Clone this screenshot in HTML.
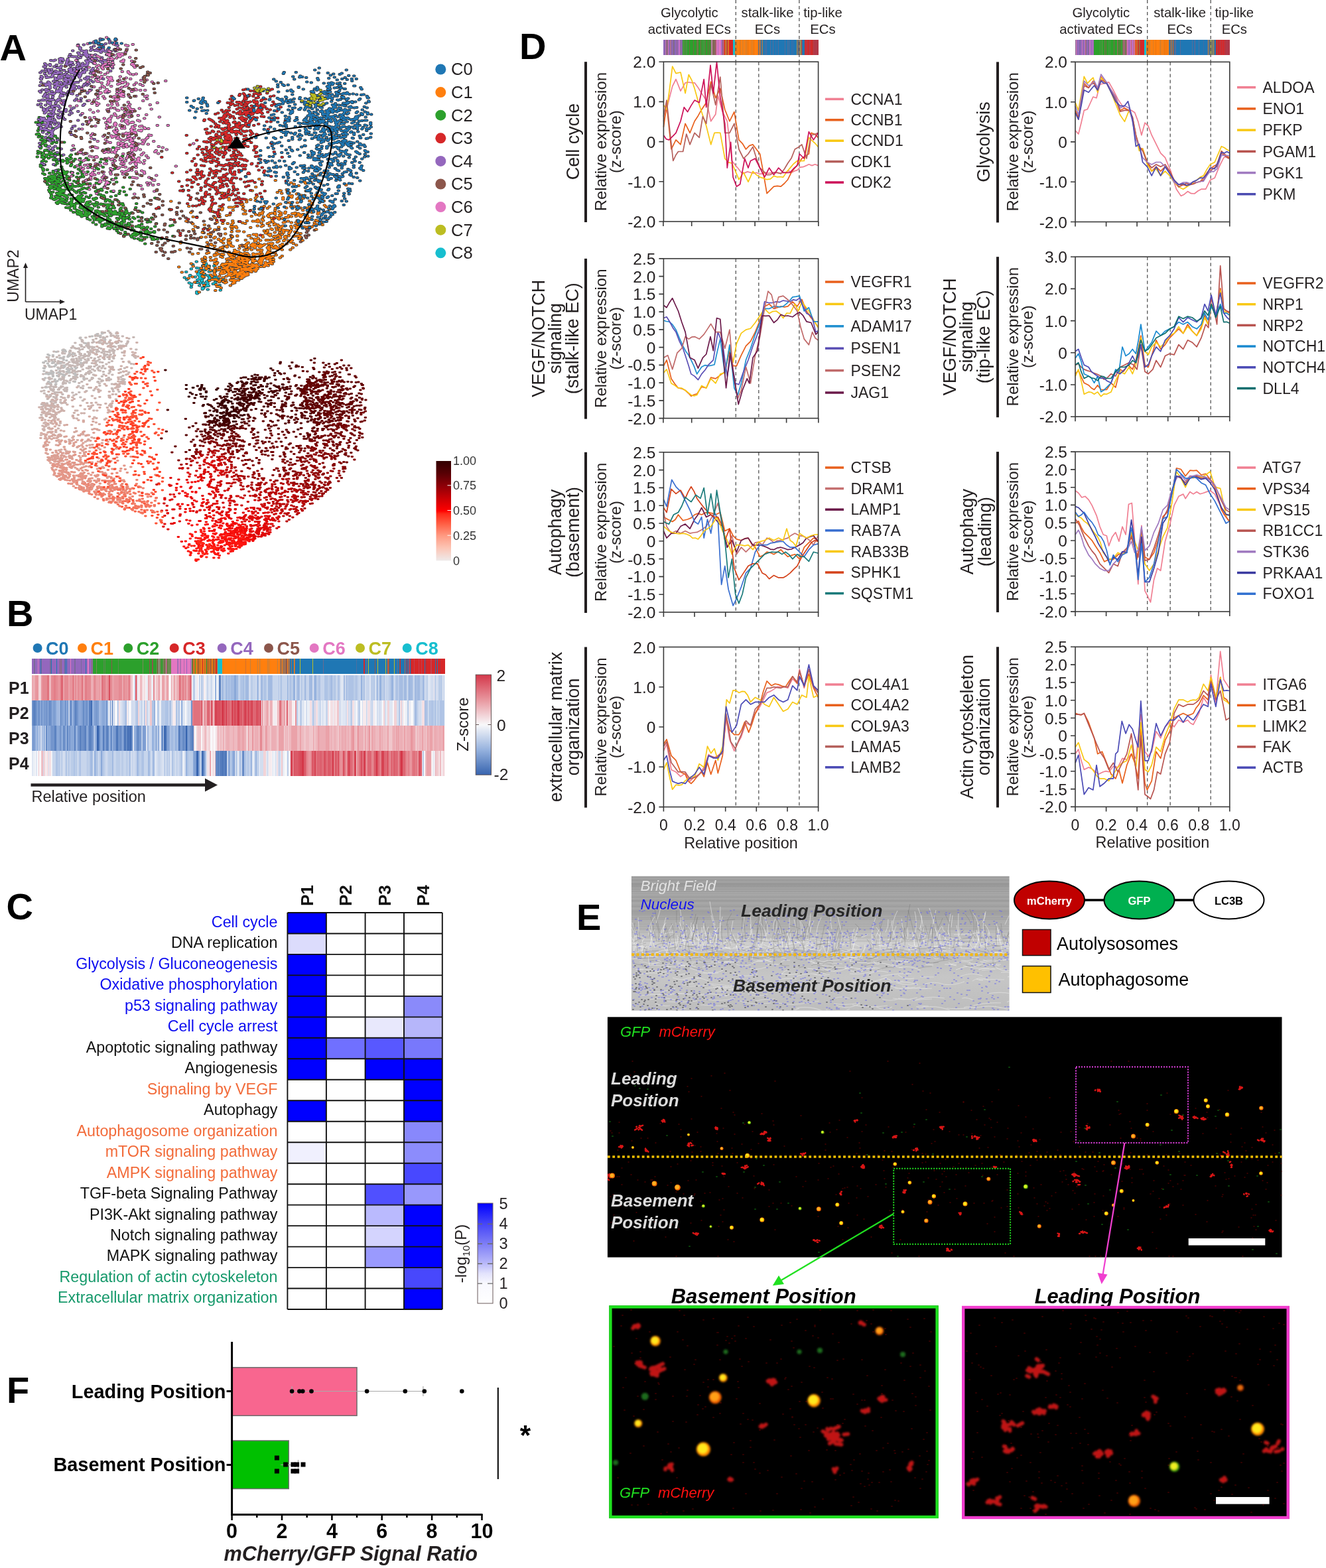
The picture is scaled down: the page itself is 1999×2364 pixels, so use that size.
<!DOCTYPE html>
<html><head><meta charset="utf-8"><title>Figure</title>
<style>html,body{margin:0;padding:0;background:#fff;}svg{display:block;}</style></head>
<body><svg width="1999" height="2364" viewBox="0 0 1999 2364" font-family="'Liberation Sans', Arial, Helvetica, sans-serif" fill="#231f20">
<text x="-0.5" y="90.7" font-size="56" font-weight="bold" fill="#000">A</text>
<defs><path id="q2" d="M342 499h3M224 622h3M512 681h3M368 471h3M188 600h3M353 674h3M188 574h3M466 597h3M280 657h3M379 588h3M262 659h3M244 641h3M157 545h3M174 585h3M244 649h3M240 648h3M178 562h3M222 598h3M245 648h3M485 720h3M260 613h3M183 532h3M138 467h3M277 629h3M404 659h3M351 658h3M151 568h3M267 633h3M201 518h3M397 687h3M261 652h3M243 489h3M159 600h3M152 562h3M303 646h3M243 561h3M179 563h3M389 677h3M115 413h3M313 564h3M321 677h3M322 640h3M438 704h3M130 391h3M345 642h3M201 492h3M201 595h3M317 607h3M207 573h3M111 473h3M348 641h3M279 671h3M351 603h3M241 582h3M125 370h3M288 677h3M181 550h3M381 656h3M374 650h3M180 604h3M358 584h3M171 417h3M192 573h3M452 669h3M216 556h3M259 555h3M169 430h3M146 399h3M284 647h3M287 654h3M157 552h3M358 681h3M431 685h3M184 536h3M340 578h3M162 542h3M212 617h3M188 599h3M380 636h3M156 546h3M426 725h3M220 640h3M138 550h3M289 552h3M322 617h3M177 581h3M455 715h3M142 556h3M259 631h3M323 660h3M351 696h3M396 715h3M385 680h3M209 569h3M408 626h3M233 646h3M267 617h3M171 549h3M300 670h3M221 616h3M404 719h3M212 588h3M389 645h3M249 556h3M201 532h3M463 722h3M201 531h3M220 562h3M185 586h3M174 550h3M417 680h3M338 609h3M201 559h3M179 610h3M185 610h3M261 569h3M242 619h3M224 617h3M229 581h3M156 544h3M178 584h3M174 608h3M308 591h3M367 645h3M159 453h3M127 508h3M165 467h3M325 555h3M291 655h3M259 593h3M386 673h3M270 555h3M373 578h3M333 593h3M196 562h3M238 556h3M200 536h3M150 560h3M155 433h3M364 690h3M470 674h3M387 653h3M389 661h3M181 577h3M200 485h3M228 464h3M329 550h3M287 642h3M140 452h3M164 542h3M260 543h3M236 591h3M192 545h3M263 616h3M270 663h3M197 591h3M264 620h3M362 653h3M241 602h3M328 617h3M315 680h3M192 590h3M133 423h3M441 688h3M250 600h3M135 428h3M169 487h3M213 467h3M249 608h3M201 616h3M162 560h3M155 419h3M446 662h3M203 489h3M235 575h3M212 634h3M263 620h3M420 637h3M357 676h3M254 650h3M320 580h3M198 626h3M257 618h3M433 716h3M381 641h3M144 423h3M141 512h3M190 576h3M437 701h3M113 463h3M166 592h3M330 607h3M116 387h3M396 641h3M214 496h3M318 605h3M168 461h3M335 675h3M166 600h3M188 558h3M323 602h3M271 627h3M343 689h3M263 518h3M234 594h3M332 630h3M122 435h3M144 455h3M304 570h3M235 510h3M203 564h3M348 590h3M273 629h3M133 526h3M234 561h3M201 551h3M306 678h3M165 410h3M396 669h3M373 669h3M256 647h3M236 598h3M189 545h3M160 533h3M395 694h3M151 367h3M240 597h3M370 663h3M214 614h3M237 636h3M232 612h3M306 574h3M332 519h3M328 676h3M327 646h3M148 578h3M159 516h3M122 422h3M443 670h3M233 523h3M365 686h3M244 648h3M150 543h3M270 554h3M418 666h3M423 699h3M269 640h3M184 503h3M176 573h3M259 627h3M320 450h3M299 660h3M297 554h3M391 570h3M339 674h3M197 557h3M249 601h3M126 420h3M207 587h3M184 604h3M200 601h3M405 700h3M180 596h3M350 646h3M350 676h3M317 643h3M216 588h3M246 522h3M295 585h3M255 644h3M194 554h3M245 653h3M213 478h3M240 573h3M355 662h3M163 602h3M158 579h3M295 510h3M117 386h3M173 520h3M159 521h3M240 645h3M117 406h3M122 445h3M250 533h3M441 715h3M324 669h3M244 620h3M164 539h3M400 656h3M139 441h3M239 640h3M151 532h3M301 546h3M251 551h3M187 588h3M202 616h3M121 447h3M323 667h3M246 570h3M215 604h3M439 700h3M169 599h3M160 482h3M125 466h3M164 561h3M117 377h3M174 538h3M198 564h3M170 513h3M377 644h3M365 673h3M139 543h3M215 555h3M212 500h3M426 689h3M165 498h3M345 645h3M264 609h3M204 561h3M348 675h3M154 589h3M223 624h3M109 405h3M312 649h3M188 487h3M360 576h3M334 513h3M342 639h3M135 453h3M415 683h3M217 520h3M386 684h3M301 489h3M146 466h3M424 701h3M251 580h3M439 700h3M233 552h3M277 653h3M448 703h3M314 599h3M250 603h3M289 610h3M302 587h3M460 718h3M206 626h3M305 661h3M242 622h3M181 561h3M140 546h3M190 516h3M153 364h3M240 626h3M464 698h3M125 420h3M376 700h3M177 569h3M229 602h3M409 683h3M148 547h3M355 673h3M340 621h3M179 570h3M272 504h3M196 589h3M213 519h3M287 599h3M151 381h3M172 614h3M393 711h3M324 624h3M380 707h3M185 469h3M169 593h3M224 577h3M289 598h3M207 569h3M287 577h3M129 462h3M436 735h3M162 530h3M285 566h3M244 646h3M288 597h3M272 589h3M388 644h3M178 589h3M178 596h3M269 643h3M243 461h3M235 636h3M155 537h3M169 611h3M346 637h3M270 608h3M263 660h3M142 422h3M230 640h3M241 515h3M165 411h3M189 485h3M125 487h3M156 538h3M306 683h3M358 647h3M438 662h3M114 403h3M341 646h3M137 487h3M230 640h3M285 616h3M343 627h3M426 656h3M250 603h3M302 638h3M117 354h3M300 646h3M349 682h3M362 657h3M182 571h3M226 562h3M243 592h3M192 429h3M191 522h3M339 676h3M382 689h3M302 643h3M244 559h3M366 693h3M230 534h3M308 645h3M362 641h3M231 634h3M118 359h3M156 464h3M121 497h3M122 443h3M252 632h3M454 715h3M128 429h3M299 638h3M146 533h3M268 635h3M128 523h3M220 486h3M163 570h3M236 645h3M239 496h3M442 696h3M473 721h3M253 555h3M190 603h3M154 592h3M131 477h3M340 445h3M311 590h3M390 535h3M377 678h3M400 709h3M421 724h3M171 582h3M352 646h3M171 493h3M264 567h3M198 607h3M165 542h3M240 478h3M296 639h3M178 541h3M271 629h3M304 480h3M248 601h3M145 477h3M149 461h3M322 619h3M326 632h3M175 531h3M336 670h3M115 368h3M198 594h3M173 567h3M256 582h3M213 599h3M187 613h3M409 709h3M255 637h3M423 701h3M368 614h3M130 429h3M172 594h3M121 443h3M173 466h3M287 636h3M250 650h3M340 644h3M291 617h3M129 514h3M133 497h3M199 521h3M152 597h3M313 542h3M293 573h3M125 474h3M333 651h3M274 633h3M166 525h3M136 538h3M217 616h3M466 683h3M415 654h3M229 550h3M202 540h3M298 642h3M334 641h3M329 604h3M223 628h3M295 660h3M170 583h3M366 615h3M361 634h3M321 627h3M162 569h3M340 626h3M140 547h3M308 591h3M181 523h3M189 536h3M408 710h3M443 685h3M172 572h3M127 364h3M328 641h3M367 642h3M193 614h3M241 534h3M208 626h3M407 701h3M519 679h3M162 568h3M410 614h3M246 589h3M169 544h3M320 485h3M154 530h3M174 464h3M458 722h3M464 701h3M200 478h3M336 541h3M292 611h3M238 612h3M244 639h3M113 394h3M172 610h3M309 504h3M234 545h3M324 654h3M424 724h3M182 561h3M209 611h3M199 519h3M292 663h3M315 651h3M148 522h3M260 648h3M168 555h3M165 534h3M371 656h3M304 644h3M424 723h3M367 648h3M334 577h3M299 664h3M283 663h3M172 585h3M361 631h3M373 665h3M196 607h3M344 484h3M343 690h3M113 456h3M432 686h3M290 507h3M164 534h3M400 706h3M224 629h3M428 641h3M372 711h3M213 565h3M160 428h3M172 582h3M215 559h3M205 627h3M330 619h3M344 509h3M204 571h3M284 621h3M138 472h3M129 461h3M207 481h3M240 611h3M267 646h3M259 477h3M329 690h3M224 504h3M235 603h3M358 641h3M261 618h3M190 525h3M291 652h3M175 512h3M221 616h3M155 561h3M245 604h3M135 439h3M415 720h3M187 604h3M183 533h3M163 472h3M160 473h3M259 639h3M241 515h3M316 675h3M377 638h3M185 579h3M187 483h3M348 537h3M375 684h3M202 570h3M280 599h3M456 657h3M272 636h3M370 565h3M257 642h3M230 597h3M233 613h3M222 546h3M351 680h3M218 529h3M247 528h3M155 552h3M176 558h3M309 598h3M361 614h3M453 701h3M107 369h3M291 541h3M356 689h3M252 567h3M245 628h3M292 635h3M304 665h3M329 676h3M313 594h3M267 596h3M216 618h3M155 567h3M378 630h3M346 689h3M229 612h3M238 605h3M208 543h3M278 615h3M194 523h3M520 712h3M252 600h3M333 636h3M424 705h3M143 351h3M139 467h3M184 503h3M191 578h3M180 597h3M240 609h3M175 545h3M148 565h3M144 539h3M206 535h3M305 659h3M194 519h3M182 604h3M414 706h3M261 610h3M134 538h3M214 609h3M159 423h3M305 593h3M146 415h3M137 437h3M327 635h3M232 644h3M365 670h3M303 615h3M165 550h3M121 502h3M171 597h3M315 617h3M323 689h3M176 531h3M127 396h3M302 616h3M127 498h3M226 502h3M416 636h3M127 433h3M379 658h3M261 642h3M173 447h3M378 685h3M370 619h3M364 627h3M295 586h3M282 602h3M402 694h3M152 460h3M243 621h3M225 480h3M426 687h3M300 572h3M125 412h3M350 549h3M361 657h3M222 449h3M406 703h3M265 482h3M399 709h3M145 367h3M304 595h3M170 582h3M310 616h3M173 485h3M167 480h3M152 583h3M254 629h3M218 572h3M214 621h3M374 708h3M190 586h3M310 663h3M129 510h3M333 686h3M243 603h3M137 544h3M166 462h3M402 706h3M167 564h3M128 472h3M158 531h3M356 702h3M134 454h3M325 686h3M129 484h3M414 703h3M295 657h3M185 600h3M180 582h3M330 649h3M247 624h3M366 676h3M151 535h3M302 664h3M371 659h3M420 684h3M210 471h3M295 625h3M268 628h3M158 387h3M146 573h3M463 698h3M178 524h3M336 682h3M368 684h3M239 594h3M196 525h3M186 510h3M120 459h3M329 662h3M444 698h3M337 679h3M436 697h3M424 713h3M454 690h3M426 676h3M330 664h3M283 658h3M152 473h3"/><path id="q4" d="M172 204h3M121 389h3M147 324h3M333 155h3M234 159h3M156 320h3M272 152h3M192 310h3M239 143h3M173 352h3M259 159h3M138 383h3M270 166h3M329 123h3M279 247h3M291 182h3M238 165h3M232 206h3M166 214h3M239 205h3M310 238h3M221 221h3M208 346h3M139 292h3M118 275h3M147 441h3M209 208h3M236 261h3M171 384h3M245 167h3M165 367h3M160 496h3M188 289h3M268 184h3M285 129h3M120 365h3M166 368h3M203 279h3M136 271h3M210 229h3M307 199h3M137 215h3M306 181h3M248 191h3M213 267h3M172 249h3M245 274h3M229 171h3M158 423h3M309 193h3M208 240h3M136 258h3M160 183h3M166 311h3M255 157h3M159 301h3M169 304h3M244 221h3M152 182h3M340 195h3M201 287h3M205 241h3M153 371h3M130 253h3M234 248h3M190 467h3M215 267h3M353 137h3M181 338h3M210 164h3M214 406h3M187 260h3M323 153h3M199 247h3M169 196h3M126 271h3M174 319h3M162 201h3M216 170h3M192 212h3M362 164h3M140 404h3M230 225h3M203 178h3M116 304h3M172 221h3M172 239h3M186 233h3M224 249h3M323 279h3M224 380h3M236 265h3M142 233h3M134 192h3M167 310h3M141 328h3M128 361h3M294 274h3M262 304h3M192 316h3M172 422h3M113 316h3M120 219h3M174 219h3M122 384h3M241 226h3M162 367h3M136 209h3M254 237h3M210 215h3M153 402h3M170 251h3M219 381h3M211 187h3M165 470h3M174 277h3M164 320h3M184 234h3M195 223h3M273 143h3M277 222h3M306 174h3M155 413h3M226 171h3M327 160h3M260 197h3M272 242h3M143 299h3M287 180h3M261 171h3M182 210h3M201 195h3M181 180h3M151 395h3M199 263h3M150 383h3M124 362h3M150 356h3M214 257h3M247 217h3M147 364h3M245 196h3M140 377h3M184 263h3M225 269h3M317 132h3M151 335h3M154 209h3M262 281h3M144 442h3M243 265h3M164 375h3M241 145h3M270 271h3M220 171h3M301 117h3M165 441h3M199 193h3M150 411h3M317 182h3M171 204h3M242 305h3M310 148h3M131 201h3M166 240h3M160 335h3M130 328h3M158 291h3M181 247h3M183 251h3M190 226h3M198 198h3M178 178h3M238 221h3M123 230h3M139 276h3M234 136h3M194 360h3M142 290h3M165 235h3M145 209h3M197 243h3M128 301h3M184 280h3M176 258h3M157 405h3M150 309h3M130 291h3M277 211h3M139 390h3M142 233h3M207 239h3M182 286h3M183 268h3M248 199h3M177 377h3M169 319h3M140 392h3M259 250h3M183 219h3M213 217h3M293 153h3M150 218h3M160 245h3M181 236h3M212 191h3M142 308h3M280 129h3M126 361h3M148 250h3M175 371h3M226 214h3M234 191h3M151 220h3M289 237h3M235 211h3M155 364h3M234 135h3M213 207h3M171 222h3M143 374h3M135 202h3M176 356h3M129 376h3M152 302h3M179 189h3M231 288h3M219 269h3M210 246h3M150 378h3M163 220h3M186 178h3M155 402h3M162 343h3M133 341h3M225 227h3M307 188h3M188 344h3M220 238h3M143 253h3M148 257h3M184 261h3M302 144h3M211 397h3M175 299h3M236 190h3M192 250h3M146 362h3M183 382h3M207 210h3M225 259h3M176 481h3M167 261h3M282 139h3M196 236h3M266 232h3M125 302h3M185 349h3M155 276h3M176 205h3M332 166h3M183 199h3M219 195h3M124 358h3M158 446h3M178 378h3M183 449h3M273 213h3M138 365h3M270 167h3M253 219h3M184 262h3M240 148h3M224 303h3M128 399h3M248 375h3M156 348h3M251 135h3M332 214h3M259 239h3M228 248h3M308 150h3M231 200h3M174 273h3M191 257h3M158 347h3M243 297h3M215 453h3M149 194h3M214 220h3M235 220h3M279 206h3M150 383h3M255 163h3M271 181h3M348 136h3M279 262h3M286 165h3M158 225h3M145 360h3M147 221h3M217 283h3M252 162h3M224 214h3M146 214h3M151 300h3M254 196h3M142 256h3M236 196h3M187 314h3M138 253h3M182 275h3M197 243h3M175 381h3M217 233h3M175 321h3M180 247h3M253 314h3M171 460h3M208 252h3M231 184h3M167 386h3M236 228h3M236 159h3M121 237h3M179 300h3M211 199h3M138 196h3M310 182h3M132 387h3M155 396h3M147 451h3M212 213h3M132 331h3M187 177h3M206 275h3M219 237h3M208 208h3M157 300h3M136 414h3M180 354h3M150 198h3M122 355h3M210 336h3M189 182h3M250 259h3M213 212h3M305 203h3M165 181h3M123 322h3M211 212h3M320 165h3M176 217h3M141 381h3M163 281h3M135 392h3M242 242h3M241 174h3M197 196h3M179 267h3M150 311h3M174 301h3M167 514h3M115 360h3M216 245h3M241 228h3M143 363h3M123 239h3M144 370h3M207 241h3M125 492h3M176 230h3M172 217h3M200 218h3M245 153h3M156 325h3M131 496h3M157 339h3M133 222h3M133 287h3M324 149h3M217 257h3M237 389h3M201 183h3M224 211h3M258 154h3M309 153h3M185 353h3M214 329h3M166 265h3M181 270h3M281 191h3M215 341h3M197 333h3M122 248h3M179 259h3M150 315h3M219 251h3M218 153h3M258 206h3M187 305h3M217 231h3M212 272h3M163 263h3M197 330h3M282 214h3M225 221h3M254 214h3M170 257h3M261 187h3M189 304h3M141 255h3M138 377h3M260 211h3M242 347h3M159 391h3M267 252h3M118 442h3M153 409h3M334 199h3M301 185h3M162 319h3M275 186h3M261 257h3M143 293h3M138 301h3M300 154h3M155 215h3M246 273h3M217 217h3M138 269h3M175 334h3M127 390h3M208 192h3M141 333h3M149 262h3M306 152h3M216 188h3M264 236h3M337 182h3M170 273h3M144 311h3M253 254h3M174 204h3M113 376h3M150 312h3M185 338h3M234 336h3M180 291h3M190 280h3M234 363h3M159 392h3M273 271h3M237 164h3M238 233h3M179 326h3M223 236h3M157 283h3M329 129h3M130 333h3M310 136h3M159 284h3M122 389h3M146 356h3M131 361h3M276 149h3M126 233h3M163 361h3M263 191h3M203 182h3M229 298h3M207 170h3M142 329h3M287 176h3M165 222h3M272 242h3M261 194h3M223 213h3M180 220h3M137 228h3M118 375h3M199 230h3M149 359h3M126 214h3M165 368h3M119 258h3M169 276h3M213 282h3M224 269h3M199 196h3M166 387h3M281 175h3M145 233h3M153 232h3M215 388h3M132 375h3M130 302h3M325 195h3M162 254h3M249 318h3M157 229h3M140 366h3M338 205h3M182 176h3M205 232h3M192 241h3M156 399h3M178 228h3M210 217h3M265 177h3M157 293h3M200 240h3M173 304h3M232 191h3M205 230h3M139 234h3M185 189h3M166 252h3M135 283h3M271 172h3M258 198h3M285 152h3M200 188h3M296 134h3M316 155h3M120 219h3M136 317h3M175 234h3M197 336h3M223 236h3M179 185h3M271 221h3M187 288h3M148 344h3M173 345h3M266 184h3M171 247h3M134 365h3M219 262h3M149 283h3M305 138h3M149 266h3M152 396h3M193 282h3M145 394h3M222 235h3M196 253h3M201 254h3M131 356h3M157 451h3M171 256h3M136 256h3M181 274h3M184 229h3M137 336h3M135 362h3M306 119h3M181 204h3M152 382h3M211 248h3M151 310h3M261 164h3M189 355h3M283 420h3M146 344h3M259 153h3M233 176h3M158 354h3M149 425h3M134 340h3M150 253h3M262 167h3M242 203h3M221 325h3M154 282h3M291 149h3M144 420h3M121 278h3M147 283h3M221 263h3M261 232h3M343 150h3M142 307h3M303 158h3M248 209h3M262 190h3M346 154h3M145 273h3M222 206h3M202 227h3M118 432h3M122 313h3M131 329h3M151 348h3M263 279h3M257 167h3M142 288h3M250 154h3M163 328h3M180 236h3M192 303h3M118 378h3M161 331h3M144 247h3M281 190h3M258 183h3"/><path id="q6" d="M272 444h3M352 301h3M451 552h3M231 500h3M392 238h3M361 377h3M301 279h3M377 504h3M347 410h3M334 325h3M216 521h3M460 543h3M402 478h3M335 309h3M358 419h3M417 476h3M335 383h3M326 477h3M396 450h3M294 297h3M338 188h3M356 448h3M350 302h3M454 408h3M409 250h3M349 388h3M268 365h3M351 152h3M298 550h3M288 240h3M319 201h3M269 274h3M442 551h3M440 346h3M328 276h3M462 426h3M236 304h3M464 543h3M336 165h3M429 258h3M289 283h3M411 537h3M346 292h3M345 485h3M325 200h3M315 194h3M399 401h3M394 468h3M396 513h3M319 494h3M283 301h3M388 290h3M370 464h3M385 473h3M278 403h3M367 488h3M257 544h3M359 252h3M346 371h3M346 400h3M351 283h3M366 162h3M210 320h3M334 482h3M381 443h3M304 232h3M404 536h3M381 370h3M385 216h3M317 557h3M396 393h3M426 380h3M329 241h3M293 232h3M349 454h3M300 282h3M360 267h3M351 446h3M414 363h3M294 335h3M382 420h3M329 358h3M436 388h3M380 477h3M395 469h3M329 163h3M323 255h3M342 166h3M311 519h3M361 168h3M582 433h3M264 506h3M305 250h3M501 451h3M469 454h3M358 162h3M259 526h3M396 276h3M384 470h3M245 268h3M365 290h3M386 403h3M334 236h3M321 270h3M358 505h3M325 185h3M376 247h3M242 456h3M322 331h3M406 398h3M250 485h3M464 577h3M287 494h3M409 223h3M312 530h3M354 254h3M399 134h3M305 230h3M360 284h3M398 423h3M351 311h3M466 458h3M398 382h3M366 274h3M389 509h3M331 430h3M379 401h3M312 530h3M473 378h3M256 482h3M290 201h3M373 519h3M397 488h3M407 493h3M326 250h3M418 488h3M389 409h3M409 497h3M476 556h3M296 129h3M473 310h3M385 308h3M242 503h3M272 535h3M432 493h3M356 333h3M310 452h3M340 498h3M295 146h3M327 154h3M340 195h3M394 370h3M339 492h3M384 412h3M377 367h3M359 241h3M404 585h3M333 233h3M347 300h3M331 519h3M337 243h3M346 461h3M394 330h3M298 172h3M431 234h3M289 472h3M296 313h3M263 497h3M327 236h3M307 259h3M284 443h3M267 203h3M415 484h3M280 221h3M302 549h3M358 168h3M389 460h3M317 421h3M366 284h3M436 422h3M422 272h3M427 433h3M399 398h3M322 163h3M334 260h3M371 291h3M336 201h3M426 466h3M230 215h3M413 487h3M376 260h3M477 442h3M350 175h3M397 453h3M307 203h3M398 535h3M333 525h3M397 403h3M393 417h3M431 461h3M299 146h3M310 521h3M282 219h3M448 535h3M346 374h3M310 291h3M434 385h3M277 473h3M375 349h3M441 417h3M389 324h3M366 387h3M405 452h3M415 348h3M361 231h3M416 480h3M354 145h3M342 395h3M362 275h3M378 438h3M430 434h3M380 435h3M221 451h3M306 202h3M424 395h3M351 417h3M337 414h3M251 465h3M283 354h3M384 138h3M292 169h3M301 499h3M326 337h3M284 228h3M394 468h3M326 459h3M394 390h3M434 484h3M254 498h3M364 494h3M380 363h3M377 485h3M314 565h3M455 329h3M389 418h3M353 317h3M322 428h3M379 235h3M328 359h3M371 284h3M361 482h3M421 489h3M410 487h3M446 388h3M357 289h3M370 432h3M277 521h3M247 342h3M314 297h3M287 496h3M277 506h3M348 374h3M367 326h3M425 392h3M334 482h3M430 304h3M364 422h3M263 247h3M367 248h3M403 415h3M397 430h3M403 256h3M341 133h3M381 258h3M399 463h3M404 388h3M408 496h3M406 378h3M246 511h3M391 223h3M355 413h3M316 275h3M317 192h3M325 552h3M405 268h3M379 516h3M441 241h3M489 445h3M394 270h3M366 365h3M460 558h3M330 368h3M270 538h3M445 476h3M250 508h3M408 446h3M361 379h3M442 298h3M340 542h3M408 453h3M276 177h3M396 442h3M309 208h3M371 163h3M440 470h3M334 237h3M396 395h3M334 482h3M339 293h3M323 381h3M426 515h3M313 263h3M356 299h3M433 428h3M384 253h3M288 445h3M285 192h3M385 320h3M328 192h3M336 243h3M293 209h3M344 375h3M260 463h3M291 245h3M391 492h3M304 179h3M421 254h3M350 402h3M409 518h3M384 374h3M210 556h3M363 431h3M346 128h3M269 355h3M321 378h3M269 471h3M331 451h3M320 535h3M339 178h3M396 455h3M282 126h3M282 262h3M296 522h3M325 330h3M288 472h3M316 478h3M280 339h3M305 203h3M316 278h3M386 219h3M479 353h3M366 517h3M445 558h3M434 523h3M382 442h3M400 474h3M354 163h3M396 404h3M374 387h3M424 242h3M324 363h3M366 437h3M401 198h3M344 326h3M396 194h3M318 370h3M342 411h3M284 527h3M323 219h3M390 353h3M390 328h3M417 393h3M320 552h3M278 522h3M404 430h3M398 336h3M434 357h3M287 475h3M352 332h3M291 318h3M371 444h3M411 445h3M363 440h3M383 345h3M236 459h3M283 189h3M295 246h3M323 233h3M313 543h3M386 514h3M320 113h3M272 526h3M451 316h3M436 272h3M352 394h3M310 411h3M529 501h3M334 409h3M333 180h3M347 348h3M375 423h3M230 319h3M420 381h3M301 237h3M301 545h3M360 171h3M367 216h3M457 247h3M355 431h3M348 451h3M303 280h3M386 337h3M425 467h3M346 398h3M401 273h3M293 289h3M283 514h3M296 197h3M405 203h3M291 474h3M330 364h3M343 291h3M398 432h3M373 381h3M273 408h3M476 463h3M394 441h3M388 343h3M377 157h3M355 436h3M318 457h3M383 364h3M408 403h3M320 387h3M442 289h3M334 235h3M272 541h3M336 459h3M324 450h3M381 148h3M332 356h3M375 338h3M414 479h3M286 380h3M276 167h3M309 197h3M263 132h3M421 528h3M183 310h3M416 434h3M325 246h3M366 263h3M276 312h3M238 482h3M315 224h3M292 446h3M355 169h3M445 435h3M372 494h3M352 469h3M421 451h3M246 389h3M410 271h3M314 493h3M409 438h3M302 219h3M428 423h3M395 351h3M369 348h3M352 275h3M505 378h3M400 225h3M419 365h3M395 400h3M363 286h3M427 570h3M344 343h3M337 512h3M354 508h3M408 493h3M301 266h3M362 475h3M398 386h3M233 138h3M321 548h3M388 353h3M370 186h3M395 438h3M390 315h3M444 414h3M253 464h3M214 531h3M277 232h3M409 450h3M368 250h3M307 535h3M313 357h3M436 291h3M401 330h3M228 182h3M396 184h3M419 327h3M289 309h3M328 168h3M346 148h3M268 571h3M392 441h3M367 479h3M270 331h3M399 441h3M332 238h3M327 359h3M378 136h3M334 174h3M371 181h3M423 560h3M498 244h3M390 173h3M369 360h3M368 166h3M448 407h3M464 544h3M341 576h3M219 439h3M369 404h3M391 426h3M369 525h3M377 404h3M361 351h3M369 502h3M274 417h3M470 529h3M380 527h3M292 495h3M331 156h3M397 398h3M313 460h3M290 311h3M408 290h3M269 560h3M409 505h3M349 298h3M242 460h3M325 334h3M364 379h3M404 197h3M398 368h3M400 369h3M293 426h3M276 528h3M394 342h3M364 185h3M349 120h3M344 457h3M367 281h3M283 559h3M335 350h3M401 487h3M262 542h3M368 329h3M332 508h3M433 518h3M390 401h3M266 370h3M290 584h3M336 315h3M251 519h3M324 317h3M354 355h3M284 227h3M267 303h3M346 379h3M320 274h3M338 479h3M399 192h3M325 178h3M395 422h3"/><path id="q5" d="M469 760h3M287 214h3M317 536h3M560 711h3M467 653h3M285 226h3M429 284h3M482 749h3M285 183h3M444 217h3M578 637h3M245 276h3M397 681h3M376 327h3M641 699h3M385 706h3M480 586h3M282 483h3M586 705h3M488 648h3M243 453h3M603 641h3M405 595h3M425 658h3M923 701h3M266 541h3M403 467h3M277 442h3M505 725h3M477 693h3M228 412h3M524 713h3M357 618h3M568 698h3M399 643h3M214 489h3M652 693h3M417 417h3M356 618h3M285 501h3M409 151h3M434 248h3M453 616h3M432 587h3M664 706h3M292 273h3M658 692h3M496 675h3M357 405h3M325 449h3M432 693h3M443 613h3M435 230h3M451 220h3M291 654h3M478 628h3M591 599h3M905 729h3M475 730h3M376 163h3M574 718h3M347 150h3M296 576h3M628 681h3M332 291h3M244 418h3M526 670h3M285 538h3M613 702h3M346 602h3M643 652h3M648 674h3M595 686h3M454 604h3M342 555h3M396 557h3M234 552h3M128 257h3M280 307h3M695 710h3M324 335h3M595 719h3M392 294h3M501 716h3M521 742h3M551 651h3M337 164h3M395 508h3M307 518h3M351 469h3M275 381h3M415 597h3M459 661h3M648 732h3M929 709h3M355 292h3M385 686h3M382 525h3M633 714h3M235 539h3M465 280h3M604 716h3M907 717h3M273 362h3M565 669h3M491 770h3M633 660h3M342 497h3M452 506h3M563 748h3M433 235h3M372 346h3M415 558h3M431 622h3M369 354h3M472 572h3M506 780h3M510 631h3M323 568h3M361 149h3M574 750h3M576 671h3M574 710h3M370 195h3M434 721h3M455 538h3M367 379h3M381 526h3M433 239h3M433 593h3M489 619h3M396 481h3M493 693h3M485 749h3M246 451h3M947 694h3M284 406h3M348 502h3M559 657h3M637 662h3M227 395h3M489 739h3M412 198h3M731 743h3M489 607h3M342 305h3M456 734h3M610 699h3M475 250h3M406 632h3M602 751h3M487 757h3M452 604h3M429 201h3M520 760h3M295 217h3M411 437h3M134 547h3M405 335h3M442 661h3M371 276h3M422 204h3M400 548h3M400 597h3M370 352h3M426 667h3M390 473h3M379 331h3M544 729h3M503 700h3M373 685h3M374 535h3M308 455h3M728 739h3M259 366h3M616 688h3M262 375h3M292 497h3M445 227h3M324 208h3M414 636h3M505 726h3M469 675h3M584 718h3M281 565h3M932 688h3M294 370h3M362 704h3M583 697h3M256 462h3M431 622h3M350 669h3M305 596h3M923 691h3M347 527h3M486 456h3M698 715h3M460 661h3M337 615h3M626 691h3M386 285h3M270 428h3M262 401h3M319 636h3M385 462h3M207 538h3M380 152h3M532 647h3M408 432h3M211 366h3M472 740h3M314 407h3M624 755h3M353 527h3M372 238h3M255 354h3M559 722h3M909 725h3M411 524h3M323 414h3M274 260h3M570 760h3M315 432h3M471 575h3M326 402h3M613 667h3M296 362h3M533 626h3M399 270h3M443 224h3M926 693h3M634 702h3M531 640h3M289 360h3M658 705h3M546 637h3M473 598h3M404 290h3M288 284h3M496 761h3M463 268h3M516 760h3M594 583h3M391 338h3M308 638h3M314 481h3M271 496h3M594 723h3M719 668h3M927 695h3M363 207h3M541 659h3M592 654h3M922 715h3M332 305h3M409 408h3M373 317h3M526 758h3M673 743h3M348 474h3M551 573h3M496 733h3M387 266h3M462 646h3M634 725h3M223 408h3M262 554h3M536 697h3M370 411h3M922 717h3M255 292h3M352 269h3M408 176h3M484 754h3M220 275h3M210 400h3M372 713h3M919 711h3M396 403h3M369 408h3M185 429h3M537 695h3M436 243h3M232 464h3M663 711h3M311 621h3M396 350h3M366 636h3M539 612h3M254 274h3M376 627h3M415 638h3M276 455h3M354 244h3M250 548h3M328 384h3M471 599h3M239 283h3M399 504h3M404 186h3M311 599h3M243 414h3M478 601h3M513 662h3M495 679h3M550 695h3M606 751h3M462 252h3M627 737h3M356 608h3M426 530h3M195 200h3"/><path id="q8" d="M572 830h3M607 847h3M624 859h3M656 847h3M555 837h3M599 830h3M651 838h3M617 814h3M587 835h3M612 853h3M613 837h3M630 842h3M603 853h3M595 826h3M560 820h3M632 838h3M609 839h3M644 802h3M630 837h3M575 866h3M606 825h3M592 884h3M622 849h3M669 842h3M600 841h3M605 810h3M648 818h3M660 850h3M614 829h3M616 827h3M609 868h3M597 828h3M636 817h3M629 819h3M628 808h3M659 842h3M625 873h3M600 861h3M592 880h3M648 847h3M576 859h3M647 853h3M610 801h3M593 885h3M601 837h3M580 798h3M632 835h3M601 841h3M643 837h3M628 844h3M612 869h3M612 854h3M562 843h3M599 809h3M596 828h3M614 858h3M619 863h3M594 852h3M671 823h3M611 815h3M625 854h3M599 818h3M609 872h3M599 824h3M661 860h3M627 862h3M599 821h3M648 832h3M672 850h3M625 831h3M673 822h3M569 853h3M601 820h3M571 831h3M594 844h3M601 835h3M662 806h3M615 861h3M592 808h3M606 847h3M601 830h3M575 811h3M663 875h3M629 802h3M591 789h3M620 799h3M607 847h3M641 856h3M608 845h3M576 856h3M590 852h3M607 838h3M620 795h3M656 843h3"/><path id="q1" d="M843 777h3M700 785h3M805 774h3M765 641h3M835 730h3M811 623h3M951 664h3M656 755h3M721 826h3M664 726h3M877 671h3M895 584h3M658 685h3M786 643h3M875 730h3M743 777h3M635 625h3M579 766h3M581 803h3M902 672h3M846 685h3M714 810h3M794 804h3M960 591h3M637 739h3M738 815h3M816 690h3M722 741h3M760 738h3M886 643h3M695 625h3M939 615h3M856 681h3M747 815h3M541 753h3M860 656h3M689 625h3M881 747h3M698 815h3M894 600h3M975 606h3M781 744h3M586 851h3M774 766h3M937 637h3M900 711h3M669 582h3M619 715h3M901 647h3M616 775h3M691 796h3M809 743h3M828 634h3M807 735h3M850 736h3M877 653h3M827 641h3M799 791h3M645 819h3M840 638h3M728 797h3M703 762h3M672 837h3M813 785h3M754 602h3M788 556h3M772 804h3M760 788h3M761 798h3M560 667h3M681 851h3M728 812h3M678 807h3M740 746h3M714 836h3M821 774h3M695 794h3M701 743h3M764 803h3M814 783h3M901 719h3M745 787h3M908 669h3M905 653h3M736 826h3M861 694h3M726 797h3M685 817h3M771 722h3M779 667h3M739 724h3M734 771h3M698 691h3M622 743h3M921 576h3M716 829h3M816 724h3M822 670h3M575 795h3M791 639h3M883 713h3M713 802h3M683 742h3M786 760h3M674 664h3M840 616h3M863 735h3M543 733h3M728 834h3M939 684h3M770 707h3M653 670h3M878 687h3M931 617h3M772 711h3M854 701h3M809 654h3M723 838h3M738 829h3M732 623h3M790 710h3M735 754h3M874 753h3M699 811h3M751 807h3M645 771h3M823 789h3M727 822h3M851 681h3M863 572h3M875 592h3M810 768h3M757 806h3M611 835h3M635 736h3M730 766h3M818 643h3M680 808h3M795 622h3M824 656h3M720 828h3M661 622h3M718 826h3M789 783h3M887 645h3M741 812h3M815 794h3M709 810h3M927 641h3M771 814h3M587 683h3M786 796h3M762 743h3M780 649h3M672 733h3M800 703h3M710 820h3M811 752h3M901 668h3M992 631h3M891 652h3M831 687h3M646 693h3M829 628h3M719 773h3M706 769h3M786 744h3M839 727h3M919 656h3M780 630h3M732 792h3M614 860h3M581 654h3M701 672h3M700 845h3M742 812h3M725 829h3M937 627h3M671 849h3M917 589h3M777 719h3M906 681h3M879 725h3M870 704h3M866 695h3M726 839h3M694 798h3M704 848h3M852 601h3M786 783h3M782 643h3M814 793h3M723 807h3M857 670h3M749 776h3M709 785h3M819 692h3M785 787h3M735 799h3M892 688h3M644 750h3M662 813h3M701 634h3M780 540h3M710 846h3M704 836h3M773 592h3M905 704h3M900 720h3M790 631h3M820 665h3M809 748h3M742 794h3M940 612h3M897 622h3M906 605h3M704 791h3M695 831h3M718 759h3M614 794h3M654 752h3M767 727h3M674 719h3M653 845h3M645 825h3M659 864h3M633 776h3M769 667h3M659 850h3M849 707h3M820 789h3M730 788h3M776 803h3M670 674h3M787 625h3M730 615h3M638 843h3M814 782h3M670 796h3M609 833h3M650 769h3M896 684h3M853 671h3M688 735h3M794 775h3M640 638h3M666 821h3M667 767h3M739 645h3M876 623h3M605 822h3M734 810h3M846 745h3M849 753h3M871 591h3M622 764h3M767 743h3M757 652h3M876 682h3M960 640h3M819 665h3M792 680h3M689 779h3M767 800h3M831 769h3M932 606h3M733 812h3M803 799h3M902 649h3M703 852h3M770 726h3M861 718h3M766 721h3M853 694h3M707 788h3M849 772h3M808 648h3M820 734h3M689 760h3M725 773h3M782 754h3M692 830h3M628 762h3M681 742h3M755 813h3M706 822h3M832 712h3M879 590h3M660 806h3M825 678h3M763 738h3M711 784h3M647 715h3M829 742h3M512 633h3M876 551h3M878 595h3M775 681h3M839 656h3M835 580h3M791 780h3M952 692h3M746 799h3M697 768h3M708 800h3M714 711h3M734 699h3M689 826h3M668 633h3M692 799h3M628 806h3M677 690h3M647 843h3M514 607h3M724 820h3M612 802h3M822 773h3M666 728h3M725 814h3M753 817h3M760 781h3M957 645h3M950 532h3M803 781h3M744 764h3M917 684h3M794 777h3M719 697h3M606 715h3M958 639h3M712 785h3M844 718h3M721 804h3M828 646h3M814 706h3M924 627h3M728 777h3M844 615h3M741 802h3M714 825h3M679 810h3M784 778h3M703 799h3M693 844h3M849 707h3M903 647h3M940 533h3M681 794h3M817 738h3M733 645h3M618 778h3M824 714h3M696 846h3M682 781h3M805 780h3M680 797h3M823 782h3M698 837h3M664 842h3M677 822h3M744 823h3M751 800h3M687 819h3M728 823h3M627 706h3M783 745h3M895 665h3M789 661h3M667 756h3M799 702h3M805 674h3M633 815h3M714 712h3M574 641h3M747 798h3M693 721h3M742 785h3M695 684h3M806 651h3M840 682h3M681 833h3M740 808h3M913 646h3M750 800h3M615 678h3M965 553h3M803 767h3M683 810h3M705 821h3M634 785h3M811 771h3M763 789h3M818 744h3M648 876h3M711 761h3M756 739h3M605 809h3M704 776h3M744 753h3M567 839h3M868 726h3M683 806h3M714 833h3M765 778h3M690 799h3M808 794h3M888 680h3M951 588h3M842 695h3M907 649h3M736 785h3M634 829h3M863 611h3M920 671h3M780 765h3M765 800h3M805 628h3M728 810h3M751 710h3M694 784h3M788 754h3M699 844h3M749 783h3M788 787h3M852 596h3M676 759h3M647 657h3M706 825h3M704 852h3M842 702h3M932 623h3M693 861h3M704 827h3M618 786h3M917 548h3M729 829h3M644 718h3M982 624h3M762 765h3M721 821h3M731 818h3M985 661h3M944 598h3M712 758h3M888 699h3M696 742h3M860 712h3M778 741h3M718 806h3M862 627h3M811 671h3M669 629h3M709 622h3M687 730h3M741 742h3M717 790h3M851 693h3M801 774h3M747 732h3M867 655h3M949 677h3M646 794h3M872 611h3M920 553h3M689 814h3M733 835h3M608 781h3M842 574h3M815 776h3M808 751h3M697 699h3M698 815h3M725 764h3M591 819h3M679 844h3M669 817h3M710 683h3M732 833h3M778 789h3M655 814h3M750 747h3M769 767h3M782 744h3M735 778h3M682 813h3M725 838h3M740 831h3M710 797h3M738 674h3M782 794h3M701 788h3M869 711h3M706 845h3M714 697h3M703 787h3M663 747h3M761 814h3M1042 558h3M828 762h3M854 726h3M738 771h3M895 712h3M723 804h3M720 749h3M700 666h3M824 762h3M792 665h3M767 736h3M846 648h3M649 785h3M742 828h3M712 687h3M645 814h3M581 692h3M759 780h3M833 746h3M706 853h3M783 787h3M696 776h3M936 549h3M926 664h3M810 761h3M843 650h3M935 685h3M708 759h3M686 803h3M609 818h3M769 605h3M805 766h3M651 762h3M825 712h3M850 738h3M898 649h3M845 575h3M757 753h3M653 864h3M661 654h3M705 818h3M685 674h3M704 801h3M775 810h3M838 751h3M835 620h3M767 748h3M730 832h3M940 617h3M830 655h3M842 690h3M714 778h3M924 655h3M690 794h3M737 763h3M885 555h3M724 765h3M759 806h3M761 735h3M801 724h3M665 868h3M741 777h3M708 802h3M892 739h3M609 788h3M744 734h3M967 671h3M838 750h3M756 718h3M805 699h3M689 723h3M682 650h3M663 825h3M697 774h3M771 809h3M789 645h3M703 625h3M669 627h3M784 738h3M957 666h3M947 671h3M685 806h3M650 781h3M808 707h3M675 817h3M737 792h3M699 795h3M934 661h3M891 671h3M700 809h3M731 831h3M1018 564h3M829 746h3M625 743h3M757 740h3M761 785h3M833 693h3M976 520h3M953 677h3M767 786h3M730 672h3M696 824h3M703 766h3M672 768h3M952 567h3M732 791h3M626 802h3M672 804h3M711 791h3M648 807h3M745 826h3M716 831h3M895 702h3M671 837h3M678 705h3M827 701h3M580 675h3M732 771h3M823 748h3M828 722h3M922 657h3M904 714h3M689 764h3M856 724h3M796 803h3M729 780h3M911 725h3M693 800h3M769 818h3M754 634h3M729 785h3M838 709h3M791 715h3M707 793h3M786 789h3M705 791h3M895 611h3M776 754h3M894 683h3M753 810h3M746 829h3M794 804h3M887 623h3M843 713h3M727 837h3M673 810h3M812 734h3M813 711h3M699 801h3M707 825h3M735 785h3M635 707h3M805 763h3M742 603h3M777 733h3M773 803h3M706 821h3M691 648h3M714 725h3M805 747h3M731 631h3M673 798h3M682 805h3M805 694h3M657 722h3M810 777h3M796 737h3M832 749h3M796 799h3M853 699h3M719 778h3M538 805h3M931 683h3M673 824h3M743 792h3M651 797h3M836 678h3M775 804h3M695 809h3M880 644h3M925 650h3M599 881h3M736 775h3M842 648h3M690 767h3M761 667h3M722 825h3M684 788h3M924 685h3M758 802h3M746 823h3M719 783h3M829 544h3M668 766h3M645 843h3M693 731h3M758 796h3M670 752h3M990 540h3M784 725h3M692 770h3M795 696h3M700 855h3M669 776h3M660 646h3M579 835h3M766 813h3M689 598h3M964 590h3M706 754h3M815 762h3M749 769h3M708 817h3M696 767h3M613 835h3M971 678h3M738 636h3M931 658h3M859 639h3M939 641h3M953 516h3M668 825h3M745 829h3M697 677h3M959 527h3M547 821h3M894 632h3M669 745h3M837 658h3M757 820h3M848 583h3M688 795h3M902 597h3M677 853h3M654 792h3M678 796h3M596 764h3M787 792h3M743 666h3M905 627h3M946 678h3M865 579h3M725 786h3M772 798h3M893 585h3M770 647h3M771 741h3M744 827h3M728 778h3M718 845h3M645 768h3M698 830h3M876 726h3M691 826h3M689 603h3M745 815h3M788 776h3M913 598h3M899 596h3M658 721h3M858 643h3M688 821h3M813 787h3M772 801h3M650 858h3M686 813h3M661 756h3M908 589h3M667 800h3M643 785h3M726 617h3M744 815h3M649 842h3M657 766h3M976 639h3M606 809h3M768 786h3M889 642h3M867 667h3M688 830h3M850 659h3M721 797h3M664 774h3M700 844h3M898 644h3M710 803h3M789 766h3M669 628h3M869 650h3M812 754h3M769 597h3M785 804h3M876 695h3M647 829h3M759 743h3M776 663h3M660 833h3M791 740h3M657 814h3M638 834h3M784 771h3M763 798h3M736 740h3M742 736h3M770 564h3M620 808h3M747 810h3M807 801h3M742 609h3M713 761h3M759 575h3M787 673h3M899 560h3M793 654h3M702 684h3M883 734h3M787 683h3M740 772h3M794 804h3M704 828h3M661 847h3M897 676h3M781 784h3M765 768h3M843 740h3M721 791h3M846 642h3M732 812h3M739 811h3M699 713h3M813 644h3M818 723h3M621 811h3M714 832h3M734 804h3M886 712h3M630 846h3M715 828h3M707 847h3M814 782h3M692 800h3M631 689h3M613 825h3M811 681h3M706 821h3M873 700h3M743 780h3M694 738h3M977 619h3M762 769h3M807 724h3M836 719h3M735 823h3M857 715h3M646 742h3M754 686h3M568 622h3M609 701h3M902 683h3M785 743h3M763 707h3M700 778h3M808 747h3M672 722h3M747 711h3M776 669h3M687 763h3M687 723h3M819 796h3M623 731h3M807 759h3M727 840h3M828 675h3M772 707h3M818 658h3M800 795h3M912 634h3M840 661h3M871 582h3M683 745h3"/><path id="q3" d="M693 505h3M845 323h3M642 397h3M618 583h3M751 369h3M626 557h3M783 336h3M678 386h3M599 618h3M694 521h3M737 510h3M687 389h3M746 341h3M720 308h3M732 305h3M577 564h3M718 490h3M750 289h3M664 541h3M648 613h3M622 389h3M700 313h3M778 492h3M681 428h3M585 536h3M765 308h3M643 437h3M641 564h3M617 593h3M620 487h3M730 435h3M643 421h3M768 446h3M571 437h3M703 567h3M715 317h3M731 395h3M712 492h3M781 332h3M728 480h3M674 401h3M645 474h3M767 550h3M714 622h3M704 500h3M648 550h3M760 338h3M711 406h3M672 474h3M599 442h3M724 540h3M667 535h3M746 547h3M592 656h3M562 462h3M772 587h3M637 515h3M648 415h3M674 362h3M637 605h3M732 271h3M664 430h3M772 316h3M721 310h3M632 467h3M714 468h3M706 518h3M684 364h3M760 345h3M783 325h3M692 354h3M674 545h3M718 426h3M665 434h3M742 317h3M677 414h3M769 472h3M744 424h3M750 287h3M719 513h3M620 450h3M727 357h3M695 588h3M705 357h3M791 628h3M651 523h3M756 333h3M675 347h3M660 467h3M605 481h3M678 511h3M734 584h3M701 536h3M618 550h3M703 369h3M679 461h3M702 575h3M633 560h3M612 485h3M676 583h3M686 427h3M594 511h3M671 443h3M605 522h3M708 473h3M705 523h3M590 541h3M812 272h3M708 483h3M701 480h3M648 373h3M731 364h3M678 407h3M781 277h3M710 431h3M632 428h3M827 355h3M678 398h3M824 289h3M786 339h3M819 269h3M685 310h3M813 331h3M636 562h3M765 283h3M630 461h3M778 286h3M721 356h3M764 354h3M689 324h3M740 563h3M650 432h3M592 423h3M699 444h3M574 595h3M742 395h3M591 520h3M654 378h3M708 491h3M653 419h3M645 550h3M700 584h3M523 663h3M745 324h3M735 357h3M757 416h3M758 330h3M818 318h3M751 335h3M698 494h3M609 460h3M744 342h3M723 340h3M624 456h3M631 571h3M610 533h3M714 435h3M606 499h3M654 579h3M697 395h3M590 621h3M741 372h3M589 495h3M738 501h3M578 551h3M655 449h3M700 536h3M619 553h3M651 408h3M767 338h3M749 372h3M667 332h3M789 505h3M605 566h3M693 642h3M666 664h3M578 486h3M729 359h3M723 600h3M728 326h3M646 640h3M687 380h3M689 388h3M631 455h3M655 647h3M637 619h3M712 572h3M737 336h3M720 371h3M584 478h3M788 301h3M733 340h3M629 528h3M749 308h3M794 352h3M736 299h3M682 448h3M722 515h3M660 306h3M695 551h3M713 308h3M542 703h3M697 290h3M699 399h3M668 388h3M660 547h3M648 383h3M787 351h3M771 318h3M607 451h3M754 274h3M564 542h3M701 351h3M771 461h3M638 594h3M737 601h3M707 318h3M671 667h3M678 535h3M614 500h3M806 338h3M657 397h3M753 347h3M737 313h3M753 546h3M724 389h3M637 490h3M780 324h3M731 600h3M703 458h3M746 291h3M718 385h3M706 527h3M638 444h3M717 458h3M618 586h3M635 381h3M651 405h3M658 411h3M688 383h3M861 546h3M667 498h3M710 452h3M762 290h3M737 481h3M580 621h3M660 356h3M797 576h3M684 396h3M613 530h3M752 365h3M687 498h3M702 553h3M762 326h3M622 427h3M728 380h3M726 384h3M722 345h3M739 376h3M684 539h3M788 557h3M597 520h3M660 581h3M617 562h3M672 338h3M716 497h3M736 432h3M654 453h3M727 609h3M698 507h3M658 496h3M567 589h3M673 528h3M695 436h3M643 484h3M658 397h3M690 388h3M764 453h3M730 344h3M634 631h3M640 613h3M693 348h3M687 580h3M688 410h3M665 546h3M776 333h3M626 539h3M622 399h3M610 450h3M710 612h3M764 378h3M654 488h3M638 563h3M680 368h3M795 299h3M636 594h3M629 418h3M690 492h3M550 576h3M743 381h3M681 372h3M547 562h3M662 367h3M816 532h3M759 545h3M775 407h3M789 547h3M667 590h3M710 441h3M654 515h3M705 465h3M747 523h3M849 474h3M666 562h3M671 594h3M710 397h3M779 319h3M652 453h3M620 545h3M779 335h3M754 407h3M672 597h3M673 352h3M581 533h3M773 306h3M608 531h3M618 479h3M650 408h3M679 527h3M738 440h3M736 397h3M787 315h3M726 312h3M728 353h3M788 330h3M718 398h3M711 476h3M689 572h3M697 505h3M735 410h3M719 370h3M675 425h3M772 282h3M681 431h3M684 561h3M803 367h3M688 482h3M739 532h3M621 587h3M687 578h3M604 574h3M638 617h3M708 432h3M784 481h3M743 485h3M677 458h3M645 446h3M720 376h3M642 473h3M752 636h3M673 587h3M696 422h3M688 380h3M750 286h3M633 452h3M755 364h3M753 328h3M696 496h3M656 341h3M680 415h3M740 269h3M477 625h3M687 429h3M620 465h3M689 390h3M754 574h3M784 261h3M748 560h3M602 538h3M690 346h3M710 377h3M722 284h3M699 304h3M723 335h3M713 342h3M745 336h3M594 449h3M819 357h3M487 717h3M622 476h3M662 516h3M807 390h3M689 419h3M650 565h3M693 310h3M588 499h3M742 418h3M859 365h3M741 307h3M640 536h3M777 294h3M634 414h3M694 316h3M694 395h3M615 361h3M777 339h3M659 536h3M628 558h3M622 389h3M681 405h3M698 393h3M679 425h3M567 574h3M566 661h3M702 562h3M740 329h3M650 431h3M637 467h3M518 521h3M698 387h3M610 607h3M753 394h3M735 321h3M708 417h3M767 309h3M681 555h3M692 412h3M676 465h3M704 440h3M797 321h3M595 467h3M711 395h3M679 345h3M632 476h3M696 469h3M720 288h3M711 537h3M739 498h3M563 543h3M572 602h3M637 436h3M783 330h3M796 515h3M728 440h3M734 420h3M783 583h3M703 384h3M743 329h3M648 569h3M573 513h3M641 483h3M605 526h3M655 427h3M646 516h3M697 471h3M486 474h3M753 307h3M683 524h3M695 546h3M702 466h3M772 308h3M594 513h3M648 344h3M706 396h3M708 370h3M662 599h3M746 524h3M789 321h3M704 449h3M612 691h3M644 418h3M735 340h3M709 589h3M822 307h3M631 629h3M667 361h3M697 540h3M722 668h3M619 428h3M662 566h3M815 367h3M736 549h3M708 439h3M719 439h3M764 303h3M641 416h3M731 380h3M542 575h3M692 546h3M715 381h3M721 400h3M651 514h3M626 694h3M542 710h3M666 457h3M772 442h3M833 335h3M679 335h3M693 426h3M671 563h3M612 615h3M648 569h3M774 310h3M714 571h3M680 444h3M561 408h3M803 328h3M631 401h3M655 479h3M669 461h3M780 323h3M684 363h3M682 443h3M654 573h3M667 356h3M750 424h3M764 274h3M704 467h3M741 298h3M719 612h3M681 397h3M764 305h3M614 427h3M639 395h3M633 361h3M711 600h3M635 490h3M709 400h3M660 458h3M660 497h3M658 384h3M690 453h3M620 579h3M718 595h3M672 472h3M703 338h3M704 448h3M629 359h3M470 629h3M651 585h3M682 419h3M750 524h3M649 446h3M642 554h3M720 325h3M758 493h3M756 430h3M748 521h3M836 315h3M721 467h3M706 500h3M740 373h3M772 459h3M746 442h3M701 433h3M589 539h3M668 406h3M745 311h3M743 290h3M727 360h3M669 509h3M694 413h3M648 459h3M641 555h3M786 304h3M814 291h3M673 431h3M789 342h3M730 497h3M687 420h3M684 412h3M652 664h3M733 330h3M741 342h3M648 531h3M623 403h3M689 333h3M582 549h3M681 333h3M640 601h3M825 458h3M724 310h3M638 471h3M773 501h3M648 531h3M690 377h3M573 543h3M758 360h3M666 622h3M663 414h3M644 523h3M757 495h3M655 417h3M741 359h3M630 586h3M805 276h3M696 398h3M773 355h3M754 343h3M643 518h3M717 500h3M606 601h3M607 595h3M742 348h3M688 372h3M657 489h3M691 492h3M666 549h3M726 404h3M720 519h3M616 607h3M722 479h3M672 389h3M762 341h3M651 501h3M608 613h3M635 422h3M674 356h3M756 398h3M650 572h3M804 281h3M777 471h3M742 340h3M671 617h3M739 409h3M727 469h3M727 500h3M631 521h3M783 284h3M684 341h3M711 383h3M784 709h3M685 414h3M656 639h3M692 431h3M654 643h3M661 429h3M693 299h3M659 632h3M757 319h3M760 337h3M684 407h3M772 276h3M652 463h3M683 542h3M670 556h3M816 432h3M777 330h3M632 487h3M714 376h3M690 407h3M679 595h3M706 367h3M791 317h3M749 352h3M629 632h3M599 604h3M672 371h3M607 517h3M729 501h3M735 483h3M649 486h3M772 405h3M795 323h3M700 526h3M680 351h3M704 603h3M773 337h3M594 527h3M680 419h3M515 632h3M778 269h3M735 319h3M684 482h3M686 588h3M673 534h3M658 379h3M718 396h3M711 475h3M740 358h3M693 517h3M697 480h3M731 440h3M723 463h3M722 602h3M675 364h3M758 357h3M826 314h3M680 496h3M642 367h3M730 378h3M564 614h3M618 390h3M692 512h3M637 453h3M737 293h3M825 659h3M713 329h3M633 637h3M617 476h3M626 472h3M671 391h3M614 467h3M676 388h3M728 353h3M692 440h3M621 444h3M717 582h3M733 282h3M684 366h3M652 378h3M614 364h3M715 417h3M682 590h3M794 520h3M639 562h3M779 513h3M738 366h3M609 602h3M707 397h3M771 296h3M787 594h3M736 286h3M836 356h3M774 340h3M657 653h3M685 344h3M632 509h3M538 547h3M663 560h3M675 429h3M637 363h3M623 429h3M562 519h3M673 500h3M737 365h3M760 403h3M778 374h3M585 533h3M678 450h3M799 299h3M636 475h3M679 401h3M767 441h3M733 510h3M677 498h3M748 382h3M727 316h3M596 556h3M563 559h3M668 401h3M740 346h3M739 297h3M695 418h3M717 340h3"/><path id="q0" d="M958 241h3M1057 429h3M973 473h3M965 496h3M1060 244h3M1010 383h3M570 333h3M975 641h3M1074 285h3M997 538h3M991 286h3M1031 524h3M984 442h3M965 663h3M1020 283h3M853 222h3M1025 258h3M831 320h3M326 118h3M974 427h3M1028 265h3M1107 417h3M1052 332h3M917 331h3M1049 432h3M1038 599h3M1010 459h3M1104 363h3M1001 316h3M962 421h3M929 334h3M976 314h3M916 460h3M749 349h3M800 613h3M1002 327h3M975 251h3M1020 426h3M947 544h3M603 310h3M1026 430h3M956 543h3M990 570h3M766 622h3M934 386h3M1030 284h3M993 276h3M876 508h3M797 528h3M947 268h3M962 408h3M1091 344h3M1051 585h3M1002 465h3M784 490h3M1105 290h3M819 485h3M1058 397h3M1076 386h3M903 469h3M1001 647h3M1030 383h3M948 211h3M943 601h3M943 555h3M927 311h3M905 326h3M765 630h3M994 277h3M992 523h3M845 248h3M1043 607h3M1036 395h3M969 364h3M853 308h3M1050 358h3M787 628h3M931 576h3M981 522h3M958 417h3M844 301h3M917 360h3M749 377h3M347 117h3M1058 307h3M911 500h3M871 303h3M919 326h3M831 531h3M945 338h3M989 542h3M861 452h3M957 308h3M1061 310h3M916 594h3M962 656h3M880 285h3M1009 601h3M1002 339h3M950 629h3M993 289h3M1010 315h3M936 320h3M1107 295h3M656 310h3M1019 562h3M1001 394h3M1015 430h3M975 583h3M1043 384h3M1030 317h3M926 374h3M915 363h3M972 407h3M862 302h3M1004 485h3M1099 377h3M969 317h3M948 358h3M944 279h3M903 592h3M944 639h3M880 337h3M817 347h3M962 302h3M958 421h3M1040 312h3M1068 259h3M948 414h3M921 391h3M931 324h3M1088 342h3M888 315h3M814 515h3M819 440h3M1011 584h3M1040 412h3M986 466h3M1034 296h3M984 311h3M1091 331h3M933 370h3M987 262h3M906 609h3M1017 467h3M962 418h3M921 361h3M970 645h3M996 352h3M857 371h3M1029 606h3M922 309h3M1012 278h3M1057 444h3M1034 311h3M906 680h3M1045 367h3M1015 388h3M1050 436h3M900 330h3M1009 415h3M1099 337h3M1010 461h3M855 218h3M1049 308h3M1056 321h3M988 659h3M968 448h3M1002 432h3M955 625h3M952 503h3M562 295h3M844 503h3M1007 233h3M945 348h3M945 374h3M898 669h3M1006 619h3M836 262h3M1039 311h3M768 359h3M859 350h3M1003 487h3M1065 499h3M1028 347h3M1108 471h3M990 364h3M974 532h3M1104 388h3M915 538h3M920 672h3M973 633h3M859 368h3M991 339h3M1096 437h3M908 443h3M996 361h3M972 346h3M939 407h3M986 351h3M867 310h3M1039 268h3M1116 375h3M1084 545h3M997 367h3M936 303h3M1099 363h3M962 611h3M973 391h3M990 629h3M1046 393h3M1021 326h3M1058 324h3M926 597h3M1077 371h3M979 295h3M562 308h3M974 421h3M882 231h3M997 493h3M1058 436h3M1029 292h3M971 341h3M917 439h3M992 433h3M937 249h3M918 373h3M1026 415h3M365 131h3M940 328h3M1084 433h3M960 482h3M623 315h3M835 296h3M829 418h3M938 500h3M1037 363h3M1040 401h3M986 347h3M309 119h3M966 498h3M1008 430h3M1082 365h3M826 334h3M811 472h3M1016 301h3M902 298h3M1038 426h3M963 574h3M1075 377h3M827 464h3M1090 389h3M296 130h3M946 349h3M1017 427h3M1007 477h3M1083 436h3M993 497h3M1023 250h3M1083 490h3M959 548h3M797 608h3M1065 431h3M890 362h3M827 519h3M1028 394h3M1054 576h3M1019 575h3M586 355h3M1040 411h3M350 130h3M1003 526h3M337 129h3M624 320h3M1050 440h3M1088 286h3M1006 321h3M962 545h3M1012 368h3M942 461h3M899 585h3M991 259h3M1025 266h3M920 311h3M924 366h3M907 538h3M964 421h3M952 362h3M607 312h3M621 342h3M1045 333h3M1028 443h3M998 648h3M1019 445h3M959 412h3M1021 275h3M983 668h3M828 491h3M908 409h3M977 283h3M960 572h3M1022 532h3M913 372h3M1018 302h3M969 592h3M1035 591h3M1015 264h3M983 376h3M986 297h3M976 352h3M883 307h3M1072 457h3M987 441h3M955 331h3M1065 534h3M971 597h3M1076 536h3M1022 364h3M967 430h3M1040 458h3M978 472h3M609 304h3M968 419h3M856 662h3M932 637h3M1074 324h3M774 607h3M930 507h3M975 396h3M1061 360h3M843 378h3M1083 410h3M1008 364h3M1035 333h3M835 431h3M970 426h3M753 356h3M581 324h3M865 528h3M952 318h3M907 606h3M924 562h3M950 401h3M903 597h3M1028 332h3M930 398h3M958 438h3M1088 437h3M944 638h3M793 295h3M983 354h3M968 293h3M949 483h3M853 534h3M999 389h3M1051 553h3M888 364h3M941 506h3M992 352h3M1033 351h3M948 360h3M904 418h3M1046 308h3M997 437h3M817 361h3M975 366h3M624 333h3M1066 387h3M999 498h3M956 596h3M902 405h3M868 536h3M921 319h3M1039 330h3M801 416h3M912 507h3M942 275h3M979 584h3M1009 416h3M989 331h3M1102 311h3M1020 334h3M937 347h3M784 454h3M1016 484h3M1046 466h3M978 472h3M862 383h3M890 563h3M942 372h3M1104 394h3M606 324h3M940 632h3M1116 370h3M975 407h3M1046 355h3M987 595h3M1034 292h3M949 350h3M1032 425h3M1051 388h3M965 364h3M945 464h3M1030 435h3M969 441h3M978 421h3M1009 508h3M870 365h3M925 634h3M940 367h3M970 466h3M989 539h3M880 420h3M1021 560h3M1038 495h3M1006 322h3M1060 447h3M1000 383h3M971 392h3M1037 268h3M1006 431h3M961 461h3M900 627h3M849 339h3M939 418h3M1040 320h3M589 337h3M916 543h3M934 350h3M1036 372h3M982 334h3M1069 486h3M1025 455h3M593 328h3M867 572h3M969 334h3M962 381h3M976 588h3M896 629h3M1053 467h3M963 371h3M963 545h3M908 307h3M893 505h3M1023 224h3M1008 622h3M1035 414h3M1072 352h3M905 548h3M1019 449h3M937 351h3M990 390h3M1004 413h3M951 478h3M1066 360h3M935 533h3M848 440h3M1045 313h3M1037 319h3M889 382h3M1103 418h3M950 536h3M928 320h3M1010 361h3M286 124h3M1050 228h3M1066 368h3M972 596h3M855 258h3M887 405h3M1097 322h3M1074 351h3M880 455h3M1002 444h3M1033 412h3M960 566h3M1013 415h3M945 477h3M1078 397h3M971 605h3M789 600h3M1006 356h3M1036 583h3M871 358h3M960 508h3M865 274h3M1000 590h3M994 525h3M917 515h3M795 390h3M990 491h3M801 490h3M866 365h3M988 278h3M1006 386h3M935 319h3M812 299h3M1032 351h3M1073 340h3M988 343h3M867 256h3M1009 348h3M860 499h3M952 288h3M1032 283h3M584 303h3M869 424h3M1030 501h3M929 299h3M771 362h3M989 251h3M872 444h3M903 294h3M1111 388h3M974 278h3M1031 404h3M891 218h3M945 376h3M810 507h3M877 335h3M941 535h3M1091 346h3M764 335h3M886 574h3M837 328h3M965 336h3M301 121h3M892 562h3M853 400h3M938 456h3M871 320h3M849 299h3M1084 507h3M950 323h3M887 325h3M1000 299h3M921 404h3M1052 284h3M1036 381h3M1034 437h3M701 294h3M974 658h3M1057 523h3M932 308h3M1053 513h3M824 239h3M861 377h3M962 676h3M965 297h3M994 390h3M871 472h3M984 534h3M948 508h3M1021 564h3M1067 325h3M957 344h3M938 592h3M784 469h3M1015 513h3M792 274h3M746 269h3M987 480h3M957 655h3M783 631h3M932 686h3M1020 515h3M1037 554h3M981 470h3M605 306h3M1000 609h3M877 618h3M1118 345h3M1087 510h3M1076 355h3M848 460h3M850 305h3M868 596h3M1002 607h3M962 364h3M1070 307h3M610 300h3M1015 252h3M1109 295h3M991 291h3M1038 334h3M1038 252h3M928 475h3M740 533h3M618 309h3M288 129h3M899 262h3M305 134h3M784 609h3M1010 312h3M877 452h3M966 367h3M929 672h3M954 629h3M998 306h3M919 297h3M952 361h3M959 635h3M1044 395h3M986 556h3M823 448h3M1015 282h3M831 245h3M1015 241h3M764 639h3M953 448h3M996 331h3M1090 479h3M958 470h3M952 288h3M974 394h3M1043 301h3M942 281h3M867 583h3M836 368h3M865 545h3M1002 351h3M1021 259h3M918 507h3M921 364h3M1063 417h3M937 276h3M851 255h3M992 261h3M955 516h3M1019 379h3M1061 416h3M955 318h3M932 575h3M949 373h3M904 381h3M1027 373h3M1086 416h3M1028 354h3M928 574h3M842 314h3M956 450h3M1085 416h3M597 298h3M994 643h3M1002 610h3M866 398h3M1008 640h3M914 590h3M1051 323h3M897 411h3M955 581h3M951 339h3M1013 537h3M992 356h3M987 260h3M917 626h3M1010 324h3M963 450h3M860 610h3M1063 283h3M997 642h3M955 630h3M986 638h3M987 270h3M994 268h3M805 272h3M1066 229h3M985 296h3M1049 341h3M935 373h3M1000 402h3M1102 457h3M904 229h3M990 236h3M840 299h3M861 403h3M826 355h3M936 350h3M1010 348h3M1107 458h3M994 654h3M1081 301h3M1041 463h3M992 406h3M893 624h3M966 522h3M940 653h3M1035 295h3M1015 290h3M1098 473h3M930 617h3M993 254h3M880 610h3M964 664h3M954 272h3M1046 298h3M887 518h3M831 597h3M1012 443h3M1008 532h3M990 264h3M1069 378h3M918 648h3M990 493h3M836 255h3M902 233h3M833 505h3M875 308h3M1067 359h3M983 659h3M823 615h3M1003 353h3M973 387h3M832 501h3M929 335h3M955 569h3M988 492h3M886 404h3M1005 420h3M880 628h3M1043 518h3M1046 436h3M968 649h3M1031 372h3M868 331h3M918 423h3M982 533h3M810 355h3M1030 284h3M1060 371h3M966 470h3M886 239h3M1051 475h3M960 382h3M996 363h3M1035 457h3M1116 414h3M837 627h3M939 662h3M916 307h3M838 277h3M856 486h3M926 576h3M876 401h3M814 383h3M1054 527h3M1011 405h3M1021 539h3M910 232h3M1077 442h3M988 573h3M951 410h3M970 581h3M583 304h3M949 564h3M948 515h3M995 227h3M1094 514h3M945 482h3M1043 453h3M941 345h3M885 298h3M978 380h3M805 395h3M1025 326h3M1076 337h3M1048 510h3M1025 386h3M1004 625h3M972 411h3M1020 317h3M922 355h3M1074 359h3M939 371h3M930 552h3M851 313h3M961 205h3M746 289h3M1034 431h3M864 522h3M1056 515h3M1015 416h3M928 467h3M807 445h3M1010 396h3M1028 493h3M905 500h3M974 346h3M1029 373h3M933 338h3M862 552h3M940 502h3M964 323h3M1011 476h3M1084 447h3M1011 381h3M993 294h3M310 142h3M1076 382h3M969 487h3M1014 337h3M1057 529h3M1037 422h3M807 529h3M911 688h3M963 630h3M957 506h3M1027 357h3M871 510h3M1035 618h3M1001 394h3M1049 577h3M941 504h3M952 384h3M992 463h3M932 542h3M1043 211h3M1107 344h3M971 336h3M923 322h3M988 593h3M861 305h3M961 472h3M993 621h3M1117 383h3M896 526h3M907 549h3M611 295h3M881 276h3M968 279h3M826 433h3M1110 305h3M924 538h3M940 503h3M726 515h3M919 566h3M1059 238h3M1087 505h3M866 601h3M963 457h3M889 401h3M972 369h3M1075 459h3M1073 522h3M958 288h3M1006 323h3M842 393h3M1046 282h3M996 480h3M934 297h3M947 400h3M1070 356h3M977 343h3M1081 349h3M1045 240h3M934 362h3M869 557h3M893 624h3M913 269h3M947 530h3M1032 532h3M922 234h3M944 463h3M1001 255h3M927 397h3M877 275h3M964 283h3M982 284h3M1010 462h3M1105 325h3M1006 357h3M839 330h3M958 374h3M979 391h3M1034 360h3M1059 361h3M988 388h3M867 527h3M1014 526h3M876 271h3M1000 481h3M885 490h3M1029 221h3M981 277h3M1001 526h3M824 345h3M860 408h3M974 390h3M945 460h3M1073 238h3M977 314h3M841 485h3M1027 534h3M881 326h3M959 358h3M1095 285h3M1084 298h3M961 474h3M928 552h3M1037 355h3M996 525h3M824 505h3M975 559h3M919 388h3M803 608h3M938 354h3M1036 342h3M947 390h3M808 402h3M1034 495h3M270 130h3M919 440h3M982 358h3M1004 223h3M818 429h3M922 536h3M923 575h3M1040 486h3M1094 406h3M1018 331h3M974 669h3M963 509h3M298 143h3M985 340h3M865 521h3M862 294h3M824 415h3M1025 300h3M980 651h3M998 330h3M1000 433h3M1042 405h3M923 396h3M1039 363h3M1089 500h3M955 387h3M1029 507h3M296 131h3M1056 322h3M860 292h3M1009 290h3M939 630h3M1027 365h3M327 144h3M943 279h3M928 516h3M847 414h3M953 482h3M1006 356h3M1060 554h3M1000 285h3M1039 234h3M935 358h3M867 580h3M977 276h3M1007 334h3M1021 471h3M1007 265h3M977 404h3M1026 464h3M899 264h3M1018 495h3M860 359h3M951 681h3M1003 251h3M838 316h3M998 249h3M1060 306h3M985 261h3M939 360h3M1004 319h3M1104 379h3M958 437h3M928 323h3M1045 405h3M1018 565h3M879 340h3M860 397h3M986 515h3M1038 337h3M898 665h3M991 505h3M901 421h3M956 621h3M831 520h3M969 325h3M866 462h3M987 638h3M886 544h3M899 371h3M963 528h3M927 349h3M979 373h3M784 325h3M346 120h3M992 381h3M902 394h3M1099 454h3M977 515h3M902 330h3M881 494h3M994 606h3M973 363h3M871 504h3M991 381h3M1077 461h3M954 368h3M960 482h3M1004 411h3M1033 382h3M949 315h3M935 364h3M987 220h3M1089 269h3M937 583h3M962 672h3M883 577h3M880 334h3M1000 335h3M1049 389h3M967 572h3M954 387h3M931 406h3M957 268h3M870 353h3M608 334h3M954 372h3M956 236h3M996 417h3M902 678h3M973 317h3M962 599h3M929 317h3M1021 408h3M963 492h3M1056 399h3M1052 428h3M935 570h3M1051 382h3M966 355h3M865 360h3M933 341h3M1045 279h3M934 630h3M1099 465h3M1015 584h3M1060 383h3M1066 480h3M880 414h3M984 370h3M959 220h3M1060 490h3M1107 340h3M1030 456h3M1086 264h3M989 421h3M967 429h3M876 339h3M1111 307h3M1093 384h3M983 346h3M1042 357h3M1101 353h3M940 463h3M995 396h3M764 330h3M957 389h3M1003 420h3M966 397h3M1005 355h3M797 484h3M983 414h3M807 517h3M934 475h3M1099 442h3M1011 371h3M811 301h3M961 511h3M903 372h3M896 451h3M1040 393h3M1020 408h3M859 681h3M1024 543h3M1007 418h3M1049 310h3M920 398h3M1009 391h3M1065 505h3M931 385h3M1030 238h3M1001 630h3M1034 471h3M893 354h3M1041 424h3M856 624h3M809 507h3M822 472h3M993 288h3M1083 378h3M1016 370h3M955 353h3M1014 284h3M952 314h3M826 389h3M964 547h3M766 320h3M924 247h3M1017 391h3M841 429h3M1043 431h3M1014 399h3M990 396h3M976 532h3M617 306h3M1017 367h3M1037 519h3M984 639h3M1020 498h3M1012 544h3M987 424h3M1017 487h3M1000 333h3M954 440h3M1018 448h3M1066 406h3M1024 466h3M1048 569h3M990 340h3M984 447h3M1066 401h3M1000 338h3M940 469h3M807 486h3M1000 335h3M940 418h3M988 529h3M1012 534h3M1002 624h3M916 499h3M1034 344h3M992 327h3M949 381h3M1045 344h3M852 380h3M1042 283h3M894 361h3M847 396h3M1013 376h3M983 293h3M934 550h3M913 520h3M1066 259h3M1014 414h3M875 301h3M1039 488h3M796 379h3M1049 388h3M1057 361h3M1033 438h3M1071 473h3M575 320h3M705 298h3M977 402h3M1076 427h3M964 604h3M1000 295h3M1117 403h3M770 415h3M982 466h3M955 263h3M952 513h3M1053 570h3M939 536h3M969 357h3M1076 389h3M979 405h3M985 596h3M917 314h3M1090 364h3M798 310h3M834 317h3M1068 361h3M1024 346h3M614 333h3M972 608h3M940 524h3M1083 464h3M1048 297h3M1033 403h3M942 277h3M1009 321h3M1022 273h3M986 335h3M288 123h3M874 343h3M1017 352h3M881 563h3M1036 281h3M780 480h3M825 362h3M932 346h3"/><path id="q7" d="M973 313h3M644 445h3M909 304h3M963 304h3M805 276h3M766 265h3M775 276h3M933 319h3M945 285h3M928 307h3M946 299h3M938 299h3M924 316h3M779 269h3M948 288h3M948 301h3M962 285h3M808 267h3M945 292h3M664 447h3M979 298h3M965 272h3M956 296h3M788 269h3M945 309h3M938 284h3M966 282h3M928 306h3M935 312h3M941 289h3M775 273h3M972 296h3M948 289h3M785 275h3M964 303h3M949 293h3M971 302h3M946 297h3M973 299h3M667 427h3M936 309h3M973 312h3M775 260h3M666 422h3M959 316h3M945 310h3M937 295h3M959 294h3M788 272h3M970 292h3M775 274h3M967 317h3M795 269h3M653 422h3M770 271h3"/></defs>
<g transform="scale(0.5)" stroke-linecap="round" fill="none">
<use href="#q2" stroke="#262626" stroke-width="8"/><use href="#q2" stroke="#2ca02c" stroke-width="5.4"/>
<use href="#q4" stroke="#262626" stroke-width="8"/><use href="#q4" stroke="#9467bd" stroke-width="5.4"/>
<use href="#q6" stroke="#262626" stroke-width="8"/><use href="#q6" stroke="#e377c2" stroke-width="5.4"/>
<use href="#q5" stroke="#262626" stroke-width="8"/><use href="#q5" stroke="#8c564b" stroke-width="5.4"/>
<use href="#q8" stroke="#262626" stroke-width="8"/><use href="#q8" stroke="#17becf" stroke-width="5.4"/>
<use href="#q1" stroke="#262626" stroke-width="8"/><use href="#q1" stroke="#ff7f0e" stroke-width="5.4"/>
<use href="#q3" stroke="#262626" stroke-width="8"/><use href="#q3" stroke="#d62728" stroke-width="5.4"/>
<use href="#q0" stroke="#262626" stroke-width="8"/><use href="#q0" stroke="#1f77b4" stroke-width="5.4"/>
<use href="#q7" stroke="#262626" stroke-width="8"/><use href="#q7" stroke="#bcbd22" stroke-width="5.4"/>
</g>
<path d="M120 105 C117.7 109.5 110.4 119.8 106 132 C101.6 144.2 96.2 162.7 93.6 178 C91 193.3 90.5 210.3 90.5 224 C90.5 237.7 91 248.8 93.6 260 C96.2 271.2 99.6 281.8 106 291 C112.4 300.2 120 307.3 132 315.5 C144 323.7 160.2 332.9 178 340 C195.8 347.1 218.7 352.9 239 358 C259.3 363.1 282.2 366.8 300 370.6 C317.8 374.4 333.2 378.2 346 381 C358.8 383.8 366.8 387.1 377 387.4 C387.2 387.7 397.8 386.3 407 383 C416.2 379.7 424.3 374.7 432 367.5 C439.7 360.3 445.8 351.2 453 340 C460.2 328.8 468.8 313.3 475 300 C481.2 286.7 486 272.7 490 260 C494 247.3 497.5 234.2 499 224 C500.5 213.8 500.5 204.7 499 199 C497.5 193.3 495.1 191.5 490 190 C484.9 188.5 479.8 189 468.6 190 C457.4 191 436.4 193.5 422.6 196 C408.8 198.5 395.7 201.9 386 205 C376.3 208.1 368.1 212.9 364.5 214.5" fill="none" stroke="#000" stroke-width="2.2"/>
<path d="M343 223.7 L357 205 L370 223.7 Z" fill="#000"/>
<circle cx="664.3" cy="104.5" r="8" fill="#1f77b4"/>
<text x="680" y="113.3" font-size="25.5">C0</text>
<circle cx="664.3" cy="139.1" r="8" fill="#ff7f0e"/>
<text x="680" y="147.9" font-size="25.5">C1</text>
<circle cx="664.3" cy="173.7" r="8" fill="#2ca02c"/>
<text x="680" y="182.5" font-size="25.5">C2</text>
<circle cx="664.3" cy="208.3" r="8" fill="#d62728"/>
<text x="680" y="217.1" font-size="25.5">C3</text>
<circle cx="664.3" cy="242.9" r="8" fill="#9467bd"/>
<text x="680" y="251.7" font-size="25.5">C4</text>
<circle cx="664.3" cy="277.5" r="8" fill="#8c564b"/>
<text x="680" y="286.3" font-size="25.5">C5</text>
<circle cx="664.3" cy="312.1" r="8" fill="#e377c2"/>
<text x="680" y="320.9" font-size="25.5">C6</text>
<circle cx="664.3" cy="346.7" r="8" fill="#bcbd22"/>
<text x="680" y="355.5" font-size="25.5">C7</text>
<circle cx="664.3" cy="381.3" r="8" fill="#17becf"/>
<text x="680" y="390.1" font-size="25.5">C8</text>
<path d="M38.5 455 V401 M38.5 455 H93" stroke="#231f20" stroke-width="1.6" fill="none"/>
<path d="M35 404 L38.5 396 L42 404 Z M90 451.5 L98 455 L90 458.5 Z" fill="#231f20"/>
<text transform="translate(28,416) rotate(-90)" font-size="23" text-anchor="middle">UMAP2</text>
<text x="37" y="482" font-size="23">UMAP1</text>
<g transform="scale(0.5)" stroke-linecap="round" fill="none" stroke-width="5.6">
<path d="M833 1593h3.4M825 1551h3.4M622 1397h3.4M643 1446h3.4M637 1403h3.4M613 1429h3.4M683 1457h3.4M644 1390h3.4M839 1557h3.4M662 1377h3.4M629 1399h3.4M692 1517h3.4M671 1420h3.4M806 1546h3.4M762 1531h3.4M504 1547h3.4M764 1535h3.4M659 1530h3.4M632 1401h3.4M656 1455h3.4M640 1390h3.4M792 1528h3.4M830 1549h3.4M627 1409h3.4M695 1499h3.4M650 1416h3.4M769 1542h3.4M615 1393h3.4M601 1404h3.4M688 1473h3.4M661 1492h3.4M810 1517h3.4M632 1452h3.4M689 1534h3.4M655 1387h3.4M665 1501h3.4M666 1495h3.4M836 1565h3.4M822 1586h3.4M755 1558h3.4M767 1508h3.4M727 1524h3.4M662 1465h3.4M655 1418h3.4M671 1516h3.4M613 1401h3.4M813 1590h3.4M660 1387h3.4M622 1380h3.4M805 1530h3.4M634 1402h3.4M632 1429h3.4M548 1413h3.4M662 1426h3.4M661 1401h3.4M815 1538h3.4M666 1430h3.4M616 1386h3.4M667 1432h3.4M790 1526h3.4M796 1501h3.4M708 1536h3.4M493 1518h3.4M684 1409h3.4M617 1424h3.4M601 1412h3.4M634 1451h3.4M668 1423h3.4M744 1533h3.4M477 1458h3.4M664 1461h3.4M486 1540h3.4M645 1403h3.4M691 1524h3.4M636 1378h3.4M703 1510h3.4M624 1397h3.4M731 1502h3.4M858 1534h3.4M708 1522h3.4M844 1548h3.4M694 1495h3.4M705 1513h3.4M824 1566h3.4M644 1407h3.4M816 1535h3.4M840 1559h3.4M656 1483h3.4M679 1502h3.4M828 1570h3.4M716 1496h3.4M657 1404h3.4M828 1570h3.4M796 1524h3.4M676 1480h3.4M697 1458h3.4M664 1460h3.4M799 1531h3.4M666 1402h3.4M724 1500h3.4M649 1411h3.4M818 1525h3.4M814 1568h3.4M818 1545h3.4M616 1416h3.4M846 1546h3.4M782 1538h3.4M471 1461h3.4M646 1422h3.4M804 1534h3.4M591 1420h3.4M685 1478h3.4M796 1519h3.4M822 1569h3.4M635 1436h3.4M712 1496h3.4M753 1495h3.4M661 1454h3.4M787 1521h3.4M626 1423h3.4M655 1476h3.4M661 1389h3.4M549 1411h3.4M691 1504h3.4M665 1451h3.4M775 1533h3.4M651 1470h3.4M654 1464h3.4M683 1438h3.4M664 1396h3.4M673 1431h3.4M658 1535h3.4M664 1460h3.4M680 1425h3.4M696 1510h3.4M778 1509h3.4M677 1426h3.4M658 1399h3.4M826 1541h3.4M847 1538h3.4M746 1513h3.4M768 1497h3.4" stroke="#cd0808"/>
<path d="M945 1113h3.4M843 1096h3.4M905 1194h3.4M640 1296h3.4M922 1243h3.4M934 1137h3.4M936 1086h3.4M893 1190h3.4M955 1223h3.4M560 1312h3.4M843 1173h3.4M905 1220h3.4M898 1170h3.4M712 1279h3.4M907 1189h3.4M932 1200h3.4M869 1152h3.4M616 1300h3.4M923 1184h3.4M914 1232h3.4M904 1222h3.4M958 1262h3.4M935 1218h3.4M869 1199h3.4M945 1274h3.4M936 1268h3.4M909 1248h3.4M877 1180h3.4M666 1294h3.4M920 1229h3.4M949 1272h3.4M909 1221h3.4M847 1230h3.4M910 1174h3.4M817 1215h3.4M932 1209h3.4M933 1232h3.4M849 1210h3.4M645 1284h3.4M589 1276h3.4M693 1295h3.4M580 1285h3.4M848 1227h3.4M897 1295h3.4M926 1262h3.4M749 1270h3.4M906 1291h3.4M707 1287h3.4M906 1231h3.4M650 1300h3.4M820 1272h3.4M890 1164h3.4M934 1210h3.4M878 1222h3.4M912 1180h3.4M908 1176h3.4M912 1225h3.4M940 1221h3.4M946 1266h3.4M677 1299h3.4M896 1264h3.4M901 1231h3.4M872 1172h3.4M942 1193h3.4M833 1236h3.4M917 1254h3.4M945 1290h3.4M659 1298h3.4M877 1224h3.4M893 1272h3.4M807 1220h3.4M633 1295h3.4M891 1260h3.4M930 1144h3.4M925 1208h3.4M851 1241h3.4M618 1280h3.4M951 1224h3.4M860 1225h3.4M928 1226h3.4M869 1274h3.4M926 1272h3.4M921 1211h3.4M956 1197h3.4M949 1239h3.4M606 1301h3.4M896 1172h3.4M943 1163h3.4M767 1262h3.4M878 1239h3.4M916 1183h3.4M876 1260h3.4M746 1262h3.4M860 1218h3.4M854 1143h3.4M787 1247h3.4M855 1224h3.4M923 1183h3.4M856 1126h3.4M859 1277h3.4M917 1165h3.4M892 1161h3.4M923 1176h3.4M879 1093h3.4M866 1197h3.4M952 1199h3.4M843 1256h3.4M937 1187h3.4M876 1188h3.4M909 1259h3.4M850 1235h3.4M702 1284h3.4M640 1297h3.4M629 1302h3.4M840 1170h3.4M949 1223h3.4M888 1132h3.4M939 1221h3.4M798 1246h3.4M735 1272h3.4M849 1224h3.4M826 1227h3.4M909 1223h3.4M893 1238h3.4M886 1266h3.4M938 1201h3.4M923 1232h3.4M892 1102h3.4M850 1258h3.4M924 1211h3.4M697 1292h3.4M941 1141h3.4M632 1288h3.4M891 1106h3.4M924 1174h3.4M959 1244h3.4M917 1198h3.4M875 1259h3.4M858 1194h3.4M906 1276h3.4M875 1111h3.4M947 1240h3.4M904 1173h3.4M866 1256h3.4M805 1240h3.4M938 1264h3.4M874 1165h3.4M964 1238h3.4M615 1280h3.4M796 1251h3.4M958 1265h3.4M910 1215h3.4M713 1291h3.4M947 1081h3.4M921 1200h3.4M558 1263h3.4M939 1241h3.4M911 1186h3.4M870 1144h3.4M611 1280h3.4M878 1257h3.4M934 1255h3.4M901 1138h3.4M910 1107h3.4M914 1253h3.4M866 1143h3.4M830 1192h3.4M865 1140h3.4M644 1297h3.4M960 1247h3.4M695 1285h3.4M870 1189h3.4M946 1218h3.4M907 1245h3.4M925 1214h3.4M935 1247h3.4M799 1257h3.4M990 1097h3.4M852 1160h3.4M910 1252h3.4M942 1244h3.4M837 1268h3.4M963 1145h3.4M887 1134h3.4M850 1219h3.4M945 1289h3.4M868 1202h3.4M850 1253h3.4M889 1275h3.4M888 1229h3.4M915 1210h3.4M890 1250h3.4M890 1193h3.4M977 1239h3.4M869 1197h3.4M941 1244h3.4M918 1261h3.4M859 1214h3.4M917 1181h3.4M953 1215h3.4M855 1220h3.4M869 1268h3.4M970 1229h3.4M764 1260h3.4M865 1201h3.4M944 1245h3.4M892 1231h3.4M908 1254h3.4M918 1242h3.4M882 1214h3.4M939 1179h3.4M816 1246h3.4M831 1282h3.4M927 1271h3.4M842 1237h3.4M686 1291h3.4M883 1221h3.4M837 1252h3.4M864 1167h3.4M826 1216h3.4M942 1133h3.4M619 1281h3.4M905 1178h3.4M752 1258h3.4M930 1145h3.4M863 1205h3.4M815 1221h3.4" stroke="#570101"/>
<path d="M1041 1282h3.4M960 1321h3.4M952 1342h3.4M1016 1367h3.4M1090 1271h3.4M1034 1284h3.4M996 1308h3.4M1087 1222h3.4M730 1355h3.4M711 1337h3.4M1005 1279h3.4M770 1338h3.4M1011 1283h3.4M616 1334h3.4M865 1353h3.4M789 1370h3.4M988 1314h3.4M760 1297h3.4M775 1336h3.4M1042 1253h3.4M706 1338h3.4M721 1327h3.4M1015 1241h3.4M759 1390h3.4M667 1322h3.4M779 1395h3.4M627 1316h3.4M707 1316h3.4M899 1345h3.4M821 1373h3.4M761 1321h3.4M713 1357h3.4M1001 1283h3.4M602 1328h3.4M990 1332h3.4M1082 1235h3.4M805 1359h3.4M591 1355h3.4M972 1315h3.4M702 1321h3.4M1002 1315h3.4M702 1330h3.4M1041 1295h3.4M695 1328h3.4M1034 1288h3.4M994 1269h3.4M996 1310h3.4M955 1299h3.4M939 1348h3.4M834 1348h3.4M1050 1344h3.4M1091 1319h3.4M1087 1245h3.4M1079 1289h3.4M702 1337h3.4M1098 1233h3.4M692 1340h3.4M1042 1288h3.4M606 1310h3.4M602 1344h3.4M1068 1285h3.4M586 1341h3.4M947 1329h3.4M731 1346h3.4M925 1345h3.4M1024 1256h3.4M780 1350h3.4M1023 1279h3.4M818 1313h3.4M1003 1280h3.4M992 1325h3.4M1067 1288h3.4M979 1343h3.4M1067 1337h3.4M1049 1284h3.4M817 1363h3.4M1025 1265h3.4M1035 1292h3.4M772 1381h3.4M1013 1294h3.4M819 1337h3.4M1056 1306h3.4M974 1293h3.4M1049 1376h3.4M1025 1308h3.4M964 1320h3.4M918 1352h3.4M1067 1265h3.4M763 1311h3.4M855 1371h3.4M746 1387h3.4M1071 1289h3.4M936 1330h3.4M843 1376h3.4M1035 1393h3.4M928 1350h3.4M697 1307h3.4M985 1344h3.4M710 1308h3.4M858 1377h3.4M900 1351h3.4M851 1386h3.4M994 1270h3.4M730 1328h3.4M1001 1331h3.4M1031 1315h3.4M964 1320h3.4M1087 1250h3.4M681 1343h3.4M865 1391h3.4M1017 1278h3.4M1015 1287h3.4M994 1352h3.4M957 1315h3.4M1023 1341h3.4M692 1352h3.4M1044 1298h3.4M756 1303h3.4M1021 1230h3.4M1053 1333h3.4M1010 1305h3.4M1037 1316h3.4M882 1350h3.4M1020 1268h3.4M807 1374h3.4M751 1386h3.4M894 1389h3.4M1005 1299h3.4M780 1387h3.4M938 1325h3.4M1050 1219h3.4M699 1314h3.4M1086 1272h3.4M739 1366h3.4M839 1322h3.4M988 1295h3.4M998 1269h3.4M947 1352h3.4M980 1368h3.4M905 1358h3.4M976 1338h3.4M792 1337h3.4M614 1326h3.4M849 1345h3.4M731 1291h3.4M1015 1346h3.4M1094 1244h3.4M1016 1259h3.4M801 1352h3.4M705 1324h3.4M1067 1352h3.4M682 1329h3.4M732 1374h3.4M1021 1238h3.4M1019 1289h3.4M1041 1366h3.4M1038 1357h3.4M776 1328h3.4M735 1332h3.4M776 1317h3.4M1001 1357h3.4M638 1321h3.4M974 1328h3.4M1005 1359h3.4M967 1319h3.4M1071 1355h3.4M690 1342h3.4M733 1375h3.4M618 1324h3.4M1074 1327h3.4M585 1345h3.4M945 1319h3.4M907 1352h3.4M1048 1271h3.4M1045 1270h3.4M1069 1270h3.4M949 1301h3.4M517 1364h3.4M1085 1307h3.4M1090 1308h3.4M671 1314h3.4M1026 1312h3.4M627 1324h3.4M690 1318h3.4M1081 1321h3.4M732 1344h3.4M788 1359h3.4M876 1362h3.4M997 1294h3.4M1053 1236h3.4M976 1339h3.4M824 1350h3.4M691 1320h3.4M822 1346h3.4M974 1338h3.4M696 1315h3.4M1028 1361h3.4M1030 1288h3.4M591 1357h3.4M1035 1323h3.4M1020 1307h3.4M1098 1268h3.4M1038 1370h3.4M996 1260h3.4M1061 1294h3.4M1077 1358h3.4M933 1329h3.4M1028 1303h3.4M1032 1354h3.4M854 1365h3.4M1040 1358h3.4M995 1252h3.4M1013 1339h3.4M893 1345h3.4M928 1347h3.4M997 1324h3.4M1068 1298h3.4M955 1334h3.4M1041 1372h3.4M1022 1276h3.4M798 1371h3.4M860 1354h3.4M650 1326h3.4M928 1349h3.4M978 1313h3.4M1090 1205h3.4M948 1320h3.4M1100 1240h3.4M885 1369h3.4M719 1359h3.4M1070 1350h3.4M950 1307h3.4M1059 1308h3.4M1057 1365h3.4M982 1328h3.4M667 1321h3.4M1017 1374h3.4M932 1312h3.4M995 1311h3.4M857 1369h3.4M999 1368h3.4M986 1329h3.4M874 1337h3.4M751 1339h3.4M741 1364h3.4M714 1316h3.4M831 1332h3.4M948 1322h3.4M814 1350h3.4M1019 1341h3.4M723 1343h3.4M1025 1333h3.4M1077 1261h3.4M854 1364h3.4M815 1307h3.4M634 1319h3.4M986 1285h3.4M765 1346h3.4M1072 1346h3.4M819 1385h3.4M1014 1352h3.4M750 1341h3.4M916 1360h3.4M940 1330h3.4M1044 1394h3.4M710 1346h3.4M1006 1319h3.4M1011 1313h3.4M1003 1341h3.4M714 1363h3.4M715 1326h3.4M940 1359h3.4M1030 1260h3.4M977 1350h3.4M821 1363h3.4M855 1311h3.4M768 1319h3.4M875 1385h3.4M720 1317h3.4M720 1346h3.4M1082 1304h3.4M870 1340h3.4M861 1349h3.4M1061 1310h3.4M947 1329h3.4M1006 1263h3.4M950 1339h3.4M1040 1254h3.4M1036 1281h3.4M1082 1314h3.4M1050 1327h3.4M722 1346h3.4M1045 1336h3.4M1015 1306h3.4M728 1330h3.4M1094 1172h3.4M798 1361h3.4M1083 1293h3.4M996 1230h3.4M1025 1249h3.4M1049 1350h3.4M1019 1319h3.4M1026 1277h3.4M800 1351h3.4M812 1321h3.4M678 1329h3.4M691 1327h3.4M1028 1283h3.4M716 1312h3.4M1022 1363h3.4M1005 1344h3.4M973 1277h3.4M1003 1334h3.4M1003 1299h3.4M1009 1315h3.4M1050 1256h3.4M622 1320h3.4M798 1333h3.4M904 1344h3.4M901 1364h3.4M786 1363h3.4M771 1357h3.4M1023 1335h3.4M1033 1245h3.4M1018 1290h3.4M1055 1321h3.4M1060 1280h3.4M1100 1259h3.4M968 1315h3.4M1060 1246h3.4M631 1322h3.4M726 1354h3.4M1067 1313h3.4M772 1328h3.4" stroke="#740303"/>
<path d="M693 1601h3.4M651 1574h3.4M558 1535h3.4M735 1594h3.4M577 1584h3.4M708 1623h3.4M596 1451h3.4M633 1559h3.4M731 1628h3.4M715 1561h3.4M575 1468h3.4M740 1628h3.4M692 1628h3.4M589 1485h3.4M721 1612h3.4M697 1581h3.4M667 1648h3.4M558 1495h3.4M721 1625h3.4M672 1620h3.4M708 1647h3.4M689 1609h3.4M756 1617h3.4M738 1603h3.4M600 1472h3.4M719 1612h3.4M679 1629h3.4M727 1589h3.4M618 1563h3.4M709 1641h3.4M707 1617h3.4M677 1563h3.4M565 1523h3.4M743 1621h3.4M640 1588h3.4M720 1635h3.4M750 1620h3.4M723 1584h3.4M712 1638h3.4M763 1627h3.4M584 1509h3.4M713 1591h3.4M700 1586h3.4M725 1607h3.4M578 1483h3.4M694 1655h3.4M587 1453h3.4M572 1541h3.4M720 1649h3.4M688 1613h3.4M698 1658h3.4M742 1593h3.4M702 1601h3.4M639 1570h3.4M591 1512h3.4M657 1626h3.4M664 1652h3.4M735 1609h3.4M698 1606h3.4M689 1643h3.4M711 1578h3.4M541 1527h3.4M629 1593h3.4M723 1604h3.4M768 1617h3.4M665 1611h3.4M549 1481h3.4M683 1556h3.4M661 1634h3.4M662 1585h3.4M727 1624h3.4M643 1554h3.4M683 1595h3.4M759 1614h3.4M697 1661h3.4M655 1659h3.4M577 1454h3.4M683 1579h3.4M719 1590h3.4M624 1581h3.4M675 1562h3.4M747 1626h3.4M700 1634h3.4M563 1497h3.4M705 1600h3.4M561 1568h3.4M739 1614h3.4M692 1586h3.4M686 1614h3.4M717 1633h3.4M752 1597h3.4M737 1582h3.4M706 1601h3.4M571 1570h3.4M721 1594h3.4M574 1499h3.4M734 1616h3.4M674 1623h3.4M571 1534h3.4M687 1654h3.4M676 1609h3.4M675 1612h3.4M659 1652h3.4M736 1635h3.4M744 1614h3.4M681 1632h3.4M572 1472h3.4M739 1612h3.4M735 1601h3.4M733 1622h3.4M743 1614h3.4M611 1505h3.4M678 1623h3.4M699 1633h3.4M630 1601h3.4M557 1486h3.4M705 1580h3.4M698 1593h3.4M678 1620h3.4M708 1644h3.4M684 1614h3.4M729 1601h3.4M757 1614h3.4M688 1600h3.4M693 1654h3.4M741 1599h3.4M671 1578h3.4M700 1637h3.4M698 1638h3.4M599 1571h3.4M724 1631h3.4M706 1577h3.4M712 1620h3.4M734 1562h3.4M710 1605h3.4M726 1646h3.4M692 1628h3.4M718 1582h3.4M650 1627h3.4M728 1595h3.4M677 1626h3.4M718 1649h3.4M564 1490h3.4M695 1604h3.4M612 1514h3.4M658 1567h3.4M753 1627h3.4M731 1589h3.4M716 1618h3.4M714 1569h3.4M644 1601h3.4M735 1639h3.4M752 1596h3.4M700 1662h3.4M690 1593h3.4M702 1578h3.4M646 1580h3.4M699 1630h3.4M698 1616h3.4M723 1643h3.4M608 1517h3.4M708 1595h3.4M684 1609h3.4M730 1581h3.4M718 1583h3.4M751 1620h3.4M530 1478h3.4M734 1594h3.4M701 1616h3.4M691 1591h3.4M620 1574h3.4M763 1623h3.4M557 1544h3.4M645 1597h3.4M567 1579h3.4M693 1610h3.4M694 1623h3.4M621 1563h3.4M753 1601h3.4M759 1602h3.4M690 1636h3.4M697 1584h3.4M667 1586h3.4M704 1606h3.4M738 1638h3.4M665 1647h3.4M725 1589h3.4M683 1582h3.4M532 1459h3.4M723 1596h3.4M687 1614h3.4M761 1631h3.4M722 1601h3.4M700 1608h3.4M699 1606h3.4M667 1659h3.4M530 1471h3.4M745 1623h3.4M544 1468h3.4M721 1647h3.4M668 1623h3.4M693 1615h3.4M700 1637h3.4M729 1601h3.4M765 1617h3.4M668 1612h3.4M677 1619h3.4M713 1595h3.4M536 1619h3.4M736 1607h3.4M684 1585h3.4M716 1637h3.4M678 1604h3.4M589 1483h3.4M751 1616h3.4M712 1599h3.4M663 1584h3.4M688 1553h3.4M751 1611h3.4M665 1571h3.4M694 1663h3.4M524 1577h3.4M758 1626h3.4M700 1573h3.4M702 1630h3.4M690 1585h3.4M667 1563h3.4M546 1633h3.4M750 1632h3.4M736 1639h3.4M685 1638h3.4M653 1544h3.4M681 1626h3.4M656 1575h3.4M662 1614h3.4M638 1601h3.4M737 1628h3.4M536 1520h3.4M652 1584h3.4M761 1602h3.4M682 1641h3.4M714 1611h3.4M704 1617h3.4M653 1627h3.4M776 1588h3.4M755 1612h3.4M740 1624h3.4M707 1580h3.4M732 1589h3.4M656 1656h3.4M714 1606h3.4M708 1643h3.4M708 1640h3.4M701 1656h3.4M736 1596h3.4M688 1559h3.4M755 1586h3.4M728 1635h3.4M565 1455h3.4M694 1594h3.4M548 1520h3.4M682 1581h3.4M678 1565h3.4" stroke="#f20b09"/>
<path d="M277 1295h3.4M147 1316h3.4M156 1292h3.4M168 1342h3.4M125 1267h3.4M121 1321h3.4M180 1271h3.4M167 1276h3.4M283 1293h3.4M235 1267h3.4M137 1353h3.4M173 1315h3.4M164 1286h3.4M173 1318h3.4M248 1306h3.4M208 1332h3.4M235 1313h3.4M149 1302h3.4M163 1268h3.4M256 1332h3.4M142 1277h3.4M177 1333h3.4M220 1316h3.4M250 1272h3.4M164 1272h3.4M262 1329h3.4M153 1294h3.4M176 1311h3.4M153 1305h3.4M142 1369h3.4M192 1348h3.4M324 1300h3.4M131 1296h3.4M148 1293h3.4M135 1315h3.4M179 1357h3.4M228 1301h3.4M257 1314h3.4M145 1303h3.4M155 1315h3.4M252 1301h3.4M289 1261h3.4M167 1297h3.4M191 1300h3.4M332 1219h3.4M198 1360h3.4M135 1274h3.4M223 1303h3.4M193 1317h3.4M138 1311h3.4M249 1310h3.4M173 1266h3.4M146 1334h3.4M179 1310h3.4M334 1227h3.4M156 1302h3.4M145 1268h3.4M200 1281h3.4M164 1313h3.4M131 1343h3.4M327 1238h3.4M268 1233h3.4M293 1296h3.4M299 1229h3.4M266 1312h3.4M140 1325h3.4M344 1296h3.4M154 1324h3.4M158 1311h3.4M325 1236h3.4M275 1319h3.4M176 1358h3.4M275 1281h3.4M140 1281h3.4M268 1256h3.4M130 1294h3.4M181 1315h3.4M140 1341h3.4M134 1322h3.4M322 1229h3.4M318 1262h3.4M243 1309h3.4M182 1313h3.4M207 1326h3.4M314 1265h3.4M123 1306h3.4M169 1280h3.4M147 1321h3.4M138 1310h3.4M214 1329h3.4M279 1263h3.4M231 1349h3.4M324 1244h3.4M183 1356h3.4M336 1216h3.4M171 1320h3.4M169 1321h3.4M297 1297h3.4M148 1316h3.4M218 1256h3.4M201 1362h3.4M193 1282h3.4M143 1379h3.4M168 1276h3.4M154 1269h3.4M331 1219h3.4M137 1344h3.4M182 1298h3.4M160 1310h3.4M232 1327h3.4M229 1300h3.4M166 1302h3.4M226 1291h3.4M279 1271h3.4M175 1327h3.4M288 1274h3.4M332 1241h3.4M158 1278h3.4M248 1310h3.4M153 1274h3.4M175 1312h3.4M137 1320h3.4M298 1279h3.4M143 1304h3.4M250 1268h3.4M217 1320h3.4M130 1309h3.4M161 1321h3.4" stroke="#d5aaa1"/>
<path d="M797 1591h3.4M511 1508h3.4M659 1548h3.4M653 1511h3.4M615 1420h3.4M631 1457h3.4M785 1618h3.4M752 1559h3.4M540 1572h3.4M773 1564h3.4M766 1584h3.4M664 1419h3.4M615 1538h3.4M637 1524h3.4M800 1563h3.4M798 1556h3.4M790 1606h3.4M633 1439h3.4M804 1601h3.4M764 1618h3.4M753 1604h3.4M753 1613h3.4M733 1566h3.4M583 1529h3.4M812 1591h3.4M695 1564h3.4M805 1599h3.4M763 1545h3.4M614 1390h3.4M732 1546h3.4M778 1578h3.4M668 1493h3.4M541 1555h3.4M648 1497h3.4M523 1536h3.4M782 1534h3.4M728 1574h3.4M813 1605h3.4M647 1519h3.4M801 1586h3.4M630 1557h3.4M653 1518h3.4M495 1502h3.4M780 1599h3.4M806 1609h3.4M571 1430h3.4M778 1611h3.4M755 1563h3.4M667 1554h3.4M522 1491h3.4M802 1571h3.4M642 1519h3.4M778 1564h3.4M588 1434h3.4M777 1600h3.4M805 1609h3.4M624 1508h3.4M642 1471h3.4M525 1498h3.4M609 1526h3.4M639 1482h3.4M777 1602h3.4M643 1502h3.4M650 1477h3.4M801 1567h3.4M592 1542h3.4M649 1571h3.4M760 1549h3.4M669 1542h3.4M811 1605h3.4M501 1539h3.4M805 1599h3.4M520 1562h3.4M785 1592h3.4M636 1469h3.4M634 1430h3.4M839 1572h3.4M759 1563h3.4M794 1614h3.4M614 1423h3.4M629 1537h3.4M762 1548h3.4M601 1539h3.4M758 1543h3.4M839 1589h3.4M811 1556h3.4M774 1573h3.4M491 1588h3.4M643 1539h3.4M629 1489h3.4M820 1562h3.4M511 1465h3.4M782 1597h3.4M708 1535h3.4M513 1441h3.4M661 1550h3.4M565 1425h3.4M794 1598h3.4M505 1596h3.4M509 1462h3.4M629 1463h3.4M785 1594h3.4M636 1446h3.4M713 1522h3.4M602 1538h3.4M775 1595h3.4M808 1559h3.4M796 1596h3.4M813 1598h3.4M623 1530h3.4M775 1565h3.4M662 1575h3.4M687 1544h3.4M689 1510h3.4M794 1585h3.4M802 1588h3.4M756 1604h3.4M808 1565h3.4M749 1560h3.4M737 1572h3.4M633 1491h3.4M757 1594h3.4M799 1609h3.4M724 1563h3.4M772 1583h3.4M780 1573h3.4M779 1603h3.4M643 1486h3.4M606 1524h3.4M640 1541h3.4M754 1583h3.4M690 1562h3.4M519 1579h3.4M770 1562h3.4M681 1551h3.4M792 1591h3.4M739 1553h3.4M806 1593h3.4M800 1570h3.4M770 1605h3.4M542 1551h3.4M502 1525h3.4M742 1567h3.4M762 1585h3.4M773 1565h3.4M721 1560h3.4M774 1609h3.4M819 1580h3.4M606 1441h3.4M504 1548h3.4M815 1580h3.4M581 1541h3.4M759 1557h3.4M580 1522h3.4M569 1437h3.4M578 1517h3.4M775 1603h3.4M801 1579h3.4M796 1584h3.4M750 1572h3.4M692 1539h3.4M767 1624h3.4M759 1568h3.4M657 1434h3.4M622 1517h3.4M753 1556h3.4M793 1547h3.4M627 1461h3.4M737 1556h3.4M748 1541h3.4M683 1545h3.4M776 1559h3.4M621 1520h3.4M541 1534h3.4M608 1449h3.4M643 1407h3.4M819 1566h3.4M750 1561h3.4M609 1495h3.4M517 1506h3.4M673 1530h3.4M577 1503h3.4M787 1617h3.4M630 1527h3.4M778 1605h3.4M768 1573h3.4M786 1618h3.4M637 1394h3.4M653 1529h3.4M803 1556h3.4M495 1580h3.4M515 1579h3.4M631 1531h3.4M796 1582h3.4M769 1554h3.4M637 1394h3.4M707 1547h3.4M796 1567h3.4M652 1545h3.4M801 1594h3.4M787 1558h3.4M788 1613h3.4M648 1492h3.4M767 1618h3.4M591 1545h3.4M539 1488h3.4M776 1547h3.4M603 1436h3.4M604 1431h3.4M806 1580h3.4M742 1587h3.4M613 1441h3.4M495 1555h3.4M630 1547h3.4M604 1447h3.4M664 1565h3.4M645 1410h3.4M534 1522h3.4M778 1608h3.4M764 1612h3.4M763 1561h3.4M650 1474h3.4M519 1536h3.4M780 1593h3.4M804 1602h3.4M764 1616h3.4M625 1463h3.4M596 1439h3.4M781 1584h3.4M803 1573h3.4M777 1618h3.4M752 1564h3.4M514 1464h3.4M782 1561h3.4M729 1561h3.4M735 1557h3.4M798 1615h3.4M537 1446h3.4M786 1618h3.4M562 1447h3.4M773 1600h3.4M757 1586h3.4M833 1561h3.4M629 1468h3.4M693 1536h3.4M808 1545h3.4M805 1598h3.4M626 1515h3.4M634 1401h3.4M605 1437h3.4M652 1482h3.4M798 1546h3.4M641 1563h3.4M606 1525h3.4M777 1563h3.4M512 1491h3.4M495 1506h3.4M755 1531h3.4M799 1567h3.4M602 1571h3.4M667 1545h3.4M740 1535h3.4M682 1545h3.4M809 1611h3.4M619 1553h3.4M623 1558h3.4M798 1578h3.4M764 1531h3.4M791 1610h3.4" stroke="#df0908"/>
<path d="M345 1345h3.4M371 1319h3.4M237 1345h3.4M166 1385h3.4M183 1422h3.4M223 1364h3.4M186 1401h3.4M191 1374h3.4M159 1407h3.4M208 1362h3.4M249 1336h3.4M168 1435h3.4M160 1401h3.4M249 1400h3.4M208 1338h3.4M214 1411h3.4M189 1390h3.4M199 1411h3.4M223 1395h3.4M264 1395h3.4M249 1303h3.4M165 1392h3.4M192 1377h3.4M170 1383h3.4M198 1316h3.4M165 1386h3.4M147 1390h3.4M151 1396h3.4M179 1389h3.4M221 1336h3.4M208 1374h3.4M208 1374h3.4M227 1401h3.4M193 1423h3.4M236 1418h3.4M165 1384h3.4M270 1350h3.4M275 1395h3.4M207 1377h3.4M172 1383h3.4M266 1384h3.4M210 1336h3.4M150 1356h3.4M197 1414h3.4M175 1428h3.4M221 1342h3.4M196 1398h3.4M268 1361h3.4M248 1348h3.4M242 1355h3.4M210 1402h3.4M169 1375h3.4M336 1363h3.4M269 1342h3.4M167 1359h3.4M241 1380h3.4M290 1294h3.4M240 1366h3.4M159 1384h3.4M184 1411h3.4M204 1396h3.4M252 1365h3.4M220 1326h3.4M167 1416h3.4M300 1355h3.4M181 1363h3.4M168 1364h3.4M173 1381h3.4M159 1374h3.4M282 1321h3.4M257 1391h3.4M252 1408h3.4M169 1329h3.4M173 1400h3.4M182 1380h3.4M205 1402h3.4M149 1384h3.4M219 1345h3.4M174 1343h3.4M196 1333h3.4M338 1357h3.4M224 1363h3.4M184 1328h3.4M306 1336h3.4M260 1344h3.4M240 1392h3.4M149 1387h3.4M185 1407h3.4M157 1387h3.4M187 1408h3.4M277 1349h3.4M220 1362h3.4M170 1372h3.4M252 1355h3.4M164 1378h3.4M143 1387h3.4M248 1359h3.4M197 1332h3.4M135 1334h3.4M165 1380h3.4M256 1353h3.4M199 1365h3.4M237 1375h3.4M155 1375h3.4M137 1366h3.4M227 1333h3.4M171 1408h3.4M245 1342h3.4M262 1312h3.4M259 1395h3.4M179 1419h3.4M179 1339h3.4M173 1383h3.4M246 1326h3.4M186 1382h3.4M217 1395h3.4M308 1327h3.4M183 1374h3.4M135 1338h3.4M215 1380h3.4M138 1358h3.4M142 1342h3.4M207 1364h3.4M161 1432h3.4M174 1368h3.4M145 1379h3.4M236 1390h3.4M209 1381h3.4M149 1387h3.4M189 1366h3.4M197 1378h3.4M178 1384h3.4M324 1332h3.4M163 1372h3.4M190 1400h3.4M207 1362h3.4M157 1365h3.4M176 1395h3.4M173 1376h3.4M181 1421h3.4M348 1331h3.4M295 1351h3.4M173 1376h3.4M180 1419h3.4M222 1398h3.4M348 1353h3.4M265 1325h3.4M198 1368h3.4M164 1400h3.4M277 1341h3.4M191 1375h3.4M247 1359h3.4M195 1330h3.4M253 1370h3.4M163 1392h3.4M185 1398h3.4M244 1329h3.4M216 1384h3.4M202 1366h3.4M192 1348h3.4M188 1432h3.4M184 1386h3.4M153 1380h3.4M214 1376h3.4M259 1313h3.4M221 1373h3.4M239 1313h3.4M173 1391h3.4M130 1347h3.4M179 1432h3.4M184 1373h3.4M233 1347h3.4M271 1329h3.4M181 1332h3.4M281 1305h3.4M225 1410h3.4M139 1354h3.4M146 1385h3.4M176 1402h3.4M167 1373h3.4M139 1331h3.4M160 1377h3.4M155 1411h3.4M186 1367h3.4M204 1367h3.4M194 1355h3.4" stroke="#dca094"/>
<path d="M356 1167h3.4M180 1079h3.4M240 1040h3.4M164 1183h3.4M306 1147h3.4M277 1033h3.4M292 1088h3.4M330 1003h3.4M200 1175h3.4M290 1100h3.4M245 1025h3.4M181 1213h3.4M338 1174h3.4M265 1039h3.4M275 1046h3.4M290 1061h3.4M333 1007h3.4M284 1118h3.4M296 1060h3.4M244 1045h3.4M238 1082h3.4M174 1089h3.4M245 1080h3.4M315 1111h3.4M299 1163h3.4M341 1065h3.4M228 1095h3.4M252 1145h3.4M148 1158h3.4M128 1143h3.4M217 1083h3.4M243 1131h3.4M252 1047h3.4M354 1033h3.4M293 1112h3.4M196 1156h3.4M323 1077h3.4M274 1062h3.4M275 1143h3.4M290 1012h3.4M130 1224h3.4M332 1144h3.4M242 1169h3.4M210 1147h3.4M145 1140h3.4M339 1045h3.4M217 1102h3.4M312 1076h3.4M146 1090h3.4M294 1151h3.4M311 1059h3.4M254 1068h3.4M351 1002h3.4M220 1136h3.4M320 1070h3.4M180 1120h3.4M236 1050h3.4M313 1070h3.4M215 1112h3.4M174 1175h3.4M261 1037h3.4M167 1167h3.4M177 1170h3.4M251 1095h3.4M161 1060h3.4M362 1123h3.4M369 1042h3.4M212 1113h3.4M139 1123h3.4M240 1119h3.4M217 1184h3.4M222 1137h3.4M218 1044h3.4M195 1130h3.4M309 1105h3.4M328 1034h3.4M177 1072h3.4M170 1077h3.4M223 1049h3.4M298 1105h3.4M304 1150h3.4M237 1099h3.4M210 1057h3.4M363 1137h3.4M126 1169h3.4M180 1111h3.4M193 1106h3.4M231 1121h3.4M327 1147h3.4M242 1135h3.4M151 1106h3.4M297 1142h3.4M176 1175h3.4M150 1191h3.4M327 1126h3.4M299 1143h3.4M267 1169h3.4M199 1180h3.4M346 1046h3.4M123 1180h3.4M364 1047h3.4M310 1121h3.4M182 1093h3.4M248 1100h3.4M145 1084h3.4M361 1042h3.4M260 1110h3.4M218 1089h3.4M251 1137h3.4M178 1122h3.4M338 1109h3.4M326 1139h3.4M218 1064h3.4M329 1062h3.4M182 1145h3.4M172 1184h3.4M202 1097h3.4M279 1025h3.4M368 1014h3.4M232 1051h3.4M331 1041h3.4M378 1043h3.4M266 1073h3.4M278 1114h3.4M314 1003h3.4M152 1165h3.4M292 1058h3.4M266 1050h3.4M208 1072h3.4M336 1158h3.4M401 1017h3.4M309 1103h3.4M363 1151h3.4M189 1059h3.4M354 1013h3.4M207 1133h3.4M134 1221h3.4M340 1012h3.4M159 1216h3.4M369 1143h3.4M221 1127h3.4M253 1092h3.4M251 1073h3.4M231 1138h3.4M321 1015h3.4M160 1197h3.4M163 1084h3.4M268 1148h3.4M295 1077h3.4M330 1121h3.4M249 1134h3.4M247 1027h3.4M276 1139h3.4M227 1051h3.4M306 1002h3.4M206 1070h3.4M301 1012h3.4M322 1061h3.4M248 1171h3.4M314 1029h3.4M140 1077h3.4M168 1198h3.4M139 1191h3.4M189 1119h3.4M191 1122h3.4M198 1100h3.4M300 1028h3.4M331 1035h3.4M205 1074h3.4M343 1072h3.4M341 1044h3.4M245 1095h3.4M133 1103h3.4M148 1144h3.4M341 1115h3.4M151 1157h3.4M173 1108h3.4M154 1085h3.4M160 1226h3.4M303 1051h3.4M204 1115h3.4M137 1166h3.4M192 1148h3.4M184 1128h3.4M158 1174h3.4M331 1108h3.4M311 1129h3.4M140 1158h3.4M282 1086h3.4M151 1106h3.4M273 1079h3.4M189 1153h3.4M191 1137h3.4M254 1075h3.4M286 1095h3.4M177 1183h3.4M265 1121h3.4M191 1094h3.4M361 1048h3.4M221 1092h3.4M298 1034h3.4M168 1117h3.4M189 1109h3.4M151 1173h3.4M286 1013h3.4M157 1121h3.4M337 1130h3.4M374 1158h3.4M340 1077h3.4M233 1089h3.4M236 1089h3.4M241 1068h3.4M160 1094h3.4M294 1109h3.4M163 1224h3.4M241 1018h3.4M220 1083h3.4M312 1079h3.4M180 1096h3.4M144 1078h3.4M184 1216h3.4M364 1030h3.4M161 1168h3.4M187 1066h3.4M303 1028h3.4M237 1155h3.4M287 1093h3.4M226 1138h3.4M218 1117h3.4M172 1094h3.4M142 1203h3.4M232 1101h3.4M312 1066h3.4M365 1144h3.4M192 1131h3.4M310 1078h3.4M183 1165h3.4M242 1067h3.4M387 1021h3.4M297 1049h3.4M214 1085h3.4M231 1129h3.4M289 1101h3.4M176 1131h3.4M288 1021h3.4M203 1109h3.4M272 1105h3.4M135 1168h3.4M184 1080h3.4M357 1181h3.4M226 1072h3.4M133 1218h3.4M276 1046h3.4M259 1094h3.4M246 1030h3.4M374 1152h3.4M257 1018h3.4M336 1089h3.4M265 1111h3.4M235 1119h3.4M237 1076h3.4M183 1142h3.4M199 1127h3.4M167 1208h3.4M249 1164h3.4M221 1094h3.4M284 1081h3.4M261 1043h3.4M277 1059h3.4M351 1019h3.4M284 1132h3.4M269 1118h3.4M154 1220h3.4M259 1042h3.4M231 1089h3.4M155 1088h3.4M160 1166h3.4M260 1073h3.4M394 1097h3.4M243 1072h3.4M194 1179h3.4M300 1092h3.4M147 1124h3.4M320 1143h3.4M321 1069h3.4M293 1013h3.4M190 1143h3.4M310 1017h3.4M224 1106h3.4M183 1184h3.4M188 1119h3.4M259 1179h3.4M215 1123h3.4M373 1144h3.4M237 1062h3.4M243 1101h3.4M243 1040h3.4M187 1166h3.4M218 1075h3.4M315 1060h3.4M219 1088h3.4M141 1194h3.4M213 1143h3.4M216 1083h3.4M166 1166h3.4M158 1075h3.4M313 1083h3.4M256 1129h3.4M220 1087h3.4M309 1079h3.4M338 1109h3.4M128 1218h3.4M359 1165h3.4M387 1123h3.4M173 1060h3.4M328 1083h3.4M132 1186h3.4M218 1087h3.4M185 1091h3.4M332 1069h3.4M298 1084h3.4M296 1117h3.4M309 1057h3.4M248 1114h3.4M350 1012h3.4M247 1053h3.4M204 1073h3.4M187 1136h3.4M343 1057h3.4M159 1175h3.4M183 1167h3.4M124 1219h3.4M223 1117h3.4M248 1102h3.4M287 1010h3.4M152 1222h3.4M153 1228h3.4M214 1113h3.4M184 1103h3.4M180 1091h3.4M207 1092h3.4M388 1093h3.4M252 1034h3.4M164 1188h3.4M383 1033h3.4M357 1043h3.4M166 1201h3.4M143 1154h3.4M208 1061h3.4M231 1086h3.4M264 1035h3.4M314 1034h3.4M403 1075h3.4M398 1071h3.4M221 1192h3.4M175 1135h3.4M189 1139h3.4M286 1068h3.4M327 1093h3.4M205 1195h3.4M158 1179h3.4M374 1110h3.4M226 1122h3.4M225 1034h3.4M264 1082h3.4M280 1130h3.4M195 1170h3.4M224 1104h3.4M219 1141h3.4M287 1089h3.4M232 1095h3.4M288 1067h3.4M300 1118h3.4M260 1089h3.4M179 1128h3.4M267 1064h3.4M197 1170h3.4M150 1126h3.4M265 1086h3.4M248 1208h3.4M273 1123h3.4M325 998h3.4M338 1076h3.4M305 1063h3.4M171 1183h3.4M123 1251h3.4M337 1058h3.4M267 1127h3.4M237 1183h3.4M305 1110h3.4M152 1160h3.4M147 1167h3.4M305 1035h3.4M164 1090h3.4M252 1142h3.4M224 1092h3.4M147 1138h3.4M364 1051h3.4M183 1197h3.4M215 1069h3.4M150 1195h3.4M158 1132h3.4M311 1033h3.4M223 1066h3.4M270 1109h3.4M308 1148h3.4M341 1060h3.4M179 1142h3.4M153 1176h3.4M259 1125h3.4M298 1156h3.4M293 1152h3.4M407 1079h3.4M159 1177h3.4M193 1200h3.4M241 1198h3.4M188 1158h3.4M347 1157h3.4M198 1148h3.4M278 1140h3.4M244 1044h3.4M244 1106h3.4M187 1189h3.4M230 1108h3.4M333 1013h3.4M380 1037h3.4M338 1108h3.4M303 1025h3.4M314 1019h3.4M167 1152h3.4M140 1220h3.4M281 1031h3.4M135 1106h3.4M269 1068h3.4M210 1060h3.4M384 1029h3.4M235 1164h3.4M214 1049h3.4M151 1192h3.4M366 1082h3.4M282 1047h3.4M314 1073h3.4M292 1055h3.4M269 1015h3.4M336 1171h3.4M173 1096h3.4M277 1114h3.4M267 1071h3.4M191 1175h3.4M301 1014h3.4M230 1088h3.4M188 1094h3.4M329 1117h3.4M369 1133h3.4M127 1233h3.4M331 1026h3.4M207 1103h3.4M158 1219h3.4M129 1128h3.4M281 1177h3.4M220 1150h3.4M231 1138h3.4M286 1054h3.4M154 1106h3.4M142 1233h3.4M319 1098h3.4M329 1072h3.4M170 1125h3.4M150 1226h3.4M341 1081h3.4M190 1054h3.4M212 1105h3.4M349 1005h3.4M409 1054h3.4M186 1102h3.4M307 1093h3.4M226 1144h3.4M217 1091h3.4M366 1153h3.4M271 1056h3.4M166 1160h3.4M208 1113h3.4M181 1169h3.4M152 1211h3.4M306 1135h3.4M240 1020h3.4M239 1068h3.4M212 1103h3.4M193 1066h3.4M283 1105h3.4M277 1051h3.4M264 1074h3.4M301 1017h3.4M235 1061h3.4M320 1036h3.4M130 1094h3.4M332 1048h3.4M183 1107h3.4M204 1198h3.4M230 1108h3.4M187 1063h3.4M276 1095h3.4M194 1155h3.4M271 1062h3.4M179 1118h3.4M157 1151h3.4M336 1110h3.4M338 1053h3.4M310 1020h3.4M201 1150h3.4M229 1108h3.4M203 1124h3.4M140 1216h3.4M189 1143h3.4M154 1226h3.4M310 1004h3.4M189 1080h3.4M260 1142h3.4M218 1120h3.4M160 1175h3.4M267 1044h3.4M357 1115h3.4M196 1215h3.4M265 1034h3.4M239 1055h3.4M166 1214h3.4M143 1202h3.4M245 1151h3.4M268 1047h3.4M249 1079h3.4M228 1189h3.4M163 1149h3.4M296 1031h3.4M131 1146h3.4M367 1063h3.4M156 1151h3.4M228 1133h3.4M267 1105h3.4M151 1172h3.4M255 1084h3.4M267 1067h3.4M370 1149h3.4M350 1035h3.4M154 1142h3.4M229 1081h3.4M209 1101h3.4M131 1178h3.4M140 1192h3.4M160 1209h3.4M269 1147h3.4M263 1046h3.4M188 1109h3.4M340 1180h3.4M200 1169h3.4M289 1101h3.4M293 1007h3.4M169 1193h3.4M324 1143h3.4M286 1067h3.4M329 1056h3.4M263 1061h3.4" stroke="#c6b8b5"/>
<path d="M230 1455h3.4M356 1501h3.4M467 1432h3.4M285 1486h3.4M267 1488h3.4M250 1472h3.4M251 1479h3.4M252 1478h3.4M282 1461h3.4M267 1482h3.4M308 1476h3.4M326 1504h3.4M326 1471h3.4M349 1473h3.4M352 1472h3.4M284 1499h3.4M355 1437h3.4M293 1504h3.4M383 1485h3.4M377 1480h3.4M292 1483h3.4M361 1508h3.4M343 1415h3.4M219 1450h3.4M383 1467h3.4M227 1471h3.4M326 1450h3.4M265 1463h3.4M327 1489h3.4M410 1459h3.4M240 1476h3.4M305 1498h3.4M228 1449h3.4M391 1476h3.4M312 1427h3.4M296 1484h3.4M389 1500h3.4M336 1428h3.4M367 1516h3.4M293 1473h3.4M269 1450h3.4M275 1491h3.4M270 1453h3.4M365 1483h3.4M332 1450h3.4M320 1507h3.4M255 1442h3.4M422 1469h3.4M360 1504h3.4M260 1480h3.4M324 1417h3.4M205 1458h3.4M383 1472h3.4M334 1442h3.4M277 1459h3.4M336 1462h3.4M351 1426h3.4M279 1461h3.4M398 1497h3.4M243 1468h3.4M238 1446h3.4M332 1503h3.4M331 1476h3.4M444 1498h3.4M420 1494h3.4M275 1471h3.4M265 1459h3.4M304 1489h3.4M343 1501h3.4M354 1476h3.4M353 1504h3.4M321 1473h3.4M261 1475h3.4M251 1482h3.4M358 1491h3.4M246 1476h3.4M250 1453h3.4M246 1471h3.4M328 1495h3.4M380 1475h3.4M368 1501h3.4M348 1475h3.4M352 1502h3.4M229 1457h3.4M317 1479h3.4M345 1470h3.4M388 1511h3.4M283 1482h3.4M256 1438h3.4M310 1490h3.4M247 1458h3.4M359 1501h3.4M343 1453h3.4M250 1476h3.4M293 1432h3.4M390 1474h3.4M241 1468h3.4M350 1468h3.4M269 1489h3.4M344 1477h3.4M237 1471h3.4M347 1459h3.4M427 1485h3.4M307 1470h3.4M304 1477h3.4M353 1508h3.4M365 1486h3.4M342 1503h3.4M384 1515h3.4M307 1474h3.4M313 1475h3.4M365 1472h3.4M304 1469h3.4M273 1467h3.4M243 1476h3.4M301 1470h3.4M326 1452h3.4M330 1464h3.4M261 1468h3.4M371 1448h3.4M292 1468h3.4M256 1480h3.4M343 1475h3.4M296 1450h3.4M337 1481h3.4M279 1465h3.4M303 1473h3.4M338 1472h3.4M333 1439h3.4M230 1460h3.4M364 1465h3.4M325 1459h3.4M344 1459h3.4M332 1472h3.4M370 1473h3.4M215 1459h3.4M411 1447h3.4M328 1483h3.4M297 1492h3.4M319 1481h3.4M265 1478h3.4M373 1485h3.4M308 1474h3.4M370 1478h3.4M288 1492h3.4M364 1463h3.4M376 1493h3.4M347 1516h3.4M430 1472h3.4M334 1452h3.4M289 1454h3.4M273 1476h3.4M241 1438h3.4M361 1472h3.4M296 1481h3.4M228 1449h3.4M265 1470h3.4M320 1503h3.4M380 1469h3.4M354 1507h3.4M313 1433h3.4M364 1448h3.4M359 1514h3.4M252 1460h3.4M308 1494h3.4M333 1503h3.4M381 1462h3.4M350 1515h3.4M337 1467h3.4M310 1488h3.4M267 1444h3.4M238 1475h3.4M307 1449h3.4M319 1450h3.4M327 1515h3.4M307 1449h3.4M382 1487h3.4M267 1472h3.4M373 1452h3.4M367 1459h3.4M404 1519h3.4M314 1449h3.4M260 1461h3.4M314 1491h3.4M337 1512h3.4M329 1512h3.4M334 1479h3.4M254 1456h3.4M374 1488h3.4M340 1508h3.4M333 1491h3.4M334 1492h3.4M288 1487h3.4" stroke="#ec8673"/>
<path d="M758 1472h3.4M801 1456h3.4M792 1447h3.4M758 1455h3.4M757 1462h3.4M818 1472h3.4M632 1359h3.4M830 1469h3.4M779 1461h3.4M747 1437h3.4M896 1497h3.4M893 1483h3.4M783 1460h3.4M911 1526h3.4M783 1470h3.4M830 1449h3.4M926 1511h3.4M587 1382h3.4M786 1455h3.4M887 1497h3.4M815 1485h3.4M908 1500h3.4M915 1472h3.4M879 1482h3.4M907 1485h3.4M772 1462h3.4M575 1391h3.4M774 1473h3.4M717 1435h3.4M881 1514h3.4M706 1410h3.4M782 1463h3.4M984 1478h3.4M690 1391h3.4M778 1457h3.4M723 1448h3.4M865 1456h3.4M673 1377h3.4M895 1441h3.4M917 1533h3.4M891 1479h3.4M609 1372h3.4M696 1393h3.4M940 1518h3.4M668 1370h3.4M889 1459h3.4M884 1461h3.4M545 1401h3.4M891 1477h3.4M650 1359h3.4M605 1373h3.4M674 1369h3.4M902 1476h3.4M934 1519h3.4M896 1479h3.4M852 1445h3.4M949 1503h3.4M908 1499h3.4M796 1460h3.4M744 1467h3.4M775 1463h3.4M920 1512h3.4M866 1451h3.4M916 1499h3.4M657 1360h3.4M936 1504h3.4M862 1445h3.4M756 1470h3.4M696 1401h3.4M850 1444h3.4M881 1457h3.4M920 1514h3.4M928 1483h3.4M869 1444h3.4M906 1478h3.4M914 1492h3.4M602 1369h3.4M642 1360h3.4M970 1488h3.4M814 1448h3.4M825 1453h3.4M928 1450h3.4M912 1484h3.4M827 1460h3.4M691 1381h3.4M686 1387h3.4M646 1358h3.4M922 1490h3.4M708 1409h3.4M940 1504h3.4M910 1486h3.4M899 1547h3.4M711 1431h3.4M882 1456h3.4M914 1519h3.4M876 1456h3.4M586 1381h3.4M735 1437h3.4M724 1463h3.4M961 1497h3.4M919 1510h3.4M912 1511h3.4M910 1539h3.4M638 1362h3.4M938 1508h3.4M919 1487h3.4M883 1464h3.4M828 1487h3.4M627 1364h3.4M933 1505h3.4M762 1477h3.4M949 1499h3.4M890 1505h3.4M719 1450h3.4M878 1473h3.4M886 1475h3.4M846 1457h3.4M735 1443h3.4M716 1437h3.4M886 1503h3.4M628 1354h3.4M561 1399h3.4M900 1466h3.4" stroke="#a80606"/>
<path d="M1044 1116h3.4M995 1240h3.4M1058 1152h3.4M977 1153h3.4M971 1293h3.4M1005 1151h3.4M1010 1128h3.4M959 1177h3.4M960 1279h3.4M1013 1134h3.4M1036 1194h3.4M987 1181h3.4M949 1274h3.4M916 1196h3.4M962 1178h3.4M904 1309h3.4M988 1190h3.4M961 1122h3.4M1015 1151h3.4M979 1145h3.4M949 1263h3.4M1074 1206h3.4M724 1287h3.4M569 1289h3.4M1088 1157h3.4M810 1332h3.4M1060 1244h3.4M891 1317h3.4M640 1322h3.4M915 1176h3.4M980 1145h3.4M595 1294h3.4M1021 1251h3.4M1034 1218h3.4M945 1271h3.4M1042 1172h3.4M949 1170h3.4M850 1302h3.4M944 1173h3.4M1046 1175h3.4M737 1277h3.4M988 1201h3.4M979 1156h3.4M996 1180h3.4M1090 1161h3.4M655 1316h3.4M986 1250h3.4M1028 1241h3.4M1015 1182h3.4M956 1181h3.4M931 1147h3.4M673 1311h3.4M949 1168h3.4M608 1331h3.4M1025 1177h3.4M1052 1129h3.4M918 1188h3.4M1071 1204h3.4M810 1292h3.4M1025 1267h3.4M1019 1163h3.4M971 1176h3.4M1074 1193h3.4M973 1132h3.4M982 1212h3.4M998 1146h3.4M1019 1176h3.4M1030 1226h3.4M1000 1245h3.4M889 1193h3.4M1082 1199h3.4M1033 1174h3.4M1040 1185h3.4M988 1284h3.4M992 1106h3.4M626 1310h3.4M920 1183h3.4M1024 1175h3.4M933 1152h3.4M1013 1208h3.4M976 1223h3.4M977 1201h3.4M982 1221h3.4M500 1301h3.4M959 1207h3.4M972 1212h3.4M916 1173h3.4M1024 1137h3.4M983 1226h3.4M923 1169h3.4M1082 1223h3.4M934 1165h3.4M960 1247h3.4M1030 1249h3.4M1006 1190h3.4M1042 1188h3.4M1061 1230h3.4M965 1162h3.4M961 1275h3.4M620 1305h3.4M1014 1159h3.4M957 1203h3.4M925 1165h3.4M978 1285h3.4M925 1120h3.4M1011 1269h3.4M927 1191h3.4M1022 1222h3.4M972 1208h3.4M994 1282h3.4M1066 1225h3.4M802 1320h3.4M1001 1167h3.4M1059 1235h3.4M1073 1246h3.4M575 1332h3.4M1008 1121h3.4M1013 1250h3.4M627 1305h3.4M1072 1153h3.4M992 1185h3.4M998 1227h3.4M929 1310h3.4M581 1326h3.4M977 1129h3.4M1010 1136h3.4M951 1275h3.4M1030 1195h3.4M1004 1296h3.4M1006 1144h3.4M964 1150h3.4M935 1156h3.4M1004 1168h3.4M1000 1133h3.4M969 1234h3.4M972 1163h3.4M963 1212h3.4M1007 1223h3.4M954 1282h3.4M955 1273h3.4M1058 1187h3.4M936 1167h3.4M603 1301h3.4M949 1153h3.4M961 1252h3.4M1045 1220h3.4M993 1223h3.4M1020 1196h3.4M825 1283h3.4M956 1279h3.4M939 1182h3.4M937 1257h3.4M1013 1195h3.4M933 1159h3.4M970 1215h3.4M954 1159h3.4M985 1246h3.4M978 1213h3.4M1018 1212h3.4M935 1220h3.4M1031 1173h3.4M983 1289h3.4M962 1225h3.4M1050 1244h3.4M909 1183h3.4M1024 1193h3.4M792 1270h3.4M965 1164h3.4M704 1303h3.4M975 1194h3.4M1085 1176h3.4M1006 1196h3.4M776 1304h3.4M929 1230h3.4M1099 1229h3.4M961 1262h3.4M1030 1215h3.4M1019 1159h3.4M937 1210h3.4M1036 1245h3.4M932 1313h3.4M956 1293h3.4M964 1274h3.4M951 1141h3.4M729 1284h3.4M649 1303h3.4M991 1186h3.4M986 1240h3.4M958 1248h3.4M1022 1137h3.4M991 1283h3.4M948 1310h3.4M1025 1184h3.4M969 1197h3.4M950 1230h3.4M1008 1098h3.4M1056 1212h3.4M925 1212h3.4M704 1293h3.4M976 1247h3.4M990 1267h3.4M838 1292h3.4M1030 1177h3.4M1022 1183h3.4M995 1221h3.4M1035 1102h3.4M1050 1227h3.4M648 1303h3.4M1081 1186h3.4M1058 1212h3.4M869 1305h3.4M1018 1266h3.4M932 1324h3.4M1062 1253h3.4M992 1216h3.4M933 1174h3.4M974 1146h3.4M992 1243h3.4M925 1151h3.4M1017 1212h3.4M1056 1202h3.4M974 1204h3.4M995 1209h3.4M940 1155h3.4M1017 1151h3.4M975 1122h3.4M862 1296h3.4M953 1150h3.4M961 1146h3.4M916 1171h3.4M932 1234h3.4M1074 1208h3.4M925 1306h3.4M986 1165h3.4M1036 1152h3.4M920 1173h3.4M952 1163h3.4M672 1308h3.4M980 1247h3.4M860 1320h3.4M1051 1189h3.4M944 1206h3.4M928 1156h3.4M1101 1206h3.4M1060 1215h3.4M838 1309h3.4M958 1162h3.4M1054 1172h3.4M1001 1123h3.4M1092 1161h3.4M616 1314h3.4M977 1158h3.4M1023 1197h3.4M1023 1123h3.4M936 1156h3.4M915 1323h3.4M996 1177h3.4M866 1302h3.4M953 1226h3.4M984 1171h3.4M951 1169h3.4M590 1300h3.4M907 1163h3.4M1029 1251h3.4M814 1299h3.4M1000 1150h3.4M1000 1113h3.4M940 1299h3.4M982 1193h3.4M939 1156h3.4M960 1251h3.4M1028 1167h3.4M929 1149h3.4M988 1212h3.4M1007 1129h3.4M925 1144h3.4M978 1131h3.4M1005 1236h3.4M942 1182h3.4M937 1160h3.4M936 1231h3.4M1012 1231h3.4M1069 1270h3.4M1013 1214h3.4M943 1301h3.4M958 1167h3.4M855 1254h3.4M1036 1187h3.4M978 1216h3.4M974 1130h3.4M995 1188h3.4M1047 1151h3.4M974 1139h3.4M980 1137h3.4M632 1315h3.4M1050 1102h3.4M971 1162h3.4M1033 1202h3.4M986 1257h3.4M976 1108h3.4M996 1209h3.4M933 1163h3.4M1065 1167h3.4M978 1261h3.4M592 1316h3.4M959 1165h3.4M1020 1162h3.4M1001 1157h3.4M980 1125h3.4M1031 1164h3.4M721 1292h3.4M976 1134h3.4M570 1357h3.4M960 1177h3.4M1051 1218h3.4M989 1213h3.4M485 1322h3.4M991 1273h3.4M1016 1230h3.4M1015 1152h3.4M1045 1229h3.4M698 1300h3.4M953 1318h3.4M982 1222h3.4M846 1332h3.4M898 1105h3.4M981 1101h3.4M928 1207h3.4M1010 1189h3.4M1059 1199h3.4M1010 1243h3.4M701 1291h3.4M1005 1181h3.4M1058 1219h3.4M927 1229h3.4M1019 1283h3.4M1001 1270h3.4M915 1316h3.4M798 1296h3.4M960 1207h3.4M1014 1231h3.4M661 1307h3.4M951 1187h3.4M996 1238h3.4M979 1160h3.4M1060 1240h3.4M764 1293h3.4M999 1199h3.4M1012 1217h3.4M987 1251h3.4M664 1311h3.4M1028 1086h3.4M958 1198h3.4M743 1277h3.4M698 1315h3.4M955 1147h3.4M816 1286h3.4M1093 1170h3.4M1043 1110h3.4M527 1346h3.4M958 1228h3.4M945 1155h3.4M992 1187h3.4M655 1308h3.4M832 1249h3.4M1031 1150h3.4M684 1303h3.4M921 1163h3.4M1054 1216h3.4M964 1204h3.4M1064 1210h3.4M1029 1112h3.4M922 1221h3.4M987 1126h3.4M951 1151h3.4M968 1152h3.4M1088 1188h3.4M992 1217h3.4M945 1232h3.4M965 1247h3.4M1019 1220h3.4M697 1298h3.4M1043 1221h3.4M975 1245h3.4M1014 1095h3.4M967 1146h3.4M850 1262h3.4M749 1283h3.4M932 1310h3.4M764 1309h3.4M1057 1110h3.4M964 1179h3.4M739 1293h3.4M1079 1152h3.4M1068 1164h3.4M1022 1215h3.4M946 1181h3.4M644 1309h3.4M1021 1204h3.4M907 1291h3.4M968 1218h3.4M808 1281h3.4M932 1175h3.4M1004 1194h3.4M971 1202h3.4M814 1269h3.4M1010 1166h3.4M984 1193h3.4M1026 1260h3.4M1024 1222h3.4M1040 1186h3.4M995 1157h3.4M1012 1225h3.4M930 1147h3.4M991 1216h3.4M986 1153h3.4M1024 1107h3.4M922 1218h3.4M993 1197h3.4M993 1135h3.4M964 1259h3.4M989 1122h3.4M984 1120h3.4M1044 1171h3.4M972 1131h3.4M926 1220h3.4M990 1183h3.4M1087 1236h3.4M915 1187h3.4M1022 1199h3.4M956 1188h3.4M965 1231h3.4M978 1239h3.4M959 1223h3.4M941 1227h3.4M990 1265h3.4M1018 1240h3.4M936 1180h3.4M923 1223h3.4M973 1094h3.4M1072 1138h3.4M924 1161h3.4M986 1197h3.4M1033 1246h3.4M647 1312h3.4M944 1137h3.4M941 1231h3.4M943 1109h3.4M946 1161h3.4M982 1271h3.4M807 1284h3.4M960 1181h3.4M1035 1240h3.4M921 1202h3.4M1030 1147h3.4M1044 1240h3.4M946 1094h3.4M1090 1202h3.4M1069 1134h3.4M975 1274h3.4M954 1282h3.4M1076 1241h3.4M969 1207h3.4M1027 1217h3.4M1085 1213h3.4M927 1312h3.4M981 1252h3.4M956 1158h3.4M989 1274h3.4M952 1253h3.4M990 1216h3.4M789 1331h3.4M969 1269h3.4M922 1323h3.4M884 1302h3.4M1005 1262h3.4M993 1272h3.4M1033 1175h3.4M994 1247h3.4M1015 1110h3.4M953 1181h3.4M979 1155h3.4M1067 1236h3.4M1002 1228h3.4M704 1322h3.4M942 1213h3.4M1000 1152h3.4M912 1119h3.4M1002 1247h3.4M724 1291h3.4M999 1255h3.4M977 1252h3.4M1003 1226h3.4M986 1195h3.4M941 1292h3.4M1050 1261h3.4M633 1304h3.4M976 1202h3.4M971 1297h3.4M986 1200h3.4M928 1318h3.4M614 1324h3.4M985 1198h3.4M610 1316h3.4M1019 1205h3.4M978 1190h3.4M936 1239h3.4M1029 1205h3.4M1026 1151h3.4M617 1295h3.4M998 1234h3.4M970 1160h3.4M1050 1129h3.4M1000 1268h3.4M1042 1221h3.4M964 1257h3.4M986 1162h3.4M762 1269h3.4M559 1363h3.4M955 1217h3.4M965 1260h3.4M1074 1223h3.4M673 1300h3.4M1052 1220h3.4M1009 1207h3.4M759 1292h3.4M1033 1164h3.4M1018 1259h3.4M995 1185h3.4M1007 1142h3.4M972 1197h3.4M1003 1213h3.4M1021 1148h3.4M920 1207h3.4" stroke="#630202"/>
<path d="M130 1246h3.4M156 1187h3.4M337 1035h3.4M395 1110h3.4M338 1189h3.4M147 1240h3.4M353 1168h3.4M216 1207h3.4M274 1224h3.4M179 1241h3.4M174 1226h3.4M174 1227h3.4M140 1248h3.4M350 1159h3.4M329 1077h3.4M135 1229h3.4M177 1283h3.4M289 1167h3.4M155 1255h3.4M283 1258h3.4M355 1150h3.4M344 1072h3.4M162 1229h3.4M356 1020h3.4M189 1200h3.4M221 1261h3.4M387 1090h3.4M182 1183h3.4M333 1113h3.4M365 1044h3.4M149 1259h3.4M299 1197h3.4M333 1218h3.4M411 1033h3.4M333 1043h3.4M231 1238h3.4M137 1221h3.4M180 1276h3.4M167 1303h3.4M132 1241h3.4M170 1226h3.4M162 1258h3.4M368 1157h3.4M226 1238h3.4M379 1119h3.4M283 1096h3.4M311 1053h3.4M327 1193h3.4M351 1032h3.4M144 1281h3.4M357 1125h3.4M160 1251h3.4M354 1175h3.4M159 1240h3.4M156 1223h3.4M149 1235h3.4M153 1276h3.4M285 1172h3.4M328 1198h3.4M122 1312h3.4M172 1234h3.4M126 1244h3.4M174 1292h3.4M159 1266h3.4M132 1287h3.4M362 1113h3.4M174 1264h3.4M337 1106h3.4M281 1238h3.4M351 1166h3.4M201 1220h3.4M358 1159h3.4M301 1178h3.4M166 1260h3.4M131 1276h3.4M148 1247h3.4M278 1222h3.4M185 1235h3.4M149 1249h3.4M369 1152h3.4M326 1043h3.4M136 1221h3.4M183 1230h3.4M135 1274h3.4M379 1130h3.4M353 1053h3.4M152 1232h3.4M126 1243h3.4M138 1234h3.4M127 1261h3.4M314 1158h3.4M159 1236h3.4M164 1257h3.4M170 1204h3.4M196 1206h3.4M131 1298h3.4M373 1072h3.4M364 1104h3.4M357 1027h3.4M126 1235h3.4M307 1026h3.4M218 1253h3.4M155 1222h3.4M288 1214h3.4M191 1239h3.4M119 1260h3.4M330 1199h3.4M193 1210h3.4M336 1045h3.4M381 1107h3.4M186 1236h3.4M279 1088h3.4M147 1224h3.4M231 1168h3.4M138 1255h3.4M162 1224h3.4M254 1234h3.4M164 1209h3.4M234 1251h3.4M313 1031h3.4M360 1156h3.4M414 1075h3.4M253 1204h3.4M319 1163h3.4M346 1170h3.4M159 1241h3.4M160 1239h3.4M291 1045h3.4M370 1120h3.4M345 1016h3.4M384 1128h3.4M151 1275h3.4M183 1239h3.4M124 1258h3.4M175 1243h3.4M127 1215h3.4M141 1244h3.4M164 1252h3.4M188 1215h3.4M281 1055h3.4M374 1043h3.4M131 1215h3.4M217 1198h3.4M265 1225h3.4M343 1159h3.4M131 1294h3.4M318 1133h3.4M137 1281h3.4M324 1045h3.4M290 1069h3.4M150 1239h3.4M340 1115h3.4M144 1249h3.4M274 1215h3.4M125 1227h3.4M287 1132h3.4M329 1193h3.4M285 1201h3.4M310 1079h3.4M320 1147h3.4M328 1223h3.4M328 1031h3.4M244 1246h3.4M218 1226h3.4M348 1189h3.4M193 1213h3.4M222 1203h3.4M261 1215h3.4M356 1195h3.4M296 1182h3.4M205 1193h3.4M137 1224h3.4M328 1106h3.4M147 1235h3.4M167 1247h3.4M128 1294h3.4M162 1264h3.4M301 1221h3.4M280 1064h3.4M370 1091h3.4M137 1247h3.4M294 1220h3.4M301 1074h3.4M123 1234h3.4M334 1223h3.4M241 1223h3.4M168 1249h3.4M139 1196h3.4M132 1245h3.4M155 1216h3.4M144 1291h3.4M172 1221h3.4M291 1238h3.4M173 1227h3.4M175 1244h3.4M222 1245h3.4M117 1228h3.4M230 1262h3.4M358 1048h3.4M255 1182h3.4M252 1246h3.4M261 1159h3.4M355 1138h3.4M164 1255h3.4M356 1143h3.4M402 1098h3.4M348 1204h3.4M373 1064h3.4M290 1033h3.4M371 1121h3.4M317 1217h3.4M146 1289h3.4M398 1062h3.4M294 1174h3.4M145 1181h3.4M349 1030h3.4M157 1205h3.4M181 1206h3.4M143 1224h3.4M137 1252h3.4M276 1194h3.4M137 1285h3.4M381 1019h3.4M374 1059h3.4M161 1252h3.4M393 1052h3.4M371 1045h3.4M154 1250h3.4M134 1266h3.4M146 1198h3.4M144 1222h3.4M161 1240h3.4M155 1206h3.4M335 1037h3.4M295 1176h3.4M353 1164h3.4M329 1197h3.4M406 1073h3.4M406 1064h3.4M353 1005h3.4M346 1032h3.4M308 1038h3.4M338 1210h3.4M127 1284h3.4M166 1244h3.4M171 1191h3.4M272 1229h3.4M328 1181h3.4M272 1169h3.4M127 1236h3.4M401 1069h3.4" stroke="#ceb2ac"/>
<path d="M196 1435h3.4M195 1411h3.4M382 1425h3.4M247 1478h3.4M229 1434h3.4M266 1447h3.4M272 1464h3.4M187 1402h3.4M318 1403h3.4M209 1430h3.4M322 1441h3.4M247 1419h3.4M188 1439h3.4M361 1420h3.4M289 1477h3.4M196 1434h3.4M294 1392h3.4M185 1418h3.4M216 1407h3.4M272 1450h3.4M220 1424h3.4M255 1395h3.4M182 1390h3.4M342 1443h3.4M209 1398h3.4M187 1444h3.4M193 1444h3.4M267 1407h3.4M248 1452h3.4M231 1450h3.4M186 1420h3.4M182 1442h3.4M329 1394h3.4M265 1428h3.4M376 1415h3.4M204 1401h3.4M244 1395h3.4M159 1399h3.4M189 1415h3.4M333 1390h3.4M243 1427h3.4M200 1386h3.4M205 1427h3.4M247 1437h3.4M200 1426h3.4M256 1435h3.4M209 1449h3.4M171 1399h3.4M242 1413h3.4M220 1466h3.4M269 1453h3.4M263 1451h3.4M241 1392h3.4M322 1439h3.4M174 1435h3.4M327 1437h3.4M241 1429h3.4M308 1408h3.4M240 1400h3.4M208 1391h3.4M262 1477h3.4M242 1433h3.4M197 1386h3.4M247 1433h3.4M221 1448h3.4M311 1411h3.4M157 1416h3.4M251 1478h3.4M276 1394h3.4M302 1394h3.4M393 1408h3.4M255 1436h3.4M214 1423h3.4M192 1439h3.4M208 1436h3.4M188 1431h3.4M223 1424h3.4M300 1422h3.4M202 1394h3.4M246 1410h3.4M171 1437h3.4M256 1375h3.4M306 1387h3.4M195 1424h3.4M209 1449h3.4M222 1439h3.4M177 1435h3.4M222 1395h3.4M270 1443h3.4M211 1400h3.4M163 1426h3.4M363 1413h3.4M257 1417h3.4M318 1434h3.4M294 1444h3.4M306 1423h3.4M213 1458h3.4M248 1455h3.4M189 1400h3.4M236 1437h3.4M204 1425h3.4M292 1435h3.4M180 1447h3.4M328 1456h3.4M177 1428h3.4M231 1414h3.4M294 1433h3.4M214 1407h3.4M292 1414h3.4M290 1405h3.4M278 1425h3.4M186 1425h3.4M186 1432h3.4M275 1474h3.4M177 1445h3.4M276 1442h3.4M236 1471h3.4M290 1450h3.4M256 1437h3.4M190 1409h3.4M233 1401h3.4M249 1428h3.4M250 1398h3.4M238 1465h3.4M258 1463h3.4M198 1438h3.4M163 1428h3.4M315 1426h3.4M393 1377h3.4M270 1405h3.4M205 1441h3.4M276 1461h3.4M254 1436h3.4M205 1430h3.4M181 1405h3.4M262 1419h3.4M220 1434h3.4M195 1447h3.4M180 1430h3.4M318 1383h3.4M298 1411h3.4M224 1449h3.4M178 1420h3.4M369 1449h3.4M170 1407h3.4M313 1427h3.4M180 1410h3.4M201 1448h3.4M248 1375h3.4M171 1406h3.4M252 1425h3.4M340 1383h3.4M297 1445h3.4M245 1446h3.4M250 1470h3.4M180 1444h3.4M314 1349h3.4M241 1386h3.4M216 1445h3.4M337 1414h3.4M203 1441h3.4M231 1461h3.4M220 1404h3.4M212 1459h3.4M211 1409h3.4M246 1445h3.4M267 1451h3.4M252 1438h3.4M195 1438h3.4M193 1416h3.4M351 1379h3.4M209 1408h3.4M285 1434h3.4M278 1467h3.4M373 1404h3.4M263 1472h3.4M236 1433h3.4M240 1446h3.4M229 1387h3.4M225 1371h3.4M296 1382h3.4M258 1406h3.4M297 1466h3.4M318 1430h3.4M273 1432h3.4M223 1451h3.4M164 1405h3.4M235 1446h3.4M245 1440h3.4M283 1449h3.4M258 1435h3.4M199 1416h3.4M247 1443h3.4M157 1403h3.4M190 1438h3.4M222 1443h3.4M309 1429h3.4M331 1467h3.4M300 1423h3.4M288 1437h3.4M249 1454h3.4M305 1410h3.4M353 1389h3.4M309 1430h3.4M178 1419h3.4M161 1420h3.4M221 1454h3.4M198 1422h3.4M249 1437h3.4M193 1435h3.4M188 1419h3.4M300 1458h3.4M274 1460h3.4M245 1430h3.4M257 1363h3.4" stroke="#e49687"/>
<path d="M568 1196h3.4M673 1243h3.4M681 1246h3.4M600 1175h3.4M668 1257h3.4M705 1261h3.4M668 1222h3.4M678 1223h3.4M686 1214h3.4M672 1268h3.4M721 1217h3.4M651 1175h3.4M670 1208h3.4M697 1228h3.4M643 1231h3.4M673 1253h3.4M679 1174h3.4M560 1161h3.4M560 1173h3.4M717 1202h3.4M691 1251h3.4M682 1238h3.4M683 1245h3.4M620 1183h3.4M603 1176h3.4M617 1203h3.4M663 1245h3.4M605 1170h3.4M643 1240h3.4M695 1211h3.4M701 1182h3.4M578 1188h3.4M712 1242h3.4M620 1196h3.4M682 1240h3.4M655 1216h3.4M679 1252h3.4M603 1188h3.4M715 1206h3.4M684 1245h3.4M688 1209h3.4M586 1200h3.4M590 1191h3.4M675 1227h3.4M675 1230h3.4M704 1253h3.4M667 1212h3.4M581 1169h3.4M722 1213h3.4M711 1254h3.4M682 1238h3.4M601 1172h3.4M651 1203h3.4M606 1166h3.4M684 1247h3.4M614 1174h3.4M704 1235h3.4M688 1251h3.4M594 1164h3.4M692 1250h3.4M692 1244h3.4M686 1266h3.4M705 1251h3.4M674 1206h3.4M697 1241h3.4M644 1206h3.4M701 1229h3.4M580 1169h3.4M662 1221h3.4M709 1239h3.4M678 1223h3.4M662 1217h3.4M607 1161h3.4M676 1253h3.4M703 1255h3.4M653 1242h3.4M625 1219h3.4M676 1273h3.4M720 1220h3.4M678 1267h3.4M683 1196h3.4M684 1235h3.4M690 1254h3.4M682 1231h3.4M666 1246h3.4M669 1216h3.4M704 1240h3.4M678 1262h3.4M605 1196h3.4M700 1226h3.4M666 1230h3.4M674 1211h3.4M653 1237h3.4M711 1252h3.4M614 1171h3.4M637 1226h3.4M724 1236h3.4M679 1225h3.4M610 1224h3.4M701 1253h3.4M572 1184h3.4M680 1206h3.4M610 1196h3.4" stroke="#370000"/>
<path d="M938 1492h3.4M962 1472h3.4M952 1492h3.4M1023 1434h3.4M688 1364h3.4M946 1427h3.4M926 1448h3.4M582 1378h3.4M883 1435h3.4M961 1440h3.4M924 1469h3.4M987 1477h3.4M930 1436h3.4M930 1395h3.4M717 1382h3.4M764 1424h3.4M919 1414h3.4M905 1430h3.4M949 1485h3.4M995 1436h3.4M937 1461h3.4M961 1420h3.4M673 1355h3.4M727 1421h3.4M695 1378h3.4M931 1470h3.4M996 1420h3.4M601 1365h3.4M894 1444h3.4M919 1451h3.4M957 1475h3.4M1014 1441h3.4M864 1428h3.4M974 1488h3.4M942 1457h3.4M992 1452h3.4M960 1465h3.4M949 1445h3.4M976 1461h3.4M978 1463h3.4M914 1433h3.4M924 1459h3.4M906 1425h3.4M694 1378h3.4M842 1436h3.4M950 1412h3.4M788 1442h3.4M1005 1413h3.4M949 1386h3.4M765 1428h3.4M969 1496h3.4M928 1446h3.4M885 1455h3.4M895 1439h3.4M947 1410h3.4M956 1427h3.4M1020 1427h3.4M958 1432h3.4M920 1468h3.4M766 1441h3.4M561 1383h3.4M730 1436h3.4M892 1432h3.4M932 1469h3.4M947 1471h3.4M920 1441h3.4M943 1431h3.4M965 1421h3.4M928 1463h3.4M594 1363h3.4M913 1465h3.4M654 1342h3.4M944 1475h3.4M937 1374h3.4M945 1470h3.4M912 1460h3.4M834 1449h3.4M949 1386h3.4M994 1455h3.4M938 1378h3.4M959 1432h3.4M947 1405h3.4M958 1440h3.4M780 1435h3.4M1021 1420h3.4M986 1426h3.4M952 1393h3.4M938 1424h3.4M961 1487h3.4M926 1428h3.4M944 1484h3.4M920 1456h3.4M986 1443h3.4M968 1456h3.4M858 1432h3.4M988 1441h3.4M971 1490h3.4M931 1433h3.4M746 1411h3.4M776 1444h3.4M941 1461h3.4M946 1466h3.4M908 1393h3.4M920 1413h3.4M916 1411h3.4M980 1473h3.4M988 1444h3.4M994 1471h3.4M902 1426h3.4M942 1418h3.4M905 1459h3.4M983 1473h3.4M942 1462h3.4M972 1469h3.4M980 1483h3.4M918 1450h3.4M704 1379h3.4M951 1493h3.4M560 1384h3.4M775 1420h3.4M761 1439h3.4M678 1367h3.4M942 1407h3.4M954 1479h3.4M926 1491h3.4M957 1418h3.4M936 1403h3.4M953 1498h3.4M990 1458h3.4M917 1392h3.4M944 1494h3.4M934 1498h3.4M949 1462h3.4M1019 1451h3.4M919 1383h3.4M939 1405h3.4M974 1428h3.4M979 1454h3.4M907 1404h3.4M855 1436h3.4M884 1444h3.4M664 1353h3.4M962 1399h3.4M794 1442h3.4M911 1412h3.4M913 1480h3.4M967 1481h3.4M571 1384h3.4M927 1462h3.4M957 1505h3.4M926 1472h3.4M1003 1404h3.4M646 1347h3.4M946 1370h3.4M943 1454h3.4M973 1469h3.4M950 1371h3.4M890 1433h3.4M894 1459h3.4M980 1440h3.4M924 1420h3.4M872 1415h3.4M954 1410h3.4M901 1433h3.4M888 1431h3.4M949 1434h3.4M896 1425h3.4M923 1408h3.4M922 1462h3.4M603 1361h3.4M1001 1421h3.4M963 1470h3.4M761 1432h3.4M987 1462h3.4M951 1388h3.4M751 1413h3.4M971 1470h3.4M988 1457h3.4M779 1429h3.4M951 1438h3.4M963 1452h3.4M668 1345h3.4M971 1431h3.4M958 1442h3.4" stroke="#960606"/>
<path d="M452 1392h3.4M469 1578h3.4M380 1349h3.4M321 1378h3.4M467 1483h3.4M351 1265h3.4M361 1273h3.4M418 1324h3.4M482 1568h3.4M339 1241h3.4M330 1325h3.4M445 1091h3.4M399 1508h3.4M455 1263h3.4M411 1121h3.4M353 1245h3.4M303 1390h3.4M463 1279h3.4M388 1531h3.4M464 1384h3.4M430 1128h3.4M413 1379h3.4M287 1330h3.4M401 1256h3.4M488 1478h3.4M396 1317h3.4M398 1357h3.4M323 1340h3.4M373 1313h3.4M388 1321h3.4M407 1431h3.4M370 1335h3.4M263 1385h3.4M349 1230h3.4M405 1316h3.4M337 1329h3.4M406 1378h3.4M477 1518h3.4M398 1249h3.4M427 1238h3.4M352 1304h3.4M360 1451h3.4M355 1297h3.4M401 1473h3.4M416 1222h3.4M418 1271h3.4M359 1451h3.4M437 1245h3.4M382 1325h3.4M436 1120h3.4M397 1318h3.4M433 1423h3.4M315 1363h3.4M434 1518h3.4M444 1447h3.4M452 1094h3.4M469 1304h3.4M296 1483h3.4M265 1369h3.4M398 1145h3.4M388 1259h3.4M361 1349h3.4M301 1413h3.4M408 1254h3.4M292 1340h3.4M316 1373h3.4M400 1276h3.4M466 1307h3.4M401 1239h3.4M350 1437h3.4M382 1256h3.4M317 1372h3.4M473 1236h3.4M346 1395h3.4M409 1339h3.4M419 1335h3.4M394 1160h3.4M410 1343h3.4M473 1175h3.4M278 1377h3.4M343 1344h3.4M396 1228h3.4M397 1353h3.4M379 1226h3.4M406 1421h3.4M355 1317h3.4M417 1433h3.4M350 1310h3.4M396 1193h3.4M387 1512h3.4M385 1368h3.4M294 1320h3.4M416 1331h3.4M392 1309h3.4M322 1274h3.4M424 1140h3.4M401 1254h3.4M452 1351h3.4M434 1108h3.4M427 1315h3.4M375 1207h3.4M415 1334h3.4M416 1397h3.4M432 1454h3.4M372 1214h3.4M472 1410h3.4M400 1377h3.4M337 1368h3.4M399 1258h3.4M395 1271h3.4M327 1406h3.4M433 1311h3.4M449 1377h3.4M350 1232h3.4M441 1271h3.4M391 1188h3.4M369 1244h3.4M416 1209h3.4M345 1251h3.4M381 1290h3.4M435 1544h3.4M456 1379h3.4M369 1236h3.4M382 1287h3.4M383 1368h3.4M434 1111h3.4M425 1251h3.4M354 1270h3.4M340 1268h3.4M306 1344h3.4M434 1429h3.4M396 1317h3.4M330 1308h3.4M435 1331h3.4M488 1452h3.4M367 1340h3.4M383 1222h3.4M398 1329h3.4M379 1332h3.4M319 1403h3.4M392 1272h3.4M351 1348h3.4M326 1281h3.4M364 1329h3.4M422 1336h3.4M489 1559h3.4M411 1334h3.4M373 1285h3.4M282 1364h3.4M489 1441h3.4M292 1341h3.4M283 1350h3.4M352 1233h3.4M370 1189h3.4M457 1555h3.4M427 1249h3.4M338 1329h3.4M431 1170h3.4M367 1275h3.4M407 1464h3.4M405 1269h3.4M486 1576h3.4M405 1127h3.4M406 1245h3.4M410 1342h3.4M408 1236h3.4M452 1439h3.4M407 1137h3.4M442 1113h3.4M407 1197h3.4M396 1139h3.4M369 1224h3.4M460 1398h3.4M423 1080h3.4M276 1379h3.4M402 1388h3.4M402 1432h3.4M446 1323h3.4M410 1297h3.4M427 1495h3.4M393 1321h3.4M364 1237h3.4M381 1194h3.4M344 1383h3.4M398 1293h3.4M441 1318h3.4M377 1376h3.4M312 1305h3.4M338 1329h3.4M428 1359h3.4M434 1281h3.4M446 1101h3.4M416 1467h3.4M469 1502h3.4M286 1403h3.4M366 1528h3.4M353 1497h3.4M310 1432h3.4M354 1258h3.4M411 1361h3.4M387 1232h3.4M366 1284h3.4M486 1306h3.4M334 1302h3.4M325 1376h3.4M301 1365h3.4M340 1448h3.4M293 1320h3.4M320 1326h3.4M389 1153h3.4M479 1214h3.4M369 1361h3.4M324 1468h3.4M446 1397h3.4M435 1366h3.4M385 1293h3.4M388 1311h3.4M402 1322h3.4M398 1259h3.4M377 1244h3.4M410 1284h3.4M369 1289h3.4M472 1561h3.4M346 1266h3.4M290 1369h3.4M356 1370h3.4M419 1250h3.4M324 1392h3.4M283 1365h3.4M413 1367h3.4M435 1217h3.4M327 1268h3.4M373 1295h3.4M413 1296h3.4M320 1284h3.4M472 1413h3.4M366 1292h3.4M385 1206h3.4M330 1257h3.4M318 1384h3.4M388 1358h3.4M277 1368h3.4M452 1180h3.4M437 1141h3.4M337 1263h3.4M378 1276h3.4M421 1238h3.4M305 1386h3.4M444 1098h3.4M457 1118h3.4M359 1283h3.4M388 1200h3.4M426 1315h3.4M349 1254h3.4M406 1157h3.4M288 1358h3.4M463 1137h3.4M296 1322h3.4M400 1284h3.4M393 1200h3.4M476 1312h3.4M396 1293h3.4M312 1469h3.4M391 1204h3.4M358 1288h3.4M386 1223h3.4M409 1259h3.4M443 1156h3.4M278 1382h3.4M340 1309h3.4M328 1300h3.4M318 1328h3.4M377 1200h3.4M418 1286h3.4M411 1263h3.4M351 1322h3.4M390 1136h3.4M268 1394h3.4M446 1287h3.4M355 1318h3.4M423 1302h3.4M411 1290h3.4M484 1573h3.4M397 1211h3.4M421 1224h3.4M397 1255h3.4M429 1408h3.4M410 1339h3.4M325 1389h3.4M374 1536h3.4M397 1290h3.4M393 1180h3.4M399 1258h3.4M372 1263h3.4M311 1377h3.4M420 1190h3.4M274 1409h3.4M394 1293h3.4M370 1327h3.4M401 1292h3.4M449 1262h3.4M345 1414h3.4M369 1468h3.4M371 1368h3.4M379 1259h3.4M379 1460h3.4M416 1469h3.4M256 1389h3.4M383 1369h3.4M297 1340h3.4M399 1254h3.4M318 1310h3.4M471 1434h3.4M410 1157h3.4M401 1349h3.4M400 1227h3.4M402 1227h3.4M282 1370h3.4M397 1204h3.4M348 1307h3.4M288 1398h3.4M371 1192h3.4M336 1353h3.4M392 1257h3.4M478 1436h3.4M295 1421h3.4M463 1123h3.4M357 1215h3.4M342 1326h3.4M360 1442h3.4M427 1372h3.4" stroke="#fd5033"/>
<path d="M983 1379h3.4M687 1350h3.4M883 1421h3.4M934 1385h3.4M943 1384h3.4M976 1408h3.4M1035 1422h3.4M698 1346h3.4M978 1366h3.4M738 1387h3.4M1028 1441h3.4M967 1365h3.4M700 1361h3.4M975 1383h3.4M1004 1401h3.4M892 1428h3.4M909 1414h3.4M699 1366h3.4M853 1410h3.4M989 1333h3.4M733 1402h3.4M960 1374h3.4M903 1380h3.4M588 1363h3.4M1067 1386h3.4M983 1339h3.4M953 1344h3.4M946 1389h3.4M1039 1413h3.4M989 1369h3.4M888 1422h3.4M895 1379h3.4M716 1359h3.4M1007 1374h3.4M1060 1377h3.4M611 1345h3.4M912 1401h3.4M861 1427h3.4M632 1336h3.4M700 1370h3.4M661 1343h3.4M788 1414h3.4M879 1402h3.4M868 1426h3.4M973 1430h3.4M867 1431h3.4M825 1417h3.4M779 1397h3.4M709 1342h3.4M975 1380h3.4M1006 1399h3.4M639 1331h3.4M904 1384h3.4M856 1410h3.4M962 1424h3.4M649 1334h3.4M684 1338h3.4M923 1375h3.4M928 1375h3.4M578 1375h3.4M928 1377h3.4M875 1412h3.4M691 1350h3.4M881 1401h3.4M970 1376h3.4M936 1352h3.4M1006 1403h3.4M842 1431h3.4M1022 1394h3.4M905 1389h3.4M740 1399h3.4M972 1396h3.4M832 1412h3.4M856 1420h3.4M855 1386h3.4M942 1359h3.4M998 1378h3.4M1027 1397h3.4M953 1365h3.4M821 1433h3.4M994 1374h3.4M924 1390h3.4M636 1330h3.4M835 1413h3.4M969 1375h3.4M738 1367h3.4M914 1414h3.4M874 1395h3.4M1006 1380h3.4M975 1410h3.4M936 1359h3.4M729 1389h3.4M851 1392h3.4M1003 1402h3.4M944 1351h3.4M963 1363h3.4M1033 1414h3.4M896 1389h3.4M912 1380h3.4M928 1348h3.4M631 1337h3.4M655 1342h3.4M858 1396h3.4M935 1373h3.4M742 1367h3.4M987 1369h3.4M700 1345h3.4M1012 1376h3.4M916 1392h3.4M982 1368h3.4M910 1378h3.4M950 1353h3.4M976 1382h3.4M856 1417h3.4M951 1426h3.4M652 1336h3.4M685 1338h3.4M838 1420h3.4M972 1359h3.4M854 1416h3.4M963 1359h3.4M882 1421h3.4M628 1333h3.4M644 1333h3.4M694 1369h3.4M948 1355h3.4M1009 1384h3.4M590 1369h3.4M762 1403h3.4M687 1360h3.4M888 1399h3.4M963 1374h3.4M998 1384h3.4M674 1341h3.4M686 1356h3.4M1033 1408h3.4M974 1371h3.4M997 1376h3.4M922 1390h3.4M537 1388h3.4M940 1357h3.4M1038 1408h3.4M927 1377h3.4M582 1375h3.4M927 1367h3.4M671 1343h3.4M870 1402h3.4M860 1419h3.4" stroke="#850404"/>
<path d="M714 1638h3.4M578 1617h3.4M569 1641h3.4M604 1657h3.4M620 1668h3.4M583 1660h3.4M651 1657h3.4M553 1648h3.4M596 1641h3.4M612 1592h3.4M686 1611h3.4M646 1649h3.4M613 1627h3.4M640 1631h3.4M584 1646h3.4M675 1660h3.4M608 1662h3.4M729 1638h3.4M609 1647h3.4M572 1610h3.4M721 1645h3.4M716 1649h3.4M625 1652h3.4M731 1641h3.4M693 1624h3.4M607 1646h3.4M599 1662h3.4M592 1637h3.4M675 1622h3.4M714 1640h3.4M734 1625h3.4M558 1632h3.4M703 1624h3.4M704 1632h3.4M628 1649h3.4M606 1649h3.4M639 1617h3.4M625 1648h3.4M610 1668h3.4M734 1625h3.4M718 1640h3.4M666 1658h3.4M572 1674h3.4M589 1690h3.4M716 1621h3.4M618 1658h3.4M728 1614h3.4M704 1656h3.4M698 1647h3.4M610 1609h3.4M597 1652h3.4M649 1655h3.4M640 1637h3.4M654 1672h3.4M654 1659h3.4M606 1644h3.4M645 1587h3.4M643 1630h3.4M602 1634h3.4M618 1582h3.4M726 1625h3.4M610 1641h3.4M701 1604h3.4M686 1641h3.4M655 1620h3.4M605 1676h3.4M594 1640h3.4M632 1630h3.4M701 1614h3.4M683 1638h3.4M625 1631h3.4M624 1620h3.4M624 1621h3.4M643 1653h3.4M654 1652h3.4M608 1616h3.4M718 1627h3.4M746 1630h3.4M714 1618h3.4M707 1636h3.4M597 1669h3.4M697 1614h3.4M614 1595h3.4M690 1656h3.4M676 1597h3.4M692 1648h3.4M671 1634h3.4M721 1635h3.4M629 1628h3.4M644 1656h3.4M676 1644h3.4M574 1668h3.4M643 1682h3.4M602 1623h3.4M642 1662h3.4M607 1615h3.4M590 1691h3.4M721 1623h3.4M698 1661h3.4M687 1669h3.4M614 1602h3.4M598 1647h3.4M722 1640h3.4M715 1634h3.4M577 1612h3.4M642 1609h3.4M684 1627h3.4M604 1598h3.4M588 1632h3.4M673 1654h3.4M664 1630h3.4M725 1644h3.4M597 1651h3.4M638 1648h3.4M733 1642h3.4M704 1611h3.4M700 1655h3.4M697 1602h3.4M641 1627h3.4M608 1676h3.4M680 1617h3.4M605 1630h3.4M648 1671h3.4M608 1663h3.4M559 1653h3.4M596 1623h3.4M593 1639h3.4M615 1671h3.4M660 1675h3.4M605 1604h3.4M658 1637h3.4M590 1661h3.4M679 1620h3.4M670 1630h3.4M730 1607h3.4M665 1635h3.4M724 1642h3.4M607 1628h3.4M725 1607h3.4M622 1616h3.4M667 1618h3.4M621 1663h3.4M596 1631h3.4M643 1620h3.4M710 1643h3.4M605 1679h3.4M656 1668h3.4M595 1633h3.4M644 1644h3.4M738 1641h3.4M621 1643h3.4M700 1633h3.4M668 1634h3.4M566 1662h3.4M667 1636h3.4M647 1611h3.4M689 1623h3.4M596 1687h3.4M729 1592h3.4M738 1635h3.4M640 1653h3.4M686 1587h3.4M664 1593h3.4M609 1646h3.4M662 1637h3.4M738 1641h3.4M683 1610h3.4M671 1662h3.4M650 1608h3.4M673 1611h3.4M593 1582h3.4M718 1602h3.4M721 1595h3.4M568 1643h3.4M711 1655h3.4M641 1586h3.4M591 1654h3.4M692 1641h3.4M598 1646h3.4M738 1628h3.4M657 1620h3.4M682 1633h3.4M645 1667h3.4M589 1622h3.4M602 1657h3.4M603 1623h3.4M598 1642h3.4M572 1624h3.4M659 1591h3.4M694 1654h3.4M658 1682h3.4M643 1641h3.4M625 1616h3.4M655 1644h3.4M634 1645h3.4M616 1621h3.4M588 1604h3.4M698 1640h3.4M725 1625h3.4M616 1614h3.4M732 1624h3.4M617 1624h3.4M727 1618h3.4M636 1664h3.4M686 1615h3.4M700 1634h3.4M605 1655h3.4M573 1665h3.4M587 1661h3.4M616 1610h3.4M651 1653h3.4M721 1651h3.4" stroke="#fc150f"/>
<path d="M821 1184h3.4M835 1186h3.4M774 1198h3.4M618 1245h3.4M675 1280h3.4M639 1289h3.4M639 1275h3.4M836 1119h3.4M659 1283h3.4M860 1169h3.4M660 1286h3.4M851 1168h3.4M808 1208h3.4M680 1280h3.4M704 1283h3.4M628 1281h3.4M844 1092h3.4M815 1156h3.4M826 1132h3.4M760 1219h3.4M648 1273h3.4M856 1175h3.4M871 1104h3.4M825 1162h3.4M759 1200h3.4M741 1230h3.4M817 1196h3.4M779 1167h3.4M741 1173h3.4M785 1212h3.4M729 1165h3.4M707 1173h3.4M779 1211h3.4M746 1216h3.4M797 1200h3.4M799 1136h3.4M785 1161h3.4M771 1188h3.4M744 1224h3.4M689 1288h3.4M838 1201h3.4M618 1255h3.4M756 1236h3.4M787 1165h3.4M625 1272h3.4M780 1138h3.4M771 1183h3.4M845 1128h3.4M763 1221h3.4M757 1197h3.4M827 1191h3.4M728 1264h3.4M670 1278h3.4M860 1184h3.4M839 1165h3.4M764 1150h3.4M676 1284h3.4M794 1226h3.4M767 1142h3.4M690 1275h3.4M746 1191h3.4M681 1282h3.4M777 1144h3.4M775 1131h3.4M738 1198h3.4M809 1218h3.4M821 1116h3.4M734 1172h3.4M630 1269h3.4M841 1125h3.4M769 1201h3.4M832 1178h3.4M645 1283h3.4M796 1141h3.4M746 1250h3.4M830 1165h3.4M816 1215h3.4M789 1185h3.4M713 1155h3.4M774 1193h3.4M727 1274h3.4M651 1280h3.4M864 1173h3.4M764 1173h3.4M801 1216h3.4M829 1145h3.4M806 1226h3.4M756 1169h3.4M841 1178h3.4M823 1197h3.4M766 1175h3.4M674 1295h3.4M795 1191h3.4M772 1187h3.4M677 1294h3.4M851 1170h3.4M734 1164h3.4M756 1170h3.4M815 1207h3.4M826 1179h3.4M738 1176h3.4M668 1283h3.4M619 1258h3.4M751 1220h3.4M850 1159h3.4M796 1144h3.4M828 1180h3.4M631 1275h3.4M748 1254h3.4M735 1202h3.4M732 1264h3.4M775 1152h3.4M686 1283h3.4M504 1236h3.4M656 1282h3.4M753 1199h3.4M769 1193h3.4M786 1187h3.4M802 1166h3.4M728 1183h3.4M758 1184h3.4M750 1217h3.4M709 1271h3.4M788 1237h3.4M670 1282h3.4M790 1175h3.4M770 1233h3.4M731 1163h3.4" stroke="#4c0101"/>
<path d="M866 1499h3.4M777 1473h3.4M864 1552h3.4M890 1500h3.4M836 1511h3.4M574 1403h3.4M807 1516h3.4M659 1382h3.4M875 1474h3.4M689 1457h3.4M845 1507h3.4M850 1486h3.4M870 1567h3.4M697 1406h3.4M889 1534h3.4M889 1477h3.4M819 1466h3.4M707 1455h3.4M866 1483h3.4M668 1386h3.4M890 1542h3.4M689 1424h3.4M646 1366h3.4M851 1520h3.4M771 1495h3.4M696 1412h3.4M813 1497h3.4M872 1537h3.4M853 1556h3.4M867 1513h3.4M844 1526h3.4M800 1484h3.4M725 1456h3.4M863 1572h3.4M895 1507h3.4M841 1508h3.4M809 1473h3.4M876 1475h3.4M772 1479h3.4M694 1420h3.4M889 1496h3.4M822 1513h3.4M819 1460h3.4M606 1375h3.4M894 1551h3.4M894 1508h3.4M868 1547h3.4M860 1528h3.4M855 1520h3.4M847 1498h3.4M695 1466h3.4M893 1529h3.4M889 1543h3.4M625 1371h3.4M811 1493h3.4M762 1495h3.4M839 1531h3.4M846 1490h3.4M885 1511h3.4M843 1499h3.4M732 1475h3.4M749 1482h3.4M865 1508h3.4M810 1493h3.4M783 1507h3.4M724 1435h3.4M850 1541h3.4M843 1520h3.4M896 1540h3.4M799 1478h3.4M822 1536h3.4M815 1505h3.4M830 1485h3.4M678 1381h3.4M720 1443h3.4M905 1510h3.4M681 1418h3.4M834 1540h3.4M819 1476h3.4M704 1446h3.4M839 1531h3.4M726 1476h3.4M884 1493h3.4M781 1490h3.4M797 1481h3.4M830 1508h3.4M857 1548h3.4M678 1400h3.4M876 1507h3.4M832 1520h3.4M682 1416h3.4M832 1527h3.4M877 1524h3.4M849 1536h3.4M598 1380h3.4M852 1459h3.4M802 1499h3.4M703 1455h3.4M841 1519h3.4M857 1484h3.4M654 1378h3.4M565 1412h3.4M884 1535h3.4M675 1395h3.4M783 1493h3.4M836 1478h3.4M911 1516h3.4M833 1480h3.4M923 1511h3.4M869 1461h3.4M689 1387h3.4M887 1479h3.4M821 1484h3.4M833 1516h3.4M703 1425h3.4M881 1560h3.4M780 1475h3.4M540 1412h3.4M897 1547h3.4M880 1498h3.4M900 1514h3.4M823 1519h3.4M884 1527h3.4M713 1446h3.4M705 1435h3.4M892 1537h3.4M747 1465h3.4M828 1533h3.4M883 1510h3.4M833 1536h3.4M843 1524h3.4M827 1505h3.4M643 1373h3.4M869 1475h3.4M579 1389h3.4M832 1478h3.4M643 1373h3.4M915 1521h3.4M640 1366h3.4M683 1433h3.4M731 1467h3.4M848 1470h3.4M887 1494h3.4M910 1540h3.4M736 1494h3.4M865 1548h3.4M677 1383h3.4M848 1474h3.4M907 1535h3.4M857 1495h3.4M840 1488h3.4M698 1438h3.4M849 1507h3.4M858 1480h3.4M865 1520h3.4M768 1492h3.4M668 1376h3.4M779 1501h3.4M785 1484h3.4M872 1556h3.4M815 1488h3.4M836 1472h3.4M804 1475h3.4M710 1419h3.4M875 1535h3.4M802 1507h3.4M862 1525h3.4M891 1510h3.4M593 1395h3.4M819 1503h3.4M809 1487h3.4M830 1490h3.4" stroke="#ba0707"/>
<path d="M365 1235h3.4M485 1543h3.4M439 1528h3.4M391 1157h3.4M406 1542h3.4M330 1299h3.4M386 1318h3.4M434 1539h3.4M312 1361h3.4M433 1107h3.4M477 1293h3.4M396 1247h3.4M485 1569h3.4M464 1523h3.4M437 1556h3.4M398 1251h3.4M455 1539h3.4M297 1342h3.4M473 1543h3.4M458 1545h3.4M426 1546h3.4M402 1530h3.4M372 1209h3.4M365 1323h3.4M404 1530h3.4M349 1237h3.4" stroke="#f96449"/>
<path d="M638 1253h3.4M744 1228h3.4M739 1203h3.4M713 1173h3.4M725 1171h3.4M742 1156h3.4M742 1210h3.4M694 1177h3.4M758 1173h3.4M708 1181h3.4M724 1252h3.4M773 1194h3.4M753 1200h3.4M643 1269h3.4M725 1140h3.4M764 1180h3.4M715 1175h3.4M834 1167h3.4M753 1206h3.4M775 1188h3.4M741 1235h3.4M735 1181h3.4M743 1154h3.4M699 1217h3.4M749 1195h3.4M796 1145h3.4M803 1141h3.4M724 1223h3.4M673 1262h3.4M758 1134h3.4M773 1145h3.4M767 1144h3.4M778 1201h3.4M810 1138h3.4M804 1194h3.4M757 1151h3.4M770 1153h3.4M714 1216h3.4M756 1215h3.4M683 1188h3.4M735 1251h3.4M650 1236h3.4M737 1187h3.4M728 1217h3.4M750 1193h3.4M809 1182h3.4M743 1198h3.4M736 1204h3.4M734 1231h3.4M620 1180h3.4M646 1262h3.4M662 1195h3.4M722 1219h3.4M721 1189h3.4M583 1215h3.4M730 1198h3.4M713 1229h3.4M726 1201h3.4M770 1138h3.4M655 1171h3.4M691 1157h3.4M693 1255h3.4M763 1182h3.4M747 1143h3.4M652 1253h3.4M746 1208h3.4M730 1178h3.4M717 1246h3.4M739 1158h3.4M631 1238h3.4M646 1260h3.4M653 1266h3.4M755 1157h3.4M754 1190h3.4M721 1238h3.4M719 1241h3.4M731 1234h3.4M666 1200h3.4M653 1253h3.4M723 1205h3.4M683 1264h3.4M768 1196h3.4M736 1238h3.4M657 1226h3.4M771 1198h3.4M765 1172h3.4M645 1263h3.4M803 1165h3.4M729 1253h3.4M779 1179h3.4M719 1176h3.4M780 1193h3.4M712 1229h3.4M695 1161h3.4M815 1111h3.4M714 1234h3.4M783 1143h3.4M739 1138h3.4M742 1153h3.4M747 1223h3.4M675 1269h3.4M733 1138h3.4M684 1207h3.4M716 1152h3.4M693 1170h3.4M716 1198h3.4M706 1204h3.4M683 1272h3.4M687 1175h3.4M769 1161h3.4M688 1180h3.4M612 1221h3.4M618 1246h3.4M675 1260h3.4M674 1278h3.4M733 1192h3.4M728 1185h3.4M702 1271h3.4M759 1174h3.4M662 1280h3.4M736 1192h3.4M827 1125h3.4M745 1172h3.4M767 1130h3.4M700 1252h3.4M781 1185h3.4M639 1272h3.4M728 1202h3.4M813 1172h3.4M636 1270h3.4M739 1156h3.4M724 1237h3.4M714 1256h3.4M674 1197h3.4M687 1279h3.4M627 1256h3.4M757 1143h3.4M661 1276h3.4M634 1251h3.4M629 1221h3.4M697 1200h3.4M714 1188h3.4M733 1231h3.4M663 1261h3.4M735 1157h3.4M688 1267h3.4M777 1169h3.4M805 1158h3.4M781 1204h3.4M681 1273h3.4M726 1192h3.4M734 1204h3.4M676 1196h3.4M718 1175h3.4M658 1268h3.4M651 1271h3.4M734 1219h3.4M765 1215h3.4M746 1205h3.4M735 1209h3.4M719 1259h3.4M754 1203h3.4M795 1149h3.4M776 1188h3.4M678 1203h3.4M680 1268h3.4M687 1165h3.4M750 1183h3.4M764 1144h3.4M780 1141h3.4M708 1234h3.4M685 1262h3.4M782 1182h3.4M742 1213h3.4M757 1193h3.4M767 1143h3.4M765 1199h3.4M674 1273h3.4M497 1116h3.4M787 1138h3.4M770 1138h3.4M733 1218h3.4M670 1223h3.4M817 1179h3.4M615 1246h3.4M730 1160h3.4M706 1192h3.4M666 1247h3.4M671 1245h3.4M721 1214h3.4M726 1150h3.4M648 1236h3.4M731 1225h3.4M763 1162h3.4M729 1153h3.4M766 1202h3.4M698 1164h3.4M648 1275h3.4M633 1222h3.4M730 1224h3.4M824 1182h3.4M790 1165h3.4M674 1256h3.4M763 1140h3.4M740 1239h3.4M720 1180h3.4M662 1257h3.4M733 1207h3.4M689 1272h3.4M710 1202h3.4" stroke="#410000"/>
<path d="M461 1384h3.4M404 1326h3.4M430 1152h3.4M398 1301h3.4M359 1298h3.4M379 1190h3.4M443 1391h3.4M441 1207h3.4M480 1423h3.4M349 1332h3.4M427 1487h3.4M350 1256h3.4M272 1382h3.4M384 1294h3.4M383 1228h3.4M321 1397h3.4M384 1273h3.4M290 1346h3.4M454 1449h3.4M360 1260h3.4M436 1103h3.4M478 1460h3.4M475 1552h3.4M464 1415h3.4M410 1097h3.4M291 1379h3.4M392 1353h3.4M335 1282h3.4M454 1439h3.4M398 1397h3.4M376 1362h3.4M399 1335h3.4M391 1264h3.4M476 1395h3.4M387 1173h3.4M434 1340h3.4M359 1195h3.4M314 1303h3.4M342 1338h3.4M387 1266h3.4M335 1363h3.4M460 1490h3.4M466 1148h3.4M307 1389h3.4M437 1275h3.4M428 1285h3.4M346 1343h3.4M399 1303h3.4M315 1364h3.4M435 1242h3.4M378 1210h3.4M407 1302h3.4M418 1327h3.4M431 1286h3.4M456 1192h3.4M446 1245h3.4M475 1121h3.4M399 1283h3.4M401 1312h3.4M430 1077h3.4M359 1267h3.4M329 1392h3.4M382 1359h3.4M413 1289h3.4M489 1296h3.4M443 1490h3.4M373 1213h3.4M443 1164h3.4M410 1303h3.4M376 1511h3.4M387 1184h3.4M432 1455h3.4M348 1233h3.4M393 1338h3.4M423 1124h3.4M350 1370h3.4M398 1305h3.4M461 1490h3.4M426 1114h3.4M392 1213h3.4M393 1191h3.4M406 1282h3.4M401 1198h3.4M292 1323h3.4M355 1250h3.4M350 1209h3.4M401 1139h3.4M352 1301h3.4M473 1433h3.4M403 1141h3.4M376 1238h3.4M322 1307h3.4M416 1326h3.4M423 1370h3.4M376 1181h3.4M462 1477h3.4M375 1340h3.4M373 1265h3.4M412 1140h3.4M319 1339h3.4M430 1276h3.4M340 1356h3.4M357 1353h3.4M400 1243h3.4M390 1214h3.4M445 1268h3.4M411 1301h3.4M437 1158h3.4M403 1193h3.4M437 1115h3.4M424 1399h3.4M315 1454h3.4M371 1220h3.4M464 1385h3.4M372 1259h3.4M398 1211h3.4M393 1279h3.4M364 1211h3.4M372 1347h3.4M470 1371h3.4M275 1399h3.4M411 1350h3.4M367 1237h3.4M316 1434h3.4M403 1334h3.4M268 1383h3.4M434 1361h3.4M398 1276h3.4" stroke="#fe3c22"/>
<path d="M406 1488h3.4M354 1487h3.4M400 1513h3.4M392 1504h3.4M453 1497h3.4M432 1512h3.4M428 1548h3.4M455 1539h3.4M354 1521h3.4M398 1538h3.4M387 1507h3.4M464 1545h3.4M419 1506h3.4M370 1475h3.4M470 1501h3.4M389 1482h3.4M391 1490h3.4M442 1514h3.4M447 1491h3.4M438 1526h3.4M398 1472h3.4M339 1502h3.4M346 1514h3.4M310 1505h3.4M376 1497h3.4M397 1519h3.4M373 1492h3.4M368 1512h3.4M425 1524h3.4M407 1525h3.4M442 1538h3.4M328 1497h3.4M402 1486h3.4M440 1525h3.4M427 1515h3.4M417 1510h3.4M425 1526h3.4M440 1525h3.4M449 1528h3.4M460 1541h3.4M378 1525h3.4M411 1510h3.4M395 1535h3.4M382 1531h3.4M311 1509h3.4M361 1477h3.4M439 1490h3.4M369 1518h3.4M443 1521h3.4M380 1505h3.4M402 1532h3.4M423 1546h3.4M355 1477h3.4M339 1498h3.4M411 1533h3.4M425 1525h3.4M466 1510h3.4M417 1483h3.4M300 1489h3.4M409 1533h3.4M444 1511h3.4M409 1526h3.4M464 1526h3.4M426 1546h3.4M304 1493h3.4M433 1512h3.4M374 1534h3.4M333 1516h3.4M417 1543h3.4M378 1510h3.4M456 1486h3.4M453 1525h3.4M425 1529h3.4M416 1530h3.4M368 1498h3.4M418 1467h3.4M381 1511h3.4M427 1513h3.4M364 1486h3.4M408 1527h3.4M401 1532h3.4M376 1532h3.4M359 1526h3.4M416 1527h3.4M300 1486h3.4M369 1503h3.4M307 1493h3.4M421 1511h3.4M464 1523h3.4M371 1511h3.4M445 1523h3.4M340 1506h3.4M437 1522h3.4M425 1537h3.4M455 1516h3.4M428 1504h3.4" stroke="#f4755e"/>
<path d="M251 1142h3.4M145 1129h3.4M168 1061h3.4M208 1154h3.4M207 1118h3.4M135 1140h3.4M199 1087h3.4M181 1095h3.4M143 1069h3.4M129 1093h3.4M192 1106h3.4M190 1085h3.4M300 1014h3.4M191 1133h3.4M137 1127h3.4M179 1080h3.4M175 1112h3.4M167 1158h3.4M187 1056h3.4M240 1019h3.4M215 1111h3.4M159 1092h3.4M219 1068h3.4M242 1086h3.4M194 1057h3.4M227 1111h3.4M152 1124h3.4M157 1128h3.4M291 1008h3.4M200 1121h3.4M164 1144h3.4M191 1076h3.4M192 1132h3.4M306 1006h3.4M158 1071h3.4M242 1094h3.4M167 1099h3.4M156 1095h3.4M224 1151h3.4M151 1127h3.4M204 1114h3.4M130 1110h3.4M147 1072h3.4M194 1056h3.4M226 1109h3.4M196 1060h3.4M171 1149h3.4M132 1111h3.4M142 1096h3.4M224 1127h3.4M131 1119h3.4M187 1129h3.4M315 1024h3.4M171 1133h3.4M182 1080h3.4M276 1014h3.4M166 1151h3.4M146 1102h3.4M136 1089h3.4M177 1144h3.4M207 1073h3.4M162 1105h3.4M139 1168h3.4M166 1102h3.4M200 1113h3.4M148 1106h3.4M175 1123h3.4M145 1151h3.4M208 1066h3.4M226 1132h3.4M158 1135h3.4M208 1124h3.4M180 1126h3.4M145 1126h3.4M192 1102h3.4M159 1124h3.4M151 1155h3.4M256 1035h3.4M153 1118h3.4M203 1076h3.4" stroke="#bebebe"/>
<path d="M602 1637h3.4M601 1624h3.4M634 1653h3.4M612 1639h3.4M621 1680h3.4M589 1687h3.4M565 1650h3.4M630 1641h3.4M628 1646h3.4M624 1654h3.4M610 1667h3.4M596 1636h3.4M623 1670h3.4M597 1632h3.4M576 1646h3.4M611 1669h3.4M644 1652h3.4M603 1657h3.4M626 1656h3.4M609 1637h3.4M604 1648h3.4" stroke="#fd2919"/>
</g>
<defs><linearGradient id="cb2" x1="0" y1="1" x2="0" y2="0"><stop offset="0" stop-color="#eeeaea"/><stop offset="0.13" stop-color="#fcc4b4"/><stop offset="0.25" stop-color="#ff9a82"/><stop offset="0.37" stop-color="#ff5f44"/><stop offset="0.47" stop-color="#ff2a18"/><stop offset="0.5" stop-color="#ff0000"/><stop offset="0.62" stop-color="#cc0004"/><stop offset="0.75" stop-color="#8e0008"/><stop offset="0.88" stop-color="#560004"/><stop offset="1" stop-color="#320000"/></linearGradient></defs>
<rect x="657.5" y="695" width="22.5" height="150.3" fill="url(#cb2)"/>
<text x="683" y="700.5" font-size="18" fill="#333">1.00</text>
<path d="M674.5 731.8 H680" stroke="#fff" stroke-width="1"/>
<text x="683" y="738.2" font-size="18" fill="#333">0.75</text>
<path d="M674.5 769.5 H680" stroke="#fff" stroke-width="1"/>
<text x="683" y="776" font-size="18" fill="#333">0.50</text>
<path d="M674.5 807.2 H680" stroke="#fff" stroke-width="1"/>
<text x="683" y="813.8" font-size="18" fill="#333">0.25</text>
<text x="683" y="851.5" font-size="18" fill="#333">0</text>
<text x="10" y="944" font-size="56" font-weight="bold" fill="#000">B</text>
<circle cx="56.6" cy="977" r="7" fill="#1f77b4"/>
<text x="69.1" y="986.5" font-size="27" font-weight="bold" fill="#1f77b4">C0</text>
<circle cx="124" cy="977" r="7" fill="#ff7f0e"/>
<text x="136.5" y="986.5" font-size="27" font-weight="bold" fill="#ff7f0e">C1</text>
<circle cx="193.2" cy="977" r="7" fill="#2ca02c"/>
<text x="205.7" y="986.5" font-size="27" font-weight="bold" fill="#2ca02c">C2</text>
<circle cx="262.7" cy="977" r="7" fill="#d62728"/>
<text x="275.2" y="986.5" font-size="27" font-weight="bold" fill="#d62728">C3</text>
<circle cx="334.7" cy="977" r="7" fill="#9467bd"/>
<text x="347.2" y="986.5" font-size="27" font-weight="bold" fill="#9467bd">C4</text>
<circle cx="405" cy="977" r="7" fill="#8c564b"/>
<text x="417.5" y="986.5" font-size="27" font-weight="bold" fill="#8c564b">C5</text>
<circle cx="473.7" cy="977" r="7" fill="#e377c2"/>
<text x="486.2" y="986.5" font-size="27" font-weight="bold" fill="#e377c2">C6</text>
<circle cx="543" cy="977" r="7" fill="#bcbd22"/>
<text x="555.5" y="986.5" font-size="27" font-weight="bold" fill="#bcbd22">C7</text>
<circle cx="613.7" cy="977" r="7" fill="#17becf"/>
<text x="626.2" y="986.5" font-size="27" font-weight="bold" fill="#17becf">C8</text>
<g shape-rendering="crispEdges">
<rect x="47.8" y="993" width="92.7" height="23.4" fill="#9467bd"/>
<rect x="139.9" y="993" width="97" height="23.4" fill="#2ca02c"/>
<rect x="236.3" y="993" width="22.4" height="23.4" fill="#6a8a50"/>
<rect x="258.1" y="993" width="31.7" height="23.4" fill="#e377c2"/>
<rect x="289.2" y="993" width="39.2" height="23.4" fill="#d07020"/>
<rect x="327.8" y="993" width="8.1" height="23.4" fill="#17becf"/>
<rect x="335.3" y="993" width="86.5" height="23.4" fill="#ff7f0e"/>
<rect x="421.1" y="993" width="24.2" height="23.4" fill="#a07050"/>
<rect x="444.8" y="993" width="101.4" height="23.4" fill="#1f77b4"/>
<rect x="545.6" y="993" width="70.3" height="23.4" fill="#1f77b4"/>
<rect x="615.2" y="993" width="55.4" height="23.4" fill="#d62728"/>
<path d="M57.8 993v23.4M106.8 993v23.4M132.9 993v23.4M239.2 993v23.4M250.6 993v23.4M251.3 993v23.4" stroke="#e377c2" stroke-width="1.3"/>
<path d="M52.1 993v23.4M62.3 993v23.4M76 993v23.4M97.2 993v23.4M113 993v23.4M122.8 993v23.4" stroke="#7a6a9a" stroke-width="1.3"/>
<path d="M61.2 993v23.4M77.3 993v23.4M85.5 993v23.4M98.8 993v23.4M100.3 993v23.4M129.6 993v23.4M425.7 993v23.4M437 993v23.4M437 993v23.4M438.9 993v23.4M440.6 993v23.4M441.8 993v23.4M442.6 993v23.4M615.9 993v23.4M618.7 993v23.4M640 993v23.4M640.6 993v23.4M642.1 993v23.4M656 993v23.4M659.1 993v23.4" stroke="#1f77b4" stroke-width="1"/>
<path d="M90.1 993v23.4M92.8 993v23.4M138.1 993v23.4" stroke="#8a6a6a" stroke-width="1"/>
<path d="M145.7 993v23.4M215.2 993v23.4" stroke="#7a8a5a" stroke-width="1.3"/>
<path d="M156 993v23.4M158.4 993v23.4M178.6 993v23.4M230.9 993v23.4" stroke="#5a8a50" stroke-width="1"/>
<path d="M168.8 993v23.4M225.2 993v23.4M229.9 993v23.4M237.6 993v23.4M248.2 993v23.4M251.4 993v23.4M290.2 993v23.4M311.4 993v23.4M317.3 993v23.4M425.6 993v23.4M431.9 993v23.4M565.7 993v23.4M586.3 993v23.4M603.1 993v23.4" stroke="#8c564b" stroke-width="1.3"/>
<path d="M238.6 993v23.4M244.1 993v23.4M289.6 993v23.4M294.8 993v23.4M295.4 993v23.4M306.3 993v23.4M312.1 993v23.4M312.5 993v23.4M325.3 993v23.4M326.4 993v23.4" stroke="#2ca02c" stroke-width="1.3"/>
<path d="M267.5 993v23.4M271.5 993v23.4M272.4 993v23.4M277.2 993v23.4" stroke="#b070b0" stroke-width="1.3"/>
<path d="M268.9 993v23.4M281.4 993v23.4M287.1 993v23.4" stroke="#9467bd" stroke-width="1"/>
<path d="M295.2 993v23.4M305.3 993v23.4M326.1 993v23.4M549 993v23.4M594.4 993v23.4M603.2 993v23.4M613.7 993v23.4" stroke="#d62728" stroke-width="1.3"/>
<path d="M295.8 993v23.4M303.8 993v23.4M306.8 993v23.4M320.7 993v23.4M322.4 993v23.4M421.4 993v23.4M425.4 993v23.4M433.2 993v23.4M443.8 993v23.4M443.9 993v23.4" stroke="#ff7f0e" stroke-width="1"/>
<path d="M298.9 993v23.4M312.3 993v23.4M314.8 993v23.4M322.1 993v23.4" stroke="#a06030" stroke-width="1.3"/>
<path d="M370 993v23.4" stroke="#d07030" stroke-width="1"/>
<path d="M355.8 993v23.4M388 993v23.4M392.3 993v23.4" stroke="#e88020" stroke-width="1"/>
<path d="M377.7 993v23.4M388.5 993v23.4M391.6 993v23.4M403.2 993v23.4M405.9 993v23.4M418 993v23.4" stroke="#c08040" stroke-width="1"/>
<path d="M537.1 993v23.4" stroke="#4a70a0" stroke-width="1"/>
<path d="M487.8 993v23.4M552.7 993v23.4M599.6 993v23.4" stroke="#6a6a90" stroke-width="1"/>
<path d="M452.8 993v23.4M471.2 993v23.4M555.7 993v23.4M569.8 993v23.4M581.3 993v23.4M594.6 993v23.4" stroke="#bcbd22" stroke-width="1.3"/>
<path d="M585 993v23.4M610.8 993v23.4" stroke="#c06040" stroke-width="1.3"/>
<path d="M616.3 993v23.4M619.6 993v23.4M642.8 993v23.4M663.4 993v23.4" stroke="#b03040" stroke-width="1.3"/>
<path d="M617 993v23.4M624.5 993v23.4M631.4 993v23.4M635.2 993v23.4M650.1 993v23.4" stroke="#c04050" stroke-width="1.3"/>
</g>
<g shape-rendering="crispEdges">
<path d="M47.8 1037h1.8M94.8 1037h1.8M96.3 1037h1.3M102.3 1037h1.3M103.3 1037h2.3M114.8 1037h1.8M116.3 1037h1.3M124.3 1037h2.3M126.3 1037h2.3M144.3 1037h2.3M146.3 1037h2.3M148.3 1037h1.8M168.8 1037h2.3M170.8 1037h1.8M175.3 1037h1.3M178.3 1037h1.3M184.8 1037h1.8M191.3 1037h2.3M195.8 1037h1.8M222.8 1037h1.3M238.8 1037h2.3M243.8 1037h2.3M245.8 1037h2.3M257.3 1037h2.3M261.8 1037h2.3M276.3 1037h1.3M278.3 1037h1.3" stroke="#eaa2a9" stroke-width="38"/>
<path d="M49.3 1037h3.3M52.3 1037h1.3M111.3 1037h2.3M136.8 1037h3.3M139.8 1037h1.8M150.8 1037h2.3M183.3 1037h1.8M205.3 1037h2.3M280.3 1037h3.3" stroke="#ecaeb5" stroke-width="38"/>
<path d="M53.3 1037h2.3M55.3 1037h3.3M61.3 1037h1.3M62.3 1037h2.3M86.8 1037h3.3M89.8 1037h1.3M105.3 1037h3.3M108.3 1037h1.3M118.8 1037h2.3M120.8 1037h2.3M143.3 1037h1.3M149.8 1037h1.3M158.8 1037h3.3M172.3 1037h3.3M176.3 1037h2.3M187.3 1037h1.3M188.3 1037h3.3M250.8 1037h1.8M267.8 1037h1.3M272.8 1037h2.3M277.3 1037h1.3" stroke="#e8969e" stroke-width="38"/>
<path d="M58.3 1037h3.3M213.3 1037h2.3M216.3 1037h1.8M259.3 1037h1.8M263.8 1037h1.3" stroke="#f2d3d7" stroke-width="38"/>
<path d="M64.3 1037h3.3M67.3 1037h2.3M69.3 1037h1.8M76.8 1037h1.3M77.8 1037h1.3M78.8 1037h2.3M83.8 1037h1.3M84.8 1037h2.3M97.3 1037h1.3M98.3 1037h1.3M99.3 1037h3.3M113.3 1037h1.8M117.3 1037h1.8M130.3 1037h1.8M131.8 1037h1.3M132.8 1037h2.3M134.8 1037h2.3M141.3 1037h2.3M155.8 1037h1.3M161.8 1037h2.3M165.8 1037h2.3M167.8 1037h1.3M179.3 1037h2.3M181.3 1037h2.3M186.3 1037h1.3M193.3 1037h1.3M230.8 1037h2.3M271.3 1037h1.8M279.3 1037h1.3M283.3 1037h3.3M287.3 1037h2.3" stroke="#e58a93" stroke-width="38"/>
<path d="M70.8 1037h3.3M122.8 1037h1.8M152.8 1037h3.3" stroke="#e0727d" stroke-width="38"/>
<path d="M73.8 1037h3.3M210.3 1037h3.3M223.8 1037h2.3M237.3 1037h1.8M252.3 1037h1.3M264.8 1037h3.3M268.8 1037h1.3" stroke="#eebac0" stroke-width="38"/>
<path d="M80.8 1037h2.3M82.8 1037h1.3M90.8 1037h1.3M109.3 1037h2.3M128.3 1037h2.3M156.8 1037h2.3M194.3 1037h1.8M253.3 1037h1.3M274.8 1037h1.8" stroke="#e37e88" stroke-width="38"/>
<path d="M91.8 1037h3.3M269.8 1037h1.8M286.3 1037h1.3" stroke="#de6673" stroke-width="38"/>
<path d="M163.8 1037h2.3" stroke="#d94e5d" stroke-width="38"/>
<path d="M197.3 1037h3.3M225.8 1037h2.3M234.3 1037h3.3M247.8 1037h2.3M249.8 1037h1.3M260.8 1037h1.3" stroke="#f0c7cc" stroke-width="38"/>
<path d="M200.3 1037h2.3M254.3 1037h3.3M297.8 1037h2.3M304.3 1037h1.3M308.8 1037h1.3M321.8 1037h2.3M648.3 1037h1.3M666.3 1037h1.3" stroke="#f8f8fa" stroke-width="38"/>
<path d="M202.3 1037h2.3M359.3 1037h1.8M374.8 1037h1.3M375.8 1037h2.3M389.3 1037h2.3M391.3 1037h1.8M415.3 1037h1.3M420.3 1037h2.3M434.8 1037h1.8M470.8 1037h2.3M496.3 1037h1.3M506.3 1037h1.8M549.8 1037h2.3M564.8 1037h1.3M579.8 1037h1.3M594.8 1037h1.3M622.8 1037h1.3M644.3 1037h1.3M649.3 1037h1.8M650.8 1037h3.3M656.3 1037h1.8M657.8 1037h1.8M659.3 1037h2.3" stroke="#d3ddef" stroke-width="38"/>
<path d="M204.3 1037h1.3" stroke="#db5a68" stroke-width="38"/>
<path d="M207.3 1037h1.3M300.8 1037h2.3M309.8 1037h2.3M313.8 1037h2.3M315.8 1037h2.3M318.8 1037h3.3M328.8 1037h1.3M350.3 1037h1.3M385.8 1037h1.8M444.3 1037h2.3M451.3 1037h2.3M512.8 1037h3.3M515.8 1037h2.3M519.3 1037h2.3M556.8 1037h2.3M565.8 1037h1.3M639.3 1037h2.3M645.3 1037h3.3M667.3 1037h1.8" stroke="#dfe6f3" stroke-width="38"/>
<path d="M208.3 1037h2.3M215.3 1037h1.3M217.8 1037h2.3M242.8 1037h1.3M306.8 1037h2.3M653.8 1037h1.8" stroke="#f6ebee" stroke-width="38"/>
<path d="M219.8 1037h3.3M227.8 1037h3.3M289.3 1037h1.8M293.8 1037h3.3M325.8 1037h3.3" stroke="#ebeff6" stroke-width="38"/>
<path d="M232.8 1037h1.8M240.8 1037h2.3M296.8 1037h1.3" stroke="#f4dfe3" stroke-width="38"/>
<path d="M290.8 1037h3.3M302.8 1037h1.8M317.8 1037h1.3M336.8 1037h3.3M342.3 1037h2.3M358.3 1037h1.3M360.8 1037h2.3M367.8 1037h2.3M377.8 1037h1.8M379.3 1037h2.3M395.8 1037h2.3M400.8 1037h1.3M409.3 1037h1.3M422.3 1037h1.3M438.3 1037h3.3M441.3 1037h1.3M446.3 1037h2.3M453.3 1037h3.3M460.3 1037h1.8M476.8 1037h3.3M484.3 1037h1.3M491.3 1037h1.3M493.3 1037h2.3M495.3 1037h1.3M500.8 1037h3.3M504.8 1037h1.8M510.8 1037h2.3M523.3 1037h2.3M532.3 1037h1.3M533.3 1037h1.3M534.3 1037h1.8M537.8 1037h2.3M545.8 1037h2.3M558.8 1037h2.3M560.8 1037h3.3M566.8 1037h1.3M574.3 1037h2.3M576.3 1037h1.8M577.8 1037h1.3M585.8 1037h3.3M599.8 1037h2.3M603.3 1037h1.3M606.3 1037h3.3M614.3 1037h2.3M632.3 1037h2.3M634.3 1037h3.3M643.3 1037h1.3M655.3 1037h1.3M661.3 1037h3.3M664.3 1037h2.3" stroke="#bacce8" stroke-width="38"/>
<path d="M299.8 1037h1.3M345.3 1037h3.3M362.8 1037h3.3M365.8 1037h1.3M397.8 1037h3.3M410.3 1037h1.3M419.3 1037h1.3M423.3 1037h1.8M436.3 1037h2.3M472.8 1037h1.3M479.8 1037h3.3M488.3 1037h3.3M492.3 1037h1.3M497.3 1037h1.8M503.8 1037h1.3M508.8 1037h2.3M521.3 1037h2.3M525.3 1037h2.3M527.3 1037h2.3M529.3 1037h3.3M535.8 1037h2.3M547.8 1037h2.3M563.8 1037h1.3M592.3 1037h1.3M595.8 1037h2.3M597.8 1037h2.3M604.3 1037h1.3M620.8 1037h2.3M627.3 1037h2.3M668.8 1037h1.5" stroke="#aec3e5" stroke-width="38"/>
<path d="M305.3 1037h1.8M311.8 1037h2.3M332.8 1037h1.8M381.3 1037h3.3M384.3 1037h1.8M401.8 1037h2.3M405.3 1037h1.3M411.3 1037h2.3M413.3 1037h2.3M416.3 1037h3.3M424.8 1037h3.3M427.8 1037h1.3M428.8 1037h2.3M430.8 1037h2.3M456.3 1037h3.3M461.8 1037h2.3M463.8 1037h2.3M482.8 1037h1.8M485.3 1037h1.8M486.8 1037h1.8M507.8 1037h1.3M539.8 1037h3.3M542.8 1037h1.3M551.8 1037h1.3M552.8 1037h1.3M553.8 1037h3.3M569.3 1037h3.3M580.8 1037h2.3M582.8 1037h3.3M593.3 1037h1.8M612.3 1037h2.3M623.8 1037h1.8M641.3 1037h2.3" stroke="#c7d5ec" stroke-width="38"/>
<path d="M323.8 1037h2.3M355.3 1037h1.3M442.3 1037h2.3M473.8 1037h3.3M543.8 1037h2.3M572.3 1037h2.3M590.8 1037h1.8M616.3 1037h1.3" stroke="#96b2de" stroke-width="38"/>
<path d="M329.8 1037h1.3M330.8 1037h1.3M331.8 1037h1.3" stroke="#5a81c0" stroke-width="38"/>
<path d="M334.3 1037h1.3M335.3 1037h1.8M339.8 1037h1.8M341.3 1037h1.3M344.3 1037h1.3M348.3 1037h2.3M351.3 1037h2.3M356.3 1037h2.3M366.8 1037h1.3M369.8 1037h2.3M371.8 1037h3.3M387.3 1037h2.3M392.8 1037h2.3M394.8 1037h1.3M403.8 1037h1.8M406.3 1037h3.3M432.8 1037h2.3M448.3 1037h3.3M459.3 1037h1.3M465.8 1037h2.3M467.8 1037h3.3M498.8 1037h2.3M517.8 1037h1.8M567.8 1037h1.8M578.8 1037h1.3M588.8 1037h2.3M601.8 1037h1.8M605.3 1037h1.3M609.3 1037h3.3M617.3 1037h1.8M618.8 1037h1.3M619.8 1037h1.3M625.3 1037h2.3M629.3 1037h3.3M637.3 1037h2.3" stroke="#a2bae1" stroke-width="38"/>
<path d="M353.3 1037h2.3" stroke="#8aa8d8" stroke-width="38"/>
<path d="M47.8 1075.2h2.3M58.8 1075.2h1.3M61.3 1075.2h3.3M65.8 1075.2h1.3M68.3 1075.2h3.3M75.3 1075.2h3.3M104.8 1075.2h2.3M110.8 1075.2h2.3M114.8 1075.2h3.3M126.3 1075.2h1.3M128.8 1075.2h2.3M136.3 1075.2h1.3M144.3 1075.2h2.3M148.3 1075.2h1.3M222.3 1075.2h1.3M287.8 1075.2h2.3" stroke="#7294cc" stroke-width="38.3"/>
<path d="M49.8 1075.2h3.3M90.3 1075.2h2.3M106.8 1075.2h1.3M133.3 1075.2h3.3" stroke="#5a81c0" stroke-width="38.3"/>
<path d="M52.8 1075.2h2.3M57.8 1075.2h1.3M73.3 1075.2h2.3M97.3 1075.2h1.8M101.8 1075.2h1.3M112.8 1075.2h1.3M124.8 1075.2h1.8M130.8 1075.2h1.3M159.3 1075.2h1.8" stroke="#668bc6" stroke-width="38.3"/>
<path d="M54.8 1075.2h3.3M66.8 1075.2h1.8M71.3 1075.2h2.3M79.8 1075.2h1.8M81.3 1075.2h3.3M92.3 1075.2h1.3M93.3 1075.2h2.3M98.8 1075.2h1.3M122.8 1075.2h2.3M127.3 1075.2h1.8M141.3 1075.2h3.3M146.3 1075.2h2.3M165.8 1075.2h1.3" stroke="#7e9ed2" stroke-width="38.3"/>
<path d="M59.8 1075.2h1.8M64.3 1075.2h1.8M78.3 1075.2h1.8M95.3 1075.2h1.3M96.3 1075.2h1.3M99.8 1075.2h2.3M117.8 1075.2h2.3M119.8 1075.2h2.3M121.8 1075.2h1.3M131.8 1075.2h1.8M138.3 1075.2h1.3M153.3 1075.2h2.3M155.3 1075.2h3.3M160.8 1075.2h1.3M232.8 1075.2h1.8M255.3 1075.2h2.3" stroke="#8aa8d8" stroke-width="38.3"/>
<path d="M84.3 1075.2h2.3M107.8 1075.2h3.3M139.3 1075.2h2.3M151.3 1075.2h2.3M158.3 1075.2h1.3M161.8 1075.2h1.3M188.3 1075.2h1.3M258.3 1075.2h1.3M272.8 1075.2h2.3" stroke="#96b2de" stroke-width="38.3"/>
<path d="M86.3 1075.2h2.3M88.3 1075.2h2.3M149.3 1075.2h2.3M176.8 1075.2h1.3M189.3 1075.2h2.3M216.8 1075.2h1.3M231.3 1075.2h1.8M242.3 1075.2h1.3M624.3 1075.2h3.3M639.3 1075.2h2.3M655.8 1075.2h1.8M668.8 1075.2h1.5" stroke="#a2bae1" stroke-width="38.3"/>
<path d="M102.8 1075.2h2.3M171.8 1075.2h1.3M177.8 1075.2h1.8M184.3 1075.2h3.3M197.8 1075.2h1.3M211.8 1075.2h3.3M220.3 1075.2h1.3M221.3 1075.2h1.3M253.8 1075.2h1.8M257.3 1075.2h1.3M259.3 1075.2h1.3M266.8 1075.2h2.3M274.8 1075.2h1.8M280.3 1075.2h1.3M286.3 1075.2h1.8M474.3 1075.2h2.3M481.8 1075.2h2.3M490.8 1075.2h3.3M525.3 1075.2h2.3M534.3 1075.2h1.3M546.3 1075.2h1.3M551.3 1075.2h2.3M559.3 1075.2h3.3M567.3 1075.2h2.3M575.3 1075.2h1.3M628.3 1075.2h3.3M657.3 1075.2h2.3M661.3 1075.2h1.8" stroke="#c7d5ec" stroke-width="38.3"/>
<path d="M113.8 1075.2h1.3M168.8 1075.2h1.3" stroke="#4e77ba" stroke-width="38.3"/>
<path d="M137.3 1075.2h1.3" stroke="#426db4" stroke-width="38.3"/>
<path d="M162.8 1075.2h1.3M203.3 1075.2h1.3M207.3 1075.2h1.3M214.8 1075.2h2.3M228.3 1075.2h1.3M235.3 1075.2h2.3M239.3 1075.2h3.3M270.8 1075.2h2.3M393.3 1075.2h2.3M413.8 1075.2h1.8M450.8 1075.2h1.3M462.8 1075.2h3.3M465.8 1075.2h1.8M488.8 1075.2h1.3M489.8 1075.2h1.3M501.3 1075.2h2.3M514.8 1075.2h1.3M527.3 1075.2h1.3M533.3 1075.2h1.3M564.3 1075.2h2.3M581.8 1075.2h1.8M610.8 1075.2h3.3" stroke="#ebeff6" stroke-width="38.3"/>
<path d="M163.8 1075.2h2.3M180.3 1075.2h3.3M210.8 1075.2h1.3M223.3 1075.2h3.3M276.3 1075.2h3.3M281.3 1075.2h2.3M285.3 1075.2h1.3M448.8 1075.2h2.3M454.8 1075.2h1.8M456.3 1075.2h1.8M457.8 1075.2h1.3M478.3 1075.2h1.8M485.8 1075.2h3.3M505.3 1075.2h1.3M507.3 1075.2h1.3M513.3 1075.2h1.8M515.8 1075.2h2.3M517.8 1075.2h3.3M537.3 1075.2h3.3M553.3 1075.2h1.3M562.3 1075.2h1.3M569.3 1075.2h2.3M573.3 1075.2h2.3M583.3 1075.2h1.3M586.3 1075.2h1.3M587.3 1075.2h2.3M589.3 1075.2h2.3M591.3 1075.2h1.3M599.3 1075.2h2.3M615.8 1075.2h1.3M617.8 1075.2h1.8M634.3 1075.2h2.3M644.8 1075.2h1.3" stroke="#dfe6f3" stroke-width="38.3"/>
<path d="M166.8 1075.2h2.3M169.8 1075.2h2.3M183.3 1075.2h1.3M192.8 1075.2h1.3M198.8 1075.2h2.3M200.8 1075.2h1.8M202.3 1075.2h1.3M209.3 1075.2h1.8M217.8 1075.2h1.8M248.3 1075.2h1.3M283.3 1075.2h2.3M460.8 1075.2h2.3M469.3 1075.2h2.3M479.8 1075.2h2.3M484.8 1075.2h1.3M510.3 1075.2h3.3M520.8 1075.2h2.3M524.3 1075.2h1.3M530.3 1075.2h1.3M535.3 1075.2h1.3M545.3 1075.2h1.3M557.3 1075.2h2.3M571.3 1075.2h2.3M579.8 1075.2h2.3M597.3 1075.2h2.3M605.3 1075.2h1.8M622.3 1075.2h2.3M631.3 1075.2h3.3" stroke="#d3ddef" stroke-width="38.3"/>
<path d="M172.8 1075.2h2.3M174.8 1075.2h2.3M193.8 1075.2h1.3M194.8 1075.2h3.3M234.3 1075.2h1.3M279.3 1075.2h1.3M396.8 1075.2h1.8M442.8 1075.2h1.3M458.8 1075.2h2.3M483.8 1075.2h1.3M495.3 1075.2h3.3M536.3 1075.2h1.3M542.3 1075.2h3.3M566.3 1075.2h1.3M576.3 1075.2h2.3M592.3 1075.2h2.3M608.8 1075.2h2.3M619.3 1075.2h3.3" stroke="#f8f8fa" stroke-width="38.3"/>
<path d="M179.3 1075.2h1.3M436.8 1075.2h1.3M467.3 1075.2h2.3M473.3 1075.2h1.3M476.3 1075.2h2.3M493.8 1075.2h1.8M498.3 1075.2h3.3M503.3 1075.2h2.3M522.8 1075.2h1.8M531.3 1075.2h2.3M554.3 1075.2h3.3M636.3 1075.2h3.3" stroke="#f4dfe3" stroke-width="38.3"/>
<path d="M187.3 1075.2h1.3M204.3 1075.2h2.3M237.3 1075.2h2.3M243.3 1075.2h3.3M246.3 1075.2h2.3M446.8 1075.2h2.3M451.8 1075.2h3.3M471.3 1075.2h2.3M528.3 1075.2h2.3M540.3 1075.2h2.3M613.8 1075.2h2.3M645.8 1075.2h2.3M648.8 1075.2h1.3M652.8 1075.2h3.3M659.3 1075.2h2.3M667.8 1075.2h1.3" stroke="#bacce8" stroke-width="38.3"/>
<path d="M191.3 1075.2h1.8M260.3 1075.2h3.3M263.3 1075.2h1.8M410.8 1075.2h3.3M415.3 1075.2h3.3M439.8 1075.2h3.3M443.8 1075.2h1.3M506.3 1075.2h1.3M547.3 1075.2h3.3M550.3 1075.2h1.3M563.3 1075.2h1.3M602.3 1075.2h2.3M606.8 1075.2h2.3M616.8 1075.2h1.3" stroke="#f6ebee" stroke-width="38.3"/>
<path d="M206.3 1075.2h1.3M229.3 1075.2h2.3M249.3 1075.2h1.8M250.8 1075.2h3.3M264.8 1075.2h2.3M268.8 1075.2h2.3M601.3 1075.2h1.3M627.3 1075.2h1.3M641.3 1075.2h2.3M643.3 1075.2h1.8M647.8 1075.2h1.3M649.8 1075.2h2.3M651.8 1075.2h1.3M662.8 1075.2h3.3M665.8 1075.2h2.3" stroke="#aec3e5" stroke-width="38.3"/>
<path d="M208.3 1075.2h1.3M219.3 1075.2h1.3M404.3 1075.2h1.8M405.8 1075.2h1.3M433.8 1075.2h2.3M438.8 1075.2h1.3M578.3 1075.2h1.8M584.3 1075.2h2.3M594.3 1075.2h3.3M604.3 1075.2h1.3" stroke="#f2d3d7" stroke-width="38.3"/>
<path d="M226.3 1075.2h2.3M305.8 1075.2h2.3M419.3 1075.2h2.3M428.8 1075.2h3.3M508.3 1075.2h2.3" stroke="#f0c7cc" stroke-width="38.3"/>
<path d="M289.8 1075.2h2.3M319.3 1075.2h2.3M322.3 1075.2h2.3M371.3 1075.2h2.3M427.3 1075.2h1.8" stroke="#e37e88" stroke-width="38.3"/>
<path d="M291.8 1075.2h1.3M292.8 1075.2h3.3M295.8 1075.2h3.3M298.8 1075.2h3.3M307.8 1075.2h1.8M332.8 1075.2h1.3M338.3 1075.2h2.3M345.8 1075.2h3.3M351.8 1075.2h1.3M364.8 1075.2h1.3M421.3 1075.2h3.3" stroke="#e0727d" stroke-width="38.3"/>
<path d="M301.8 1075.2h1.3M395.3 1075.2h1.8M401.3 1075.2h2.3M444.8 1075.2h2.3" stroke="#e8969e" stroke-width="38.3"/>
<path d="M302.8 1075.2h1.3M333.8 1075.2h2.3M357.8 1075.2h3.3" stroke="#d43748" stroke-width="38.3"/>
<path d="M303.8 1075.2h2.3M311.3 1075.2h1.3M315.3 1075.2h2.3" stroke="#e58a93" stroke-width="38.3"/>
<path d="M309.3 1075.2h2.3M424.3 1075.2h2.3M437.8 1075.2h1.3" stroke="#eaa2a9" stroke-width="38.3"/>
<path d="M312.3 1075.2h3.3M341.3 1075.2h2.3M343.3 1075.2h1.8M361.8 1075.2h1.3M363.8 1075.2h1.3M366.8 1075.2h1.8M380.3 1075.2h1.8M381.8 1075.2h2.3M383.8 1075.2h2.3M431.8 1075.2h2.3" stroke="#de6673" stroke-width="38.3"/>
<path d="M317.3 1075.2h1.3M403.3 1075.2h1.3M406.8 1075.2h3.3M435.8 1075.2h1.3" stroke="#ecaeb5" stroke-width="38.3"/>
<path d="M318.3 1075.2h1.3M326.3 1075.2h2.3M328.3 1075.2h1.8M329.8 1075.2h3.3M337.3 1075.2h1.3M348.8 1075.2h1.3M356.8 1075.2h1.3M377.3 1075.2h2.3M385.8 1075.2h3.3M392.3 1075.2h1.3" stroke="#d94e5d" stroke-width="38.3"/>
<path d="M321.3 1075.2h1.3M398.3 1075.2h3.3M409.8 1075.2h1.3M418.3 1075.2h1.3M426.3 1075.2h1.3" stroke="#eebac0" stroke-width="38.3"/>
<path d="M324.3 1075.2h2.3M335.8 1075.2h1.8M340.3 1075.2h1.3M349.8 1075.2h2.3M352.8 1075.2h2.3M362.8 1075.2h1.3M368.3 1075.2h3.3M373.3 1075.2h1.3M374.3 1075.2h1.3M379.3 1075.2h1.3" stroke="#d64252" stroke-width="38.3"/>
<path d="M344.8 1075.2h1.3M354.8 1075.2h2.3M360.8 1075.2h1.3M365.8 1075.2h1.3M375.3 1075.2h2.3M388.8 1075.2h2.3M390.8 1075.2h1.8" stroke="#db5a68" stroke-width="38.3"/>
<path d="M47.8 1113.3h1.8M52.3 1113.3h2.3M55.8 1113.3h2.3M65.8 1113.3h2.3M70.8 1113.3h1.3M91.3 1113.3h1.3M93.8 1113.3h1.3M108.3 1113.3h1.3M113.8 1113.3h1.3M114.8 1113.3h2.3M144.8 1113.3h1.3M163.8 1113.3h2.3M168.8 1113.3h2.3M172.3 1113.3h1.8M201.8 1113.3h2.3M228.8 1113.3h1.3M229.8 1113.3h2.3M237.8 1113.3h1.8M263.8 1113.3h1.3M264.8 1113.3h1.3" stroke="#96b2de" stroke-width="38"/>
<path d="M49.3 1113.3h1.3M76.8 1113.3h1.3M77.8 1113.3h2.3M89.3 1113.3h2.3M96.8 1113.3h2.3M104.8 1113.3h1.8M116.8 1113.3h1.8M118.3 1113.3h2.3M125.3 1113.3h2.3M132.3 1113.3h2.3M137.3 1113.3h1.8M138.8 1113.3h1.3M139.8 1113.3h1.3M156.8 1113.3h1.3M159.3 1113.3h1.3M170.8 1113.3h1.8M181.8 1113.3h2.3M185.8 1113.3h1.3M205.3 1113.3h1.3M211.3 1113.3h2.3M234.8 1113.3h1.3M270.3 1113.3h3.3M277.3 1113.3h3.3M285.8 1113.3h1.8" stroke="#7294cc" stroke-width="38"/>
<path d="M50.3 1113.3h2.3M75.8 1113.3h1.3M79.8 1113.3h1.3M101.8 1113.3h3.3M122.3 1113.3h2.3M143.8 1113.3h1.3M157.8 1113.3h1.8M165.8 1113.3h1.8M178.8 1113.3h1.3M209.3 1113.3h2.3M214.8 1113.3h3.3M217.8 1113.3h2.3M242.3 1113.3h1.8M250.8 1113.3h3.3M273.3 1113.3h2.3M282.8 1113.3h3.3" stroke="#7e9ed2" stroke-width="38"/>
<path d="M54.3 1113.3h1.8M58.8 1113.3h1.3M59.8 1113.3h1.3M62.3 1113.3h2.3M98.8 1113.3h1.3M221.8 1113.3h2.3M257.8 1113.3h3.3M265.8 1113.3h3.3" stroke="#a2bae1" stroke-width="38"/>
<path d="M57.8 1113.3h1.3M223.8 1113.3h3.3M226.8 1113.3h2.3" stroke="#c7d5ec" stroke-width="38"/>
<path d="M60.8 1113.3h1.8M67.8 1113.3h1.3" stroke="#d3ddef" stroke-width="38"/>
<path d="M64.3 1113.3h1.8M140.8 1113.3h3.3M231.8 1113.3h3.3M255.8 1113.3h2.3M260.8 1113.3h3.3" stroke="#aec3e5" stroke-width="38"/>
<path d="M68.8 1113.3h2.3M80.8 1113.3h1.3M81.8 1113.3h1.3M94.8 1113.3h2.3M111.3 1113.3h1.3M124.3 1113.3h1.3M148.8 1113.3h2.3M162.3 1113.3h1.8M167.3 1113.3h1.8M177.8 1113.3h1.3M179.8 1113.3h2.3M189.8 1113.3h2.3M197.3 1113.3h3.3M206.3 1113.3h3.3M243.8 1113.3h2.3M275.3 1113.3h2.3M281.8 1113.3h1.3M287.3 1113.3h1.8" stroke="#668bc6" stroke-width="38"/>
<path d="M71.8 1113.3h2.3M73.8 1113.3h2.3M84.3 1113.3h3.3M87.3 1113.3h2.3M92.3 1113.3h1.8M99.8 1113.3h1.3M106.3 1113.3h2.3M109.3 1113.3h2.3M129.3 1113.3h3.3M150.8 1113.3h1.3M151.8 1113.3h3.3M183.8 1113.3h2.3M203.8 1113.3h1.8M239.3 1113.3h1.3M253.8 1113.3h2.3" stroke="#8aa8d8" stroke-width="38"/>
<path d="M82.8 1113.3h1.8M112.3 1113.3h1.8M120.3 1113.3h2.3M127.3 1113.3h2.3M134.3 1113.3h3.3M155.8 1113.3h1.3M160.3 1113.3h2.3M173.8 1113.3h2.3M193.8 1113.3h1.8M288.8 1113.3h3.3" stroke="#5a81c0" stroke-width="38"/>
<path d="M100.8 1113.3h1.3M154.8 1113.3h1.3M175.8 1113.3h2.3M186.8 1113.3h3.3M268.8 1113.3h1.8" stroke="#4e77ba" stroke-width="38"/>
<path d="M145.8 1113.3h3.3M246.8 1113.3h1.3M280.3 1113.3h1.8" stroke="#3764af" stroke-width="38"/>
<path d="M191.8 1113.3h2.3M195.3 1113.3h2.3M247.8 1113.3h3.3" stroke="#426db4" stroke-width="38"/>
<path d="M200.3 1113.3h1.8M219.8 1113.3h2.3M240.3 1113.3h2.3" stroke="#dfe6f3" stroke-width="38"/>
<path d="M213.3 1113.3h1.8M235.8 1113.3h2.3M245.8 1113.3h1.3" stroke="#bacce8" stroke-width="38"/>
<path d="M291.8 1113.3h1.3M295.8 1113.3h2.3M304.3 1113.3h3.3M310.3 1113.3h2.3M313.3 1113.3h3.3M316.3 1113.3h1.3M337.3 1113.3h2.3M370.8 1113.3h2.3M372.8 1113.3h1.8M375.3 1113.3h2.3M427.8 1113.3h1.8M434.3 1113.3h1.8M440.3 1113.3h1.3M473.8 1113.3h1.3" stroke="#f2d3d7" stroke-width="38"/>
<path d="M292.8 1113.3h1.3" stroke="#ebeff6" stroke-width="38"/>
<path d="M293.8 1113.3h2.3M302.8 1113.3h1.8M317.3 1113.3h3.3M321.8 1113.3h3.3" stroke="#f8f8fa" stroke-width="38"/>
<path d="M297.8 1113.3h2.3M299.8 1113.3h1.3M300.8 1113.3h2.3M328.8 1113.3h3.3M333.3 1113.3h3.3M378.3 1113.3h2.3M389.3 1113.3h2.3M398.3 1113.3h1.8M406.3 1113.3h3.3M417.3 1113.3h1.8M418.8 1113.3h1.8M457.8 1113.3h3.3M465.8 1113.3h3.3M468.8 1113.3h2.3M470.8 1113.3h1.3M496.8 1113.3h1.3M508.8 1113.3h2.3M536.8 1113.3h1.3M547.8 1113.3h1.3M548.8 1113.3h1.3M557.8 1113.3h2.3M581.3 1113.3h1.8M585.8 1113.3h3.3M588.8 1113.3h2.3M625.8 1113.3h1.3M626.8 1113.3h2.3M629.8 1113.3h1.3M642.8 1113.3h1.3" stroke="#f0c7cc" stroke-width="38"/>
<path d="M307.3 1113.3h1.3M312.3 1113.3h1.3M324.8 1113.3h3.3" stroke="#f4dfe3" stroke-width="38"/>
<path d="M308.3 1113.3h2.3M331.8 1113.3h1.8M339.3 1113.3h2.3M345.3 1113.3h1.3M346.3 1113.3h3.3M349.3 1113.3h2.3M352.8 1113.3h1.8M354.3 1113.3h2.3M356.3 1113.3h2.3M364.3 1113.3h1.3M377.3 1113.3h1.3M381.3 1113.3h3.3M395.3 1113.3h1.3M396.3 1113.3h2.3M403.3 1113.3h3.3M415.3 1113.3h1.3M416.3 1113.3h1.3M429.3 1113.3h2.3M431.3 1113.3h3.3M436.8 1113.3h2.3M442.3 1113.3h1.3M447.8 1113.3h3.3M450.8 1113.3h1.3M453.3 1113.3h1.3M454.3 1113.3h2.3M456.3 1113.3h1.8M460.8 1113.3h1.8M462.3 1113.3h1.8M463.8 1113.3h2.3M474.8 1113.3h2.3M476.8 1113.3h1.3M499.8 1113.3h2.3M501.8 1113.3h2.3M505.8 1113.3h3.3M512.8 1113.3h1.8M514.3 1113.3h1.3M521.8 1113.3h2.3M525.8 1113.3h1.8M527.3 1113.3h2.3M533.8 1113.3h2.3M535.8 1113.3h1.3M550.8 1113.3h3.3M565.8 1113.3h3.3M568.8 1113.3h3.3M573.3 1113.3h2.3M576.3 1113.3h2.3M578.3 1113.3h3.3M590.8 1113.3h1.8M595.3 1113.3h1.8M601.3 1113.3h1.8M606.8 1113.3h2.3M610.8 1113.3h2.3M630.8 1113.3h2.3M633.8 1113.3h2.3M637.8 1113.3h2.3M639.8 1113.3h3.3M645.8 1113.3h1.3M651.8 1113.3h1.3M652.8 1113.3h2.3M659.3 1113.3h2.3M665.3 1113.3h2.3" stroke="#eebac0" stroke-width="38"/>
<path d="M320.3 1113.3h1.8" stroke="#f6ebee" stroke-width="38"/>
<path d="M327.8 1113.3h1.3M358.3 1113.3h2.3M360.3 1113.3h2.3M365.3 1113.3h1.3M366.3 1113.3h1.8M374.3 1113.3h1.3M411.3 1113.3h1.3M420.3 1113.3h3.3M423.3 1113.3h3.3M426.3 1113.3h1.8M438.8 1113.3h1.8M441.3 1113.3h1.3M443.3 1113.3h1.8M444.8 1113.3h1.3M445.8 1113.3h2.3M451.8 1113.3h1.8M490.8 1113.3h3.3M493.8 1113.3h2.3M495.8 1113.3h1.3M515.3 1113.3h1.3M520.3 1113.3h1.8M529.3 1113.3h1.8M559.8 1113.3h2.3M571.8 1113.3h1.8M584.8 1113.3h1.3M596.8 1113.3h2.3M599.8 1113.3h1.8M608.8 1113.3h2.3M621.8 1113.3h2.3M624.8 1113.3h1.3M635.8 1113.3h2.3M643.8 1113.3h2.3M647.8 1113.3h1.3M648.8 1113.3h3.3M654.8 1113.3h1.8M667.3 1113.3h2.3M669.3 1113.3h1" stroke="#eaa2a9" stroke-width="38"/>
<path d="M336.3 1113.3h1.3M341.3 1113.3h2.3M343.3 1113.3h2.3M351.3 1113.3h1.8M362.3 1113.3h2.3M367.8 1113.3h1.8M369.3 1113.3h1.8M384.3 1113.3h2.3M386.3 1113.3h3.3M391.3 1113.3h1.3M394.3 1113.3h1.3M401.3 1113.3h2.3M409.3 1113.3h2.3M412.3 1113.3h3.3M435.8 1113.3h1.3M471.8 1113.3h2.3M477.8 1113.3h2.3M480.8 1113.3h2.3M482.8 1113.3h3.3M485.8 1113.3h2.3M487.8 1113.3h3.3M497.8 1113.3h2.3M503.8 1113.3h2.3M510.8 1113.3h2.3M516.3 1113.3h1.3M517.3 1113.3h3.3M523.8 1113.3h2.3M537.8 1113.3h1.3M540.8 1113.3h1.8M542.3 1113.3h2.3M544.3 1113.3h1.8M545.8 1113.3h2.3M553.8 1113.3h2.3M561.8 1113.3h3.3M564.8 1113.3h1.3M575.3 1113.3h1.3M582.8 1113.3h2.3M592.3 1113.3h1.8M593.8 1113.3h1.8M598.8 1113.3h1.3M602.8 1113.3h2.3M604.8 1113.3h2.3M612.8 1113.3h2.3M614.8 1113.3h1.3M615.8 1113.3h2.3M617.8 1113.3h1.3M623.8 1113.3h1.3M628.8 1113.3h1.3M632.8 1113.3h1.3M646.8 1113.3h1.3M656.3 1113.3h1.3M657.3 1113.3h2.3M661.3 1113.3h1.3M662.3 1113.3h3.3" stroke="#ecaeb5" stroke-width="38"/>
<path d="M380.3 1113.3h1.3M399.8 1113.3h1.8M479.8 1113.3h1.3M530.8 1113.3h3.3M538.8 1113.3h2.3M549.8 1113.3h1.3M555.8 1113.3h2.3M618.8 1113.3h3.3" stroke="#e8969e" stroke-width="38"/>
<path d="M392.3 1113.3h2.3" stroke="#e58a93" stroke-width="38"/>
<path d="M47.8 1151.2h2.3M53.8 1151.2h2.3M116.3 1151.2h2.3M226.8 1151.2h1.3M232.8 1151.2h1.3M233.8 1151.2h2.3M244.8 1151.2h2.3M256.8 1151.2h2.3M353.8 1151.2h1.8M363.8 1151.2h1.3M379.8 1151.2h1.3M389.3 1151.2h1.3M390.3 1151.2h1.8M403.3 1151.2h2.3M413.8 1151.2h2.3M415.8 1151.2h1.3M425.8 1151.2h1.8M652.3 1151.2h1.8" stroke="#dfe6f3" stroke-width="37.7"/>
<path d="M49.8 1151.2h3.3M77.3 1151.2h2.3M274.8 1151.2h3.3M314.3 1151.2h2.3M357.8 1151.2h2.3M380.8 1151.2h2.3M400.3 1151.2h2.3M422.3 1151.2h1.8M427.3 1151.2h2.3M431.3 1151.2h2.3M436.3 1151.2h1.8M654.8 1151.2h1.3M668.3 1151.2h1.3" stroke="#ebeff6" stroke-width="37.7"/>
<path d="M52.8 1151.2h1.3M55.8 1151.2h2.3M58.8 1151.2h3.3M68.3 1151.2h2.3M76.3 1151.2h1.3M318.8 1151.2h1.3M322.8 1151.2h1.3M409.8 1151.2h1.3M411.8 1151.2h2.3M429.3 1151.2h2.3M434.3 1151.2h2.3M638.8 1151.2h2.3M651.3 1151.2h1.3" stroke="#f8f8fa" stroke-width="37.7"/>
<path d="M57.8 1151.2h1.3M61.8 1151.2h1.3M65.8 1151.2h1.8M423.8 1151.2h2.3M536.8 1151.2h1.8M642.3 1151.2h1.3M656.8 1151.2h3.3M669.3 1151.2h1" stroke="#f0c7cc" stroke-width="37.7"/>
<path d="M62.8 1151.2h2.3M323.8 1151.2h1.3M640.8 1151.2h1.8M662.8 1151.2h2.3" stroke="#eebac0" stroke-width="37.7"/>
<path d="M64.8 1151.2h1.3M72.3 1151.2h2.3M93.8 1151.2h1.3M94.8 1151.2h3.3M100.8 1151.2h1.8M124.3 1151.2h1.3M139.8 1151.2h2.3M159.3 1151.2h2.3M192.3 1151.2h1.3M193.3 1151.2h1.3M196.8 1151.2h2.3M200.8 1151.2h2.3M235.8 1151.2h2.3M241.8 1151.2h3.3M248.8 1151.2h1.3M252.8 1151.2h1.3M255.8 1151.2h1.3M263.8 1151.2h2.3M267.8 1151.2h1.3M277.8 1151.2h2.3M309.8 1151.2h1.3M391.8 1151.2h2.3M393.8 1151.2h1.8M395.3 1151.2h2.3M402.3 1151.2h1.3M410.8 1151.2h1.3M418.3 1151.2h2.3" stroke="#d3ddef" stroke-width="37.7"/>
<path d="M67.3 1151.2h1.3M70.3 1151.2h2.3M74.3 1151.2h2.3M312.8 1151.2h1.8M319.8 1151.2h3.3M416.8 1151.2h1.8M635.8 1151.2h1.3M666.3 1151.2h2.3" stroke="#f4dfe3" stroke-width="37.7"/>
<path d="M79.3 1151.2h3.3M82.3 1151.2h2.3M89.8 1151.2h3.3M97.8 1151.2h1.3M104.3 1151.2h3.3M121.3 1151.2h3.3M125.3 1151.2h1.3M126.3 1151.2h3.3M129.3 1151.2h1.8M131.8 1151.2h1.3M146.8 1151.2h1.3M147.8 1151.2h2.3M153.3 1151.2h1.3M157.3 1151.2h2.3M161.3 1151.2h1.8M170.3 1151.2h2.3M172.3 1151.2h1.3M173.3 1151.2h2.3M180.3 1151.2h3.3M185.3 1151.2h3.3M188.3 1151.2h2.3M198.8 1151.2h2.3M202.8 1151.2h3.3M211.8 1151.2h1.3M216.8 1151.2h1.3M217.8 1151.2h3.3M220.8 1151.2h2.3M227.8 1151.2h2.3M237.8 1151.2h2.3M239.8 1151.2h2.3M249.8 1151.2h2.3M261.8 1151.2h2.3M266.8 1151.2h1.3M268.8 1151.2h2.3M310.8 1151.2h1.3M341.8 1151.2h2.3M370.8 1151.2h1.3M374.8 1151.2h2.3M382.8 1151.2h2.3M386.8 1151.2h1.8M420.3 1151.2h2.3" stroke="#c7d5ec" stroke-width="37.7"/>
<path d="M84.3 1151.2h3.3M88.8 1151.2h1.3M92.8 1151.2h1.3M98.8 1151.2h1.3M99.8 1151.2h1.3M110.3 1151.2h3.3M119.3 1151.2h2.3M130.8 1151.2h1.3M138.8 1151.2h1.3M154.3 1151.2h2.3M177.3 1151.2h1.3M194.3 1151.2h1.8M195.8 1151.2h1.3M212.8 1151.2h1.3M213.8 1151.2h3.3M224.8 1151.2h2.3M251.8 1151.2h1.3M272.8 1151.2h2.3M281.8 1151.2h2.3M361.8 1151.2h2.3M367.8 1151.2h3.3M373.8 1151.2h1.3M376.8 1151.2h2.3" stroke="#aec3e5" stroke-width="37.7"/>
<path d="M87.3 1151.2h1.8M102.3 1151.2h2.3M107.3 1151.2h3.3M113.3 1151.2h3.3M118.3 1151.2h1.3M132.8 1151.2h3.3M144.8 1151.2h1.3M149.8 1151.2h2.3M156.3 1151.2h1.3M162.8 1151.2h3.3M165.8 1151.2h3.3M175.3 1151.2h2.3M178.3 1151.2h1.3M179.3 1151.2h1.3M183.3 1151.2h2.3M190.3 1151.2h2.3M208.8 1151.2h3.3M246.8 1151.2h2.3M253.8 1151.2h2.3M259.8 1151.2h2.3M265.8 1151.2h1.3M270.8 1151.2h2.3M283.8 1151.2h2.3M285.8 1151.2h1.3M286.8 1151.2h2.3M288.8 1151.2h2.3M300.8 1151.2h3.3M346.8 1151.2h2.3M355.3 1151.2h1.3M356.3 1151.2h1.8M359.8 1151.2h2.3M371.8 1151.2h2.3M388.3 1151.2h1.3M433.3 1151.2h1.3M636.8 1151.2h2.3" stroke="#bacce8" stroke-width="37.7"/>
<path d="M135.8 1151.2h3.3M143.3 1151.2h1.8M145.8 1151.2h1.3M168.8 1151.2h1.8M205.8 1151.2h3.3M222.8 1151.2h2.3M229.8 1151.2h3.3M258.8 1151.2h1.3M348.8 1151.2h1.8" stroke="#a2bae1" stroke-width="37.7"/>
<path d="M141.8 1151.2h1.8M279.8 1151.2h2.3M350.3 1151.2h1.8M384.8 1151.2h2.3" stroke="#96b2de" stroke-width="37.7"/>
<path d="M151.8 1151.2h1.8M290.8 1151.2h2.3M308.3 1151.2h1.8M343.8 1151.2h3.3M378.8 1151.2h1.3" stroke="#8aa8d8" stroke-width="37.7"/>
<path d="M292.8 1151.2h3.3M298.8 1151.2h2.3M306.8 1151.2h1.8M351.8 1151.2h2.3" stroke="#7e9ed2" stroke-width="37.7"/>
<path d="M295.8 1151.2h3.3" stroke="#3764af" stroke-width="37.7"/>
<path d="M303.8 1151.2h3.3M336.3 1151.2h1.3" stroke="#426db4" stroke-width="37.7"/>
<path d="M311.8 1151.2h1.3M317.3 1151.2h1.8M405.3 1151.2h1.8M406.8 1151.2h3.3M649.3 1151.2h2.3M653.8 1151.2h1.3M661.8 1151.2h1.3M664.8 1151.2h1.8" stroke="#f6ebee" stroke-width="37.7"/>
<path d="M316.3 1151.2h1.3M445.3 1151.2h1.3M643.3 1151.2h3.3M646.3 1151.2h3.3" stroke="#eaa2a9" stroke-width="37.7"/>
<path d="M324.8 1151.2h3.3M329.8 1151.2h2.3M364.8 1151.2h3.3" stroke="#668bc6" stroke-width="37.7"/>
<path d="M327.8 1151.2h2.3M332.8 1151.2h1.3M337.3 1151.2h1.8" stroke="#5a81c0" stroke-width="37.7"/>
<path d="M331.8 1151.2h1.3M333.8 1151.2h1.8M335.3 1151.2h1.3M338.8 1151.2h3.3" stroke="#4e77ba" stroke-width="37.7"/>
<path d="M397.3 1151.2h3.3M659.8 1151.2h2.3" stroke="#f2d3d7" stroke-width="37.7"/>
<path d="M437.8 1151.2h1.3M438.8 1151.2h2.3M452.8 1151.2h1.3M470.3 1151.2h1.8M473.8 1151.2h2.3M533.8 1151.2h3.3M574.3 1151.2h3.3M577.3 1151.2h2.3M583.3 1151.2h2.3" stroke="#d64252" stroke-width="37.7"/>
<path d="M440.8 1151.2h2.3M461.8 1151.2h1.3M502.3 1151.2h3.3M507.3 1151.2h2.3M510.3 1151.2h3.3M518.3 1151.2h1.3M522.3 1151.2h2.3M550.3 1151.2h1.3M561.8 1151.2h2.3M571.3 1151.2h3.3M591.3 1151.2h2.3M594.3 1151.2h1.3M620.3 1151.2h2.3M625.3 1151.2h3.3" stroke="#e37e88" stroke-width="37.7"/>
<path d="M442.8 1151.2h1.3M449.8 1151.2h3.3M453.8 1151.2h1.3M487.8 1151.2h2.3M509.3 1151.2h1.3M514.3 1151.2h1.3M516.3 1151.2h2.3M524.3 1151.2h1.8M602.8 1151.2h1.3M630.8 1151.2h2.3" stroke="#d94e5d" stroke-width="37.7"/>
<path d="M443.8 1151.2h1.8M446.3 1151.2h1.8M447.8 1151.2h2.3M457.8 1151.2h3.3M482.8 1151.2h1.3M489.8 1151.2h2.3M493.8 1151.2h1.8M495.3 1151.2h3.3M505.3 1151.2h2.3M526.8 1151.2h1.3M547.3 1151.2h2.3M563.8 1151.2h3.3M568.8 1151.2h1.3M593.3 1151.2h1.3M608.8 1151.2h1.8M632.8 1151.2h3.3" stroke="#db5a68" stroke-width="37.7"/>
<path d="M454.8 1151.2h3.3M500.3 1151.2h2.3M525.8 1151.2h1.3M543.8 1151.2h1.8M549.3 1151.2h1.3M566.8 1151.2h1.3M567.8 1151.2h1.3M603.8 1151.2h3.3" stroke="#d43748" stroke-width="37.7"/>
<path d="M460.8 1151.2h1.3M468.3 1151.2h2.3M475.8 1151.2h2.3M485.8 1151.2h2.3M491.8 1151.2h2.3M519.3 1151.2h2.3M529.8 1151.2h2.3M540.8 1151.2h1.3M541.8 1151.2h2.3M585.3 1151.2h2.3M600.8 1151.2h2.3M610.3 1151.2h2.3M615.3 1151.2h2.3M622.3 1151.2h3.3M628.3 1151.2h1.3" stroke="#e0727d" stroke-width="37.7"/>
<path d="M462.8 1151.2h1.8M464.3 1151.2h1.3M515.3 1151.2h1.3M531.8 1151.2h2.3M538.3 1151.2h1.8M539.8 1151.2h1.3M551.3 1151.2h3.3M559.8 1151.2h2.3M587.3 1151.2h2.3M612.3 1151.2h3.3" stroke="#e58a93" stroke-width="37.7"/>
<path d="M465.3 1151.2h3.3M513.3 1151.2h1.3M521.3 1151.2h1.3M599.3 1151.2h1.8M617.3 1151.2h3.3M629.3 1151.2h1.8" stroke="#e8969e" stroke-width="37.7"/>
<path d="M471.8 1151.2h2.3M477.8 1151.2h2.3M479.8 1151.2h3.3M483.8 1151.2h1.3M484.8 1151.2h1.3M498.3 1151.2h2.3M527.8 1151.2h2.3M545.3 1151.2h2.3M554.3 1151.2h2.3M556.3 1151.2h1.8M557.8 1151.2h2.3M569.8 1151.2h1.8M579.3 1151.2h2.3M581.3 1151.2h2.3M589.3 1151.2h2.3M595.3 1151.2h1.3M596.3 1151.2h3.3M606.8 1151.2h2.3" stroke="#de6673" stroke-width="37.7"/>
<path d="M655.8 1151.2h1.3" stroke="#ecaeb5" stroke-width="37.7"/>
</g>
<text x="13" y="1046" font-size="25" font-weight="bold">P1</text>
<text x="13" y="1084" font-size="25" font-weight="bold">P2</text>
<text x="13" y="1122" font-size="25" font-weight="bold">P3</text>
<text x="13" y="1160" font-size="25" font-weight="bold">P4</text>
<path d="M46.5 1183.5 H312" stroke="#231f20" stroke-width="4.5"/>
<path d="M309 1173.5 L328 1183.5 L309 1193.5 Z" fill="#231f20"/>
<text x="47.5" y="1209" font-size="23.5">Relative position</text>
<defs><linearGradient id="zs" x1="0" y1="0" x2="0" y2="1"><stop offset="0" stop-color="#d4374a"/><stop offset="0.25" stop-color="#e8969e"/><stop offset="0.5" stop-color="#f8f8fa"/><stop offset="0.75" stop-color="#96b2de"/><stop offset="1" stop-color="#3764af"/></linearGradient></defs>
<rect x="717.2" y="1017.2" width="23.3" height="151" fill="url(#zs)" stroke="#5a4a4a" stroke-width="0.9"/>
<path d="M717 1092.5 H722 M735.5 1092.5 H740.5" stroke="#6a5a5a" stroke-width="1"/>
<text x="748.5" y="1026.5" font-size="24.5">2</text>
<text x="749" y="1101.5" font-size="24.5">0</text>
<text x="744.5" y="1175.5" font-size="24.5">-2</text>
<text transform="translate(706,1092) rotate(-90)" font-size="24" text-anchor="middle">Z-score</text>
<text x="9.5" y="1385.5" font-size="56" font-weight="bold" fill="#000">C</text>
<text x="418.5" y="1397.8" font-size="23.3" text-anchor="end" fill="#0c0cf0">Cell cycle</text>
<rect x="433.4" y="1376" width="58.5" height="31.5" fill="#0000ff"/>
<text x="418.5" y="1429.3" font-size="23.3" text-anchor="end" fill="#111">DNA replication</text>
<rect x="433.4" y="1407.5" width="58.5" height="31.5" fill="#dcdcfc"/>
<text x="418.5" y="1460.8" font-size="23.3" text-anchor="end" fill="#0c0cf0">Glycolysis / Gluconeogenesis</text>
<rect x="433.4" y="1438.9" width="58.5" height="31.5" fill="#0000ff"/>
<text x="418.5" y="1492.3" font-size="23.3" text-anchor="end" fill="#0c0cf0">Oxidative phosphorylation</text>
<rect x="433.4" y="1470.4" width="58.5" height="31.5" fill="#0000ff"/>
<text x="418.5" y="1523.7" font-size="23.3" text-anchor="end" fill="#0c0cf0">p53 signaling pathway</text>
<rect x="433.4" y="1501.9" width="58.5" height="31.5" fill="#0000ff"/>
<rect x="609" y="1501.9" width="57.8" height="31.5" fill="#8a8afa"/>
<text x="418.5" y="1555.2" font-size="23.3" text-anchor="end" fill="#0c0cf0">Cell cycle arrest</text>
<rect x="433.4" y="1533.4" width="58.5" height="31.5" fill="#0000ff"/>
<rect x="550.6" y="1533.4" width="58.4" height="31.5" fill="#e8e8fc"/>
<rect x="609" y="1533.4" width="57.8" height="31.5" fill="#b6b6fa"/>
<text x="418.5" y="1586.7" font-size="23.3" text-anchor="end" fill="#111">Apoptotic signaling pathway</text>
<rect x="433.4" y="1564.8" width="58.5" height="31.5" fill="#0000ff"/>
<rect x="491.9" y="1564.8" width="58.7" height="31.5" fill="#7070ff"/>
<rect x="550.6" y="1564.8" width="58.4" height="31.5" fill="#5858ff"/>
<rect x="609" y="1564.8" width="57.8" height="31.5" fill="#7878fc"/>
<text x="418.5" y="1618.2" font-size="23.3" text-anchor="end" fill="#111">Angiogenesis</text>
<rect x="433.4" y="1596.3" width="58.5" height="31.5" fill="#0000ff"/>
<rect x="550.6" y="1596.3" width="58.4" height="31.5" fill="#0000ff"/>
<rect x="609" y="1596.3" width="57.8" height="31.5" fill="#0000ff"/>
<text x="418.5" y="1649.6" font-size="23.3" text-anchor="end" fill="#f26b3a">Signaling by VEGF</text>
<rect x="609" y="1627.8" width="57.8" height="31.5" fill="#0000ff"/>
<text x="418.5" y="1681.1" font-size="23.3" text-anchor="end" fill="#111">Autophagy</text>
<rect x="433.4" y="1659.3" width="58.5" height="31.5" fill="#0000ff"/>
<rect x="609" y="1659.3" width="57.8" height="31.5" fill="#0000ff"/>
<text x="418.5" y="1712.6" font-size="23.3" text-anchor="end" fill="#f26b3a">Autophagosome organization</text>
<rect x="609" y="1690.7" width="57.8" height="31.5" fill="#8888fc"/>
<text x="418.5" y="1744" font-size="23.3" text-anchor="end" fill="#f26b3a">mTOR signaling pathway</text>
<rect x="433.4" y="1722.2" width="58.5" height="31.5" fill="#f0f0fe"/>
<rect x="609" y="1722.2" width="57.8" height="31.5" fill="#8c8cfc"/>
<text x="418.5" y="1775.5" font-size="23.3" text-anchor="end" fill="#f26b3a">AMPK signaling pathway</text>
<rect x="609" y="1753.7" width="57.8" height="31.5" fill="#4848ff"/>
<text x="418.5" y="1807" font-size="23.3" text-anchor="end" fill="#111">TGF-beta Signaling Pathway</text>
<rect x="550.6" y="1785.2" width="58.4" height="31.5" fill="#5050ff"/>
<rect x="609" y="1785.2" width="57.8" height="31.5" fill="#9898fc"/>
<text x="418.5" y="1838.5" font-size="23.3" text-anchor="end" fill="#111">PI3K-Akt signaling pathway</text>
<rect x="550.6" y="1816.6" width="58.4" height="31.5" fill="#babafe"/>
<rect x="609" y="1816.6" width="57.8" height="31.5" fill="#0000ff"/>
<text x="418.5" y="1869.9" font-size="23.3" text-anchor="end" fill="#111">Notch signaling pathway</text>
<rect x="550.6" y="1848.1" width="58.4" height="31.5" fill="#d4d4fe"/>
<rect x="609" y="1848.1" width="57.8" height="31.5" fill="#0000ff"/>
<text x="418.5" y="1901.4" font-size="23.3" text-anchor="end" fill="#111">MAPK signaling pathway</text>
<rect x="550.6" y="1879.6" width="58.4" height="31.5" fill="#9a9afe"/>
<rect x="609" y="1879.6" width="57.8" height="31.5" fill="#0000ff"/>
<text x="418.5" y="1932.9" font-size="23.3" text-anchor="end" fill="#16996b">Regulation of actin cytoskeleton</text>
<rect x="609" y="1911.1" width="57.8" height="31.5" fill="#4848fc"/>
<text x="418.5" y="1964.4" font-size="23.3" text-anchor="end" fill="#16996b">Extracellular matrix organization</text>
<rect x="609" y="1942.5" width="57.8" height="31.5" fill="#0000ff"/>
<path d="M433.4 1376V1974M491.9 1376V1974M550.6 1376V1974M609 1376V1974M666.8 1376V1974M433.4 1376H666.8M433.4 1407.5H666.8M433.4 1438.9H666.8M433.4 1470.4H666.8M433.4 1501.9H666.8M433.4 1533.4H666.8M433.4 1564.8H666.8M433.4 1596.3H666.8M433.4 1627.8H666.8M433.4 1659.3H666.8M433.4 1690.7H666.8M433.4 1722.2H666.8M433.4 1753.7H666.8M433.4 1785.2H666.8M433.4 1816.6H666.8M433.4 1848.1H666.8M433.4 1879.6H666.8M433.4 1911.1H666.8M433.4 1942.5H666.8M433.4 1974H666.8" stroke="#111" stroke-width="1.9" fill="none"/>
<text transform="translate(471.6,1366) rotate(-90)" font-size="26" text-anchor="start" font-weight="bold" fill="#111">P1</text>
<text transform="translate(530.2,1366) rotate(-90)" font-size="26" text-anchor="start" font-weight="bold" fill="#111">P2</text>
<text transform="translate(588.8,1366) rotate(-90)" font-size="26" text-anchor="start" font-weight="bold" fill="#111">P3</text>
<text transform="translate(646.9,1366) rotate(-90)" font-size="26" text-anchor="start" font-weight="bold" fill="#111">P4</text>
<defs><linearGradient id="lp" x1="0" y1="1" x2="0" y2="0"><stop offset="0" stop-color="#ffffff"/><stop offset="0.2" stop-color="#f8f8fe"/><stop offset="0.3" stop-color="#e2e2fc"/><stop offset="0.4" stop-color="#b8b8fa"/><stop offset="0.6" stop-color="#7c7cf6"/><stop offset="0.8" stop-color="#4444f8"/><stop offset="1" stop-color="#0000ff"/></linearGradient></defs>
<rect x="720" y="1814" width="23" height="151" fill="url(#lp)" stroke="#6a5a5a" stroke-width="1"/>
<text x="752.5" y="1972.8" font-size="23.5">0</text>
<path d="M720 1935.1 H727 M735 1935.1 H743" stroke="#6a6a6a" stroke-width="1.4"/>
<text x="752.5" y="1942.9" font-size="23.5">1</text>
<path d="M720 1905.2 H727 M735 1905.2 H743" stroke="#6a6a6a" stroke-width="1.4"/>
<text x="752.5" y="1913" font-size="23.5">2</text>
<path d="M720 1875.3 H727 M735 1875.3 H743" stroke="#6a6a6a" stroke-width="1.4"/>
<text x="752.5" y="1883.1" font-size="23.5">3</text>
<path d="M720 1845.4 H727 M735 1845.4 H743" stroke="#6a6a6a" stroke-width="1.4"/>
<text x="752.5" y="1853.2" font-size="23.5">4</text>
<text x="752.5" y="1823.3" font-size="23.5">5</text>
<text transform="translate(702.5,1890) rotate(-90)" font-size="24" text-anchor="middle">-log<tspan font-size="15" dy="5">10</tspan><tspan dy="-5">(P)</tspan></text>
<text x="783" y="89" font-size="56" font-weight="bold" fill="#000">D</text>
<g shape-rendering="crispEdges">
<rect x="1000.4" y="60" width="28.8" height="22.8" fill="#9467bd"/>
<rect x="1028.6" y="60" width="44.2" height="22.8" fill="#2ca02c"/>
<rect x="1072.2" y="60" width="6.9" height="22.8" fill="#7a7a60"/>
<rect x="1078.5" y="60" width="13" height="22.8" fill="#e377c2"/>
<rect x="1090.9" y="60" width="8.3" height="22.8" fill="#b06a40"/>
<rect x="1098.6" y="60" width="6.7" height="22.8" fill="#d62728"/>
<rect x="1104.6" y="60" width="3.6" height="22.8" fill="#17becf"/>
<rect x="1107.7" y="60" width="34.4" height="22.8" fill="#ff7f0e"/>
<rect x="1141.5" y="60" width="8.3" height="22.8" fill="#a07050"/>
<rect x="1149.2" y="60" width="52.6" height="22.8" fill="#1f77b4"/>
<rect x="1201.2" y="60" width="9.7" height="22.8" fill="#7a6a70"/>
<rect x="1210.3" y="60" width="2.9" height="22.8" fill="#1f77b4"/>
<rect x="1212.6" y="60" width="14.6" height="22.8" fill="#d62728"/>
<rect x="1226.6" y="60" width="7.6" height="22.8" fill="#b03848"/>
<path d="M1002.3 60v22.8M1005.5 60v22.8M1007.1 60v22.8M1009.7 60v22.8M1014.4 60v22.8M1014.8 60v22.8M1016.2 60v22.8M1017.8 60v22.8M1028.2 60v22.8" stroke="#7a6a9a" stroke-width="0.7"/>
<path d="M1004.5 60v22.8M1005.8 60v22.8M1006.1 60v22.8M1007.8 60v22.8M1010.5 60v22.8M1011.1 60v22.8M1011.7 60v22.8M1015.8 60v22.8M1020.4 60v22.8M1026.8 60v22.8" stroke="#8a6a6a" stroke-width="0.7"/>
<path d="M1003.6 60v22.8M1007.9 60v22.8M1007.9 60v22.8M1010.8 60v22.8M1023.4 60v22.8M1024.1 60v22.8M1072.7 60v22.8M1073 60v22.8M1078.4 60v22.8M1078.5 60v22.8" stroke="#e377c2" stroke-width="0.7"/>
<path d="M1030.6 60v22.8M1051.2 60v22.8M1056.7 60v22.8M1061.5 60v22.8" stroke="#7a8a5a" stroke-width="0.7"/>
<path d="M1032.8 60v22.8M1039 60v22.8M1045.9 60v22.8M1050.9 60v22.8M1052.9 60v22.8M1056.8 60v22.8M1063.3 60v22.8M1067 60v22.8M1067.5 60v22.8M1070.4 60v22.8M1075.1 60v22.8M1075.3 60v22.8M1075.5 60v22.8M1075.5 60v22.8M1077.2 60v22.8M1078.7 60v22.8M1079.7 60v22.8M1089.4 60v22.8M1089.5 60v22.8M1093.6 60v22.8M1096.2 60v22.8M1098.1 60v22.8M1142.1 60v22.8M1143.2 60v22.8" stroke="#8c564b" stroke-width="0.7"/>
<path d="M1032.8 60v22.8M1034.5 60v22.8M1035.2 60v22.8M1059.8 60v22.8M1061 60v22.8" stroke="#5a8a50" stroke-width="0.7"/>
<path d="M1082.2 60v22.8M1087.1 60v22.8M1087.6 60v22.8M1088.8 60v22.8M1090.8 60v22.8" stroke="#9467bd" stroke-width="0.7"/>
<path d="M1091.3 60v22.8M1091.4 60v22.8M1093.1 60v22.8M1096.3 60v22.8M1096.5 60v22.8M1098 60v22.8M1098.3 60v22.8M1141.7 60v22.8M1142.3 60v22.8M1142.7 60v22.8M1144.9 60v22.8M1148.4 60v22.8M1148.6 60v22.8M1148.9 60v22.8M1149.1 60v22.8" stroke="#ff7f0e" stroke-width="0.7"/>
<path d="M1091.9 60v22.8M1092.3 60v22.8M1096 60v22.8M1096.6 60v22.8M1201.2 60v22.8M1203 60v22.8M1203.5 60v22.8M1203.8 60v22.8M1207.7 60v22.8M1208.4 60v22.8" stroke="#d62728" stroke-width="0.7"/>
<path d="M1115.5 60v22.8M1126.8 60v22.8M1128.7 60v22.8M1136.5 60v22.8" stroke="#e07010" stroke-width="0.7"/>
<path d="M1109.6 60v22.8M1111.2 60v22.8M1116.4 60v22.8M1119.7 60v22.8M1120 60v22.8M1123.5 60v22.8M1123.5 60v22.8M1125.8 60v22.8M1125.9 60v22.8M1132.1 60v22.8M1132.5 60v22.8M1134 60v22.8M1134 60v22.8M1134.7 60v22.8" stroke="#d08030" stroke-width="0.7"/>
<path d="M1143 60v22.8M1147.1 60v22.8M1148 60v22.8M1148.2 60v22.8M1203.4 60v22.8M1207 60v22.8M1209.6 60v22.8" stroke="#1f77b4" stroke-width="0.7"/>
<path d="M1153.3 60v22.8M1155.1 60v22.8M1161.6 60v22.8M1165.6 60v22.8M1173.6 60v22.8M1183.8 60v22.8M1187.4 60v22.8M1189 60v22.8" stroke="#6a6a90" stroke-width="0.7"/>
<path d="M1169.8 60v22.8M1193.7 60v22.8M1195.8 60v22.8" stroke="#4a6aa0" stroke-width="0.7"/>
<path d="M1201.2 60v22.8M1201.8 60v22.8M1204.3 60v22.8M1206.5 60v22.8M1206.6 60v22.8M1207.1 60v22.8M1207.9 60v22.8" stroke="#9a9a50" stroke-width="0.7"/>
<path d="M1214.4 60v22.8M1216.3 60v22.8M1216.4 60v22.8M1216.6 60v22.8M1219.4 60v22.8M1219.7 60v22.8M1220.1 60v22.8M1221.1 60v22.8M1226.2 60v22.8M1226.6 60v22.8" stroke="#b04050" stroke-width="0.7"/>
<path d="M1215.5 60v22.8M1219.3 60v22.8M1224 60v22.8M1224.8 60v22.8M1225.7 60v22.8" stroke="#c03030" stroke-width="0.7"/>
</g>
<path d="M1109.3 0 V93" stroke="#555" stroke-width="1.3" stroke-dasharray="5,4"/>
<path d="M1204.9 0 V93" stroke="#555" stroke-width="1.3" stroke-dasharray="5,4"/>
<text x="1039.3" y="25.5" font-size="20.3" text-anchor="middle">Glycolytic</text>
<text x="1039.3" y="50.5" font-size="20.3" text-anchor="middle">activated ECs</text>
<text x="1157" y="25.5" font-size="20.3" text-anchor="middle">stalk-like</text>
<text x="1157" y="50.5" font-size="20.3" text-anchor="middle">ECs</text>
<text x="1240.5" y="25.5" font-size="20.3" text-anchor="middle">tip-like</text>
<text x="1240.5" y="50.5" font-size="20.3" text-anchor="middle">ECs</text>
<g shape-rendering="crispEdges">
<rect x="1621" y="60" width="28.8" height="22.8" fill="#9467bd"/>
<rect x="1649.2" y="60" width="44.1" height="22.8" fill="#2ca02c"/>
<rect x="1692.7" y="60" width="6.9" height="22.8" fill="#7a7a60"/>
<rect x="1699" y="60" width="12.9" height="22.8" fill="#e377c2"/>
<rect x="1711.3" y="60" width="8.3" height="22.8" fill="#b06a40"/>
<rect x="1719" y="60" width="6.7" height="22.8" fill="#d62728"/>
<rect x="1725.1" y="60" width="3.6" height="22.8" fill="#17becf"/>
<rect x="1728.1" y="60" width="34.4" height="22.8" fill="#ff7f0e"/>
<rect x="1761.8" y="60" width="8.3" height="22.8" fill="#a07050"/>
<rect x="1769.5" y="60" width="52.5" height="22.8" fill="#1f77b4"/>
<rect x="1821.4" y="60" width="9.7" height="22.8" fill="#7a6a70"/>
<rect x="1830.5" y="60" width="2.9" height="22.8" fill="#1f77b4"/>
<rect x="1832.8" y="60" width="14.6" height="22.8" fill="#d62728"/>
<rect x="1846.8" y="60" width="7.6" height="22.8" fill="#b03848"/>
<path d="M1622.2 60v22.8M1622.7 60v22.8M1623.1 60v22.8M1623.2 60v22.8M1631.8 60v22.8M1632.3 60v22.8M1635.3 60v22.8M1636.4 60v22.8M1642.4 60v22.8M1642.6 60v22.8M1644.9 60v22.8M1647.6 60v22.8M1694.9 60v22.8M1695 60v22.8M1698 60v22.8M1698.5 60v22.8" stroke="#e377c2" stroke-width="0.7"/>
<path d="M1621 60v22.8M1621.4 60v22.8M1636.4 60v22.8M1637.7 60v22.8M1640.6 60v22.8" stroke="#8a6a6a" stroke-width="0.7"/>
<path d="M1621.5 60v22.8M1623.7 60v22.8M1627.5 60v22.8M1628.1 60v22.8M1632 60v22.8M1640.7 60v22.8M1640.8 60v22.8M1641.5 60v22.8" stroke="#7a6a9a" stroke-width="0.7"/>
<path d="M1661.3 60v22.8M1665.5 60v22.8M1679.8 60v22.8M1684.2 60v22.8M1684.6 60v22.8M1685.5 60v22.8M1691.4 60v22.8" stroke="#7a8a5a" stroke-width="0.7"/>
<path d="M1665.3 60v22.8M1667.2 60v22.8M1679 60v22.8M1685.3 60v22.8M1685.8 60v22.8M1688.4 60v22.8M1688.8 60v22.8M1692.2 60v22.8M1693.2 60v22.8M1695.6 60v22.8M1695.6 60v22.8M1695.8 60v22.8M1698 60v22.8M1705.3 60v22.8M1709 60v22.8M1711.7 60v22.8M1712.3 60v22.8M1716 60v22.8M1716.2 60v22.8M1716.6 60v22.8M1718.6 60v22.8M1763.1 60v22.8M1765.4 60v22.8M1766.8 60v22.8M1767.1 60v22.8M1767.1 60v22.8M1767.2 60v22.8M1769.4 60v22.8" stroke="#8c564b" stroke-width="0.7"/>
<path d="M1658.7 60v22.8M1671.5 60v22.8M1673.3 60v22.8M1692.3 60v22.8" stroke="#5a8a50" stroke-width="0.7"/>
<path d="M1700.7 60v22.8M1701.1 60v22.8M1702.3 60v22.8M1702.9 60v22.8M1703.6 60v22.8M1707.7 60v22.8M1707.8 60v22.8" stroke="#9467bd" stroke-width="0.7"/>
<path d="M1711.5 60v22.8M1712.2 60v22.8M1713.6 60v22.8M1715.3 60v22.8M1766.6 60v22.8" stroke="#ff7f0e" stroke-width="0.7"/>
<path d="M1712.6 60v22.8M1712.7 60v22.8M1715.2 60v22.8M1716.3 60v22.8M1823.1 60v22.8M1823.3 60v22.8M1828.5 60v22.8" stroke="#d62728" stroke-width="0.7"/>
<path d="M1729.7 60v22.8M1730.9 60v22.8M1732.5 60v22.8M1732.8 60v22.8M1738.8 60v22.8M1742.7 60v22.8M1749.9 60v22.8M1755 60v22.8M1755.8 60v22.8M1757.4 60v22.8M1759.9 60v22.8" stroke="#e07010" stroke-width="0.7"/>
<path d="M1731.6 60v22.8M1734.7 60v22.8M1738.6 60v22.8M1748.1 60v22.8M1749 60v22.8M1750.3 60v22.8M1753.6 60v22.8" stroke="#d08030" stroke-width="0.7"/>
<path d="M1762.4 60v22.8M1763.2 60v22.8M1765.8 60v22.8M1767.2 60v22.8M1767.6 60v22.8M1767.7 60v22.8M1823.2 60v22.8M1823.5 60v22.8M1825.3 60v22.8M1826.4 60v22.8M1828.7 60v22.8" stroke="#1f77b4" stroke-width="0.7"/>
<path d="M1800.1 60v22.8M1801 60v22.8M1814.2 60v22.8M1820.6 60v22.8" stroke="#4a6aa0" stroke-width="0.7"/>
<path d="M1771.6 60v22.8M1772.7 60v22.8M1779 60v22.8M1797.5 60v22.8M1801.5 60v22.8M1807.4 60v22.8M1820 60v22.8" stroke="#6a6a90" stroke-width="0.7"/>
<path d="M1821.8 60v22.8M1824.4 60v22.8M1825.2 60v22.8M1825.2 60v22.8M1825.7 60v22.8M1826.5 60v22.8M1828.5 60v22.8M1829.9 60v22.8" stroke="#9a9a50" stroke-width="0.7"/>
<path d="M1834.9 60v22.8M1835.7 60v22.8M1836.6 60v22.8M1838.5 60v22.8M1839.3 60v22.8M1842.5 60v22.8M1842.6 60v22.8M1842.6 60v22.8M1842.7 60v22.8M1846.2 60v22.8" stroke="#c03030" stroke-width="0.7"/>
<path d="M1835.9 60v22.8M1839.2 60v22.8M1839.5 60v22.8M1842.6 60v22.8M1845.3 60v22.8" stroke="#b04050" stroke-width="0.7"/>
</g>
<path d="M1729.7 0 V93" stroke="#555" stroke-width="1.3" stroke-dasharray="5,4"/>
<path d="M1825.2 0 V93" stroke="#555" stroke-width="1.3" stroke-dasharray="5,4"/>
<text x="1659.8" y="25.5" font-size="20.3" text-anchor="middle">Glycolytic</text>
<text x="1659.8" y="50.5" font-size="20.3" text-anchor="middle">activated ECs</text>
<text x="1778.6" y="25.5" font-size="20.3" text-anchor="middle">stalk-like</text>
<text x="1778.6" y="50.5" font-size="20.3" text-anchor="middle">ECs</text>
<text x="1860.8" y="25.5" font-size="20.3" text-anchor="middle">tip-like</text>
<text x="1860.8" y="50.5" font-size="20.3" text-anchor="middle">ECs</text>
<path d="M1109.3 93.2 V334" stroke="#555" stroke-width="1.3" stroke-dasharray="5,4"/>
<path d="M1143.8 93.2 V334" stroke="#555" stroke-width="1.3" stroke-dasharray="5,4"/>
<path d="M1204.9 93.2 V334" stroke="#555" stroke-width="1.3" stroke-dasharray="5,4"/>
<g fill="none" stroke-width="1.7" stroke-linejoin="round">
<path d="M1000.4 182.8 1004.8 165.4 1009.3 147.3 1013.7 130.1 1019 119.5 1026 137.1 1033.1 124.8 1037.8 124 1042.4 124.6 1047.1 124.8 1052.4 132 1057.7 140.6 1064.7 151.1 1071.7 182.8 1078.8 172.2 1082.3 144.1 1089.3 168.7 1096.3 182.8 1103.4 242.5 1108.1 248.6 1112.7 253.8 1117.4 260.1 1122.1 260.9 1126.8 258.9 1131.5 260.1 1135.9 261.2 1140.3 260.3 1144.7 262.3 1149.1 261.9 1153.5 260.1 1157.9 261.3 1162.2 260.6 1166.6 260.1 1171 260.2 1175.4 261.1 1179.8 260.6 1184.2 260.1 1188.6 257.2 1193 260.2 1197.4 257.9 1201.8 256.6 1206.2 252.1 1210.6 251.7 1215 249.9 1219.4 247.8 1224.1 249.6 1228.7 247.8 1233.4 249.6" stroke="#f07f92"/>
<path d="M1000.4 191.6 1005 158.2 1012 225 1019 210.9 1026 217.9 1033.1 186.3 1040.1 200.4 1047.1 182.8 1052.4 174.7 1057.7 165.2 1064.7 154.7 1071.7 123 1078.8 147.6 1085.8 133.6 1092.8 165.2 1099.9 182.8 1106.9 168.7 1113.9 210.9 1119.2 216.3 1124.5 225 1129.7 219.6 1135 217.9 1140.3 225 1145.6 232 1150.8 260.5 1156.1 291.7 1161.4 286.3 1166.6 281.2 1171.9 280.3 1177.2 281.2 1182.5 276.5 1187.7 270.7 1193 259.8 1198.3 253.1 1203.6 247 1208.8 239 1214.1 235 1219.4 232 1222.9 200.4 1228.2 202.2 1233.4 207.4" stroke="#e8601c"/>
<path d="M1000.4 158.2 1005 165.2 1009.3 135.4 1013.7 100.2 1019 110.7 1026 109 1033.1 140.6 1038.3 112.5 1042.7 120.6 1047.1 133.6 1052.4 152.4 1057.7 168.7 1064.7 189.8 1071.7 217.9 1077 200.4 1081.4 200 1085.8 200.4 1092.8 239 1098.1 244.8 1103.4 246 1108.6 257.9 1113.9 270.7 1120.9 260.1 1128 274.2 1135 258.3 1140.3 263.6 1145.6 267.1 1150.8 268.6 1156.1 270.7 1161.4 269.8 1166.6 265.4 1171.3 266.8 1176 266.5 1180.7 267.1 1186 259.1 1191.2 253.1 1196.5 246.8 1201.8 242.5 1207.1 242.6 1212.3 242.5 1219.4 207.4 1224.1 211.8 1228.7 216 1233.4 221.4" stroke="#f8c814"/>
<path d="M1000.4 175.7 1005 151.1 1009.9 197.8 1014.8 242.5 1018.7 234 1022.5 228.5 1029.6 228.5 1034.8 202.1 1040.1 217.9 1047.1 200.4 1054.2 207.4 1059.4 175.7 1064.7 186.3 1071.7 126.5 1078.8 158.2 1085.8 116 1092.8 200.4 1099.9 200.4 1106.9 186.3 1113.9 225 1120.9 239 1128 232 1135 221.4 1140.3 238.6 1145.6 253.1 1150.8 257.8 1156.1 263.6 1161.4 263.4 1166.6 260.1 1171.9 260.3 1177.2 261.9 1182.5 254.8 1187.7 246 1193 238.6 1198.3 225 1203.6 222 1208.8 217.9 1215.9 239 1222.9 203.9 1228.2 202.5 1233.4 200.4" stroke="#b5605c"/>
<path d="M1000.4 203.9 1004.4 209.8 1008.5 210.9 1013.7 205.9 1019 200.4 1026 182.8 1031.3 161.7 1036.6 168.7 1041.9 159.1 1047.1 151.1 1054.2 154.7 1061.2 119.5 1064.7 161.7 1071 98.4 1075.3 140.6 1080.5 93.2 1085.8 147.6 1092.8 186.3 1096.3 253.1 1101.6 214.4 1105.1 267.1 1110.4 281.2 1115.7 277.7 1122.7 239 1128 253.1 1131.5 242.5 1138.5 239 1145.6 253.1 1152.6 267.1 1159.6 253.1 1166.6 263.6 1173.7 253.1 1180.7 260.1 1186 260.3 1191.2 260.1 1196.5 254 1201.8 249.6 1205.3 232 1212.3 239 1219.4 198.6 1226.4 210.9 1233.4 200.4" stroke="#cc1058"/>
</g>
<rect x="1000.4" y="93.2" width="233.2" height="240.8" fill="none" stroke="#3a3a3a" stroke-width="1.6"/>
<text x="988.4" y="102.2" font-size="24.5" text-anchor="end">2.0</text>
<text x="988.4" y="162.4" font-size="24.5" text-anchor="end">1.0</text>
<text x="988.4" y="222.6" font-size="24.5" text-anchor="end">0</text>
<text x="988.4" y="282.8" font-size="24.5" text-anchor="end">-1.0</text>
<text x="988.4" y="343" font-size="24.5" text-anchor="end">-2.0</text>
<path d="M993.4 93.2H1000.4M993.4 153.4H1000.4M993.4 213.6H1000.4M993.4 273.8H1000.4M993.4 334H1000.4M999.9 334v7M1042.7 334v7M1090.6 334v7M1138.1 334v7M1185.6 334v7M1233.8 334v7" stroke="#3a3a3a" stroke-width="1.6"/>
<text transform="translate(905,213.6) rotate(-90)" font-size="24" text-anchor="middle" dominant-baseline="central">Relative expression</text>
<text transform="translate(927.5,213.6) rotate(-90)" font-size="24" text-anchor="middle" dominant-baseline="central">(z-score)</text>
<rect x="881" y="93.2" width="4" height="241.8" fill="#231f20"/>
<text transform="translate(864,213.6) rotate(-90)" font-size="27" text-anchor="middle" dominant-baseline="central">Cell cycle</text>
<path d="M1244 149.4 h28" stroke="#f07f92" stroke-width="3.5"/>
<text x="1282.5" y="157.6" font-size="23">CCNA1</text>
<path d="M1244 180.8 h28" stroke="#e8601c" stroke-width="3.5"/>
<text x="1282.5" y="189" font-size="23">CCNB1</text>
<path d="M1244 212.2 h28" stroke="#f8c814" stroke-width="3.5"/>
<text x="1282.5" y="220.4" font-size="23">CCND1</text>
<path d="M1244 243.6 h28" stroke="#b5605c" stroke-width="3.5"/>
<text x="1282.5" y="251.8" font-size="23">CDK1</text>
<path d="M1244 275 h28" stroke="#cc1058" stroke-width="3.5"/>
<text x="1282.5" y="283.2" font-size="23">CDK2</text>
<path d="M1109.3 389.9 V630.6" stroke="#555" stroke-width="1.3" stroke-dasharray="5,4"/>
<path d="M1143.8 389.9 V630.6" stroke="#555" stroke-width="1.3" stroke-dasharray="5,4"/>
<path d="M1204.9 389.9 V630.6" stroke="#555" stroke-width="1.3" stroke-dasharray="5,4"/>
<g fill="none" stroke-width="1.7" stroke-linejoin="round">
<path d="M1000.4 551.6 1005 542.8 1012 570.9 1017.3 578.7 1022.5 585 1027.8 585.8 1033.1 588.5 1037.5 592.5 1041.9 597.3 1046.3 595 1050.7 593.7 1057.7 583.2 1064.7 585 1071.7 569.1 1078.8 570.9 1085.8 565.6 1092.8 560.4 1099.9 528.7 1105.1 551.6 1110.4 551.6 1117.4 535.7 1124.5 521.7 1131.5 514.7 1138.5 500.6 1145.6 483 1152.6 461.9 1159.6 458.4 1166.6 465.4 1171.9 463.7 1177.2 461.9 1182.5 462.8 1187.7 461.9 1194.8 454.9 1201.8 461.9 1208.8 451.4 1215.9 469 1222.9 479.5 1228.2 485.5 1233.4 493.6" stroke="#e8601c"/>
<path d="M1000.4 562.1 1005 556.8 1012 577.9 1017.3 581.1 1022.5 585 1027.8 585.1 1033.1 588.5 1037.5 591.9 1041.9 595.5 1046.3 596.9 1050.7 595.5 1057.7 581.4 1064.7 585 1071.7 570.9 1078.8 577.9 1085.8 563.9 1092.8 562.1 1099.9 521.7 1105.1 546.3 1110.4 518.2 1117.4 502.4 1124.5 497.1 1131.5 495.3 1138.5 486.5 1145.6 476 1152.6 465.4 1159.6 472.5 1164.9 469.6 1170.2 469 1175.4 472.8 1180.7 479.5 1186 472 1191.2 472.5 1198.3 458.4 1203.6 469 1208.8 454.9 1214.1 462.1 1219.4 469 1224.1 477.6 1228.7 486 1233.4 493.6" stroke="#f8c814"/>
<path d="M1000.4 483 1004.4 484.5 1008.5 484.8 1013.7 489.1 1019 497.1 1024.3 509.8 1029.6 521.7 1033.7 529.4 1037.8 535 1041.9 542.8 1046.3 552.1 1050.7 563.9 1057.7 553.3 1063 550.6 1068.2 551.6 1072.6 550.9 1077 549.8 1081.4 529.6 1085.8 511.1 1092.8 563.9 1099.9 519.9 1106.9 585 1112.2 595.5 1117.4 577.9 1124.5 542.8 1131.5 525.2 1138.5 504.1 1145.6 486.5 1152.6 465.4 1159.6 465.4 1166.6 461.9 1171.3 462.2 1176 462.9 1180.7 461.9 1185.4 458.1 1190.1 453.7 1194.8 447.9 1200 447.1 1205.3 446.1 1212.3 469 1219.4 463.7 1226.4 484.8 1233.4 484.8" stroke="#1f8fcf"/>
<path d="M1000.4 479.5 1005 477.8 1009.6 485 1014.3 494.2 1019 500.6 1024.3 514.6 1029.6 525.2 1033.7 537.5 1037.8 550.2 1041.9 563.9 1047.1 567.1 1052.4 572.7 1057.7 563.9 1063 557.8 1068.2 549.8 1075.3 542.8 1082.3 500.6 1089.3 518.2 1096.3 567.4 1101.6 535.7 1108.6 577.9 1113.9 579.7 1120.9 560.4 1128 542.8 1135 521.7 1140.3 508.1 1145.6 493.6 1152.6 454.9 1159.6 456.7 1164.9 456.3 1170.2 454.9 1175.4 455.6 1180.7 453.1 1186 454 1191.2 454.9 1195.9 451.8 1200.6 452.8 1205.3 449.6 1210.6 461.4 1215.9 472.5 1220.2 474.6 1224.6 479.5 1229.9 500.6 1233.4 498.8" stroke="#5b4fb5"/>
<path d="M1000.4 539.3 1006.7 535.7 1013.7 556.8 1020.8 532.2 1027.8 525.2 1033.1 507.6 1038.3 511.1 1042.7 508.2 1047.1 507.6 1054.2 511.1 1061.2 504.1 1066.5 496.1 1071.7 488.3 1078.8 500.6 1085.8 500.6 1092.8 525.2 1099.9 497.1 1105.1 560.4 1112.2 600.8 1117.4 588.5 1124.5 553.3 1131.5 577.9 1138.5 535.7 1145.6 507.6 1152.6 465.4 1157.9 439.1 1163.1 444.4 1168.4 465.4 1173.7 447.9 1180.7 446.1 1186 450.5 1191.2 454.9 1196.5 461.8 1201.8 469 1207.1 493.6 1212.3 511.1 1219.4 519.9 1224.6 500.6 1229 509.7 1233.4 512.9" stroke="#c06a6a"/>
<path d="M1000.4 460.2 1005 463.7 1009.3 455.9 1013.7 449.6 1018.1 459.5 1022.5 469 1027.8 485.7 1033.1 500.6 1040.1 539.3 1047.1 542.8 1052.4 555.1 1059.4 539.3 1064.7 534 1071 507.6 1075.3 528.7 1080.5 479.5 1085.8 481.3 1090.2 534.1 1094.6 585 1100.6 532.2 1106.9 570.9 1113.2 609.6 1119.2 588.5 1126.2 570.9 1129.7 577.9 1135 539.3 1142 528.7 1149.1 476 1154.3 476.3 1159.6 476 1166.6 486.5 1171.9 482.1 1177.2 474.2 1182.5 476.5 1187.7 476 1194.8 477.8 1200 473.8 1205.3 470.7 1210.6 475.7 1215.9 484.8 1222.9 486.5 1229.9 504.1 1233.4 500.6" stroke="#6b1a4a"/>
</g>
<rect x="1000.4" y="389.9" width="233.2" height="240.7" fill="none" stroke="#3a3a3a" stroke-width="1.6"/>
<text x="988.4" y="398.9" font-size="24.5" text-anchor="end">2.5</text>
<text x="988.4" y="425.6" font-size="24.5" text-anchor="end">2.0</text>
<text x="988.4" y="452.4" font-size="24.5" text-anchor="end">1.5</text>
<text x="988.4" y="479.1" font-size="24.5" text-anchor="end">1.0</text>
<text x="988.4" y="505.9" font-size="24.5" text-anchor="end">0.5</text>
<text x="988.4" y="532.6" font-size="24.5" text-anchor="end">0</text>
<text x="988.4" y="559.4" font-size="24.5" text-anchor="end">-0.5</text>
<text x="988.4" y="586.1" font-size="24.5" text-anchor="end">-1.0</text>
<text x="988.4" y="612.9" font-size="24.5" text-anchor="end">-1.5</text>
<text x="988.4" y="639.6" font-size="24.5" text-anchor="end">-2.0</text>
<path d="M993.4 389.9H1000.4M993.4 416.6H1000.4M993.4 443.4H1000.4M993.4 470.1H1000.4M993.4 496.9H1000.4M993.4 523.6H1000.4M993.4 550.4H1000.4M993.4 577.1H1000.4M993.4 603.9H1000.4M993.4 630.6H1000.4M999.9 630.6v7M1042.7 630.6v7M1090.6 630.6v7M1138.1 630.6v7M1185.6 630.6v7M1233.8 630.6v7" stroke="#3a3a3a" stroke-width="1.6"/>
<text transform="translate(905,510.2) rotate(-90)" font-size="24" text-anchor="middle" dominant-baseline="central">Relative expression</text>
<text transform="translate(927.5,510.2) rotate(-90)" font-size="24" text-anchor="middle" dominant-baseline="central">(z-score)</text>
<rect x="881" y="389.9" width="4" height="241.7" fill="#231f20"/>
<text transform="translate(811.6,510.2) rotate(-90)" font-size="27" text-anchor="middle" dominant-baseline="central">VEGF/NOTCH</text>
<text transform="translate(836.5,510.2) rotate(-90)" font-size="27" text-anchor="middle" dominant-baseline="central">signaling</text>
<text transform="translate(862.6,510.2) rotate(-90)" font-size="27" text-anchor="middle" dominant-baseline="central">(stalk-like EC)</text>
<path d="M1244 425 h28" stroke="#e8601c" stroke-width="3.5"/>
<text x="1282.5" y="433.2" font-size="23">VEGFR1</text>
<path d="M1244 458.4 h28" stroke="#f8c814" stroke-width="3.5"/>
<text x="1282.5" y="466.6" font-size="23">VEGFR3</text>
<path d="M1244 491.8 h28" stroke="#1f8fcf" stroke-width="3.5"/>
<text x="1282.5" y="500" font-size="23">ADAM17</text>
<path d="M1244 525.2 h28" stroke="#5b4fb5" stroke-width="3.5"/>
<text x="1282.5" y="533.4" font-size="23">PSEN1</text>
<path d="M1244 558.6 h28" stroke="#c06a6a" stroke-width="3.5"/>
<text x="1282.5" y="566.8" font-size="23">PSEN2</text>
<path d="M1244 592 h28" stroke="#6b1a4a" stroke-width="3.5"/>
<text x="1282.5" y="600.2" font-size="23">JAG1</text>
<path d="M1109.3 681.8 V923" stroke="#555" stroke-width="1.3" stroke-dasharray="5,4"/>
<path d="M1143.8 681.8 V923" stroke="#555" stroke-width="1.3" stroke-dasharray="5,4"/>
<path d="M1204.9 681.8 V923" stroke="#555" stroke-width="1.3" stroke-dasharray="5,4"/>
<g fill="none" stroke-width="1.7" stroke-linejoin="round">
<path d="M1000.4 779.5 1006.7 783 1013.7 786.5 1018.1 783.3 1022.5 776 1029.6 784.8 1036.6 783 1041.9 780.9 1047.1 776 1052.4 774.1 1057.7 776 1063 773.2 1068.2 772.5 1073.5 773.9 1078.8 776 1085.8 772.5 1092.8 800.6 1099.9 797.1 1105.1 807.6 1110.4 812.9 1117.4 814.7 1122.7 811.9 1128 811.1 1133.3 820.5 1138.5 825.2 1145.6 839.3 1150.8 837.1 1156.1 832.2 1161.4 833.3 1166.6 835.7 1171.9 832.4 1177.2 828.7 1182.5 834.3 1187.7 839.3 1193 837.4 1198.3 835.7 1205.3 842.8 1212.3 825.2 1219.4 818.2 1226.4 811.1 1233.4 814.7" stroke="#e8601c"/>
<path d="M1000.4 772.5 1005 793.6 1012 804.1 1019 800.6 1026 804.1 1033.1 800.6 1040.1 804.1 1045.4 803 1050.7 802.4 1057.7 798.8 1064.7 793.6 1070 785.2 1075.3 776 1082.3 758.4 1089.3 793.6 1096.3 825.2 1103.4 807.6 1110.4 835.7 1117.4 825.2 1124.5 832.2 1131.5 825.2 1138.5 818.2 1143.8 817 1149.1 821.7 1156.1 811.1 1161.4 813.7 1166.6 818.2 1171.9 815 1177.2 814.7 1182.5 812.7 1187.7 811.1 1193 806.9 1198.3 804.1 1205.3 807.6 1210.6 808.3 1215.9 811.1 1221.1 815.2 1226.4 821.7 1233.4 807.6" stroke="#c57070"/>
<path d="M1000.4 800.6 1005 811.1 1012 804.1 1019 804.1 1026 793.6 1033.1 790.1 1040.1 797.1 1047.1 783 1052.4 775.7 1057.7 765.4 1064.7 779.5 1071.7 776 1078.8 783 1084 789.5 1089.3 793.6 1096.3 825.2 1103.4 814.7 1110.4 832.2 1117.4 814.7 1122.7 812.2 1128 811.1 1135 821.7 1140.3 821.8 1145.6 821.7 1150.8 823.1 1156.1 825.2 1161.4 828.1 1166.6 828.7 1171.9 826.1 1177.2 825.2 1182.5 826.8 1187.7 828.7 1193 828 1198.3 825.2 1205.3 821.7 1210.6 818.2 1215.9 811.1 1221.1 809.2 1226.4 807.6 1233.4 816.4" stroke="#6b1a4a"/>
<path d="M1000.4 753.1 1005 763.7 1008.8 743.1 1012.7 723.3 1019 733.8 1026 740.8 1033.1 754.9 1040.1 769 1047.1 786.5 1052.4 790.1 1057.7 779.5 1061.2 811.1 1066.5 783 1071.7 804.1 1077 772.5 1082.3 783 1087.6 881.4 1092.8 853.3 1098.1 888.5 1105.1 913.1 1110.4 902.5 1117.4 885 1124.5 863.9 1131.5 856.8 1138.5 832.2 1145.6 821.7 1150.8 821.5 1156.1 821.7 1161.4 818.9 1166.6 818.2 1171.3 817.1 1176 816.3 1180.7 816.4 1186 821.8 1191.2 825.2 1198.3 825.2 1205.3 832.2 1212.3 839.3 1219.4 828.7 1226.4 821.7 1233.4 819.9" stroke="#3a6fd0"/>
<path d="M1000.4 793.6 1004.4 796.8 1008.5 800.6 1013.7 803 1019 804.1 1024.3 804.8 1029.6 804.1 1034.8 805.2 1040.1 807.6 1044.2 811.3 1048.3 811 1052.4 812.9 1056.8 807.6 1061.2 800.6 1066.5 797.3 1071.7 793.6 1076.1 787.1 1080.5 779.5 1084.9 789.3 1089.3 800.6 1096.3 814.7 1103.4 835.7 1110.4 821.7 1117.4 821.7 1122.7 822.8 1128 821.7 1135 828.7 1142 818.2 1147.3 816.1 1152.6 814.7 1159.6 811.1 1166.6 814.7 1173.7 811.1 1180.7 814.7 1186 797.1 1191.2 814.7 1195.6 817.7 1200 823.4 1205.3 804.1 1210.6 807.7 1215.9 811.1 1222.9 807.6 1228.2 806 1233.4 805.9" stroke="#f8c814"/>
<path d="M1000.4 765.4 1005 772.5 1012 737.3 1019 744.4 1026 739.1 1033.1 751.4 1037.5 741.4 1041.9 733.8 1046.3 740.9 1050.7 751.4 1055.9 758.4 1061.2 765.4 1066.5 771.1 1071.7 776 1077 779.4 1082.3 779.5 1089.3 793.6 1092.8 814.7 1099.9 797.1 1106.9 856.8 1113.9 874.4 1120.9 863.9 1128 853.3 1135 849.8 1142 849.8 1149.1 863.9 1154.3 866.5 1159.6 872.7 1166.6 867.4 1173.7 870.9 1180.7 870.9 1186 867.9 1191.2 863.9 1196.5 858.3 1201.8 853.3 1208.8 839.3 1215.9 828.7 1222.9 818.2 1228.2 814.8 1233.4 816.4" stroke="#d4421a"/>
<path d="M1000.4 786.5 1004.4 788.5 1008.5 790.1 1015.5 776 1022.5 772.5 1027.8 763 1033.1 749.6 1037.5 753.3 1041.9 756.7 1048.9 746.1 1055.9 751.4 1061.2 735.6 1066.5 776 1071.7 744.4 1077 776 1080.5 739.1 1085.8 772.5 1092.8 814.7 1098.1 870.9 1103.4 842.8 1108.6 895.5 1113.9 909.6 1119.2 895.5 1124.5 870.9 1131.5 856.8 1138.5 849.8 1145.6 842.8 1152.6 835.7 1157.9 833.6 1163.1 832.2 1168.4 832.7 1173.7 832.2 1178.9 835.6 1184.2 832.2 1189.5 836.1 1194.8 842.8 1201.8 835.7 1207.1 839.2 1212.3 839.3 1219.4 846.3 1226.4 832.2 1233.4 834" stroke="#1a7a7a"/>
</g>
<rect x="1000.4" y="681.8" width="233.2" height="241.2" fill="none" stroke="#3a3a3a" stroke-width="1.6"/>
<text x="988.4" y="690.8" font-size="24.5" text-anchor="end">2.5</text>
<text x="988.4" y="717.6" font-size="24.5" text-anchor="end">2.0</text>
<text x="988.4" y="744.4" font-size="24.5" text-anchor="end">1.5</text>
<text x="988.4" y="771.2" font-size="24.5" text-anchor="end">1.0</text>
<text x="988.4" y="798" font-size="24.5" text-anchor="end">0.5</text>
<text x="988.4" y="824.8" font-size="24.5" text-anchor="end">0</text>
<text x="988.4" y="851.6" font-size="24.5" text-anchor="end">-0.5</text>
<text x="988.4" y="878.4" font-size="24.5" text-anchor="end">-1.0</text>
<text x="988.4" y="905.2" font-size="24.5" text-anchor="end">-1.5</text>
<text x="988.4" y="932" font-size="24.5" text-anchor="end">-2.0</text>
<path d="M993.4 681.8H1000.4M993.4 708.6H1000.4M993.4 735.4H1000.4M993.4 762.2H1000.4M993.4 789H1000.4M993.4 815.8H1000.4M993.4 842.6H1000.4M993.4 869.4H1000.4M993.4 896.2H1000.4M993.4 923H1000.4M1000.4 923v7M1047 923v7M1093.7 923v7M1140.3 923v7M1187 923v7M1233.6 923v7" stroke="#3a3a3a" stroke-width="1.6"/>
<text transform="translate(905,802.4) rotate(-90)" font-size="24" text-anchor="middle" dominant-baseline="central">Relative expression</text>
<text transform="translate(927.5,802.4) rotate(-90)" font-size="24" text-anchor="middle" dominant-baseline="central">(z-score)</text>
<rect x="881" y="681.8" width="4" height="242.2" fill="#231f20"/>
<text transform="translate(836.5,802.4) rotate(-90)" font-size="27" text-anchor="middle" dominant-baseline="central">Autophagy</text>
<text transform="translate(864,802.4) rotate(-90)" font-size="27" text-anchor="middle" dominant-baseline="central">(basement)</text>
<path d="M1244 705 h28" stroke="#e8601c" stroke-width="3.5"/>
<text x="1282.5" y="713.2" font-size="23">CTSB</text>
<path d="M1244 736.6 h28" stroke="#c57070" stroke-width="3.5"/>
<text x="1282.5" y="744.8" font-size="23">DRAM1</text>
<path d="M1244 768.2 h28" stroke="#6b1a4a" stroke-width="3.5"/>
<text x="1282.5" y="776.4" font-size="23">LAMP1</text>
<path d="M1244 799.8 h28" stroke="#3a6fd0" stroke-width="3.5"/>
<text x="1282.5" y="808" font-size="23">RAB7A</text>
<path d="M1244 831.4 h28" stroke="#f8c814" stroke-width="3.5"/>
<text x="1282.5" y="839.6" font-size="23">RAB33B</text>
<path d="M1244 863 h28" stroke="#d4421a" stroke-width="3.5"/>
<text x="1282.5" y="871.2" font-size="23">SPHK1</text>
<path d="M1244 894.6 h28" stroke="#1a7a7a" stroke-width="3.5"/>
<text x="1282.5" y="902.8" font-size="23">SQSTM1</text>
<path d="M1109.3 975.5 V1216.6" stroke="#555" stroke-width="1.3" stroke-dasharray="5,4"/>
<path d="M1143.8 975.5 V1216.6" stroke="#555" stroke-width="1.3" stroke-dasharray="5,4"/>
<path d="M1204.9 975.5 V1216.6" stroke="#555" stroke-width="1.3" stroke-dasharray="5,4"/>
<g fill="none" stroke-width="1.7" stroke-linejoin="round">
<path d="M1000.4 1132.2 1005 1121.7 1012 1160.4 1019 1163.9 1026 1170.9 1033.1 1165.6 1040.1 1177.9 1047.1 1170.9 1054.2 1167.4 1061.2 1156.8 1068.2 1137.5 1075.3 1142.8 1082.3 1139.3 1089.3 1132.2 1094.6 1083 1099.9 1114.7 1106.9 1132.2 1112.2 1120.3 1117.4 1111.1 1124.5 1090.1 1131.5 1093.6 1138.5 1076 1145.6 1065.4 1150.8 1055.1 1156.1 1044.4 1161.4 1042.4 1166.6 1039.1 1171.9 1035.3 1177.2 1035.6 1182.5 1035.6 1187.7 1037.3 1194.8 1023.3 1201.8 1030.3 1205.3 1009.2 1212.3 1037.3 1219.4 1009.2 1226.4 1033.8 1233.4 1040.8" stroke="#f07f92"/>
<path d="M1000.4 1121.7 1005 1114.7 1012 1139.3 1019 1146.3 1026 1163.9 1033.1 1167.4 1037.5 1177.6 1041.9 1181.4 1046.3 1176.8 1050.7 1170.9 1057.7 1163.9 1061.2 1170.9 1066.5 1149.8 1071.7 1167.4 1078.8 1146.3 1082.3 1165.6 1089.3 1139.3 1094.6 1079.5 1099.9 1100.6 1106.9 1107.6 1113.9 1107.6 1118.3 1099.9 1122.7 1088.3 1128.7 1104.1 1133.6 1091.5 1138.5 1076 1145.6 1061.9 1150.8 1042.2 1156.1 1026.8 1163.1 1033.8 1168.4 1031 1173.7 1032.1 1178.9 1034.3 1184.2 1035.6 1189.5 1027.3 1194.8 1019.8 1201.8 1030.3 1205.3 1012.7 1212.3 1033.8 1219.4 1016.2 1226.4 1037.3 1233.4 1051.4" stroke="#e8601c"/>
<path d="M1000.4 1160.4 1005 1149.8 1009.3 1170.5 1013.7 1190.2 1019 1183.2 1023.4 1183.9 1027.8 1183.2 1032.2 1177.9 1036.6 1174.4 1041.9 1171 1047.1 1170.9 1054.2 1151.6 1061.2 1156.8 1066.5 1125.2 1071.7 1135.7 1077 1128.7 1082.3 1146.3 1089.3 1125.2 1095.3 1054.9 1099.9 1060.2 1105.1 1040.8 1109.5 1040.8 1113.9 1044.4 1118.3 1042.4 1122.7 1042.6 1127.1 1048.1 1131.5 1058.4 1138.5 1051.4 1145.6 1054.9 1152.6 1061.9 1159.6 1065.4 1166.6 1051.4 1173.7 1061.9 1180.7 1072.5 1187.7 1069 1194.8 1058.4 1201.8 1061.9 1208.8 1047.9 1215.9 1051.4 1219.4 1019.8 1226.4 1051.4 1233.4 1047.9" stroke="#f8c814"/>
<path d="M1000.4 1125.2 1005 1118.2 1012 1149.8 1017.3 1156.8 1022.5 1163.9 1027.8 1163.4 1033.1 1163.9 1040.1 1174.4 1045.4 1172.6 1050.7 1170.9 1055.9 1165.5 1061.2 1160.4 1068.2 1139.3 1073.5 1140.5 1078.8 1142.8 1084 1138.5 1089.3 1135.7 1094.6 1076 1101.6 1118.2 1108.6 1128.7 1113 1117.7 1117.4 1107.6 1124.5 1086.5 1131.5 1093.6 1138.5 1069 1145.6 1061.9 1150.8 1050.6 1156.1 1037.3 1161.4 1037.4 1166.6 1035.6 1171.9 1036.6 1177.2 1037.3 1182.5 1035.3 1187.7 1035.6 1194.8 1019.8 1201.8 1028.5 1205.3 1011 1212.3 1035.6 1219.4 1009.2 1226.4 1035.6 1233.4 1044.4" stroke="#b5605c"/>
<path d="M1000.4 1146.3 1005 1139.3 1009.3 1160.7 1013.7 1177.9 1018.1 1179.8 1022.5 1181.4 1027.8 1179.7 1033.1 1181.4 1038.3 1174.4 1042.7 1170.9 1047.1 1167.4 1054.2 1156.8 1061.2 1167.4 1068.2 1139.3 1075.3 1142.8 1082.3 1142.8 1089.3 1132.2 1094.6 1065.4 1099 1084.7 1103.4 1104.1 1110.4 1093.6 1117.4 1061.9 1124.5 1054.9 1131.5 1061.9 1138.5 1058.4 1145.6 1058.4 1152.6 1058.4 1159.6 1051.4 1166.6 1047.9 1173.7 1054.9 1180.7 1058.4 1187.7 1054.9 1194.8 1033.8 1201.8 1040.8 1205.3 1019.8 1212.3 1033.8 1219.4 1002.2 1226.4 1033.8 1233.4 1040.8" stroke="#4a4ab5"/>
</g>
<rect x="1000.4" y="975.5" width="233.2" height="241.1" fill="none" stroke="#3a3a3a" stroke-width="1.6"/>
<text x="988.4" y="984.5" font-size="24.5" text-anchor="end">2.0</text>
<text x="988.4" y="1044.8" font-size="24.5" text-anchor="end">1.0</text>
<text x="988.4" y="1105" font-size="24.5" text-anchor="end">0</text>
<text x="988.4" y="1165.3" font-size="24.5" text-anchor="end">-1.0</text>
<text x="988.4" y="1225.6" font-size="24.5" text-anchor="end">-2.0</text>
<path d="M993.4 975.5H1000.4M993.4 1035.8H1000.4M993.4 1096H1000.4M993.4 1156.3H1000.4M993.4 1216.6H1000.4M1000.4 1216.6v7M1047 1216.6v7M1093.7 1216.6v7M1140.3 1216.6v7M1187 1216.6v7M1233.6 1216.6v7" stroke="#3a3a3a" stroke-width="1.6"/>
<text x="1000.4" y="1252.1" font-size="23" text-anchor="middle">0</text>
<text x="1047" y="1252.1" font-size="23" text-anchor="middle">0.2</text>
<text x="1093.7" y="1252.1" font-size="23" text-anchor="middle">0.4</text>
<text x="1140.3" y="1252.1" font-size="23" text-anchor="middle">0.6</text>
<text x="1187" y="1252.1" font-size="23" text-anchor="middle">0.8</text>
<text x="1233.6" y="1252.1" font-size="23" text-anchor="middle">1.0</text>
<text x="1117" y="1278.6" font-size="23.4" text-anchor="middle">Relative position</text>
<text transform="translate(905,1096) rotate(-90)" font-size="24" text-anchor="middle" dominant-baseline="central">Relative expression</text>
<text transform="translate(927.5,1096) rotate(-90)" font-size="24" text-anchor="middle" dominant-baseline="central">(z-score)</text>
<rect x="881" y="975.5" width="4" height="242.1" fill="#231f20"/>
<text transform="translate(838,1096) rotate(-90)" font-size="27" text-anchor="middle" dominant-baseline="central">extracellular matrix</text>
<text transform="translate(864,1096) rotate(-90)" font-size="27" text-anchor="middle" dominant-baseline="central">organization</text>
<path d="M1244 1032 h28" stroke="#f07f92" stroke-width="3.5"/>
<text x="1282.5" y="1040.2" font-size="23">COL4A1</text>
<path d="M1244 1063.2 h28" stroke="#e8601c" stroke-width="3.5"/>
<text x="1282.5" y="1071.4" font-size="23">COL4A2</text>
<path d="M1244 1094.4 h28" stroke="#f8c814" stroke-width="3.5"/>
<text x="1282.5" y="1102.6" font-size="23">COL9A3</text>
<path d="M1244 1125.6 h28" stroke="#b5605c" stroke-width="3.5"/>
<text x="1282.5" y="1133.8" font-size="23">LAMA5</text>
<path d="M1244 1156.8 h28" stroke="#4a4ab5" stroke-width="3.5"/>
<text x="1282.5" y="1165" font-size="23">LAMB2</text>
<path d="M1729.7 93.4 V334.5" stroke="#555" stroke-width="1.3" stroke-dasharray="5,4"/>
<path d="M1764.2 93.4 V334.5" stroke="#555" stroke-width="1.3" stroke-dasharray="5,4"/>
<path d="M1825.2 93.4 V334.5" stroke="#555" stroke-width="1.3" stroke-dasharray="5,4"/>
<g fill="none" stroke-width="1.7" stroke-linejoin="round">
<path d="M1621.1 196.9 1625.8 202 1630.1 184.7 1634.3 166.4 1639.4 164.7 1643.6 155.5 1647.9 146 1653 147.7 1658.1 127.3 1664.9 125.6 1671.6 123.9 1678.4 135.8 1685.2 149.4 1692 159.6 1698.8 166.4 1705.6 166.4 1710.7 169.8 1715.8 183.4 1720.9 203.7 1726 185.1 1731.1 190.2 1736.2 203.7 1743 217.3 1749.7 230.9 1756.5 237.7 1760.8 248 1765 258.1 1769.3 272.7 1773.5 285.2 1780.3 295.4 1785.4 292.9 1790.5 288.6 1795.6 291.7 1800.7 292 1805.8 288 1810.9 285.2 1817.7 285.2 1824.4 271.6 1831.2 268.3 1838 251.3 1844.8 237.7 1849.2 235.8 1853.7 237.7" stroke="#f07f92"/>
<path d="M1621.1 166.4 1625.8 176.6 1630.1 152 1634.3 125.6 1641.1 132.4 1647.9 122.2 1654.7 135.8 1659.8 115.4 1664 120.9 1668.3 125.6 1675 135.8 1681.8 146 1688.6 166.4 1695.4 163 1702.2 166.4 1707.3 176.6 1712.4 203.7 1717.5 224.1 1722.6 224.1 1729.4 244.5 1736.2 258.1 1743 251.3 1749.7 258.1 1756.5 251.3 1763.3 258.1 1770.1 271.6 1776.9 278.4 1783.7 278.4 1788.8 280.1 1793.9 278.4 1799 276.9 1804.1 275 1809.2 273.9 1814.3 268.3 1819.4 260.6 1824.4 254.7 1829.5 250.7 1834.6 247.9 1841.4 227.5 1845.5 231.8 1849.6 235.5 1853.7 237.7" stroke="#e8601c"/>
<path d="M1621.1 154.5 1625.8 166.4 1630.1 141.1 1634.3 115.4 1639.4 125.6 1643.6 121.1 1647.9 117.1 1654.7 139.2 1659.8 117.1 1664 121.7 1668.3 125.6 1675 139.2 1681.8 156.2 1688.6 173.2 1695.4 183.4 1702.2 166.4 1707.3 180 1712.4 207.1 1717.5 227.5 1722.6 224.1 1729.4 247.9 1736.2 258.1 1743 254.7 1749.7 264.9 1756.5 258.1 1763.3 264.9 1770.1 275 1776.9 281.8 1783.7 285.2 1788.8 282 1793.9 278.4 1799 275.2 1804.1 271.6 1809.2 267.1 1814.3 264.9 1819.4 255.4 1824.4 247.9 1831.2 244.5 1836.3 232.7 1841.4 220.7 1845.5 222.5 1849.6 225.5 1853.7 227.5" stroke="#f8c814"/>
<path d="M1621.1 169.8 1625.8 180 1630.1 155.2 1634.3 129 1641.1 132.4 1645.3 126.7 1649.6 125.6 1654.7 135.8 1659.8 120.5 1664 122.6 1668.3 125.6 1675 137.5 1681.8 149.4 1688.6 168.1 1695.4 166.4 1702.2 166.4 1707.3 176.6 1712.4 203.7 1717.5 220.7 1722.6 227.5 1729.4 244.5 1736.2 253 1743 247.9 1749.7 251.3 1756.5 247.9 1763.3 258.1 1770.1 271.6 1776.9 281.8 1783.7 278.4 1788.8 276.4 1793.9 278.4 1799 277.5 1804.1 275 1809.2 273.6 1814.3 271.6 1819.4 263.6 1824.4 258.1 1829.5 253.6 1834.6 251.3 1841.4 230.9 1845.5 234 1849.6 237.4 1853.7 239.4" stroke="#b85450"/>
<path d="M1621.1 159.6 1625.8 173.2 1630.1 147.3 1634.3 122.2 1641.1 129 1645.3 127 1649.6 122.2 1654.7 132.4 1659.8 112.1 1664 118 1668.3 123.9 1675 135.8 1681.8 146 1688.6 163 1695.4 159.6 1702.2 163 1707.3 183.4 1712.4 210.5 1717.5 220.7 1722.6 237.7 1729.4 244.5 1736.2 247.9 1743 244.5 1749.7 244.5 1756.5 251.3 1763.3 261.5 1770.1 275 1776.9 278.4 1783.7 275 1788.8 274.9 1793.9 276.7 1799 274.1 1804.1 275 1809.2 273.5 1814.3 273.3 1819.4 264.8 1824.4 258.1 1829.5 258.9 1834.6 254.7 1841.4 234.3 1845.5 234.1 1849.6 234.6 1853.7 234.3" stroke="#a07ac0"/>
<path d="M1621.1 169.8 1625.8 180 1630.1 158.9 1634.3 135.8 1641.1 139.2 1645.3 134 1649.6 129 1654.7 135.8 1659.8 122.2 1664 125.3 1668.3 125.6 1675 139.2 1681.8 152.8 1688.6 159.6 1695.4 159.6 1700.5 152.8 1707.3 180 1712.4 220.7 1717.5 217.3 1722.6 244.5 1729.4 251.3 1736.2 264.9 1743 251.3 1749.7 264.9 1756.5 251.3 1763.3 261.5 1770.1 271.6 1776.9 278.4 1783.7 276.7 1788.8 279.6 1793.9 278.4 1799 273.7 1804.1 271.6 1809.2 268.1 1814.3 268.3 1819.4 262.4 1824.4 253 1831.2 254.7 1836.3 244.2 1841.4 229.2 1845.5 230.9 1849.6 228.5 1853.7 230.9" stroke="#4a4ab0"/>
</g>
<rect x="1621" y="93.4" width="232.8" height="241.1" fill="none" stroke="#3a3a3a" stroke-width="1.6"/>
<text x="1609" y="102.4" font-size="24.5" text-anchor="end">2.0</text>
<text x="1609" y="162.7" font-size="24.5" text-anchor="end">1.0</text>
<text x="1609" y="222.9" font-size="24.5" text-anchor="end">0</text>
<text x="1609" y="283.2" font-size="24.5" text-anchor="end">-1.0</text>
<text x="1609" y="343.5" font-size="24.5" text-anchor="end">-2.0</text>
<path d="M1614 93.4H1621M1614 153.7H1621M1614 213.9H1621M1614 274.2H1621M1614 334.5H1621M1621 334.5v7M1667.6 334.5v7M1714.1 334.5v7M1760.7 334.5v7M1807.2 334.5v7M1853.8 334.5v7" stroke="#3a3a3a" stroke-width="1.6"/>
<text transform="translate(1526,213.9) rotate(-90)" font-size="24" text-anchor="middle" dominant-baseline="central">Relative expression</text>
<text transform="translate(1548.5,213.9) rotate(-90)" font-size="24" text-anchor="middle" dominant-baseline="central">(z-score)</text>
<rect x="1502" y="93.4" width="4" height="242.1" fill="#231f20"/>
<text transform="translate(1483,213.9) rotate(-90)" font-size="27" text-anchor="middle" dominant-baseline="central">Glycolysis</text>
<path d="M1865 131.7 h28" stroke="#f07f92" stroke-width="3.5"/>
<text x="1903.5" y="139.9" font-size="23">ALDOA</text>
<path d="M1865 163.9 h28" stroke="#e8601c" stroke-width="3.5"/>
<text x="1903.5" y="172.1" font-size="23">ENO1</text>
<path d="M1865 196.1 h28" stroke="#f8c814" stroke-width="3.5"/>
<text x="1903.5" y="204.3" font-size="23">PFKP</text>
<path d="M1865 228.3 h28" stroke="#b85450" stroke-width="3.5"/>
<text x="1903.5" y="236.5" font-size="23">PGAM1</text>
<path d="M1865 260.5 h28" stroke="#a07ac0" stroke-width="3.5"/>
<text x="1903.5" y="268.7" font-size="23">PGK1</text>
<path d="M1865 292.7 h28" stroke="#4a4ab0" stroke-width="3.5"/>
<text x="1903.5" y="300.9" font-size="23">PKM</text>
<path d="M1729.7 387.2 V628.2" stroke="#555" stroke-width="1.3" stroke-dasharray="5,4"/>
<path d="M1764.2 387.2 V628.2" stroke="#555" stroke-width="1.3" stroke-dasharray="5,4"/>
<path d="M1825.2 387.2 V628.2" stroke="#555" stroke-width="1.3" stroke-dasharray="5,4"/>
<g fill="none" stroke-width="1.7" stroke-linejoin="round">
<path d="M1621.1 563.7 1625.8 558.6 1630.1 568.4 1634.3 577.3 1641.1 580.7 1645.3 585 1649.6 587.5 1654.7 580.7 1659.8 587.5 1664 587.6 1668.3 587.5 1675 577.3 1681.8 584.1 1688.6 556.9 1693.7 560.3 1700.5 550.2 1707.3 556.9 1712.4 543.4 1716.1 525.3 1719.9 506 1726 550.2 1731.1 553.5 1736.2 536.6 1743 512.8 1749.7 526.4 1756.5 519.6 1763.3 509.4 1770.1 502.6 1776.9 495.8 1783.7 502.6 1790.5 489 1797.3 499.2 1804.1 506 1810.9 492.4 1816 475.4 1821.1 489 1826.1 458.5 1832.9 478.8 1839.7 434.7 1844.8 465.3 1849.2 469.5 1853.7 472.1" stroke="#e8601c"/>
<path d="M1621.1 567.1 1625.8 556.9 1630.1 574.9 1634.3 594.3 1641.1 590.9 1645.3 591.5 1649.6 594.3 1654.7 590.9 1659.8 597.7 1664 593.9 1668.3 594.3 1675 590.9 1681.8 573.9 1688.6 560.3 1695.4 563.7 1702.2 553.5 1707.3 563.7 1712.4 550.2 1716.1 530.7 1719.9 509.4 1726 529.8 1731.1 534.9 1736.2 523 1743 516.2 1749.7 523 1756.5 516.2 1763.3 506 1770.1 502.6 1776.9 492.4 1783.7 502.6 1790.5 492.4 1797.3 499.2 1804.1 506 1810.9 495.8 1816 478.8 1821.1 489 1826.1 461.9 1832.9 475.4 1839.7 438.1 1844.8 468.7 1849.2 471.8 1853.7 475.4" stroke="#f8c814"/>
<path d="M1621.1 550.2 1625.8 548.5 1630.1 553.5 1634.3 556.9 1639.4 558.9 1644.5 560.3 1648.7 562.4 1653 563.7 1659.8 567.1 1664 571.9 1668.3 570.5 1675 563.7 1681.8 567.1 1688.6 553.5 1695.4 550.2 1702.2 546.8 1709 550.2 1714.1 556.9 1719.9 519.6 1726 560.3 1731.1 563.7 1737.9 556.9 1743 543.4 1749.7 553.5 1756.5 536.6 1763.3 533.2 1770.1 534.9 1776.9 519.6 1783.7 526.4 1790.5 512.8 1797.3 516.2 1804.1 523 1810.9 509.4 1817.7 489 1821.7 494.1 1826.1 448.3 1830.4 467.7 1834.6 489 1839.7 400.7 1844.8 465.3 1849.2 468.7 1853.7 470.4" stroke="#b85450"/>
<path d="M1621.1 540 1625.8 533.2 1630.1 545.5 1634.3 563.7 1641.1 567.1 1645.3 569.8 1649.6 577.3 1654.7 567.1 1659.8 590.9 1664 588.3 1668.3 584.1 1675 577.3 1681.8 556.9 1686.9 560.3 1692 523 1697.1 536.6 1702.2 533.2 1707.3 526.4 1712.4 533.2 1716.1 513.5 1719.9 489 1726 529.8 1731.1 523 1736.2 516.2 1743 499.2 1749.7 506 1756.5 499.2 1763.3 495.8 1770.1 492.4 1776.9 485.6 1783.7 489 1790.5 485.6 1797.3 492.4 1804.1 495.8 1810.9 489 1816 472.1 1821.1 482.2 1826.1 461.9 1832.9 475.4 1839.7 458.5 1844.8 472.1 1849.2 472 1853.7 475.4" stroke="#1a8ad0"/>
<path d="M1621.1 529.8 1625.8 526.4 1630.1 539.2 1634.3 550.2 1641.1 553.5 1645.3 560.2 1649.6 563.7 1654.7 567.1 1659.8 570.5 1664 569.9 1668.3 573.9 1675 577.3 1681.8 560.3 1688.6 563.7 1695.4 556.9 1700.5 550.2 1707.3 536.6 1712.4 546.8 1716.1 535.8 1719.9 519.6 1726 553.5 1731.1 550.2 1736.2 536.6 1743 523 1749.7 529.8 1756.5 512.8 1763.3 506 1770.1 495.8 1776.9 478.8 1783.7 485.6 1790.5 478.8 1797.3 482.2 1804.1 485.6 1810.9 478.8 1816 458.5 1821.1 468.7 1826.1 444.9 1832.9 475.4 1839.7 441.5 1844.8 472.1 1849.2 478.1 1853.7 482.2" stroke="#4a4ab5"/>
<path d="M1621.1 550.2 1625.8 546.8 1630.1 560.7 1634.3 570.5 1641.1 567.1 1645.3 569.8 1649.6 570.5 1654.7 573.9 1659.8 567.1 1664 567.9 1668.3 570.5 1675 570.5 1681.8 560.3 1688.6 553.5 1695.4 553.5 1702.2 550.2 1707.3 543.4 1712.4 546.8 1716.1 529.1 1719.9 512.8 1726 529.8 1731.1 526.4 1736.2 519.6 1743 509.4 1749.7 506 1756.5 502.6 1763.3 495.8 1770.1 492.4 1776.9 477.1 1783.7 480.5 1790.5 477.1 1797.3 478.8 1804.1 483.9 1810.9 480.5 1816 468.7 1821.1 475.4 1826.1 458.5 1832.9 478.8 1839.7 461.9 1844.8 485.6 1849.2 485.3 1853.7 487.3" stroke="#0e6e6e"/>
</g>
<rect x="1621" y="387.2" width="232.8" height="241" fill="none" stroke="#3a3a3a" stroke-width="1.6"/>
<text x="1609" y="396.2" font-size="24.5" text-anchor="end">3.0</text>
<text x="1609" y="444.4" font-size="24.5" text-anchor="end">2.0</text>
<text x="1609" y="492.6" font-size="24.5" text-anchor="end">1.0</text>
<text x="1609" y="540.8" font-size="24.5" text-anchor="end">0</text>
<text x="1609" y="589" font-size="24.5" text-anchor="end">-1.0</text>
<text x="1609" y="637.2" font-size="24.5" text-anchor="end">-2.0</text>
<path d="M1614 387.2H1621M1614 435.4H1621M1614 483.6H1621M1614 531.8H1621M1614 580H1621M1614 628.2H1621M1621 628.2v7M1667.6 628.2v7M1714.1 628.2v7M1760.7 628.2v7M1807.2 628.2v7M1853.8 628.2v7" stroke="#3a3a3a" stroke-width="1.6"/>
<text transform="translate(1526,507.7) rotate(-90)" font-size="24" text-anchor="middle" dominant-baseline="central">Relative expression</text>
<text transform="translate(1548.5,507.7) rotate(-90)" font-size="24" text-anchor="middle" dominant-baseline="central">(z-score)</text>
<rect x="1502" y="387.2" width="4" height="242" fill="#231f20"/>
<text transform="translate(1432,507.7) rotate(-90)" font-size="27" text-anchor="middle" dominant-baseline="central">VEGF/NOTCH</text>
<text transform="translate(1457,507.7) rotate(-90)" font-size="27" text-anchor="middle" dominant-baseline="central">signaling</text>
<text transform="translate(1483,507.7) rotate(-90)" font-size="27" text-anchor="middle" dominant-baseline="central">(tip-like EC)</text>
<path d="M1865 427 h28" stroke="#e8601c" stroke-width="3.5"/>
<text x="1903.5" y="435.2" font-size="23">VEGFR2</text>
<path d="M1865 458.7 h28" stroke="#f8c814" stroke-width="3.5"/>
<text x="1903.5" y="466.9" font-size="23">NRP1</text>
<path d="M1865 490.4 h28" stroke="#b85450" stroke-width="3.5"/>
<text x="1903.5" y="498.6" font-size="23">NRP2</text>
<path d="M1865 522.1 h28" stroke="#1a8ad0" stroke-width="3.5"/>
<text x="1903.5" y="530.3" font-size="23">NOTCH1</text>
<path d="M1865 553.8 h28" stroke="#4a4ab5" stroke-width="3.5"/>
<text x="1903.5" y="562" font-size="23">NOTCH4</text>
<path d="M1865 585.5 h28" stroke="#0e6e6e" stroke-width="3.5"/>
<text x="1903.5" y="593.7" font-size="23">DLL4</text>
<path d="M1729.7 681.1 V922.1" stroke="#555" stroke-width="1.3" stroke-dasharray="5,4"/>
<path d="M1764.2 681.1 V922.1" stroke="#555" stroke-width="1.3" stroke-dasharray="5,4"/>
<path d="M1825.2 681.1 V922.1" stroke="#555" stroke-width="1.3" stroke-dasharray="5,4"/>
<g fill="none" stroke-width="1.7" stroke-linejoin="round">
<path d="M1621.1 739.8 1625.8 743.2 1630.9 750 1636 748.3 1641.1 753.4 1646.2 761.9 1653 777.1 1658.1 794.1 1663.2 806 1668.3 807.7 1671.6 823 1676.7 809.4 1681.8 802.6 1686.9 816.2 1692 794.1 1697.1 806 1701.5 760.2 1706.3 758.5 1710.7 816.2 1715.8 880.7 1720.9 792.4 1726 890.9 1730.2 898.8 1734.5 907.9 1739.6 873.9 1744.7 856.9 1749.7 860.3 1756.5 816.2 1763.3 792.4 1770.1 761.9 1776.9 748.3 1783.7 744.9 1787.1 751.7 1793.9 741.5 1799 744.9 1804.1 741.5 1809.2 744.7 1814.3 743.2 1819.4 741.4 1824.4 739.8 1831.2 744.9 1838 758.5 1844.8 775.4 1849.2 781 1853.7 785.6" stroke="#f07f92"/>
<path d="M1621.1 789 1625.8 785.6 1630.1 795.1 1634.3 802.6 1641.1 809.4 1646.2 814.8 1651.3 823 1658.1 833.2 1664.9 846.8 1671.6 843.4 1678.4 843.4 1685.2 836.6 1692 833.2 1698.8 829.8 1705.6 806 1710.7 823 1714.1 843.4 1720.9 799.2 1726 840 1732.8 843.4 1739.6 833.2 1746.3 812.8 1753.1 778.8 1759.9 772.1 1766.7 744.9 1773.5 705.8 1780.3 707.5 1787.1 717.7 1793.9 709.2 1799 709.6 1804.1 709.2 1810.9 716 1817.7 714.3 1824.4 722.8 1831.2 734.7 1836.3 750.2 1841.4 768.7 1848.2 778.8 1853.7 787.3" stroke="#e8601c"/>
<path d="M1621.1 775.4 1625.8 778.8 1630.1 780.9 1634.3 785.6 1639.4 789.2 1644.5 795.8 1649.6 803.3 1654.7 809.4 1658.9 817.9 1663.2 833.2 1667.4 838.5 1671.6 843.4 1678.4 841.7 1685.2 833.2 1692 836.6 1698.8 829.8 1705.6 802.6 1710.7 816.2 1715.8 829.8 1720.9 806 1726 850.2 1732.8 860.3 1739.6 850.2 1746.3 829.8 1753.1 809.4 1759.9 795.8 1766.7 758.5 1773.5 710.9 1780.3 721.1 1787.1 734.7 1793.9 719.4 1799 720.7 1804.1 717.7 1810.9 719.4 1817.7 716 1824.4 710.9 1831.2 733 1835.5 735.4 1839.7 736.4 1844 756.8 1848.2 777.1 1853.7 775.4" stroke="#f8c814"/>
<path d="M1621.1 782.2 1627.5 792.4 1634.3 809.4 1641.1 823 1646.2 830.6 1651.3 836.6 1658.1 850.2 1664.9 856.9 1671.6 863.7 1678.4 850.2 1685.2 853.5 1692 833.2 1698.8 826.4 1705.6 809.4 1710.7 826.4 1715.8 840 1720.9 795.8 1726 845.1 1732.8 843.4 1739.6 826.4 1746.3 806 1753.1 782.2 1759.9 768.7 1766.7 741.5 1773.5 717.7 1780.3 721.1 1787.1 727.9 1793.9 717.7 1799 718.6 1804.1 717.7 1810.9 721.1 1817.7 719.4 1824.4 722.8 1831.2 731.3 1836.3 743 1841.4 755.1 1848.2 768.7 1853.7 772.1" stroke="#b85450"/>
<path d="M1621.1 806 1625.8 799.2 1630.1 808.9 1634.3 823 1641.1 836.6 1646.2 842.8 1651.3 850.2 1658.1 856.9 1664.9 860.3 1671.6 860.3 1678.4 850.2 1685.2 843.4 1692 833.2 1698.8 829.8 1705.6 816.2 1710.7 833.2 1715.8 829.8 1720.9 794.1 1726 829.8 1732.8 823 1739.6 802.6 1746.3 789 1753.1 768.7 1759.9 761.9 1766.7 738.1 1773.5 721.1 1780.3 716 1787.1 724.5 1793.9 717.7 1799 717.3 1804.1 716 1810.9 717.7 1817.7 719.4 1824.4 724.5 1831.2 731.3 1836.3 742.4 1841.4 751.7 1848.2 765.3 1853.7 768.7" stroke="#a07ac0"/>
<path d="M1621.1 763.6 1625.8 765.3 1630.1 769.5 1634.3 773.8 1641.1 789 1646.2 799.6 1651.3 809.4 1655.5 818.9 1659.8 826.4 1664 832.7 1668.3 840 1673.3 850.2 1678.4 840 1685.2 843.4 1692 831.5 1698.8 833.2 1705.6 783.9 1710.7 819.6 1715.8 867.1 1720.9 809.4 1726 877.3 1732.8 877.3 1739.6 856.9 1746.3 833.2 1753.1 789 1759.9 778.8 1766.7 741.5 1773.5 717.7 1780.3 719.4 1787.1 731.3 1793.9 721.1 1799 719.4 1804.1 719.4 1810.9 722.8 1817.7 721.1 1824.4 727.9 1831.2 738.1 1836.3 751.8 1841.4 765.3 1848.2 775.4 1853.7 777.1" stroke="#3a3aa0"/>
<path d="M1621.1 772.1 1625.8 778.8 1630.1 776.3 1634.3 772.1 1641.1 782.2 1646.2 787.6 1651.3 795.8 1655.5 806.2 1659.8 809.4 1664 816.7 1668.3 829.8 1673.3 851.9 1678.4 836.6 1685.2 846.8 1692 836.6 1698.8 833.2 1705.6 795.8 1710.7 823 1715.8 873.9 1720.9 819.6 1726 877.3 1732.8 870.5 1739.6 850.2 1746.3 816.2 1753.1 782.2 1759.9 778.8 1766.7 744.9 1773.5 707.5 1780.3 714.3 1787.1 721.1 1793.9 721.1 1799 718.7 1804.1 721.1 1810.9 727.9 1817.7 731.3 1824.4 744.9 1831.2 755.1 1836.3 765.3 1841.4 775.4 1848.2 789 1853.7 785.6" stroke="#3070d0"/>
</g>
<rect x="1621" y="681.1" width="232.8" height="241" fill="none" stroke="#3a3a3a" stroke-width="1.6"/>
<text x="1609" y="690.1" font-size="24.5" text-anchor="end">2.5</text>
<text x="1609" y="716.9" font-size="24.5" text-anchor="end">2.0</text>
<text x="1609" y="743.7" font-size="24.5" text-anchor="end">1.5</text>
<text x="1609" y="770.4" font-size="24.5" text-anchor="end">1.0</text>
<text x="1609" y="797.2" font-size="24.5" text-anchor="end">0.5</text>
<text x="1609" y="824" font-size="24.5" text-anchor="end">0</text>
<text x="1609" y="850.8" font-size="24.5" text-anchor="end">-0.5</text>
<text x="1609" y="877.5" font-size="24.5" text-anchor="end">-1.0</text>
<text x="1609" y="904.3" font-size="24.5" text-anchor="end">-1.5</text>
<text x="1609" y="931.1" font-size="24.5" text-anchor="end">-2.0</text>
<path d="M1614 681.1H1621M1614 707.9H1621M1614 734.7H1621M1614 761.4H1621M1614 788.2H1621M1614 815H1621M1614 841.8H1621M1614 868.5H1621M1614 895.3H1621M1614 922.1H1621M1621 922.1v7M1667.6 922.1v7M1714.1 922.1v7M1760.7 922.1v7M1807.2 922.1v7M1853.8 922.1v7" stroke="#3a3a3a" stroke-width="1.6"/>
<text transform="translate(1526,801.6) rotate(-90)" font-size="24" text-anchor="middle" dominant-baseline="central">Relative expression</text>
<text transform="translate(1548.5,801.6) rotate(-90)" font-size="24" text-anchor="middle" dominant-baseline="central">(z-score)</text>
<rect x="1502" y="681.1" width="4" height="242" fill="#231f20"/>
<text transform="translate(1457.7,801.6) rotate(-90)" font-size="27" text-anchor="middle" dominant-baseline="central">Autophagy</text>
<text transform="translate(1485,801.6) rotate(-90)" font-size="27" text-anchor="middle" dominant-baseline="central">(leading)</text>
<path d="M1865 705 h28" stroke="#f07f92" stroke-width="3.5"/>
<text x="1903.5" y="713.2" font-size="23">ATG7</text>
<path d="M1865 736.7 h28" stroke="#e8601c" stroke-width="3.5"/>
<text x="1903.5" y="744.9" font-size="23">VPS34</text>
<path d="M1865 768.4 h28" stroke="#f8c814" stroke-width="3.5"/>
<text x="1903.5" y="776.6" font-size="23">VPS15</text>
<path d="M1865 800.1 h28" stroke="#b85450" stroke-width="3.5"/>
<text x="1903.5" y="808.3" font-size="23">RB1CC1</text>
<path d="M1865 831.8 h28" stroke="#a07ac0" stroke-width="3.5"/>
<text x="1903.5" y="840" font-size="23">STK36</text>
<path d="M1865 863.5 h28" stroke="#3a3aa0" stroke-width="3.5"/>
<text x="1903.5" y="871.7" font-size="23">PRKAA1</text>
<path d="M1865 895.2 h28" stroke="#3070d0" stroke-width="3.5"/>
<text x="1903.5" y="903.4" font-size="23">FOXO1</text>
<path d="M1729.7 975.3 V1216.4" stroke="#555" stroke-width="1.3" stroke-dasharray="5,4"/>
<path d="M1764.2 975.3 V1216.4" stroke="#555" stroke-width="1.3" stroke-dasharray="5,4"/>
<path d="M1825.2 975.3 V1216.4" stroke="#555" stroke-width="1.3" stroke-dasharray="5,4"/>
<g fill="none" stroke-width="1.7" stroke-linejoin="round">
<path d="M1621.1 1136.6 1625.8 1129.8 1630.1 1147.1 1634.3 1160.3 1641.1 1156.9 1645.3 1158.6 1649.6 1162 1656.4 1167.1 1663.2 1163.7 1667.4 1162.6 1671.6 1163.7 1678.4 1155.2 1685.2 1156.9 1692 1143.4 1698.8 1145.1 1705.6 1136.6 1712.4 1143.4 1716.1 1109.6 1719.9 1077.1 1726 1133.2 1731.1 1140 1736.2 1133.2 1743 1102.6 1749.7 1112.8 1756.5 1095.8 1763.3 1089 1770.1 1095.8 1776.9 1085.6 1783.7 1089 1790.5 1085.6 1794.7 1090.2 1799 1092.4 1803.2 1084.2 1807.5 1075.4 1814.3 1051.7 1821.1 1061.9 1825.5 1017.7 1829.2 1039.2 1832.9 1058.5 1839.7 982.1 1844.8 1024.5 1849.2 1031.2 1853.7 1038.1" stroke="#f07f92"/>
<path d="M1621.1 1075.4 1625.8 1077.1 1630.1 1077.8 1634.3 1075.4 1641.1 1089 1645.3 1100.8 1649.6 1112.8 1654.7 1136.6 1661.5 1133.2 1668.3 1150.2 1675 1167.1 1681.8 1173.9 1686.9 1160.3 1692 1180.7 1698.8 1153.5 1705.6 1136.6 1710.7 1150.2 1715.8 1173.9 1719.9 1099.2 1726 1180.7 1729.4 1190.9 1736.2 1177.3 1743 1133.2 1749.7 1143.4 1756.5 1116.2 1763.3 1102.6 1770.1 1082.2 1776.9 1078.8 1783.7 1075.4 1790.5 1078.8 1794.7 1077.4 1799 1075.4 1803.2 1067.2 1807.5 1061.9 1814.3 1048.3 1821.1 1055.1 1825.5 1024.5 1829.2 1039.8 1832.9 1051.7 1839.7 1021.1 1844.8 1051.7 1849.2 1054.8 1853.7 1061.9" stroke="#e8601c"/>
<path d="M1621.1 1126.4 1625.8 1119.6 1630.1 1132.9 1634.3 1145.1 1641.1 1150.2 1645.3 1158.1 1649.6 1163.7 1653.8 1170.4 1658.1 1173.9 1664.9 1173.9 1671.6 1177.3 1678.4 1167.1 1685.2 1156.9 1692 1150.2 1698.8 1146.8 1705.6 1123 1712.4 1156.9 1716.1 1124.2 1719.9 1089 1726 1160.3 1731.1 1163.7 1736.2 1153.5 1743 1126.4 1749.7 1133.2 1756.5 1109.4 1763.3 1092.4 1770.1 1068.7 1776.9 1055.1 1783.7 1055.1 1790.5 1058.5 1794.7 1056.1 1799 1055.1 1803.2 1055.7 1807.5 1051.7 1814.3 1031.3 1821.1 1041.5 1825.5 1021.1 1829.2 1035 1832.9 1051.7 1839.7 1021.1 1844.8 1055.1 1849.2 1057.7 1853.7 1061.9" stroke="#f8c814"/>
<path d="M1621.1 1077.1 1625.8 1077.1 1630.1 1077.6 1634.3 1075.4 1641.1 1092.4 1645.3 1102.5 1649.6 1112.8 1653.8 1123.2 1658.1 1133.2 1664.9 1143.4 1671.6 1160.3 1678.4 1150.2 1685.2 1163.7 1692 1150.2 1698.8 1136.6 1705.6 1106 1710.7 1146.8 1715.8 1190.9 1719.9 1109.4 1726 1197.7 1730.2 1200.7 1734.5 1204.5 1739.6 1190.9 1744.7 1163.7 1749.7 1167.1 1756.5 1136.6 1763.3 1119.6 1770.1 1075.4 1776.9 1061.9 1783.7 1065.3 1790.5 1061.9 1794.7 1061.8 1799 1061.9 1803.2 1059.1 1807.5 1055.1 1814.3 1041.5 1821.1 1048.3 1825.5 1027.9 1829.2 1040.1 1832.9 1055.1 1839.7 1041.5 1844 1063.2 1848.2 1085.6 1853.7 1082.2" stroke="#b85450"/>
<path d="M1621.1 1150.2 1625.8 1138.3 1630.1 1168.3 1634.3 1197.7 1641.1 1187.5 1647.9 1190.9 1653 1153.5 1658.1 1185.8 1664.9 1180.7 1671.6 1173.9 1678.4 1173.9 1681.8 1136.6 1685.2 1133.2 1691.3 1087.3 1697.1 1106 1702.2 1092.4 1707.3 1099.2 1712.4 1116.2 1715.8 1126.4 1719.9 1056.8 1726 1146.8 1731.1 1146.8 1736.2 1129.8 1743 1090.7 1749.7 1109.4 1756.5 1095.8 1763.3 1085.6 1770.1 1085.6 1776.9 1078.8 1783.7 1089 1790.5 1078.8 1794.7 1082.8 1799 1085.6 1803.2 1079.6 1807.5 1072.1 1814.3 1061.9 1821.1 1065.3 1825.5 1031.3 1829.2 1049.8 1832.9 1065.3 1839.7 1024.5 1844.8 1041.5 1849.2 1040.8 1853.7 1041.5" stroke="#4a4ab5"/>
</g>
<rect x="1621" y="975.3" width="232.8" height="241.1" fill="none" stroke="#3a3a3a" stroke-width="1.6"/>
<text x="1609" y="984.3" font-size="24.5" text-anchor="end">2.5</text>
<text x="1609" y="1011.1" font-size="24.5" text-anchor="end">2.0</text>
<text x="1609" y="1037.9" font-size="24.5" text-anchor="end">1.5</text>
<text x="1609" y="1064.7" font-size="24.5" text-anchor="end">1.0</text>
<text x="1609" y="1091.5" font-size="24.5" text-anchor="end">0.5</text>
<text x="1609" y="1118.2" font-size="24.5" text-anchor="end">0</text>
<text x="1609" y="1145" font-size="24.5" text-anchor="end">-0.5</text>
<text x="1609" y="1171.8" font-size="24.5" text-anchor="end">-1.0</text>
<text x="1609" y="1198.6" font-size="24.5" text-anchor="end">-1.5</text>
<text x="1609" y="1225.4" font-size="24.5" text-anchor="end">-2.0</text>
<path d="M1614 975.3H1621M1614 1002.1H1621M1614 1028.9H1621M1614 1055.7H1621M1614 1082.5H1621M1614 1109.2H1621M1614 1136H1621M1614 1162.8H1621M1614 1189.6H1621M1614 1216.4H1621M1621 1216.4v7M1667.6 1216.4v7M1714.1 1216.4v7M1760.7 1216.4v7M1807.2 1216.4v7M1853.8 1216.4v7" stroke="#3a3a3a" stroke-width="1.6"/>
<text x="1621" y="1251.9" font-size="23" text-anchor="middle">0</text>
<text x="1667.6" y="1251.9" font-size="23" text-anchor="middle">0.2</text>
<text x="1714.1" y="1251.9" font-size="23" text-anchor="middle">0.4</text>
<text x="1760.7" y="1251.9" font-size="23" text-anchor="middle">0.6</text>
<text x="1807.2" y="1251.9" font-size="23" text-anchor="middle">0.8</text>
<text x="1853.8" y="1251.9" font-size="23" text-anchor="middle">1.0</text>
<text x="1737.4" y="1278.4" font-size="23.4" text-anchor="middle">Relative position</text>
<text transform="translate(1526,1095.8) rotate(-90)" font-size="24" text-anchor="middle" dominant-baseline="central">Relative expression</text>
<text transform="translate(1548.5,1095.8) rotate(-90)" font-size="24" text-anchor="middle" dominant-baseline="central">(z-score)</text>
<rect x="1502" y="975.3" width="4" height="242.1" fill="#231f20"/>
<text transform="translate(1457.7,1095.8) rotate(-90)" font-size="27" text-anchor="middle" dominant-baseline="central">Actin cytoskeleton</text>
<text transform="translate(1483,1095.8) rotate(-90)" font-size="27" text-anchor="middle" dominant-baseline="central">organization</text>
<path d="M1865 1032 h28" stroke="#f07f92" stroke-width="3.5"/>
<text x="1903.5" y="1040.2" font-size="23">ITGA6</text>
<path d="M1865 1063.3 h28" stroke="#e8601c" stroke-width="3.5"/>
<text x="1903.5" y="1071.5" font-size="23">ITGB1</text>
<path d="M1865 1094.6 h28" stroke="#f8c814" stroke-width="3.5"/>
<text x="1903.5" y="1102.8" font-size="23">LIMK2</text>
<path d="M1865 1125.9 h28" stroke="#b85450" stroke-width="3.5"/>
<text x="1903.5" y="1134.1" font-size="23">FAK</text>
<path d="M1865 1157.2 h28" stroke="#4a4ab5" stroke-width="3.5"/>
<text x="1903.5" y="1165.4" font-size="23">ACTB</text>
<text x="869" y="1402" font-size="56" font-weight="bold" fill="#000">E</text>
<defs><linearGradient id="bf" x1="0" y1="0" x2="0" y2="1"><stop offset="0" stop-color="#9d9d9d"/><stop offset="0.28" stop-color="#a3a3a3"/><stop offset="0.4" stop-color="#b4b4b4"/><stop offset="0.5" stop-color="#cfcfcf"/><stop offset="0.58" stop-color="#bcbcbc"/><stop offset="0.75" stop-color="#c6c6c6"/><stop offset="1" stop-color="#bdbdbd"/></linearGradient><clipPath id="bfc"><rect x="951.9" y="1320.9" width="569.7" height="202.7"/></clipPath><filter id="bl1" x="-20%" y="-20%" width="140%" height="140%"><feGaussianBlur stdDeviation="0.7"/></filter><filter id="bl2" x="-50%" y="-50%" width="200%" height="200%"><feGaussianBlur stdDeviation="1.8"/></filter></defs>
<rect x="951.9" y="1320.9" width="569.7" height="202.7" fill="url(#bf)"/>
<g clip-path="url(#bfc)" fill="none">
<path d="M952 1327.2h570M952 1416.1h570M952 1336.4h570M952 1354.9h570M952 1370.7h570M952 1349.8h570M952 1407.8h570M952 1346.9h570M952 1399.9h570M952 1403.1h570M952 1371.6h570M952 1360.2h570M952 1347.8h570M952 1322.2h570M952 1376.4h570M952 1411.8h570M952 1354.8h570M952 1400.9h570M952 1387.4h570M952 1329.8h570M952 1377.6h570M952 1326.1h570M952 1368.4h570M952 1329.4h570M952 1380.2h570M952 1382.7h570M952 1327.2h570M952 1413.2h570M952 1322.2h570M952 1352.2h570M952 1353h570M952 1395h570M952 1403.4h570M952 1393.8h570M952 1361.9h570M952 1380.9h570M952 1408.2h570M952 1380.2h570M952 1388.9h570M952 1357.7h570M952 1338h570M952 1345.6h570M952 1324.8h570M952 1403.1h570M952 1363.1h570M952 1405.6h570M952 1369.4h570M952 1324.4h570M952 1345.1h570M952 1322.4h570M952 1411.2h570M952 1328.8h570M952 1338.4h570M952 1342.5h570M952 1345.9h570M952 1404.9h570M952 1398.5h570M952 1356.4h570M952 1349.2h570M952 1394.1h570M952 1390.9h570M952 1321.6h570M952 1361h570" stroke="#fff" stroke-opacity="0.10" stroke-width="0.8"/><path d="M952 1414.1h570M952 1401.3h570M952 1322.8h570M952 1337.7h570M952 1327.9h570M952 1414.2h570M952 1399.1h570M952 1412h570M952 1419.5h570M952 1322.8h570M952 1371.8h570M952 1412.7h570M952 1375.8h570M952 1353.3h570M952 1374.1h570M952 1346.4h570M952 1393.4h570M952 1357h570M952 1336.1h570M952 1328.8h570M952 1336.8h570M952 1417.8h570M952 1352.2h570M952 1358.1h570M952 1418.9h570M952 1405.4h570M952 1377.6h570M952 1411.9h570M952 1394.5h570M952 1333.5h570M952 1359.9h570M952 1386.6h570M952 1403h570M952 1326.7h570M952 1335.1h570M952 1380h570M952 1396.7h570M952 1326.5h570M952 1367h570M952 1332.8h570M952 1383.5h570M952 1380.6h570M952 1377.2h570M952 1331.6h570M952 1357.8h570M952 1344.4h570M952 1400.4h570" stroke="#000" stroke-opacity="0.06" stroke-width="0.8"/>
<path d="M1143 1426q11 6 22 2M1276 1442q8 3 17 2M1047 1432q3 -7 -2 -15M1487 1452q10 3 20 4M1449 1431q3 -10 -3 -20M1503 1426q0 -12 3 -25M1386 1401q5 -10 3 -21M1393 1420q-5 -13 -5 -25M1168 1424q-4 -5 -7 -10M1401 1429q13 6 26 4M1027 1413q1 -7 1 -13M1105 1429q12 -4 24 -1M1284 1424q6 -1 12 3M1112 1418q5 -2 10 0M989 1392q5 -14 8 -28M1463 1444q6 -2 13 0M1059 1425q-1 -18 3 -37M1134 1447q0 -12 5 -24M1418 1435q-2 -5 -5 -10M1183 1428q7 0 14 -2M1101 1432q-5 -8 -6 -16M1030 1410q1 -14 -1 -28M1403 1436q7 -3 15 -3M1269 1415q7 -4 13 -1M979 1427q4 -13 8 -26M996 1412q0 -11 8 -21M1007 1439q-3 -5 -6 -10M1193 1421q-4 -19 -3 -37M1128 1416q5 -8 6 -16M1005 1439q0 -12 5 -24M952 1413q-5 -10 -3 -20M1350 1450q5 0 10 0M1045 1418q3 -12 0 -24M1324 1425q11 3 21 4M1519 1473q7 -3 15 -4M1268 1432q11 0 23 0M1449 1448q9 2 18 -1M982 1454q8 -2 15 -5M1086 1416q-3 -17 3 -34M1392 1406q0 -18 -8 -37M1395 1454q6 0 12 1M1193 1437q3 -5 7 -10M1009 1403q2 -5 5 -10M1431 1431q3 -13 -1 -25M1211 1433q13 -2 25 -4M1354 1470q12 8 24 5M1171 1400q4 -10 3 -20M1083 1432q8 -2 16 -3M1474 1398q1 -11 -7 -21M1461 1451q6 4 13 1M1512 1448q11 -4 22 -3M1426 1438q5 -4 10 -1M1392 1438q7 -2 14 -4M1466 1431q1 -5 -8 -10M1212 1404q-4 -15 -7 -30M1010 1446q7 5 13 3M1468 1419q-3 -6 1 -11M1190 1417q-4 -7 -2 -15M1286 1421q-3 -10 2 -21M1026 1396q2 -17 -2 -34M1255 1421q0 -10 -8 -20M1215 1430q-4 -6 -2 -12M1215 1424q5 -5 10 -4M1022 1413q11 8 21 5M1114 1437q-5 -10 -4 -20M1441 1422q2 -4 2 -8M1370 1429q9 -3 17 -3M1271 1447q10 -6 21 -2M1177 1444q4 -1 8 1M997 1461q11 -6 23 -3M1208 1428q1 -5 -9 -10M956 1412q6 -2 12 1M1047 1420q0 -14 -2 -27M1329 1417q-2 -5 -6 -10M1472 1426q2 -5 3 -11M1053 1419q0 -13 -3 -26M1431 1425q-2 -7 -9 -14M1254 1401q-3 -11 -1 -23M1124 1437q11 -3 23 -3M1143 1427q2 -9 0 -18M1201 1412q0 -13 -4 -26M1467 1427q9 2 17 0M1246 1439q5 -12 3 -24M1170 1431q11 3 22 1M1158 1409q0 -13 -5 -26M1346 1414q1 -9 5 -18M1327 1431q-2 -14 0 -27M1158 1444q7 -7 14 -4M1050 1414q6 7 12 3M1210 1439q6 5 12 4M1131 1411q2 -18 0 -36M1431 1435q9 7 19 3M1151 1445q7 6 14 5M960 1461q5 2 10 1M1461 1434q12 4 24 5M1296 1444q3 -8 9 -16M982 1460q12 7 24 5M1345 1404q0 -16 8 -31M1362 1413q-1 -14 -3 -28M1019 1435q12 8 25 5M1057 1442q5 4 11 2M1111 1428q2 -11 2 -23M1003 1437q9 0 17 -1M1507 1421q1 -5 -4 -11M1316 1429q10 4 20 1M1088 1429q6 -1 11 1M1214 1447q7 3 14 4M1306 1461q12 -4 23 0M1424 1454q9 -1 18 2M1419 1431q-3 -17 -10 -33M1421 1439q-2 -18 -6 -37M958 1415q-1 -10 -7 -19M1015 1439q9 4 18 4M1489 1436q11 1 22 -1M1274 1460q4 2 8 -1M1210 1427q4 1 9 -2M1475 1427q6 -2 12 -4M1027 1430q1 -14 8 -28M1191 1425q0 -10 -4 -19M1356 1438q-2 -18 -10 -36M1434 1398q1 -9 2 -18M1424 1405q-4 -4 -3 -8M1141 1439q5 4 11 2M1024 1438q9 4 18 2M1430 1414q4 -1 8 2M1094 1443q6 1 12 0M1078 1429q4 -16 0 -31M1307 1439q11 1 21 0M1198 1428q9 2 18 4M1141 1440q10 0 19 -3M1350 1456q6 -1 11 -3M1361 1450q6 -1 12 2M1215 1426q8 -2 16 -3M1090 1440q9 5 17 2M1286 1431q2 -16 7 -33M1368 1417q1 -9 0 -19M1213 1423q4 -17 8 -35M1208 1448q10 -1 20 -1M1477 1450q12 -3 25 -2M1501 1458q11 8 22 5M1330 1413q-2 -7 -9 -15M1023 1440q-4 -19 -9 -38M968 1442q0 -8 2 -15M1039 1421q4 -15 3 -30M1328 1426q6 -3 11 0M987 1429q-6 -14 -7 -28M1511 1435q-3 -18 -7 -36M1282 1450q1 -18 10 -37M1041 1422q0 -12 6 -25M1234 1440q-2 -5 5 -10M1313 1442q5 4 11 2M1040 1460q9 2 18 5M1376 1438q-6 -6 -9 -12M1078 1395q-6 -18 -8 -36M1317 1449q4 7 9 4M989 1436q9 3 17 4M1221 1406q1 -9 6 -18M1143 1399q4 -11 4 -22M1270 1425q8 -5 15 -2M1255 1444q6 -9 10 -18M1382 1437q-5 -16 -6 -32M1462 1410q10 -6 20 -4M955 1441q-1 -11 7 -23M1139 1416q12 2 25 2M1363 1431q9 0 18 1M1080 1416q2 -7 -4 -14M1283 1444q8 -2 16 -2M1488 1432q-2 -13 3 -27M1167 1406q-3 -11 2 -21M1514 1429q9 1 19 3M1448 1429q-4 -10 -3 -19M1221 1406q-1 -14 1 -29M1264 1421q-1 -8 0 -16M1155 1433q5 -7 10 -3M1059 1458q10 -4 20 -1M1241 1437q12 2 24 -2M1095 1422q11 -3 22 -3M1485 1419q12 -1 25 -2M1273 1457q13 2 26 4M956 1437q-1 -13 0 -25M1169 1425q0 -19 3 -37M1021 1454q11 4 23 1M1260 1441q10 6 21 3M1231 1413q-1 -15 7 -30M994 1415q6 -11 8 -22M1116 1447q6 -5 12 -4M1298 1449q5 -13 6 -25M1023 1429q-2 -19 -4 -38M1381 1430q5 -15 8 -29M1228 1418q7 3 15 -1M1165 1434q3 -7 -3 -13M1136 1425q-1 -16 -5 -32M1001 1422q7 -1 14 2M1405 1441q5 7 10 4M1065 1425q0 -15 -4 -29M1395 1434q9 5 18 2M1092 1426q4 5 9 3M1156 1418q0 -13 -9 -26M1477 1424q0 -9 -7 -18M1178 1468q12 3 25 0M1151 1424q12 6 24 4M1340 1416q1 -14 5 -28M1404 1428q10 -2 21 1M1479 1452q4 -2 8 0M1285 1430q7 2 14 1M962 1424q-3 -17 -9 -33M1481 1391q5 -8 5 -17M1327 1440q5 -2 9 -4M997 1429q10 -1 20 -3M1412 1423q5 -8 5 -16M1070 1423q2 -9 -1 -18M1369 1423q5 5 10 1M1118 1411q3 -15 4 -30M1287 1414q4 -5 7 -9M960 1437q-1 -13 -9 -26M1398 1444q6 -2 13 -2M1361 1434q5 -1 10 -1M1523 1423q0 -13 6 -26M1488 1455q11 -3 21 -1M1110 1433q6 -5 12 -2M1197 1423q8 -3 16 -4M1000 1409q9 -5 17 -3M1112 1439q8 -3 16 0M1515 1394q3 -7 7 -15M1425 1421q-2 -4 1 -9M1222 1449q5 3 10 4M1410 1413q4 -9 10 -17M1207 1443q6 2 13 0M1335 1406q5 -10 4 -20M1150 1434q13 3 25 -1M1080 1412q-3 -16 -8 -32M1016 1451q-3 -4 -10 -9M1055 1423q2 -12 3 -25M1124 1433q10 -3 20 -3M1156 1440q6 -7 12 -5M1304 1439q6 2 12 5M1187 1431q-3 -8 -2 -16M1261 1440q5 -2 11 -4M1177 1450q7 -4 14 -2M1066 1434q11 2 22 2M1495 1439q8 -6 17 -2M1414 1429q9 8 19 4M1475 1421q1 -15 0 -30M963 1406q0 -12 -1 -23M1411 1404q-4 -17 -10 -35M1451 1436q8 0 16 3M1203 1437q4 4 9 0M1249 1421q2 -8 1 -16M1320 1420q-1 -10 7 -20M1403 1409q4 -19 8 -37M1062 1408q4 -6 6 -11M1181 1428q-3 -15 -6 -31M1479 1426q-6 -12 -7 -24M1214 1429q12 4 23 4M1045 1426q-2 -6 -7 -12M1025 1455q12 3 24 2M1406 1426q10 0 20 4M969 1438q11 -2 22 1M1430 1451q6 5 12 3M1265 1440q13 -1 26 -5M1147 1430q3 -12 9 -24M1504 1404q0 -6 -2 -11M968 1443q12 -2 24 0M1330 1422q7 2 14 -1M1260 1430q2 -5 9 -10M1266 1431q8 6 15 2M1492 1411q0 -8 -7 -17M1067 1426q-3 -10 -2 -20M1509 1466q9 -1 18 1M1001 1412q-2 -14 3 -29M1447 1414q-4 -19 -2 -37M959 1428q12 -1 23 0M1022 1470q8 -2 16 -2M1519 1424q3 -15 3 -30M1416 1427q6 -3 11 -4M1393 1421q-2 -5 -3 -9M1033 1427q-1 -19 -9 -37M1355 1432q1 -9 4 -19M1086 1404q-1 -18 0 -37M1338 1417q11 -6 21 -4M1324 1422q10 4 20 3M1142 1438q1 -8 6 -16M1356 1449q6 2 12 -2M1088 1424q4 -3 9 -5M1154 1435q6 -5 12 -2M1314 1421q-1 -19 6 -38M1179 1426q12 -4 25 -5M1393 1421q0 -9 5 -18M1495 1435q11 3 22 2M1463 1458q11 -4 23 -3M1433 1440q11 2 22 2M1438 1409q11 0 23 -1M1298 1413q5 0 10 -4M978 1409q-1 -13 9 -27M1039 1431q13 7 26 4M1475 1462q13 -4 25 -1M980 1441q6 2 13 -1M1071 1421q0 -10 10 -19M979 1456q-3 -14 -1 -27M1482 1414q-1 -19 3 -38M1270 1409q-5 -16 -8 -31M1333 1437q11 3 22 0M1044 1413q0 -10 -10 -20M1015 1421q11 -2 22 -4M1247 1443q-4 -12 -9 -25M1219 1424q5 1 11 5M1198 1419q13 3 25 -1M987 1437q11 -5 23 -5M1256 1439q5 -1 9 0M1369 1418q7 -4 9 -9M1093 1428q10 4 21 1M1315 1428q2 -9 0 -17M1037 1425q-1 -11 -4 -22M1133 1453q10 -6 21 -4M1141 1448q5 0 11 1M1450 1430q10 0 21 0M986 1449q9 -2 19 1M1511 1426q11 0 22 2M969 1444q-1 -17 0 -33M967 1435q-3 -11 5 -22M1165 1416q11 6 23 4M1052 1432q3 -8 0 -16M1099 1435q12 3 24 0M1208 1408q1 -10 -2 -20M1057 1427q-1 -10 -7 -20M1351 1435q12 1 23 2M1100 1420q2 -16 5 -32M1429 1413q1 -18 4 -36M1051 1417q-5 -10 -10 -21M1080 1437q-4 -9 -9 -17M1166 1408q7 -3 14 1M1254 1423q4 -6 2 -12M1152 1440q9 0 18 -1M1115 1430q9 0 17 -4M1080 1453q1 -7 -6 -14M1015 1441q2 -8 9 -16M1178 1469q6 -8 12 -5M1281 1449q13 3 26 2M1383 1436q-5 -10 -5 -21M1441 1462q8 -3 17 -5M1032 1434q0 -19 -9 -38M1217 1460q12 1 25 3M1155 1437q5 -13 10 -25M1216 1417q8 -3 15 -3M958 1436q12 -6 25 -3M1469 1432q1 -5 3 -11M996 1442q11 0 21 -3M982 1427q-2 -17 1 -34M1155 1455q10 -2 20 -1M1333 1433q12 1 23 -1M1361 1450q5 1 9 -1M1380 1406q3 -16 -1 -32M1163 1438q5 7 10 4M1011 1440q6 -2 12 1M1449 1428q-4 -17 -7 -33M1041 1444q7 -4 13 -1M1057 1434q3 -11 9 -21M1172 1434q13 3 25 0M1232 1466q7 1 14 2M957 1425q9 1 17 4M1344 1454q9 5 17 5M1472 1476q5 2 10 2M1491 1440q5 6 9 4M1153 1446q5 2 10 4M1127 1419q4 -3 9 -2M1110 1430q1 -11 -5 -21M1092 1449q8 1 16 2M1169 1425q9 4 18 2M1075 1428q-1 -15 8 -30" stroke="#f4f4f4" stroke-opacity="0.6" stroke-width="0.9"/><path d="M958 1411q-4 -10 -1 -20M1464 1394q-2 -8 -9 -16M1177 1443q10 -6 19 -3M1201 1446q-2 -16 -7 -32M1043 1418q5 -18 9 -36M1060 1442q7 -6 14 -5M1471 1415q-6 -6 -7 -11M1237 1408q11 0 23 -3M993 1420q2 -14 -4 -29M1069 1437q11 -4 22 -2M1198 1443q-1 -12 -3 -25M1378 1408q-4 -18 -9 -36M1183 1442q-2 -15 -1 -31M1364 1425q2 -14 -5 -28M1286 1410q7 3 13 2M1223 1456q7 -4 13 -1M1194 1416q3 -7 6 -13M1018 1435q-1 -16 -2 -31M1353 1438q4 -5 9 -1M1081 1446q9 3 18 1M1217 1438q7 1 15 0M1250 1436q7 -3 14 -2M1091 1425q4 -3 8 -4M1323 1462q13 -5 25 -3M1078 1442q5 -3 10 -2M1169 1423q1 -18 5 -37M1117 1425q1 -5 2 -10M1021 1410q-2 -18 -1 -37M1138 1435q5 -3 10 -3M1113 1437q8 5 15 1M1316 1425q12 -2 25 -4M1140 1436q6 -5 11 -3M1388 1439q-4 -16 -8 -32M1155 1430q6 -1 12 0M1152 1410q-3 -13 -3 -27M1331 1422q-3 -14 -5 -28M1032 1433q2 -13 7 -26M1064 1432q9 -3 18 -5M1316 1431q2 -6 -4 -11M951 1426q1 -6 -2 -12M1101 1426q-5 -17 -4 -33M1444 1423q-1 -11 9 -21M960 1436q2 -14 1 -28M995 1448q8 3 16 1M1008 1455q6 3 11 2M1265 1429q1 -18 5 -36M1200 1404q0 -17 2 -33M1007 1418q0 -5 9 -9M1307 1446q8 -2 15 -3M1401 1435q4 -10 4 -20M1166 1430q-1 -16 9 -32M1232 1462q8 2 17 3M1476 1427q4 -18 0 -35M1010 1438q-5 -14 -5 -29M1163 1419q5 -15 6 -30M1499 1458q-3 -6 -2 -13M1398 1426q2 -16 6 -33M1179 1415q1 -16 -9 -31M1210 1420q-2 -12 8 -24M1490 1421q11 8 22 4M1014 1461q5 1 11 0M1399 1410q-2 -7 -4 -15M1378 1428q10 4 19 2M1202 1414q8 -4 17 -3M1235 1431q5 -19 8 -37M958 1426q6 -6 12 -5M1213 1419q-1 -7 -3 -13M1409 1436q9 -6 17 -5M1174 1454q8 3 16 2M1152 1434q12 6 24 4M1054 1447q9 6 18 3M1386 1439q12 2 23 4M1155 1436q9 5 18 5M1345 1440q6 -15 8 -30M1309 1446q6 0 12 -4M1137 1430q4 -13 5 -26M1510 1412q1 -10 -1 -20M1380 1440q4 4 8 3M1083 1391q12 -5 25 -5M1073 1444q0 -17 6 -35M1523 1411q6 -17 7 -34M1440 1420q13 -7 25 -5M1494 1442q-3 -8 -9 -15M1190 1434q-3 -16 -9 -33M1116 1429q4 5 8 4M1043 1420q0 -8 4 -16M1387 1421q-1 -12 5 -24M1450 1419q7 2 13 1M1416 1406q-5 -15 -7 -29M1313 1434q2 -9 -6 -18M1219 1406q1 -8 4 -16M1042 1450q0 -4 -4 -8M1040 1436q-3 -17 -9 -35M1289 1449q12 1 24 0M1246 1434q1 -11 3 -23M1384 1418q5 -1 10 -2M1081 1434q1 -17 3 -35M1498 1449q5 -1 10 -5M1413 1442q11 1 22 5M990 1419q-5 -19 -9 -37M1423 1448q-4 -17 -10 -34M1125 1443q10 0 19 2M1141 1414q0 -18 3 -36M979 1448q9 0 18 3M1224 1464q11 -1 22 3M1135 1444q10 1 20 0M1322 1441q7 -1 13 -5M1194 1432q6 -5 11 -3M1056 1424q-2 -9 3 -18M961 1445q13 -1 25 -1M1202 1446q10 3 20 1M1103 1421q10 0 20 3M1158 1438q7 0 14 3M1419 1446q-3 -16 -7 -32M1128 1417q13 -2 26 2M1517 1425q2 -10 4 -21M953 1451q9 5 18 3M1009 1428q1 -14 -7 -28M1042 1457q8 6 17 3M1397 1429q11 0 22 -1M1259 1443q2 -11 6 -22M1190 1395q8 2 16 5M1332 1433q6 -3 13 -1M1410 1415q0 -11 -2 -22M1433 1413q-2 -12 -1 -24M1231 1425q7 -2 14 -3M1515 1420q0 -7 7 -13M1090 1425q-3 -15 -2 -30M1337 1430q6 -13 8 -27M1431 1393q-2 -8 -7 -16M965 1416q-1 -7 -2 -13M1460 1427q0 -10 9 -19M1131 1430q5 -4 10 -1M1282 1429q1 -14 -5 -28M1273 1423q8 0 17 -3M1009 1430q10 -3 20 -3M1431 1440q5 -2 11 -2M1114 1438q1 -11 -8 -22M1003 1441q7 -2 13 -3M1028 1440q8 -2 15 -1M988 1426q7 -5 14 -3M1298 1455q9 1 18 -2M1255 1435q3 -15 -2 -30M1174 1428q-2 -11 -2 -22M1098 1427q0 -5 -5 -10M1164 1438q5 -5 10 -2M1179 1435q-4 -5 -7 -10M1147 1423q3 -16 -3 -32M1342 1421q1 -14 0 -29M1249 1458q12 4 24 2M1027 1424q12 5 24 1M1345 1424q8 0 16 -4M1280 1460q5 1 11 2M1522 1415q-4 -5 -2 -9M1405 1414q3 -8 0 -17M1503 1427q-3 -15 -1 -31M1097 1439q10 6 20 2M1477 1457q13 -6 25 -5M1231 1425q10 -4 20 -2M1232 1456q12 3 24 4M1112 1415q11 -7 22 -4M1015 1414q2 -11 -3 -22M1271 1421q-2 -6 2 -11M1239 1441q12 -2 25 -4M1162 1430q5 -2 10 -4M1258 1421q2 -13 6 -26M1211 1437q2 -11 -4 -22M1226 1444q4 1 9 2M1367 1412q-3 -7 -3 -13M1350 1448q-1 -7 -7 -15M1097 1446q6 -2 11 -2M1160 1443q9 -2 18 -1M1171 1411q13 -6 25 -5M1214 1406q0 -10 -9 -21M1415 1429q9 -4 18 -1M1320 1426q3 -8 -3 -16M1065 1431q1 -16 4 -31M1362 1415q6 2 13 2M1211 1439q9 -7 18 -5M1043 1444q6 0 13 -1M1042 1398q6 -10 7 -20M1160 1419q7 1 14 0M1434 1417q-5 -8 -8 -15M1490 1415q-5 -10 -6 -19M1254 1434q12 -4 23 -1M1124 1415q-1 -16 -4 -31M1044 1420q4 -19 7 -37M1437 1429q2 -6 2 -12M980 1412q0 -6 -4 -13M1407 1452q11 -4 23 -5M1470 1442q8 -4 16 -3M1011 1418q-3 -11 -8 -22M956 1437q5 9 10 5M968 1456q5 1 10 4M1325 1408q3 -11 6 -22M1061 1442q4 5 9 2M1166 1454q2 -12 1 -23M1212 1427q3 -11 3 -23M1178 1413q-6 -16 -7 -32M1142 1407q2 -17 4 -34M969 1435q2 -5 4 -9M1485 1427q2 -7 -4 -15M1204 1417q-4 -6 -2 -11M1133 1441q1 -12 5 -23M1230 1449q12 3 24 5M1364 1414q-3 -8 0 -16M1267 1444q-5 -19 -2 -38M1069 1439q9 -2 19 -3M1234 1445q5 -5 9 -3M972 1445q3 -7 2 -14M1213 1435q-1 -10 -9 -19M1065 1427q5 -1 9 3M1154 1401q0 -6 3 -11M1110 1425q-7 -14 -10 -27M1364 1418q-5 -6 -7 -11M1336 1442q7 -6 14 -3M1295 1404q2 -6 -6 -11M1228 1443q7 -4 13 -4M1141 1418q-2 -12 4 -24M1258 1438q2 -17 8 -35M999 1426q-1 -4 3 -9M1036 1427q6 0 13 1M1229 1444q3 -17 2 -33M1472 1432q7 3 14 3M1413 1418q9 -2 19 1M955 1421q8 -7 15 -5M1471 1410q0 -11 1 -21M1071 1423q-6 -4 -6 -8M1338 1414q9 1 19 -2M1036 1414q6 1 13 3M1522 1427q-2 -9 -8 -18M1023 1423q1 -9 4 -17M1514 1439q9 -2 19 -1M1194 1433q8 0 17 1M1204 1459q4 -1 8 -2M1095 1396q1 -10 8 -19M1407 1430q-2 -19 -1 -37M1129 1450q0 -15 8 -29M1434 1429q13 -4 26 -2M1020 1425q4 1 9 -2M995 1407q-4 -18 -8 -36M1103 1419q11 0 22 0M953 1425q11 1 21 -3M1523 1427q3 -5 7 -11M1514 1423q-3 -13 -7 -26M1367 1400q0 -18 5 -37M1165 1435q8 -1 16 2M1383 1400q8 8 15 5M1220 1417q3 -12 -3 -24M1354 1438q6 5 12 3M970 1429q11 7 23 4M1392 1439q11 0 22 -2M1236 1419q10 0 21 -3M1155 1441q11 3 22 2M1250 1443q12 -4 23 -4M1069 1423q-4 -18 -8 -37M1184 1426q1 -12 9 -24M1033 1432q4 3 8 4M1227 1423q12 0 24 3M1352 1442q11 2 23 3M1414 1399q5 -8 7 -15M1028 1418q-3 -8 0 -16M1485 1428q11 -4 22 -2M997 1421q3 -11 7 -22M1131 1402q6 -8 10 -15M1142 1412q7 1 14 1M1389 1449q13 4 26 2M1202 1417q-2 -8 1 -16M1456 1455q6 2 12 2M1034 1417q1 -12 -4 -23M1003 1438q9 0 18 2M1468 1404q2 -17 -6 -33M1346 1440q8 -1 15 -4M1322 1450q8 -4 16 -3M1374 1413q11 6 22 2M1120 1421q-2 -18 -1 -36M1324 1439q12 -2 25 -5M1497 1432q8 2 16 -1M1240 1454q8 -7 16 -3M1384 1460q11 -3 21 -3M1347 1430q11 2 22 4" stroke="#5a5a5a" stroke-opacity="0.35" stroke-width="0.8"/>
<path d="M1073 1485q17 6 33 0M1092 1494q11 -5 23 2M1029 1477q19 -7 39 2M1165 1523q20 7 40 -3M974 1494q22 4 44 -4M1139 1509q14 -3 28 -3M1110 1454q11 4 22 0M1450 1505q8 -2 17 3M1387 1473q10 0 21 0M980 1507q22 -5 44 2M1282 1491q23 2 45 -3M1194 1498q19 -3 38 -1M1466 1479q12 -8 24 -1M1007 1499q20 -2 40 1M1223 1453q24 -2 47 0M1489 1498q22 -4 44 2M1355 1459q17 -4 33 4M964 1450q8 0 16 3M1472 1519q24 -5 48 3M1291 1477q23 7 46 -4M1330 1506q13 5 27 -1M1518 1511q8 -5 17 0M1089 1502q13 -4 25 -3M1244 1462q17 6 34 -3M1028 1485q10 -1 19 -2M1383 1520q25 -6 49 3M1232 1447q8 5 16 1M1239 1459q10 7 20 -3M1433 1454q15 -6 30 -3M1201 1472q16 -6 31 -3M1353 1482q15 5 30 0M978 1452q9 1 19 -1M1063 1490q16 -1 32 -3M1480 1463q16 -2 32 -3M1498 1448q23 -1 46 -3M1307 1453q20 -4 41 4M1452 1456q20 5 39 4M987 1521q24 8 48 -2M1381 1507q22 -6 43 -2M1077 1491q17 -6 35 2M1020 1497q20 2 39 3M1354 1505q10 1 20 2M1287 1462q16 -3 32 -2M1340 1486q24 8 48 2M1422 1484q16 2 32 -4M1427 1520q24 2 47 -2M952 1445q8 -1 17 3M1351 1482q16 -4 33 3M1375 1509q15 -3 30 -3M1006 1510q23 2 45 -1M1476 1477q19 -1 38 0M1448 1472q16 -7 33 -1M1113 1485q18 -5 35 2M1482 1447q12 7 24 0M1115 1509q23 7 47 3M1328 1472q23 -5 46 -4M1326 1478q9 -6 18 1M1239 1455q23 5 47 4M1066 1452q25 -2 49 -2M1068 1466q11 2 22 -3M1053 1500q21 -4 43 2M1081 1491q14 1 28 2M1075 1488q17 6 33 -3M988 1513q11 5 22 3M1174 1477q14 -3 27 -1M965 1501q24 -2 48 -1M1214 1511q10 1 21 -2M1500 1517q12 5 24 1M1321 1518q12 7 24 0M979 1455q24 1 47 3M1453 1519q9 -3 19 2M1338 1447q12 2 24 2M1391 1485q16 -7 32 -1M1281 1463q12 6 23 -1M1261 1516q18 7 35 -3M1356 1491q21 -1 42 -1M958 1462q17 -3 35 4M1286 1481q18 1 35 3M1021 1452q12 5 25 0M1223 1468q14 4 28 1M1288 1516q25 4 50 0M1056 1515q20 1 40 2M1080 1449q12 5 25 1M1335 1481q14 -1 27 -2M967 1469q20 -5 40 2M1309 1488q10 -1 20 -2M1127 1498q15 6 30 1M1238 1476q11 8 23 4M1067 1483q16 1 32 3M1381 1518q9 -2 19 -1M1060 1466q11 2 23 1M1048 1468q11 -2 23 0M1245 1522q18 8 36 -1M1131 1460q12 3 24 -2M1285 1515q22 4 44 2M1080 1494q8 -1 16 4M1136 1448q14 4 27 -3M1281 1468q18 2 36 -4M1062 1506q23 5 46 -1M1259 1505q10 -4 21 0M1257 1513q19 3 39 -1M1309 1469q15 -8 30 -3M1039 1487q14 0 27 -2M1014 1474q22 7 43 0M1200 1520q20 -4 40 4M1105 1467q18 8 37 1M1346 1505q18 4 37 -1M1040 1450q18 1 37 -1M1246 1449q25 -3 50 -2M1349 1490q15 1 31 -2M1105 1496q19 -5 38 4M980 1499q13 1 25 -3M1131 1492q13 -2 27 1M1004 1465q11 -4 22 -1M1173 1512q24 5 49 -1M1003 1455q19 -7 38 -1M1360 1487q23 5 45 3M1284 1479q19 7 37 1M1459 1453q14 1 28 2M1467 1516q21 -5 42 -4" stroke="#ececec" stroke-opacity="0.5" stroke-width="1.2"/>
<path d="M980 1473h1M1088 1490h1M1092 1512h1M1050 1452h1M1134 1462h1M1133 1466h1M1059 1503h1M955 1473h1M967 1507h1M1036 1485h1M1327 1451h1M1046 1481h1M1181 1488h1M1037 1512h1M1046 1498h1M1044 1500h1M1253 1494h1M1004 1485h1M1018 1467h1M959 1470h1M1003 1509h1M1063 1484h1M1060 1512h1M1127 1517h1M983 1480h1M1005 1522h1M1050 1500h1M964 1474h1M1290 1451h1M1170 1509h1M1220 1478h1M1005 1459h1M1190 1467h1M1040 1514h1M1088 1477h1M1088 1513h1M1049 1480h1M1238 1494h1M1234 1482h1M1255 1507h1M1021 1465h1M1194 1485h1M1110 1470h1M1219 1493h1M959 1489h1M990 1516h1M975 1490h1M1094 1464h1M963 1484h1M1038 1509h1M1074 1523h1M1197 1458h1M1311 1518h1M972 1523h1M1164 1522h1M1182 1486h1M989 1501h1M965 1518h1M1219 1471h1M1189 1499h1M1128 1496h1M1248 1474h1M1238 1475h1M1023 1487h1M1136 1473h1M1136 1480h1M1040 1480h1M1021 1500h1M983 1477h1M1054 1498h1M1019 1508h1M963 1511h1M976 1472h1M1089 1492h1M1034 1501h1M1183 1514h1M1194 1522h1M1123 1519h1M1062 1451h1M1368 1516h1M996 1492h1M1336 1457h1M1216 1466h1M972 1508h1M1060 1489h1M1194 1521h1M1289 1465h1M1326 1504h1M1031 1483h1M1004 1459h1M1204 1456h1M976 1495h1M1020 1507h1M965 1467h1M1051 1503h1M1009 1461h1M1000 1468h1M995 1466h1M1034 1457h1M980 1464h1M986 1492h1M998 1458h1M1079 1491h1M1052 1514h1M1167 1508h1M983 1520h1M1101 1467h1M996 1462h1M1035 1496h1M1313 1486h1M1097 1511h1M1050 1487h1M1315 1521h1M1042 1494h1M1098 1479h1M1180 1523h1M1218 1508h1M1131 1486h1M1138 1480h1M1034 1469h1M976 1516h1M962 1464h1M963 1465h1M958 1491h1M1040 1454h1M958 1513h1M1052 1521h1M1104 1457h1M1053 1471h1M1118 1478h1M1212 1506h1M1153 1504h1M1104 1476h1M983 1484h1M1030 1506h1M1259 1461h1M974 1489h1M1190 1484h1M1042 1509h1M1121 1481h1M1136 1481h1M954 1522h1M1055 1469h1M1283 1505h1M985 1464h1M1096 1454h1M1030 1516h1M1017 1450h1M986 1493h1M1072 1504h1M1077 1455h1M1033 1461h1M986 1475h1M1071 1496h1M1065 1457h1M1036 1482h1M1124 1481h1M954 1508h1M1103 1517h1M1204 1488h1M1025 1515h1M955 1495h1M978 1522h1M1140 1512h1M958 1483h1M990 1521h1M1166 1513h1M975 1465h1M1055 1472h1M1027 1472h1M1088 1461h1M1188 1462h1M1139 1511h1M1100 1518h1M1077 1450h1M1038 1453h1M1176 1518h1M988 1506h1M1136 1505h1M959 1467h1M1259 1482h1M1036 1450h1M1084 1479h1M1235 1467h1M1149 1513h1M1200 1466h1M1185 1471h1M1046 1473h1M1121 1495h1M1101 1500h1M990 1488h1M1185 1480h1M1061 1505h1M1011 1490h1M985 1482h1M1024 1512h1M1196 1475h1M1161 1455h1M1100 1454h1M1020 1479h1M1213 1459h1M1061 1451h1M1185 1482h1M1011 1521h1M977 1507h1M1177 1453h1M1023 1513h1M1311 1470h1M1298 1515h1M973 1487h1M1117 1494h1M1138 1496h1M1246 1511h1M1355 1451h1M974 1459h1M1306 1516h1M1020 1470h1M1040 1521h1M1163 1471h1M963 1491h1M1008 1493h1M1108 1466h1M1095 1499h1M1000 1461h1M1175 1496h1M1010 1487h1M1197 1451h1M1234 1460h1M1250 1502h1M1101 1515h1M1314 1479h1M1016 1480h1M986 1482h1M1233 1452h1M1231 1464h1M1013 1488h1M1039 1504h1M971 1510h1M992 1467h1M1108 1451h1M988 1511h1M1019 1518h1M1133 1516h1M1105 1500h1M1154 1518h1M1049 1506h1M1127 1510h1M1069 1458h1M1143 1500h1M1207 1468h1M1228 1474h1M1046 1475h1M972 1456h1M1082 1501h1M1258 1458h1M1312 1463h1M983 1461h1M1038 1468h1M1000 1500h1M962 1470h1M1072 1457h1M959 1470h1M959 1472h1M957 1456h1M1209 1502h1M1034 1462h1M999 1498h1M957 1495h1M999 1452h1M1106 1459h1M1038 1457h1M1192 1500h1M1067 1481h1M1096 1493h1M1115 1491h1M1011 1452h1M1050 1519h1M1039 1481h1M1001 1504h1M1067 1497h1M1116 1494h1M1081 1490h1M1284 1455h1M1029 1519h1M1089 1451h1M1294 1480h1M976 1497h1M1140 1500h1M957 1476h1M1020 1523h1M1140 1464h1M1344 1493h1M1141 1472h1M1300 1519h1M1098 1516h1M1020 1498h1M1014 1518h1M970 1514h1M1195 1512h1M1069 1474h1M1020 1498h1M1017 1484h1" stroke="#30303a" stroke-opacity="0.55" stroke-width="1.8" stroke-linecap="round"/>
<path d="M1011 1496h1M1190 1435h1M1400 1429h1M1399 1475h1M1024 1459h1M988 1426h1M1112 1442h1M1004 1412h1M1420 1486h1M1119 1448h1M1499 1393h1M1085 1503h1M1033 1498h1M1409 1414h1M1037 1510h1M1370 1437h1M1383 1449h1M1090 1388h1M1116 1490h1M1357 1493h1M1423 1418h1M1269 1390h1M1065 1443h1M1366 1478h1M1125 1407h1M1287 1453h1M1358 1501h1M1425 1422h1M956 1517h1M1357 1451h1M1178 1500h1M1071 1469h1M1181 1430h1M1172 1425h1M1097 1414h1M1264 1445h1M1163 1390h1M1281 1445h1M1450 1384h1M1401 1374h1M969 1411h1M1162 1507h1M1196 1510h1M1207 1481h1M1141 1480h1M1296 1401h1M1026 1414h1M1304 1374h1M1184 1434h1M1224 1396h1M1131 1469h1M1488 1437h1M1487 1488h1M1396 1485h1M1068 1469h1M1497 1444h1M997 1498h1M1088 1451h1M1181 1412h1M1072 1474h1M1517 1424h1M965 1480h1M1170 1479h1M977 1435h1M1302 1380h1M1224 1429h1M1331 1424h1M979 1439h1M1382 1497h1M1293 1495h1M1318 1394h1M1371 1387h1M1034 1440h1M1086 1522h1M1443 1444h1M1507 1433h1M1365 1438h1M1189 1400h1M1489 1497h1M1101 1443h1M1502 1391h1M1448 1437h1M1183 1485h1M1120 1473h1M993 1416h1M1491 1471h1M1275 1408h1M1137 1464h1M1432 1463h1M1187 1435h1M1004 1423h1M1092 1456h1M1006 1444h1M1088 1439h1M965 1500h1M1244 1395h1M1345 1378h1M1456 1433h1M1183 1437h1M1382 1457h1M1375 1462h1M1399 1451h1M1226 1510h1M1067 1438h1M1304 1449h1M1329 1501h1M1092 1426h1M1177 1491h1M1389 1423h1M1117 1481h1M1044 1422h1M1185 1489h1M1131 1429h1M993 1471h1M1176 1424h1M1114 1487h1M1379 1478h1M1513 1413h1M962 1497h1M1417 1440h1M1077 1522h1M1283 1417h1M1011 1491h1M1192 1478h1M1253 1406h1M1057 1416h1M1508 1403h1M964 1415h1M1515 1444h1M1455 1391h1M1208 1447h1M1076 1503h1M1149 1473h1M1506 1480h1M1203 1409h1M1277 1404h1M1041 1418h1M1433 1460h1M1246 1519h1M1485 1436h1M1342 1406h1M1187 1430h1M1247 1414h1M1186 1517h1M1378 1407h1M1064 1455h1M1423 1490h1M1105 1400h1M1359 1390h1M1441 1519h1M1396 1488h1M1199 1490h1M1373 1449h1M1113 1431h1M1520 1523h1M1497 1429h1M1230 1430h1M1449 1461h1M1257 1418h1M1133 1420h1M1242 1418h1M1121 1513h1M1027 1453h1M1011 1446h1M1496 1378h1M1485 1431h1M1351 1412h1M1255 1431h1M1009 1421h1M1475 1409h1M1346 1416h1M1138 1439h1M1045 1505h1M1252 1511h1M1404 1399h1M1127 1410h1M1338 1423h1M1082 1447h1M1286 1447h1M1159 1407h1M1423 1407h1M1211 1455h1M1211 1416h1M1468 1463h1M1043 1373h1M1485 1421h1M1335 1476h1M962 1462h1M1482 1378h1M1059 1463h1M1125 1395h1M1277 1455h1M1390 1407h1M1462 1403h1M961 1424h1M960 1399h1M1437 1444h1M1438 1477h1M1267 1407h1M1353 1392h1M1038 1436h1M1305 1508h1M1494 1414h1M1113 1407h1M984 1393h1M1155 1454h1M976 1458h1M1398 1377h1M1020 1458h1M1193 1418h1M1498 1522h1M994 1428h1M1432 1416h1M1254 1424h1M1186 1405h1M1477 1512h1M1287 1475h1M1101 1410h1M1182 1389h1M1026 1382h1M1348 1486h1M1167 1439h1M1263 1444h1M1459 1427h1M1319 1516h1M1370 1429h1M1188 1391h1M1444 1372h1M1135 1467h1M985 1476h1M1035 1464h1M1417 1427h1M1489 1423h1M1362 1497h1M1006 1385h1M1077 1515h1M1181 1503h1M1318 1424h1M1395 1421h1M1462 1412h1M1244 1459h1M1275 1506h1M1080 1407h1M1275 1390h1M1340 1482h1M1147 1437h1M1117 1485h1M1452 1377h1M1053 1483h1M1298 1447h1M962 1445h1M1468 1431h1M1305 1440h1M999 1473h1M1262 1467h1M1272 1517h1M1136 1410h1M1276 1413h1M1085 1475h1M1046 1494h1M1429 1423h1M1016 1454h1M1270 1444h1M1461 1436h1M1304 1516h1M1072 1456h1M1107 1504h1M1366 1487h1M1094 1472h1M1066 1498h1M1173 1400h1M1003 1456h1M1220 1425h1M1030 1461h1M1215 1447h1M1064 1503h1M1405 1521h1M1064 1503h1M1301 1438h1M1054 1410h1M1341 1464h1M1255 1409h1M1137 1489h1M1441 1479h1M998 1412h1M1184 1514h1M1230 1413h1M1258 1495h1M1082 1476h1M1232 1413h1M1040 1445h1M1063 1427h1M1498 1423h1M1151 1450h1M1367 1471h1M1370 1451h1M1078 1475h1M1015 1519h1M1121 1457h1M1290 1450h1M1386 1448h1M1380 1484h1M954 1515h1M1077 1464h1M1397 1452h1M1194 1414h1M1019 1405h1M1317 1417h1M1354 1434h1M1135 1465h1M997 1515h1M1362 1454h1M1267 1428h1M1207 1505h1M1049 1411h1M1076 1514h1M953 1485h1M1402 1417h1M1054 1462h1M1348 1457h1M1458 1493h1M1253 1422h1M1378 1480h1M1136 1437h1M1215 1439h1M1187 1497h1M1184 1420h1M1337 1423h1M998 1504h1M1278 1483h1M1021 1433h1M1476 1484h1M1306 1444h1M1282 1410h1M1314 1400h1M1322 1378h1M1287 1442h1M1409 1485h1M1251 1413h1M1437 1437h1M1129 1446h1M1465 1456h1M1463 1444h1M1199 1432h1M1300 1484h1M1442 1424h1M1325 1470h1M1158 1432h1M1258 1406h1M1493 1454h1M1120 1509h1M1071 1416h1M1509 1374h1M1351 1406h1M1175 1474h1M1122 1516h1M1090 1468h1M1139 1482h1M1250 1520h1M975 1499h1M1497 1456h1M1256 1380h1M977 1457h1M1060 1390h1M1328 1401h1M1072 1478h1M1219 1451h1M1181 1485h1M1210 1491h1M1207 1476h1M1229 1506h1M1215 1466h1M1168 1487h1M1486 1487h1M1123 1506h1M1427 1490h1M1487 1506h1M1245 1500h1M1440 1449h1M1469 1433h1M1143 1422h1M1466 1373h1M1169 1509h1M1302 1472h1M1439 1431h1M1462 1520h1M1377 1413h1M1053 1459h1M1475 1513h1M1101 1481h1M1485 1410h1M1144 1513h1M971 1373h1M1483 1390h1M957 1408h1M1467 1466h1M1021 1520h1M1299 1455h1M1352 1454h1M1277 1457h1M1171 1518h1M965 1445h1M1081 1510h1M1416 1407h1M1127 1478h1M1259 1420h1M1308 1376h1M1018 1448h1M1267 1425h1M1426 1376h1M1457 1500h1M1448 1393h1M1027 1510h1M1390 1422h1M1472 1451h1M1082 1407h1M1144 1485h1M1042 1430h1M1097 1415h1M1500 1483h1M1075 1436h1M1449 1401h1M1143 1409h1M1175 1459h1M1001 1427h1M1314 1458h1M1006 1462h1M1389 1502h1M991 1463h1M1417 1425h1M1420 1513h1M983 1381h1M1312 1461h1M1316 1424h1M1173 1408h1M1004 1429h1M963 1489h1M1493 1464h1M1270 1512h1M1054 1495h1M1520 1490h1M1490 1424h1M1458 1482h1M1359 1519h1M1307 1427h1M1252 1508h1M1506 1434h1M1476 1428h1M1276 1491h1M1116 1499h1M1050 1449h1M1343 1431h1M1063 1499h1M1494 1465h1M1455 1374h1M1161 1492h1M1390 1421h1M1176 1413h1M1002 1447h1M1234 1513h1M1379 1397h1M1404 1439h1M1381 1444h1M984 1409h1M1469 1378h1M1081 1429h1M1480 1489h1M1119 1449h1M1205 1511h1M1455 1439h1M1395 1425h1M1203 1488h1M1484 1405h1M1244 1443h1M1387 1492h1M1072 1476h1M1332 1386h1M977 1473h1M1044 1476h1M962 1460h1M1432 1490h1M966 1489h1M1111 1380h1M1431 1456h1M962 1414h1M1292 1512h1M1427 1444h1M1251 1390h1M1350 1514h1M987 1454h1M1320 1436h1M1118 1399h1M969 1488h1M1098 1452h1M980 1450h1M1403 1438h1M1200 1432h1M1356 1465h1M1128 1385h1M996 1494h1M1506 1408h1M1389 1414h1M1104 1478h1M1471 1518h1M1432 1503h1M1388 1376h1M1247 1400h1M1104 1496h1M1463 1516h1M1088 1453h1M1485 1441h1M1007 1463h1M1105 1522h1M1179 1462h1M1129 1475h1M1130 1458h1M964 1467h1M1050 1402h1M993 1416h1M1341 1406h1M1503 1408h1M1135 1421h1M1225 1446h1M1115 1409h1M1251 1478h1M1167 1408h1M1445 1513h1M1320 1464h1M1132 1508h1M1444 1471h1M1030 1480h1M1143 1413h1M1504 1504h1M1196 1406h1M1093 1496h1M1378 1446h1M1271 1503h1M1444 1376h1M1101 1373h1M973 1500h1M985 1420h1M1364 1439h1M1467 1509h1M1253 1522h1M1067 1422h1M1304 1457h1M961 1514h1M1139 1393h1M994 1440h1M1493 1412h1M1487 1412h1M1197 1496h1M1346 1471h1M1391 1412h1M1234 1459h1M972 1491h1M1343 1484h1M1019 1510h1M1062 1453h1M980 1427h1M1380 1390h1M1036 1420h1M1498 1506h1M974 1435h1M1073 1423h1M1379 1448h1M1227 1498h1M1433 1423h1M1353 1406h1M1403 1483h1M1380 1432h1M1510 1405h1M1078 1401h1M964 1429h1M1055 1506h1M1376 1416h1M1025 1427h1M1201 1463h1M1363 1498h1M1119 1429h1M1098 1509h1M1371 1515h1M1312 1400h1M1175 1415h1M1414 1418h1M1082 1374h1M1159 1396h1M1261 1461h1M1140 1492h1M1029 1433h1M1290 1439h1M1452 1421h1M1022 1503h1M1193 1494h1M1221 1513h1M1280 1458h1M963 1503h1M1271 1516h1M1045 1497h1M1216 1442h1M1450 1386h1M1438 1417h1M1227 1422h1M991 1479h1M1046 1497h1M1222 1408h1M1021 1396h1M1224 1445h1M1088 1496h1M1011 1507h1M1055 1472h1M1350 1425h1M1228 1444h1M1475 1381h1M1137 1454h1M1117 1424h1M1222 1476h1M1251 1415h1M1433 1420h1M1153 1501h1M1320 1441h1M955 1507h1M1109 1500h1M997 1408h1M1147 1430h1M1215 1388h1M1041 1383h1M1212 1414h1M1164 1402h1M1058 1440h1M1296 1465h1M1464 1390h1M1363 1461h1M1337 1443h1M1074 1397h1M966 1388h1M1477 1506h1M1496 1501h1M1146 1430h1M1308 1482h1M977 1396h1M1390 1472h1M1253 1376h1M1253 1446h1M1261 1521h1M1014 1424h1M1269 1421h1M1180 1488h1M1315 1407h1M1372 1466h1M1282 1407h1M1033 1412h1M1387 1427h1M973 1522h1M1236 1513h1M1075 1408h1M954 1449h1M1496 1378h1M1184 1447h1M1466 1431h1M1351 1413h1M1392 1439h1M1181 1417h1M1246 1427h1M964 1373h1M1376 1454h1M959 1405h1M1197 1456h1M1008 1478h1M1449 1474h1M1341 1408h1M1519 1518h1M1176 1475h1M1475 1395h1M1013 1424h1M1137 1379h1M1280 1494h1M1002 1460h1M1304 1462h1M1140 1499h1M1391 1503h1M1017 1438h1M1497 1428h1M1013 1495h1M1304 1471h1M999 1493h1M1456 1410h1M1048 1427h1M984 1377h1M1264 1521h1M1284 1492h1M1392 1450h1M1491 1480h1M1363 1467h1M1321 1441h1M1261 1519h1M1259 1391h1M1406 1432h1M1480 1494h1M1246 1477h1M1200 1437h1M1029 1522h1M1421 1408h1M956 1492h1M1471 1421h1M1500 1426h1M1090 1501h1M1519 1439h1M1400 1440h1M1168 1483h1M961 1425h1M1355 1422h1M1413 1459h1M1402 1428h1M993 1504h1M1033 1518h1M1329 1414h1M1032 1432h1M1132 1429h1M1375 1449h1M1003 1487h1M1444 1426h1M1361 1450h1M1263 1497h1M1397 1375h1M1408 1430h1M1059 1432h1M980 1493h1M1131 1500h1M998 1473h1M1073 1519h1M1229 1496h1M1509 1446h1M1202 1439h1M1165 1376h1M1018 1464h1M1071 1513h1M1055 1422h1M1115 1479h1M1034 1478h1M1269 1444h1M1518 1447h1M1266 1467h1M1316 1454h1M1327 1377h1M1040 1418h1M1125 1395h1M1450 1405h1M1176 1469h1M1178 1459h1M1393 1444h1M965 1523h1M1285 1406h1M1405 1433h1M1326 1392h1M1123 1516h1M1346 1452h1M1197 1410h1M1110 1449h1M1223 1374h1M1036 1512h1M1074 1447h1M1053 1468h1M1089 1475h1M1319 1465h1M1240 1499h1M1180 1513h1M1329 1417h1M1157 1505h1M1003 1496h1M1154 1496h1M1238 1468h1M1132 1449h1M1218 1511h1M1136 1516h1M1073 1429h1M1331 1432h1M1220 1446h1M1521 1518h1M1186 1380h1M1107 1440h1M1308 1425h1M1257 1413h1M1160 1421h1M1197 1518h1M1124 1415h1M1207 1488h1M1439 1445h1M1333 1510h1M1438 1467h1M1302 1463h1M1398 1445h1M1006 1470h1M1002 1401h1M1317 1391h1M1331 1439h1M1387 1514h1M1493 1465h1M1207 1411h1M1474 1467h1M1378 1452h1M989 1448h1M1024 1455h1M1001 1422h1M1151 1496h1M1476 1387h1M1067 1375h1M1066 1507h1M1299 1410h1M1030 1415h1M1323 1372h1M1208 1385h1M1254 1428h1M1369 1465h1M1470 1455h1M1030 1388h1M1111 1447h1M1192 1481h1M1506 1449h1M1232 1407h1M1150 1476h1M1178 1485h1M1372 1407h1M1442 1414h1M1486 1414h1M1362 1491h1M1076 1444h1M981 1407h1M1445 1441h1M1375 1455h1M1514 1457h1M1416 1494h1M1333 1520h1M1426 1379h1M1376 1429h1M1064 1458h1M1001 1505h1M1046 1437h1M1349 1478h1M1461 1493h1M1414 1467h1M1257 1382h1M1203 1481h1M1475 1506h1M1095 1415h1M1407 1384h1M1241 1379h1M1510 1382h1M1113 1503h1M1312 1430h1M1089 1521h1M1113 1509h1M1141 1412h1M1128 1433h1M1263 1475h1M1070 1437h1M1093 1456h1M1275 1421h1M1428 1411h1M1025 1487h1M1137 1470h1M1358 1413h1M1080 1450h1M1357 1401h1M1410 1391h1M964 1486h1M1109 1446h1M1118 1413h1M1074 1411h1M1058 1510h1M982 1504h1M1273 1406h1M1018 1499h1M1087 1419h1M1043 1379h1M1063 1417h1M1280 1463h1M1165 1465h1M1294 1464h1M1259 1402h1M971 1439h1M1406 1436h1M1460 1424h1M1070 1496h1M1100 1417h1M1001 1508h1M1200 1381h1M1513 1442h1M1011 1466h1M981 1522h1M997 1504h1M983 1496h1M1279 1489h1M1052 1462h1M1000 1418h1M1438 1507h1M1459 1475h1M1105 1436h1M1164 1498h1M1388 1513h1M1076 1405h1M1508 1434h1M1049 1520h1M1459 1435h1M1116 1457h1M981 1476h1M1223 1409h1M1483 1453h1M972 1482h1M1191 1503h1M1011 1497h1M1149 1491h1M1117 1452h1M1142 1500h1M1187 1510h1M1057 1408h1M1338 1499h1M1066 1430h1M1304 1469h1M963 1429h1M1061 1449h1M1175 1520h1M1214 1442h1M1470 1521h1M1019 1510h1M1247 1408h1M1195 1500h1M1225 1412h1M1316 1424h1M1332 1420h1M1114 1465h1M1398 1475h1M1225 1428h1M1018 1439h1M1405 1421h1M1065 1461h1M1075 1439h1M1419 1433h1M1084 1457h1M959 1496h1M953 1490h1M1016 1493h1M955 1452h1M1106 1372h1M1389 1411h1M1061 1427h1M1152 1413h1M1198 1432h1M1258 1515h1M1087 1445h1M1438 1441h1M1390 1456h1M1449 1419h1M1057 1487h1M1004 1453h1M1109 1513h1M1067 1440h1M975 1483h1M1197 1505h1M1133 1415h1M1423 1445h1M1470 1455h1M1320 1380h1M1183 1458h1M1367 1448h1M1319 1493h1M1161 1375h1M1339 1519h1M1474 1446h1M1170 1469h1M955 1458h1M1341 1447h1M958 1386h1M1131 1441h1M1420 1409h1M985 1412h1M1032 1505h1M1496 1520h1M1001 1510h1M963 1496h1M1082 1510h1M1134 1399h1M1173 1385h1M986 1520h1M967 1454h1M1139 1466h1M1273 1381h1M1029 1482h1M1289 1505h1M1261 1485h1M1227 1462h1M1324 1482h1M1181 1401h1M1087 1487h1M983 1410h1M1316 1401h1M1460 1425h1M1008 1499h1M971 1468h1M1049 1429h1M1035 1478h1M1005 1448h1M1200 1414h1M1447 1451h1M1253 1481h1M1395 1408h1M1083 1424h1M1249 1481h1M966 1493h1M1363 1448h1M1148 1513h1M1384 1465h1M1431 1377h1M1117 1475h1M1124 1452h1M1172 1468h1M1219 1432h1M1494 1418h1M1047 1507h1M1210 1475h1M1288 1438h1M1029 1407h1M1076 1516h1M1328 1413h1M1093 1401h1M1359 1404h1M1422 1409h1M1480 1423h1M1413 1435h1M1460 1413h1M1038 1438h1M1029 1448h1M1296 1385h1M1012 1449h1M1101 1508h1M1217 1434h1M1170 1415h1M1002 1446h1M966 1485h1M1358 1501h1M1017 1453h1M1221 1437h1M1515 1430h1M1174 1473h1M1125 1460h1M1199 1421h1M1053 1511h1M1410 1418h1M1516 1415h1M1076 1505h1M1175 1483h1M1029 1405h1M1045 1404h1M1009 1447h1M1420 1426h1M1127 1389h1M1245 1407h1M1116 1473h1M1264 1444h1M1151 1449h1M1116 1416h1M1478 1405h1M1441 1403h1M1410 1413h1M1221 1420h1M986 1463h1M1515 1444h1M1464 1461h1M1136 1431h1M1238 1415h1M986 1443h1M1180 1484h1M964 1483h1M1310 1432h1M1491 1394h1M1471 1438h1M1499 1454h1M1409 1378h1M1383 1521h1M1467 1421h1M1094 1454h1M1188 1497h1M1110 1437h1M1352 1452h1M1069 1493h1M1068 1376h1M1130 1480h1M1172 1479h1M1213 1466h1M955 1469h1M978 1489h1M1267 1447h1M1127 1518h1M1242 1422h1M1101 1499h1M1283 1434h1M1498 1389h1M1516 1462h1M1323 1435h1M1332 1487h1M1456 1435h1M1518 1421h1M1382 1478h1M1305 1409h1M1296 1495h1M1244 1427h1M1353 1435h1M1053 1428h1M1064 1413h1M1443 1497h1M1277 1376h1M968 1491h1M1075 1390h1M1141 1393h1M1479 1414h1M1093 1437h1M1180 1418h1M992 1461h1M1365 1382h1M1076 1513h1M1318 1373h1M1082 1416h1M1135 1416h1M978 1520h1M1254 1407h1M1356 1425h1M1365 1389h1M1040 1456h1M1074 1506h1M1165 1509h1M1293 1434h1M1005 1485h1M1194 1483h1M1292 1406h1M1332 1497h1M1119 1471h1M993 1522h1M1254 1419h1M1250 1464h1M1014 1492h1M1502 1478h1M1331 1498h1M1115 1473h1M1085 1418h1M1374 1521h1M1003 1501h1M1198 1498h1M1136 1427h1M1108 1499h1M1286 1421h1M1069 1485h1M1501 1415h1M1240 1472h1M1497 1436h1M1035 1493h1M1172 1513h1M1168 1456h1M1079 1429h1M1244 1438h1M1245 1390h1M1250 1426h1M1482 1519h1M1346 1523h1M1415 1502h1M1303 1402h1M1248 1373h1M1478 1505h1M1102 1447h1M1489 1455h1M1208 1510h1M968 1517h1M1213 1474h1M1006 1465h1M1209 1402h1M1033 1516h1M1480 1402h1M1435 1482h1M1440 1414h1M1116 1426h1M1424 1509h1M956 1443h1M1174 1492h1M1028 1421h1M1134 1436h1M1518 1444h1M1119 1444h1M1123 1440h1M1229 1463h1M1418 1430h1M1067 1407h1M1070 1472h1M1031 1403h1M1106 1470h1M1062 1431h1M959 1408h1M1424 1441h1M1169 1513h1M1504 1522h1M1026 1403h1M1271 1412h1M1329 1403h1M963 1388h1M984 1438h1M1390 1421h1M1307 1489h1M1423 1394h1M1329 1496h1M1385 1513h1M1454 1393h1M1214 1464h1M1004 1472h1M1108 1441h1M1023 1507h1M1354 1478h1M1209 1436h1M1460 1406h1M1152 1484h1M1099 1523h1M1328 1390h1M1355 1479h1M968 1374h1M1122 1419h1M1167 1448h1M1377 1508h1M1082 1443h1M1035 1396h1M1196 1394h1M1023 1435h1M1143 1522h1M1119 1503h1M1085 1388h1M1199 1472h1M1154 1387h1M1319 1393h1M1162 1424h1M1113 1503h1M1216 1478h1M1025 1493h1M1114 1409h1M1322 1500h1M1365 1493h1M972 1413h1M1043 1476h1M1248 1398h1M1315 1416h1M1418 1460h1M1105 1485h1M1391 1457h1M1016 1444h1M1011 1437h1M1162 1437h1M1280 1458h1M1410 1470h1M1028 1408h1M1487 1474h1M1156 1459h1M1415 1375h1M1059 1418h1M1076 1466h1M1351 1429h1M1393 1520h1M1080 1423h1M1257 1476h1M1164 1491h1M1281 1407h1M1224 1390h1M1507 1373h1M1087 1430h1M1159 1510h1M1263 1453h1M1213 1377h1M1339 1411h1M1112 1420h1M1214 1512h1M1297 1429h1M1518 1436h1M1234 1387h1M1362 1474h1M975 1402h1M1424 1411h1M1423 1393h1M1220 1485h1M1479 1386h1M1277 1426h1M1401 1445h1M1315 1395h1M1027 1490h1M1258 1416h1M1495 1504h1M1005 1445h1M1338 1426h1M1485 1457h1M1212 1406h1M1232 1373h1M1298 1460h1M1512 1425h1M1272 1395h1M1146 1489h1M1362 1427h1M1078 1406h1M1424 1425h1M1079 1497h1M1060 1384h1M1068 1514h1M1206 1425h1M1274 1451h1M1104 1448h1M1445 1419h1M1515 1518h1M1392 1484h1M1415 1428h1M1143 1523h1M1186 1382h1M1186 1506h1M987 1377h1M1078 1431h1M1439 1433h1M1104 1507h1M1461 1414h1M955 1435h1M984 1490h1M1490 1511h1M1257 1505h1M1212 1398h1M1404 1437h1M1449 1499h1M1495 1434h1M1137 1460h1M1070 1416h1M1117 1458h1M1293 1464h1M1160 1483h1" stroke="#6c6ce8" stroke-opacity="0.5" stroke-width="2.2" stroke-linecap="round"/>
</g>
<path d="M952 1439.3 H1521.6" stroke="#f6b800" stroke-width="4" stroke-dasharray="4,3.4"/>
<text x="965.5" y="1342.5" font-size="22.5" font-style="italic" fill="#e2e2e2">Bright Field</text>
<text x="965.5" y="1371" font-size="22.5" font-style="italic" fill="#1010f0">Nucleus</text>
<text x="1117" y="1382" font-size="26.5" font-weight="bold" font-style="italic" fill="#262626">Leading Position</text>
<text x="1105" y="1494.5" font-size="26.5" font-weight="bold" font-style="italic" fill="#262626">Basement Position</text>
<path d="M1635 1357 H1665 M1770 1357 H1800" stroke="#000" stroke-width="3.5"/>
<ellipse cx="1582" cy="1357" rx="53" ry="28.5" fill="#c00000" stroke="#000" stroke-width="2"/>
<ellipse cx="1717.5" cy="1357" rx="53" ry="28.5" fill="#00b050" stroke="#000" stroke-width="2"/>
<ellipse cx="1852.5" cy="1357" rx="53" ry="28.5" fill="#fff" stroke="#000" stroke-width="2"/>
<text x="1582" y="1363.5" font-size="16.5" text-anchor="middle" font-weight="bold" fill="#fff">mCherry</text>
<text x="1717.5" y="1363.5" font-size="16.5" text-anchor="middle" font-weight="bold" fill="#fff">GFP</text>
<text x="1852.5" y="1363.5" font-size="16.5" text-anchor="middle" font-weight="bold" fill="#000">LC3B</text>
<rect x="1541.5" y="1401.5" width="42.5" height="39" fill="#c00000" stroke="#111" stroke-width="1.5"/>
<rect x="1541.5" y="1456.5" width="42.5" height="40" fill="#ffc000" stroke="#111" stroke-width="1.5"/>
<text x="1593" y="1431.5" font-size="27" fill="#000">Autolysosomes</text>
<text x="1595.5" y="1486" font-size="27" fill="#000">Autophagosome</text>
<rect x="915.9" y="1533.3" width="1016.6" height="362.3" fill="#000"/>
<defs><clipPath id="fc"><rect x="915.9" y="1533.3" width="1016.6" height="362.3"/></clipPath></defs>
<g clip-path="url(#fc)" stroke-linecap="round" fill="none">
<path d="M1270 1792h1M1369 1782h1M1420 1770h1M1452 1661h1M1087 1671h1M1802 1831h1M1499 1835h1M1785 1772h1M1165 1690h1M1399 1776h1M1649 1813h1M937 1761h1M1744 1745h1M1421 1745h1M1695 1740h1M1614 1706h1M1565 1834h1M1770 1678h1M1627 1700h1M1299 1655h1M1503 1692h1M1890 1849h1M1242 1708h1M1468 1814h1M1483 1814h1M1518 1717h1M1089 1807h1M1177 1814h1M1165 1814h1M1903 1719h1M981 1779h1M1375 1635h1M1843 1801h1M1287 1745h1M1083 1849h1M1386 1603h1M972 1782h1M1346 1829h1M1390 1739h1M1370 1769h1M1480 1754h1M1200 1774h1M1448 1761h1M921 1843h1M1729 1702h1M1409 1721h1M1320 1786h1M1299 1706h1M1664 1756h1M1763 1815h1M1689 1679h1M1308 1804h1M1679 1723h1M1330 1749h1M1522 1774h1M1848 1778h1M1395 1740h1M1694 1823h1M1675 1600h1M1041 1844h1M1208 1717h1M1250 1693h1M1244 1725h1M1568 1741h1M1148 1679h1M1843 1856h1M1377 1699h1M1493 1876h1M1686 1782h1M1893 1854h1M1778 1739h1M1248 1777h1M1265 1689h1M1878 1735h1M1706 1783h1M1411 1778h1M1705 1701h1M1368 1776h1M1082 1894h1M1445 1754h1M952 1720h1M1535 1821h1M1721 1763h1M1619 1767h1M1090 1701h1M1539 1708h1M1887 1730h1M1481 1772h1M920 1705h1M1662 1825h1M1789 1715h1M1903 1780h1M1159 1794h1M1159 1819h1M1256 1758h1M1522 1846h1M1104 1739h1M1748 1820h1M1482 1668h1M1903 1699h1M1470 1757h1M1762 1894h1M1084 1809h1M1650 1759h1M1908 1708h1M995 1694h1M986 1842h1M1513 1752h1M1273 1791h1M1887 1823h1M1495 1811h1M1431 1706h1M1703 1763h1M1918 1752h1M1244 1734h1M1442 1807h1M1042 1626h1M1718 1763h1M1659 1894h1M1456 1760h1M1002 1817h1M1734 1800h1M1132 1746h1M1534 1769h1M1897 1720h1M1719 1720h1M1168 1630h1M1910 1783h1M1263 1849h1M1313 1865h1M1663 1765h1M1782 1724h1M1391 1645h1M1182 1728h1M1354 1746h1M1758 1741h1M1618 1721h1M1051 1707h1M1508 1742h1M1563 1736h1M1599 1707h1M1335 1790h1M1024 1790h1M1553 1757h1M1626 1816h1M1074 1753h1M1820 1685h1M953 1600h1M933 1708h1M1132 1733h1M1846 1768h1M1056 1811h1M1445 1711h1M1886 1836h1M1546 1684h1M1062 1799h1M1509 1821h1M1569 1786h1M1011 1783h1M1019 1894h1M1557 1702h1M1578 1825h1M1417 1754h1M920 1804h1M1339 1699h1M1706 1776h1M976 1716h1M1134 1706h1M1047 1727h1M1105 1677h1M1233 1779h1M1783 1780h1M959 1828h1M1193 1818h1M1786 1772h1M1598 1741h1M1013 1846h1M988 1723h1M1739 1780h1M1911 1757h1M1100 1644h1M1519 1701h1M1851 1644h1M1729 1664h1M1494 1760h1M1861 1773h1M1896 1749h1M1464 1674h1M1876 1775h1M1758 1832h1M1236 1824h1M1574 1818h1M1559 1806h1M1686 1674h1M1578 1737h1M941 1849h1M1932 1766h1M1876 1723h1M1867 1850h1M1620 1746h1M1049 1779h1M1871 1701h1M1579 1814h1M937 1786h1M951 1771h1M961 1779h1M1426 1774h1M1494 1700h1M1047 1800h1M1503 1771h1M1252 1760h1M1278 1851h1M1908 1793h1M983 1779h1M1057 1840h1M1423 1798h1M1267 1796h1M1780 1793h1M1296 1731h1M1011 1759h1M1338 1600h1M1647 1737h1M1606 1772h1M1615 1745h1M1333 1735h1M1738 1796h1M1873 1894h1M1437 1759h1M1166 1696h1M1360 1824h1M1737 1858h1M1585 1803h1M1291 1739h1M1264 1770h1M922 1708h1M1576 1812h1M1261 1703h1M1691 1756h1M1465 1709h1M1842 1858h1M1631 1762h1M1675 1771h1M1056 1729h1M1839 1740h1M1518 1819h1M1439 1793h1M1563 1815h1M1900 1765h1M1347 1773h1M967 1664h1M1591 1798h1M1260 1801h1M1417 1789h1M1488 1845h1M1795 1757h1M1432 1813h1M1270 1869h1M1594 1734h1M1893 1816h1M1305 1741h1M1887 1747h1M968 1631h1M1425 1748h1M935 1818h1M1639 1694h1M1070 1798h1M1536 1729h1M1743 1882h1M1026 1714h1M1627 1729h1M1107 1681h1M1749 1838h1M1486 1777h1M1305 1696h1M987 1774h1M1041 1750h1M1687 1680h1M1295 1723h1M1723 1770h1M1148 1745h1M1344 1889h1M1855 1710h1M1869 1742h1M956 1616h1M1852 1777h1M1764 1680h1M1365 1707h1M1853 1751h1M1636 1737h1M1754 1758h1M1088 1758h1M1214 1781h1M1814 1876h1M1499 1857h1M1385 1894h1M1871 1752h1M1072 1622h1M1452 1711h1M1292 1788h1M1277 1790h1M1302 1838h1M1478 1712h1M1692 1754h1M1346 1760h1M1534 1720h1M966 1716h1M1567 1718h1M1820 1810h1M1023 1853h1M1784 1744h1M1414 1817h1M970 1666h1M1233 1834h1M1775 1785h1M1813 1709h1M1751 1792h1M1691 1781h1M1738 1706h1M1057 1653h1M1091 1774h1M939 1744h1M1518 1794h1M1097 1869h1M1923 1840h1M1558 1791h1M1168 1854h1M1642 1894h1M1046 1802h1M1922 1739h1M1092 1618h1M1888 1866h1M1010 1736h1M1704 1738h1M1761 1764h1M1397 1827h1M950 1621h1M1281 1615h1M1759 1648h1M1931 1754h1M1764 1780h1M1089 1842h1M1390 1753h1M1653 1766h1M1374 1733h1M1396 1673h1M1617 1795h1M1855 1722h1M1056 1736h1M1535 1667h1M1582 1822h1M1122 1695h1M925 1832h1M988 1814h1M1620 1799h1M979 1745h1M1030 1800h1M1838 1673h1M1346 1756h1M1892 1832h1M1493 1688h1M1298 1761h1M1546 1773h1M1210 1789h1M933 1692h1M1006 1787h1M1091 1824h1M1662 1766h1M1685 1834h1M1515 1889h1M955 1871h1M1251 1707h1M1505 1643h1M924 1801h1M1166 1756h1M1103 1731h1M1623 1789h1M1747 1807h1M1107 1710h1M1111 1799h1M1842 1804h1M1714 1716h1M1589 1748h1M1624 1647h1M1802 1671h1M1460 1768h1M1840 1747h1M1297 1792h1M1452 1662h1M1207 1682h1M1918 1726h1M1507 1741h1M1323 1741h1M1081 1721h1M1137 1792h1M1277 1715h1M1023 1695h1M1931 1802h1M1082 1739h1M1136 1773h1M1650 1800h1M924 1842h1M1119 1806h1M1080 1709h1M1484 1696h1M1546 1767h1M1036 1638h1M1694 1821h1M1420 1782h1M1489 1730h1M1880 1769h1M1729 1674h1M947 1752h1M933 1774h1M1610 1786h1M1404 1724h1M1786 1752h1M1496 1810h1M1057 1819h1M1143 1724h1M1833 1701h1M1043 1720h1M1495 1661h1M1819 1677h1M1551 1738h1M1491 1686h1M1111 1753h1M1499 1714h1M1598 1766h1M1399 1809h1M1607 1778h1M1357 1869h1M1074 1757h1M1344 1736h1M1616 1823h1M1038 1646h1M1086 1832h1M1673 1696h1M1395 1752h1M1663 1803h1M1603 1765h1M1291 1806h1M1341 1825h1M1719 1717h1M1003 1865h1M1729 1741h1M1528 1894h1M1768 1894h1M1333 1777h1M1285 1759h1M1478 1747h1M1026 1703h1M1921 1704h1M1416 1677h1M1783 1817h1M1689 1716h1M1441 1771h1M1118 1725h1M1889 1832h1M1542 1831h1M1655 1751h1M1637 1839h1M1043 1737h1M1787 1743h1M1534 1800h1M1761 1784h1M1098 1789h1M1234 1754h1M1332 1765h1M1703 1691h1M1832 1788h1M1279 1814h1M1649 1834h1M1901 1677h1M1768 1789h1M1601 1782h1M1582 1655h1M1563 1749h1M1819 1842h1M1554 1726h1M1701 1600h1M1106 1872h1M1872 1729h1M1423 1766h1M1019 1797h1M1455 1788h1M1476 1731h1M1408 1765h1M1532 1741h1M1540 1751h1M931 1734h1M930 1774h1M1037 1780h1M1292 1832h1M1472 1688h1M1021 1755h1M1402 1648h1M1633 1763h1M1651 1894h1M1407 1703h1M1042 1687h1" stroke="#600000" stroke-width="1.4" stroke-opacity="0.8"/>
<path d="M1888 1884h1M1766 1704h1M1484 1673h1M1681 1761h1M964 1641h1M1521 1609h1M976 1642h1M1457 1714h1M1930 1703h1M1673 1794h1M1480 1774h1M1928 1738h1M1764 1771h1M1697 1758h1M1378 1695h1M1431 1793h1M1307 1741h1M1878 1747h1M1912 1812h1M923 1713h1M1851 1750h1M1005 1712h1M1347 1774h1M1140 1747h1M1171 1823h1M1039 1879h1M1804 1772h1M1396 1688h1M1836 1674h1M1234 1888h1M1635 1701h1M1392 1782h1M1777 1736h1M1852 1788h1M1753 1793h1M1657 1738h1M1353 1894h1M1750 1651h1M1335 1785h1M1684 1661h1M1120 1693h1M1700 1854h1M1896 1849h1M1188 1814h1M1406 1740h1M1895 1773h1M1834 1739h1M1640 1815h1M1296 1648h1M1924 1890h1M1627 1720h1M1622 1751h1M1636 1787h1M1138 1790h1M1832 1683h1M957 1637h1M1175 1782h1M1359 1707h1M1138 1823h1M1661 1846h1M919 1691h1M987 1662h1M1080 1774h1M1298 1678h1M1059 1767h1M1331 1708h1M1749 1726h1M1151 1757h1M1783 1681h1M1121 1767h1" stroke="#0c4a0c" stroke-width="2.2" stroke-opacity="0.9"/>
<g filter="url(#bl1)"><path d="M965.3 1701.8l2.7 2M960.7 1701.6l-0.5 -0.2M962.6 1703.3l0.7 -0.7M964.4 1696.9l-0.6 0.6M965.9 1697.8l3.3 -1.1M959.9 1698.4l-0.7 0.5M962.7 1699.9l2 0.1M957.1 1703.6l2.6 -1.6M1038.5 1728.2l0.5 0.2M1037.6 1724.7l1.4 1.5M1042.3 1727.2l2.4 -0.4M1038.4 1723.6l-0.3 0.8M1039.1 1724.5l-1.2 -0.8M1042.5 1724.1l-1.8 -1.4M1037.7 1727.4l-1.1 -0.6M975.5 1735.5l-0.7 -0.7M973.2 1734.2l2.3 1.1M974.1 1735.8l-1.2 -1.1M976.7 1735.7l0.7 0.9M974.5 1733.2l-1.7 -0.9M973.6 1733.9l2.5 1.2M973.1 1732.8l-0 -1.4M937 1727.6l-1.5 -0.6M938.1 1729l-1.5 1.1M936 1728.8l1.7 1.1M938.1 1728.1l0.7 0.2M938.9 1728.4l-0.8 -1.1M936.8 1730.6l0.2 -0.2M934.7 1729.4l-1.8 -0.3M934.8 1729.2l-1.5 -0.2M1155.1 1706.7l-2.8 -0.7M1151.5 1708.1l1 1.5M1148.5 1710.1l-2.1 -0M1151 1710.3l-2.7 -1.7M1153.1 1707.6l1.3 -1.2M1155.5 1707.6l-1.6 0M1147.7 1708.9l2.6 0.9M1161.6 1716.6l-0.3 -1M1159 1716.6l-1.8 -0.8M1161 1719.1l-1.6 1.2M1160.4 1719.4l1.1 0.5M1161.6 1716.6l-1.7 0.4M1159.4 1718.9l-1.8 0.8M1159.6 1718.5l-0.4 1M1123.7 1759.8l0.8 0.2M1123.5 1760.3l-2.4 0.7M1126.5 1759.9l1.2 -0.8M1119.9 1759.8l-2.2 0.3M1124.4 1760.8l0.1 0.6M1125.2 1757.3l0.7 -0.4M1122.5 1762l1.8 -0.6M1123 1758.8l0.1 -1.4M1149.8 1784.9l-1.6 -1.1M1149.6 1783.6l-1.8 -1.2M1147.1 1784.9l1.4 1M1149.7 1784.1l-1.6 -1.4M1150.9 1785.1l-0.2 -1.2M1151.8 1787.2l-1.1 -1.5M1149.2 1785.3l-1 0.3M1144.3 1783.5l-2.2 1.4M1365.3 1795.2l0.4 -1.1M1361.6 1797.9l-0 -0.9M1363.6 1794.4l-1.2 -0M1363.1 1798.6l1.4 -0.4M1363.9 1796.9l-0.3 -0.2M1364 1796.3l-0.6 1.1M1267.5 1799.3l-1.2 -0.2M1268 1797l0.9 -0.5M1267.9 1800.1l0.4 1.2M1268 1800.1l-0.6 0.5M1267 1800.9l0.3 -0.8M1380.8 1732.2l-0.8 -0.1M1382.5 1732.4l-1.3 -0.8M1383 1733.5l0.7 -0M1382.9 1731.8l-0 -0.7M1381.3 1731.2l-0.8 0.9M1381.3 1734.6l-0.2 0.6M1378 1734.2l-1 -0.2M1381.1 1732.6l-0.6 -1M1349.7 1714.2l-0.3 0M1348.1 1712.8l0.5 0.3M1346.7 1713.6l0.4 0.1M1348.8 1713.9l0.1 1.1M1351.1 1714.8l-1.6 -1M1346.3 1715.4l-0.5 -0.8M1350.2 1714.9l-0.1 -0.2M1350.1 1712.5l1.8 -0.1M915.4 1777.1l2.6 2.1M917.3 1772.1l-2.3 -2.2M923.1 1773.4l-1.1 -0.9M918.4 1772.2l0.3 -2.2M916 1774.1l-0 0.9M919.7 1775.4l-1.1 -2.1M920.4 1773.1l2.7 -2.2M1625.8 1780.1l-1.7 -0.9M1622.6 1779l0.7 -0.2M1623.8 1782.5l-2 -0.2M1624 1778.9l2.3 1.3M1622 1779l-1.9 0M1621.5 1779l1.3 1.2M1618.1 1780.8l-0.6 0.4M1627.1 1781.8l1.3 -0.2M1625.3 1786.3l2.7 -0.3M1619.6 1769.5l-2.9 0.9M1618.5 1771l-2.3 -0.2M1619.5 1773.8l1 -0.7M1624.6 1772.6l2.5 0.7M1620.9 1772.3l-0.5 0.1M1618.9 1771.3l2 1.5M1619.1 1770.9l0.2 1.7M1623.1 1772.1l-1.8 -1.8M1618.3 1772.3l-0.9 -0.7M1844.1 1736.6l2.9 1.7M1852.3 1738.4l-0.9 0.4M1844 1743.2l-3.4 -0.6M1851 1743.6l-1.1 -0.1M1852.8 1741.4l-2.9 -1.3M1848.9 1740.3l2 0.7M1851.1 1735.1l0.1 1.3M1850.4 1744.8l1.8 -1.9M1901.5 1717.7l-0.8 1.3M1903.3 1718.8l2.3 1.3M1902.1 1716.8l2.1 -0.2M1903.2 1719.7l-2.2 -0.5M1904.4 1719.4l-1.3 0.5M1903.6 1720.1l0.3 -0.8M1898 1719.6l-2 -1M1906.6 1720.2l-1.1 1.3M1779.4 1683.2l1.2 -0.3M1777.1 1685.7l1.7 -0.5M1782 1683.8l0.7 -0.7M1780.6 1685.7l1.3 0.2M1781.6 1686.6l0.6 1.1M1783.7 1685.7l-2 -1M1779.5 1682.5l-2 -0.9M1655.2 1644.8l-0.1 0.6M1657.4 1643.5l0.5 -0.7M1654.7 1642.5l0.9 0.3M1658.3 1645.7l0.6 0.1M1654.8 1644l1.9 -1.2M1656.2 1644.7l0.8 -0.3M1658.5 1645.3l-0.2 -0.7M1651.4 1643.3l-0.5 0.6M1472.5 1717.7l1.8 -0.6M1465.3 1716.1l0.8 -0.4M1474.1 1714.6l-1.8 -0.4M1471.1 1713.6l-0.4 0.1M1474.8 1715.3l-2.5 0.8M1465.3 1712.8l0 1.4M1474.3 1715.4l2 -0.6M1469.6 1712.5l-1 1.4M1427.3 1882.6l1.2 -0.4M1429.5 1884.9l-1.5 0.3M1429.6 1883.3l-1.1 0.3M1429.9 1885.7l2.4 0.4M1434 1883.7l1 0.7M1427.2 1885.6l2.3 -1.5M1630.9 1857.7l0.5 0.3M1630.9 1857.6l-1.4 -0.4M1627 1859.9l1.2 -0.2M1632.2 1856.3l-1.8 1.4M1634.6 1857.4l0.6 -0.4M1631.8 1858.5l1.9 0M1636.8 1858.3l2.2 0.7M1919.1 1856.2l-0.6 0.7M1914.9 1856l-1.5 -0.7M1915.2 1853.7l1.4 0.8M1915 1856.3l-0 0.6M1916.2 1855l-0.9 1.1M1916.1 1854.6l-1.5 -0.4M1917.8 1857.1l-1.9 -0.9M1596 1860.7l0.9 -0.8M1596.9 1861.2l-0 0.6M1595.7 1860l-1.2 -0.5M1595.1 1863.8l0.1 -0.6M1596.8 1863.9l-0.5 -0.6M1799.8 1684.5l1.1 -0.1M1800.9 1686l-0.1 -0.7M1805.6 1686.1l-1 -0.6M1801.4 1684.6l1.5 -0.3M1802.7 1685.3l-0.5 0.2M1801.4 1684.9l-1.4 0.4M1799.7 1684.7l-1 -0.4M1800.5 1683.4l-0.1 -0.3M1812 1687l-1.3 -0.7M1815.7 1688.1l-2 -0.1M1815.9 1686.7l1.8 0.5M1812.4 1686.8l-0.9 0.6M1813.7 1685.8l-1.5 0M1812.6 1685.7l1.7 -0.8M1856.6 1757.1l0.3 0.5M1857.5 1756.5l-1.3 0.8M1855.5 1756.7l1.1 -1.1M1855.9 1760l1.1 -0.1M1856.1 1757l-0.1 -0.5M1853.8 1752.2l1.4 -0.7M1826.7 1773.3l-0.5 -1M1827.9 1771l0.3 -1.2M1826.9 1772.3l-1 -0.8M1825.5 1774.1l-0.8 -0.2M1830.2 1772.4l0.1 -0.4M1827.6 1771l0.8 0.5M1717.1 1884l-0.4 -0.8M1717.3 1881.4l-0.2 -1.1M1714.8 1882.1l0.6 0.2M1716.6 1880.5l1.2 0.4M1720.5 1883.5l0.3 1.2M1718.2 1880.9l0.4 -0.1M1718.6 1880.9l0.9 -0.3M1717.8 1881.5l0.7 0.7M1001.5 1691.1l0.9 0.4M1001 1688.1l-1.2 0.2M1000.4 1688.8l1.5 0.6M998.8 1690.3l0.4 1.2M1000.1 1688l-0.3 -0.1M997.6 1689.8l0.5 0.1M1078.9 1702l-0.3 -1M1081.5 1702.9l-1 -1M1079.7 1701.8l0.2 0.6M1080.6 1700.8l0.5 -0.8M1080.7 1701.4l-0.4 -0.7M1078.8 1699.8l1.3 1.2M1078.3 1700.2l0.7 -0.9M1080.3 1700.3l1.5 0.5M1207.1 1739.4l0.9 0.1M1210.4 1742.6l-0.7 -0.9M1212.6 1739.3l-0.3 0.9M1210.7 1739.3l1.6 -0.1M1210.8 1738.7l1.9 1M1209.5 1740.6l1.1 -1.1M1213.6 1739l0.7 -0.9M1302.2 1759.3l0.8 -0.8M1298.2 1759.2l1 -1M1300.8 1761.1l-1.3 -1M1302.4 1757.8l-1.6 0.8M1300.1 1756.8l1.2 -0.8M1301.3 1761.2l1.7 -0.5M1419.4 1700.5l-1.2 0.3M1416.9 1699.3l1.9 -0.7M1420.7 1699.2l0.9 -0M1420.8 1701.8l-0.1 1.1M1417 1699.2l0.7 0.1M1418.5 1701l-0.1 -0.1M1420.9 1698.8l1.9 -0.2M1499.7 1758.9l-0.7 0.7M1500.2 1759.5l-1.6 0.7M1500.3 1759.8l1.7 -0.5M1501.3 1760.1l-1.2 -0.8M1498.7 1759.7l0.7 -0.2M1498.3 1759.4l-0.4 -0.7M1559.2 1720.9l-1.1 -0.2M1561.9 1718.8l-0.2 0.7M1560.3 1720.3l1.9 -0M1558.3 1718l1 0.2M1560.9 1719.8l-1.2 -1.1M1561.8 1720.5l0.7 0.2M1558.5 1719.4l-1.4 -0.7M1559.3 1719.3l-0.9 0.9M1697.8 1759.5l-0.7 -1.2M1700.5 1761.1l1.4 -0.2M1699.9 1759.7l-1.4 -1M1700.6 1758.7l2 0.6M1698.6 1761.4l-0.6 0.9M1700.3 1761.6l-2 0.8M1697.6 1761.7l-1.9 -0.8M1702.1 1757.7l-0.5 -0.1M1758.4 1819.8l0.1 -0.1M1759.3 1818.8l-1.1 -0.6M1756.3 1820.2l-1.5 0.8M1759.6 1819l-0.1 0.3M1755.3 1820l1 0M1761.7 1817.5l-0.2 -1.2M1761 1819.6l-0.2 -1.1M1875.5 1800.9l-0.3 -0.8M1878.3 1798.9l0.5 0.3M1880.9 1803.2l-1.4 0.6M1879.6 1799l0 0.9M1882.3 1800.1l0.6 0.4M1878.5 1799.8l1 0.4M1048.9 1859.1l1.5 0.1M1045.7 1859.4l-0.9 -0.6M1051.4 1861.2l-0.8 0.9M1050.9 1859.5l1.9 0.3M1048.7 1861.1l-1.1 -1.2M1227.3 1869.5l-0.9 -0.3M1226.3 1869.9l1.5 -0.4M1228.7 1871.2l2 -1M1233 1873l-1.3 -0.3M1232.1 1869.3l-0.3 0.7M1234.4 1870.2l1.3 0.4M1289.1 1690.8l0.1 0.8M1289.7 1689.1l-1.1 0M1292 1689.5l0.8 -0.3M1291.5 1688.7l0.9 -0.3M1288.6 1689.3l-0.9 0.3M1537.7 1827.4l-0.5 -0.3M1538.8 1830.1l1.9 -0.6M1540.7 1831.1l-1 -0.6M1539.8 1828.8l0.4 0.8M1539 1829.1l1.6 0.8M1538.7 1829l1.1 -1M1640.2 1700.4l-1.5 1M1638.6 1702.4l0.1 0.8M1640.6 1700.2l2 0.3M1641.2 1700.2l1.2 -1.1M1637.7 1697.2l1.3 0.3M1638.7 1701.8l-1.3 0.1M1640.3 1700.3l-1.5 -0.4M1448 1830l-1.2 -0.9M1448.6 1828.5l-1.5 0.5M1446.1 1828.9l-0.5 -0.2M1447.2 1829.9l1.4 0.2M1446.9 1831.1l1.2 0.1M1869.1 1639.5l-0.3 0.2M1868.3 1642.1l1.3 0.1M1872 1638.9l0.4 0.7M1871.4 1639.4l-0.2 0.6M1869 1641.6l-1.3 0.7M1872 1640.5l0.9 -0.7M1870.2 1641.2l-0 -0.5M1869.4 1638.1l-0.4 0.5M1090.7 1770.4l0.4 -0.3M1092.1 1769.3l0.9 0.5M1089 1769.6l-0.3 -0.5M1090.7 1769.2l-0.7 -0.2M1091.5 1769.6l0.6 0.6M1089.1 1769.5l1.2 0.6M1328.9 1851.6l-1.3 -0.6M1331.1 1850.4l0.8 0.6M1328.3 1847.9l-1.6 0M1329.5 1848.3l-0.4 -1M1329 1850.8l1 -0.6M1327.1 1849.8l-1.3 0.2" stroke="#f01818" stroke-width="2.4" stroke-opacity="0.9"/></g>
<g filter="url(#bl1)"><circle cx="1129.6" cy="1692.5" r="2.5" fill="#50a010"/><circle cx="1129.3" cy="1692.2" r="1.8" fill="#d8f020"/><circle cx="1240" cy="1707" r="2.5" fill="#50a010"/><circle cx="1239.8" cy="1706.8" r="1.8" fill="#d8f020"/><circle cx="1126.7" cy="1742.3" r="3.5" fill="#ff8a00"/><circle cx="1126.4" cy="1742" r="2.5" fill="#ffe81a"/><circle cx="1021.4" cy="1790.3" r="4.5" fill="#f06000"/><circle cx="1020.9" cy="1789.8" r="3.2" fill="#ffb020"/><circle cx="986.6" cy="1784.4" r="4" fill="#f06000"/><circle cx="986.2" cy="1784" r="2.9" fill="#ffb020"/><circle cx="923" cy="1772.6" r="4" fill="#f06000"/><circle cx="922.6" cy="1772.2" r="2.9" fill="#ffb020"/><circle cx="1349.3" cy="1755" r="2.8" fill="#ff8a00"/><circle cx="1349" cy="1754.7" r="2" fill="#ffe81a"/><circle cx="1371.4" cy="1783" r="2.8" fill="#ff8a00"/><circle cx="1371.1" cy="1782.7" r="2" fill="#ffe81a"/><circle cx="1402" cy="1812.4" r="3.5" fill="#f06000"/><circle cx="1401.7" cy="1812.1" r="2.5" fill="#ffb020"/><circle cx="1408" cy="1803.6" r="3" fill="#ff8a00"/><circle cx="1407.7" cy="1803.3" r="2.2" fill="#ffe81a"/><circle cx="1396.4" cy="1840.4" r="3.2" fill="#f06000"/><circle cx="1396.1" cy="1840.1" r="2.3" fill="#ffb020"/><circle cx="1361" cy="1827" r="2.5" fill="#ff8a00"/><circle cx="1360.8" cy="1826.8" r="1.8" fill="#ffe81a"/><circle cx="1262.3" cy="1816.3" r="3" fill="#ff8a00"/><circle cx="1262" cy="1816" r="2.2" fill="#ffe81a"/><circle cx="1234.3" cy="1822.8" r="3.5" fill="#f06000"/><circle cx="1234" cy="1822.5" r="2.5" fill="#ffb020"/><circle cx="1148.8" cy="1839" r="3.5" fill="#ff8a00"/><circle cx="1148.5" cy="1838.7" r="2.5" fill="#ffe81a"/><circle cx="1103" cy="1850.8" r="3" fill="#ff8a00"/><circle cx="1102.7" cy="1850.5" r="2.2" fill="#ffe81a"/><circle cx="1268.2" cy="1844" r="3" fill="#ff8a00"/><circle cx="1267.9" cy="1843.7" r="2.2" fill="#ffe81a"/><circle cx="1206" cy="1822" r="2.5" fill="#50a010"/><circle cx="1205.8" cy="1821.8" r="1.8" fill="#d8f020"/><circle cx="1060.4" cy="1818.3" r="2.5" fill="#50a010"/><circle cx="1060.2" cy="1818" r="1.8" fill="#d8f020"/><circle cx="1071.5" cy="1849.3" r="2" fill="#50a010"/><circle cx="1071.3" cy="1849.1" r="1.4" fill="#d8f020"/><circle cx="1038" cy="1710.7" r="2" fill="#ff8a00"/><circle cx="1037.8" cy="1710.5" r="1.4" fill="#ffe81a"/><circle cx="954" cy="1730" r="2" fill="#ff8a00"/><circle cx="953.8" cy="1729.8" r="1.4" fill="#ffe81a"/><circle cx="1088" cy="1731.4" r="2.5" fill="#f06000"/><circle cx="1087.8" cy="1731.2" r="1.8" fill="#ffb020"/><circle cx="1773.4" cy="1675.5" r="3.5" fill="#ff8a00"/><circle cx="1773.1" cy="1675.2" r="2.5" fill="#ffe81a"/><circle cx="1729.7" cy="1695.7" r="3" fill="#ff8a00"/><circle cx="1729.4" cy="1695.4" r="2.2" fill="#ffe81a"/><circle cx="1708.5" cy="1713" r="3.5" fill="#f06000"/><circle cx="1708.2" cy="1712.7" r="2.5" fill="#ffb020"/><circle cx="1817.8" cy="1659" r="3" fill="#ff8a00"/><circle cx="1817.5" cy="1658.7" r="2.2" fill="#ffe81a"/><circle cx="1821" cy="1668" r="3" fill="#ff8a00"/><circle cx="1820.7" cy="1667.7" r="2.2" fill="#ffe81a"/><circle cx="1850" cy="1680.4" r="3.2" fill="#ff8a00"/><circle cx="1849.7" cy="1680.1" r="2.3" fill="#ffe81a"/><circle cx="1901.4" cy="1670.6" r="3.2" fill="#f06000"/><circle cx="1901.1" cy="1670.3" r="2.3" fill="#ffb020"/><circle cx="1744.3" cy="1753" r="2.8" fill="#ff8a00"/><circle cx="1744" cy="1752.7" r="2" fill="#ffe81a"/><circle cx="1901" cy="1769" r="2.8" fill="#ff8a00"/><circle cx="1900.7" cy="1768.7" r="2" fill="#ffe81a"/><circle cx="1690.8" cy="1795.8" r="3" fill="#ff8a00"/><circle cx="1690.5" cy="1795.5" r="2.2" fill="#ffe81a"/><circle cx="1667.8" cy="1829.5" r="3" fill="#ff8a00"/><circle cx="1667.5" cy="1829.2" r="2.2" fill="#ffe81a"/><circle cx="1678.5" cy="1817" r="2.5" fill="#f06000"/><circle cx="1678.2" cy="1816.8" r="1.8" fill="#ffb020"/><circle cx="1566.8" cy="1848.7" r="3" fill="#f06000"/><circle cx="1566.5" cy="1848.4" r="2.2" fill="#ffb020"/><circle cx="1455" cy="1815" r="3.5" fill="#ff8a00"/><circle cx="1454.7" cy="1814.7" r="2.5" fill="#ffe81a"/><circle cx="1546.3" cy="1789" r="3.5" fill="#50a010"/><circle cx="1546" cy="1788.7" r="2.5" fill="#d8f020"/><circle cx="1708.5" cy="1810" r="2" fill="#ff8a00"/><circle cx="1708.3" cy="1809.8" r="1.4" fill="#ffe81a"/><circle cx="1407.7" cy="1803.4" r="3" fill="#ff8a00"/><circle cx="1407.4" cy="1803.1" r="2.2" fill="#ffe81a"/><circle cx="1490.3" cy="1777.4" r="3" fill="#f06000"/><circle cx="1490" cy="1777.1" r="2.2" fill="#ffb020"/><circle cx="1678.5" cy="1753" r="3.5" fill="#f06000"/><circle cx="1678.2" cy="1752.7" r="2.5" fill="#ffb020"/></g>
</g>
<path d="M915.9 1744 H1932.5" stroke="#f5c000" stroke-width="3.6" stroke-dasharray="3.8,3.6"/>
<rect x="1347.2" y="1761.7" width="175.9" height="114.1" fill="none" stroke="#20e020" stroke-width="2" stroke-dasharray="2,2"/>
<rect x="1622" y="1608.6" width="169" height="114.4" fill="none" stroke="#e040e0" stroke-width="2" stroke-dasharray="2,2"/>
<rect x="1791.7" y="1867" width="115.6" height="10.5" fill="#fff"/>
<text x="935" y="1563.3" font-size="22" font-style="italic" fill="#20e020">GFP</text>
<text x="993.4" y="1563.3" font-size="22" font-style="italic" fill="#ff1010">mCherry</text>
<text x="921" y="1634.7" font-size="26" font-weight="bold" font-style="italic" fill="#dcdcdc">Leading</text>
<text x="921" y="1668" font-size="26" font-weight="bold" font-style="italic" fill="#dcdcdc">Position</text>
<text x="921" y="1819" font-size="26" font-weight="bold" font-style="italic" fill="#dcdcdc">Basement</text>
<text x="921" y="1851.6" font-size="26" font-weight="bold" font-style="italic" fill="#dcdcdc">Position</text>
<path d="M1347 1830 L1178 1930" stroke="#20e020" stroke-width="2.2"/>
<path d="M1164.8 1938.2 L1174 1923 L1182 1936 Z" fill="#20e020"/>
<path d="M1695.4 1723 L1662.5 1922" stroke="#f040d0" stroke-width="2.2"/>
<path d="M1660.7 1936 L1654.5 1919 L1669.5 1921.5 Z" fill="#f040d0"/>
<text x="1151.2" y="1964.7" font-size="31" text-anchor="middle" font-weight="bold" font-style="italic" fill="#000">Basement Position</text>
<text x="1684.5" y="1964.7" font-size="31" text-anchor="middle" font-weight="bold" font-style="italic" fill="#000">Leading Position</text>
<rect x="918.4" y="1968.4" width="496.2" height="320.6" fill="#000"/>
<path d="M1106 2175h1M1029 2020h1M1188 2095h1M1329 2089h1M1322 2278h1M1259 2231h1M1328 2137h1M1287 2201h1M1349 2262h1M1313 2275h1M1240 2123h1M1270 2146h1M1021 2008h1M998 2201h1M1102 2193h1M1259 2187h1M1228 1998h1M1372 2060h1M1010 2246h1M1120 2131h1M1308 2230h1M1007 2177h1M1387 2058h1M939 2092h1M1348 2187h1M1228 2000h1M1085 2050h1M1075 2080h1M1386 2195h1M1007 2254h1M1067 2091h1M1362 2128h1M1208 2244h1M1131 2172h1M1184 2077h1M1207 2276h1M1055 2104h1M1062 2178h1M1284 2217h1M1369 2185h1M1262 2148h1M952 2040h1M1034 2144h1M1303 2241h1M1345 2111h1M1094 2021h1M1282 2208h1M1273 2140h1M1206 2167h1M1325 2235h1M1085 2131h1M1272 2221h1M949 2248h1M1120 2193h1M1313 1996h1M1221 2281h1M938 1983h1M1127 2140h1M1303 2111h1M1397 2160h1M1255 2011h1M1331 2183h1M965 2038h1M970 2125h1M1331 2219h1M1048 2050h1M1205 2113h1M1178 2227h1M936 1999h1M1118 2060h1M1105 2274h1M1115 2049h1M1134 2141h1M1113 2092h1M1286 2102h1M1138 2215h1M941 2126h1M1194 2137h1M1236 1975h1M1315 2157h1M1112 2083h1M1214 2006h1M1219 2187h1M1113 1999h1M1240 2260h1M1341 2216h1M1193 2022h1M1294 2265h1M1212 2233h1M1171 2055h1M1343 2234h1M965 2047h1M1157 2217h1M1044 2260h1M1108 2022h1M1299 2218h1M1392 2170h1M1204 2154h1M1344 2271h1M1262 2051h1M1296 2192h1M1380 2106h1M1403 2008h1M1397 2188h1M1052 2118h1M1299 2050h1M1400 2090h1M1096 2015h1M1335 2012h1M996 2282h1M925 2030h1M1350 2127h1M959 2018h1M1200 2222h1M1075 2137h1M1075 1988h1M1155 2055h1M1401 2022h1M1393 1988h1M1254 2079h1M1183 2079h1M1387 2244h1M1145 2156h1M1227 2062h1M1372 2001h1M1165 2277h1M1297 2237h1M1014 2105h1M973 2104h1M996 2250h1M1193 2090h1M1400 2202h1M1374 2154h1M1161 2020h1M1086 2115h1M1128 2053h1M1316 1975h1M1124 2018h1M1220 2060h1M991 2159h1M979 2008h1M1228 2272h1M1343 1976h1M1225 2014h1M1180 2132h1M988 2101h1M1103 2018h1M1283 2270h1M1082 2009h1M1030 2278h1M1035 2105h1M943 2077h1M1146 2278h1M1271 2049h1M1394 2067h1M1306 1991h1M1191 1994h1M1360 2189h1M1178 1998h1M951 1975h1M976 2251h1M1329 2101h1M1309 2221h1M955 2135h1M1314 2235h1M1107 2014h1M993 2087h1M961 2105h1M952 2269h1M1402 2126h1M1292 1976h1M1264 2024h1M1192 2195h1M1349 2191h1M1060 1990h1M950 2191h1M1379 2228h1M1368 1989h1M1286 2257h1M1246 2186h1M1036 2029h1M1338 2176h1M1116 2147h1M1233 2017h1M1145 2116h1M977 2268h1M1023 2183h1M1201 1989h1M1363 2081h1M1024 1976h1M957 2056h1M1252 2109h1M1136 2205h1M1060 2084h1M1196 2032h1M1124 2252h1M1127 1986h1M972 2083h1M1167 2171h1M1208 2084h1M1299 2111h1M961 2269h1M1396 2219h1M1380 2119h1M1266 2224h1M1099 2025h1M1145 2221h1M1194 2136h1M1307 2074h1M1255 2109h1M1120 2205h1M1321 2187h1M1232 2153h1M1358 2055h1M1304 2150h1M988 2110h1M1197 2148h1M1387 2077h1M931 2228h1M1010 2046h1M1131 2182h1M1081 2009h1M1081 2028h1M1020 2228h1M1036 2096h1M1067 2080h1M1390 2230h1M1046 2057h1M1011 2189h1M1334 2065h1M1051 2133h1M1316 2008h1M1014 2143h1M1398 2208h1M1375 2101h1M1044 2275h1M1247 2077h1M1031 1983h1M1292 2117h1M992 2085h1M1005 2280h1M1032 2065h1M970 2180h1M1136 2000h1M1354 2263h1M1063 2121h1M1214 2148h1M1283 1996h1M1239 2099h1M1191 2124h1M1224 2234h1M1334 2003h1M1177 2049h1M1171 2252h1M1110 2109h1M1059 2124h1M1226 2159h1M1310 2239h1M1376 2040h1M1215 2113h1" stroke="#600000" stroke-width="2.2" stroke-opacity="0.5" stroke-linecap="round"/>
<g filter="url(#bl2)"><path d="M986.1 2068.5l-4.3 1.5M986.4 2066.3l3.9 2M991.5 2070l-9 2.4M991.1 2060l8.3 -3.9M963.5 2058.9l8.6 2.7M984.7 2065.7l5.9 4M993.2 2062.7l3.8 2.2M987.7 2063.9l-7 0.4M981.3 2064.1l5.6 0.5M992.7 2067.5l9 -4.1M988.2 2061.3l-6.2 1.1M990.9 2074.2l-6.3 -2.2M964.2 2056.1l0.2 1M963.7 2053.4l1 1.3M966 2053.8l-2.6 1.3M965.6 2055.4l0.9 0.8M962.2 2056.1l-1.8 0.1M960.2 2053.9l2.2 1.1M962.8 2054.8l0.6 -0.5M1166.1 2085.6l-1.7 -0.4M1167.7 2084l-2 0.4M1158 2083l-0.5 -1M1160 2080.8l2.1 0.8M1162.8 2084.4l-0.8 1M1164.8 2080.3l2.6 0.2M1169.5 2084l-1.6 -1M1164.4 2086l-0.7 1.5M1162.4 2084.8l2.2 0.4M1259.8 2168.5l6.3 3.5M1254.4 2169.5l4 -3M1256.6 2159.4l-2.2 1.7M1272.1 2162.7l6.4 -0.7M1268.7 2178l-9.3 -1.2M1253.8 2167.7l-5.1 2M1264.9 2150.9l-8.2 3.5M1269 2171.3l-9.8 -3.1M1263.2 2169.9l-2.5 -3.7M1264.1 2163.8l-6.3 -0.8M1258.4 2170.3l3.4 -2.4M1259.1 2171l-8.5 5.4M1254.4 2163.6l-2.5 -1.3M1252.7 2153.6l-4.5 2.7M1245.2 2161.6l1.3 2.5M1244 2159.9l-3.7 -2M1248 2164.9l0.5 -2.8M1252.5 2167.7l-0.5 -2M1246.9 2154.2l1.2 0.8M1244.7 2164.2l3.9 2M1258.1 2162.1l4.5 -1M1325.1 2108.7l3.3 -0.9M1335.8 2110.5l-3 0.2M1326.7 2110.4l3.2 2M1331.8 2106l-3.3 0.7M1328.1 2107.1l1.9 -1.5M1328.2 2108l-2.7 0.3M1303.3 2127l1 -1M1307.1 2127.4l2.3 0.3M1303.9 2128.2l0.2 1.1M1300.7 2127.8l-1.2 -1M1304.3 2127.9l-0.5 0.2M1304.7 2126.1l-1 1.7M1308.7 2125.2l0.5 -1.2M1371.9 2208.6l-0 -0.3M1369.4 2212.9l1 0.5M1373 2205.9l1.8 -1M1372.8 2214.4l-1.5 1.7M1372 2213.2l-1.9 1.5M1372.2 2208.3l2.2 -0.5M1012.1 2212l-3 0.9M1013.2 2215.4l0.1 1.5M1010.9 2211.3l-0.8 1.4M1003.4 2213.5l-0.5 2M1008.5 2210.5l0.9 -0.9M1008.9 2208.8l-0.3 2M1010.5 2208l2.6 -0.5M1257.9 2217.3l0.1 1.2M1257.4 2216.9l1.9 0.5M1260.7 2215.2l1 -1.6M1259.1 2215.6l-2.4 -0.7M1257.7 2216.4l-1.3 -1.7M1258.4 2219.6l-0.3 -1.1M1153.7 2148.3l1.1 -0.7M1147.6 2150.3l-1.3 0.4M1148.9 2151.5l0.9 -1M1149.4 2149.5l-1.2 -0.8M1151.8 2149.9l-0.2 -0.6M961.2 2001.4l1.7 -1.5M961.3 1998.9l2 0M956 2001l-2 1.7M960.2 1998.5l1.9 -1.2M955.8 1999.3l2.3 -0.6M1298.1 1993.9l-0.2 -0.5M1298.2 1994.1l-1.8 -0.1M1299.6 1994.9l1.1 0.7M1301.6 1996.7l1.5 0.5M1296.9 1994.9l-0.1 -0.5M1101.5 2231.6l-0.8 -0.4M1099.2 2230.7l1.1 -1.2M1101.3 2229.7l-1.5 0.6M1103.4 2230.9l-1.6 0.4M1099.6 2229.6l0.8 -0.4" stroke="#f01818" stroke-width="5.5" stroke-linecap="round" stroke-opacity="0.8"/><circle cx="972.3" cy="2105.3" r="5.5" fill="#1a6a1a"/><circle cx="1094" cy="2038" r="3.5" fill="#1a6a1a"/><circle cx="1205" cy="2038" r="3.5" fill="#1a6a1a"/><circle cx="1236" cy="2036" r="4" fill="#1a6a1a"/><circle cx="1361" cy="2042" r="4" fill="#1a6a1a"/><circle cx="928" cy="2205" r="4" fill="#1a6a1a"/><circle cx="988" cy="2021.7" r="7.7" fill="#ff8a00"/><circle cx="987.2" cy="2020.9" r="5.5" fill="#ffe81a"/><circle cx="1325.8" cy="2006.5" r="6.3" fill="#f06000"/><circle cx="1325.2" cy="2005.9" r="4.5" fill="#ffa018"/><circle cx="1090.2" cy="2077.2" r="6.3" fill="#ff8a00"/><circle cx="1089.6" cy="2076.6" r="4.5" fill="#ffe81a"/><circle cx="1078.2" cy="2106.7" r="9.5" fill="#f06000"/><circle cx="1077.2" cy="2105.8" r="6.8" fill="#ffa018"/><circle cx="1227" cy="2111.6" r="9.8" fill="#ff8a00"/><circle cx="1226" cy="2110.6" r="7.1" fill="#ffe81a"/><circle cx="962.2" cy="2146" r="6" fill="#ff8a00"/><circle cx="961.6" cy="2145.4" r="4.3" fill="#ffe81a"/><circle cx="1060.4" cy="2184.9" r="10.6" fill="#ff8a00"/><circle cx="1059.3" cy="2183.8" r="7.6" fill="#ffe81a"/></g>
<rect x="920.4" y="1970.4" width="492.2" height="316.6" fill="none" stroke="#1ee01e" stroke-width="4.4"/>
<rect x="1450.2" y="1969" width="493.5" height="321" fill="#000"/>
<path d="M1857 2253h1M1600 2071h1M1631 2210h1M1553 2205h1M1899 2050h1M1830 2262h1M1657 2255h1M1461 2080h1M1684 2115h1M1576 2107h1M1539 2274h1M1592 2103h1M1702 2219h1M1599 2264h1M1925 2235h1M1868 2026h1M1629 2024h1M1870 1976h1M1576 2283h1M1837 2247h1M1637 1991h1M1896 2057h1M1632 2236h1M1920 2059h1M1656 2190h1M1602 1976h1M1655 2187h1M1578 2082h1M1861 2077h1M1645 2004h1M1773 2189h1M1703 2283h1M1790 2051h1M1656 2221h1M1721 2218h1M1636 1983h1M1609 2118h1M1886 2280h1M1665 2281h1M1704 1994h1M1565 2167h1M1553 2274h1M1816 2095h1M1591 2067h1M1727 2006h1M1786 2136h1M1507 2134h1M1465 2055h1M1472 2041h1M1810 2148h1M1658 2040h1M1568 2190h1M1508 2100h1M1761 2209h1M1922 2259h1M1699 1977h1M1911 2180h1M1635 2086h1M1641 2268h1M1590 2235h1M1571 1985h1M1827 1985h1M1544 2255h1M1741 2276h1M1526 1990h1M1547 2233h1M1928 1995h1M1577 2035h1M1859 2260h1M1545 2037h1M1591 2163h1M1930 2209h1M1687 2207h1M1516 2179h1M1743 2129h1M1852 2165h1M1542 2128h1M1899 2149h1M1501 2030h1M1762 2199h1M1522 2234h1M1933 2148h1M1633 2274h1M1676 2061h1M1614 1996h1M1596 2055h1M1580 2174h1M1789 2101h1M1901 2174h1M1915 2038h1M1919 2003h1M1830 2159h1M1473 2128h1M1613 2121h1M1525 2214h1M1614 2161h1M1467 2189h1M1457 2037h1M1476 1998h1M1703 2161h1M1569 2053h1M1564 2162h1M1535 2044h1M1911 2247h1M1518 2220h1M1801 2273h1M1711 2030h1M1551 2257h1M1504 2102h1M1473 2160h1M1631 2109h1M1510 2131h1M1539 2152h1M1482 2063h1M1689 2209h1M1898 2169h1M1598 2107h1M1598 2047h1M1532 2078h1M1566 2219h1M1471 2100h1M1544 2010h1M1463 2010h1M1510 1994h1M1925 2050h1M1871 2205h1M1862 2239h1M1584 2232h1M1735 1991h1M1882 2243h1M1594 2149h1M1539 2194h1M1613 2003h1M1827 2158h1M1704 2172h1M1675 2262h1M1798 2041h1M1788 1984h1M1761 2250h1M1725 2081h1M1793 2045h1M1611 2089h1M1652 2046h1M1849 2001h1M1857 2075h1M1856 2106h1M1809 2000h1M1825 2252h1M1581 2146h1M1668 2044h1M1865 2112h1M1806 2201h1M1869 2140h1M1673 2204h1M1842 1996h1M1847 2037h1M1845 1976h1M1868 1979h1M1475 2058h1M1465 2199h1M1628 2176h1M1651 1988h1M1653 2196h1M1855 2266h1M1600 2079h1M1723 1991h1M1816 2276h1M1839 1992h1M1533 2198h1M1557 2277h1M1880 2004h1M1693 2008h1M1685 1979h1M1608 2245h1M1480 2110h1M1658 2019h1M1695 2199h1M1635 2155h1M1805 2188h1M1554 2162h1M1656 2229h1M1688 2047h1M1480 2197h1M1528 2080h1M1863 1977h1M1571 2157h1M1682 2232h1M1874 2192h1M1616 2252h1M1494 2074h1M1622 2161h1M1467 2247h1M1758 2040h1M1774 2008h1M1654 2028h1M1663 1993h1M1616 2183h1M1499 1987h1M1725 2107h1M1931 2147h1M1600 2240h1M1520 2142h1M1727 2114h1M1669 2108h1M1739 2068h1M1660 2005h1M1594 2225h1M1653 2015h1M1631 2217h1M1684 2251h1M1803 2275h1M1825 2205h1M1863 2041h1M1640 2178h1M1896 2162h1M1706 2149h1M1692 1995h1M1627 2041h1M1904 2269h1M1683 2033h1M1721 2228h1M1761 2146h1M1912 2088h1M1841 2242h1M1566 2228h1M1740 2133h1M1662 2096h1M1905 1985h1M1649 1987h1M1746 2278h1M1640 2161h1M1824 1984h1M1935 2206h1M1863 2077h1M1922 2028h1M1841 2155h1M1488 2120h1M1835 2096h1M1478 2061h1M1607 2236h1M1613 2099h1M1570 2236h1M1899 2034h1M1734 2274h1M1935 1997h1M1927 2183h1M1557 2249h1M1522 2103h1M1703 2236h1M1764 2150h1M1733 2039h1M1932 2218h1M1627 2137h1M1869 2081h1M1935 2267h1M1791 1987h1M1726 2244h1M1524 2176h1M1797 2168h1M1888 2119h1" stroke="#600000" stroke-width="2.2" stroke-opacity="0.5" stroke-linecap="round"/>
<g filter="url(#bl2)"><path d="M1548 2074.3l3.6 1.6M1556.4 2066.9l7.4 -4.6M1551.2 2062.4l8.5 5.3M1564.2 2059.6l8.2 -0.8M1565.2 2051l-2.6 -2.2M1562.2 2066.7l7.7 1.7M1548.8 2065.8l4.4 2.4M1560.1 2071.6l2.1 3.4M1564.8 2065.3l5.8 -4.4M1562.6 2073.5l0.8 -2.5M1571.9 2067.5l8.4 4.3M1567.3 2129.9l-1 1.3M1567.5 2131.2l-3.6 -1.4M1559.6 2130.6l-1.8 -2.3M1566.9 2124.4l0.5 2.4M1575.2 2127.2l-0.4 -0.3M1566.4 2125.8l-0.2 1.8M1570.9 2128.6l-0.5 -2.2M1567.2 2126.5l-4.1 -0.4M1570.5 2128.4l3.6 2.4M1517.5 2148l-5.3 1.7M1534.4 2149.4l7 -3.9M1512.9 2149.6l-1 2.7M1514.2 2144l-1.9 -1.4M1521.6 2147.8l4.1 -1.7M1517.3 2151.7l-4.4 -4M1522.4 2154.3l0.1 2.9M1528.8 2148l-3.9 -4.1M1517.5 2154.3l-2.1 1.9M1732.1 2135.7l-1.3 0.4M1730.6 2134.8l-2.1 1.4M1723.8 2132.4l2.6 1M1723.7 2133.5l-0.1 0.4M1731.2 2138.2l-0.8 1.4M1731 2130.3l1.2 1.2M1725.7 2131.8l2.5 -2.5M1726.7 2132.8l1.7 -0.8M1560.2 2278.1l3.6 -3.1M1564.1 2270.1l-2.5 0.5M1566.9 2271.5l-4.4 -0.7M1567 2270.5l-3.4 -1.2M1573.8 2270.1l3.1 1.7M1569.7 2270.6l2.5 1.6M1560.5 2260l-4.3 -2M1492.8 2263.6l-4.5 1.5M1491.3 2262.6l-1.4 0.1M1492.4 2262l0.6 0.6M1494.1 2263.3l4.7 0.5M1496.7 2263.1l-3.6 2.8M1501.1 2265.5l2.9 -3.3M1503.5 2259.3l4 -2.3M1503.4 2267.1l4.3 1M1504 2259.1l-1.1 -0.3M1657 2196.1l-3.3 -0.1M1657.8 2193.2l-3 -0.2M1659.6 2189.2l-2.1 -1.9M1653.2 2189.7l-3.3 1.9M1655.1 2194l2.4 -0.7M1658.1 2193.9l3 -2M1655.7 2195.5l0.3 -0.8M1668.1 2190.9l0.1 -0.2M1674.1 2190.9l-1.2 -1.3M1671.4 2193.5l-0.3 1.1M1673 2191.6l1.6 -1.4M1674.5 2187.9l-2 0.1M1670.6 2188.8l2.5 0.3M1667.7 2188.9l2.9 -1.8M1670.1 2194.2l0 1.1M1675.4 2191l-1.3 0.4M1713.9 2160.3l2.8 0.9M1708.2 2161.5l-3 1.5M1713.9 2158.6l-0.7 -1.6M1712.4 2162.6l1.8 -1.4M1705.9 2161.2l2 1M1710.4 2160.8l0.2 0.6M1712.6 2160.3l-0.9 0.6M1834.7 2099.2l0.7 -1.7M1837.9 2102.1l2.2 -2M1838.1 2094.9l-2 0.6M1841.5 2100.6l0.4 -0.4M1844.9 2098.3l-0.7 -0.4M1841.5 2100.3l0.7 -0.9M1837.9 2097.6l-3.5 -1.7M1841.3 2096l1.2 1.4M1846.6 2096.8l-1.7 -1.8M1473.5 2230.3l-1.1 1.1M1464.8 2233.5l1.3 -1.1M1459.3 2237.1l1.1 1.3M1469.7 2232.6l-1.3 0.2M1468.6 2237.1l-1.8 -0.6M1467.2 2233.6l-3.1 1.7M1467.2 2234.2l-3.2 -1.5M1468.5 2231.3l-2.1 0.5M1923.3 2180.8l-5.5 1.3M1919.2 2183l-2.6 0.6M1928.3 2187.6l-5.4 1M1911 2176l-3 -1.3M1914.5 2188.4l-5.7 -1.4M1928 2172.5l-1.9 3.8M1909.2 2184.7l-3.7 3.2M1933.7 2184.5l-0.9 0.5M1915.5 2188.8l0.8 -1.9M1743.3 2109.2l0.6 -0.8M1741.6 2109.6l-1.1 -1.2M1740.7 2108.2l-0.1 -0.1M1741.9 2112.8l-0.1 0.9M1741 2107l-2.8 -1.6M1583.1 2119.9l-0.6 1.5M1592.2 2122.2l0.1 0.3M1588.6 2118.4l-0.3 1.6M1588.3 2120.8l-1.4 -0.1M1585.8 2121.4l-2.3 -1M1591.6 2121.7l1.2 -1.2M1590.1 2119.2l2.6 1.5M1523.2 2186.8l1.9 -0M1516.7 2186.8l-2.2 0.8M1516.7 2188.9l-1.2 -0.9M1525.9 2184.6l0.7 -0.6M1518.2 2185.8l0.8 0.2M1526.9 2184.9l0.4 -0.1M1519.3 2187.4l-0.3 -1.1M1516 2181.9l-2.4 -1.4M1518.6 2188.9l2 0.1M1841.1 2231.7l-0.5 -0.6M1843.1 2230.2l2.6 1.1M1845 2229.3l0.9 -1.6M1847.8 2230.6l-0.2 1M1844.7 2231.8l-0.6 1.6" stroke="#f01818" stroke-width="5.5" stroke-linecap="round" stroke-opacity="0.8"/><circle cx="1895.9" cy="2154.5" r="10" fill="#ff8a00"/><circle cx="1894.9" cy="2153.5" r="7.2" fill="#ffe81a"/><circle cx="1770.5" cy="2211.2" r="7.7" fill="#40a010"/><circle cx="1769.7" cy="2210.4" r="5.5" fill="#f0f020"/><circle cx="1709.8" cy="2262.7" r="9.2" fill="#f06000"/><circle cx="1708.9" cy="2261.8" r="6.6" fill="#ffa018"/><circle cx="1870" cy="2092.4" r="5" fill="#c03000"/><circle cx="1869.5" cy="2091.9" r="3.6" fill="#e07010"/></g>
<rect x="1452.2" y="1971" width="489.5" height="317" fill="none" stroke="#f03ccd" stroke-width="4.4"/>
<text x="934" y="2258" font-size="22" font-style="italic" fill="#20e020">GFP</text>
<text x="992" y="2258" font-size="22" font-style="italic" fill="#ff1010">mCherry</text>
<rect x="1833" y="2257" width="80.6" height="10.6" fill="#fff"/>
<text x="10" y="2115" font-size="56" font-weight="bold" fill="#000">F</text>
<rect x="349.6" y="2061.7" width="188.4" height="72.6" fill="#f8668f" stroke="#6b6b6b" stroke-width="1.5"/>
<rect x="349.6" y="2172" width="85.6" height="72.5" fill="#00c000" stroke="#6b6b6b" stroke-width="1.5"/>
<path d="M440.1 2097.5 H637.9 M440.1 2090 V2105 M637.9 2090 V2105" stroke="#aaa" stroke-width="1.2" fill="none"/>
<path d="M423.1 2208.5 H449.5 M449.5 2201 V2216" stroke="#aaa" stroke-width="1.2" fill="none"/>
<circle cx="440.1" cy="2097.5" r="3.3" fill="#000"/>
<circle cx="451.4" cy="2097.5" r="3.3" fill="#000"/>
<circle cx="456.3" cy="2097.5" r="3.3" fill="#000"/>
<circle cx="469.5" cy="2097.5" r="3.3" fill="#000"/>
<circle cx="553.1" cy="2097.5" r="3.3" fill="#000"/>
<circle cx="610.8" cy="2097.5" r="3.3" fill="#000"/>
<circle cx="639.8" cy="2097.5" r="3.3" fill="#000"/>
<circle cx="696.3" cy="2097.5" r="3.3" fill="#000"/>
<rect x="413.9" y="2194.5" width="7" height="7" fill="#000"/>
<rect x="413.9" y="2214.5" width="7" height="7" fill="#000"/>
<rect x="427.1" y="2204.5" width="7" height="7" fill="#000"/>
<rect x="438.4" y="2204.5" width="7" height="7" fill="#000"/>
<rect x="444.1" y="2204.5" width="7" height="7" fill="#000"/>
<rect x="453.5" y="2204.5" width="7" height="7" fill="#000"/>
<rect x="438.4" y="2214.5" width="7" height="7" fill="#000"/>
<rect x="444.1" y="2214.5" width="7" height="7" fill="#000"/>
<path d="M349.6 2023 V2283.5 H727.5" stroke="#000" stroke-width="3" fill="none"/>
<path d="M349.6 2283 v9M387.3 2283 v5M425 2283 v9M462.7 2283 v5M500.4 2283 v9M538 2283 v5M575.7 2283 v9M613.4 2283 v5M651.1 2283 v9M688.8 2283 v5M726.5 2283 v9" stroke="#000" stroke-width="2.5"/>
<path d="M341.6 2097.5 H349.6 M341.6 2208.5 H349.6" stroke="#000" stroke-width="3"/>
<text x="349.6" y="2319" font-size="30.5" text-anchor="middle" font-weight="bold" fill="#000">0</text>
<text x="425" y="2319" font-size="30.5" text-anchor="middle" font-weight="bold" fill="#000">2</text>
<text x="500.4" y="2319" font-size="30.5" text-anchor="middle" font-weight="bold" fill="#000">4</text>
<text x="575.7" y="2319" font-size="30.5" text-anchor="middle" font-weight="bold" fill="#000">6</text>
<text x="651.1" y="2319" font-size="30.5" text-anchor="middle" font-weight="bold" fill="#000">8</text>
<text x="726.5" y="2319" font-size="30.5" text-anchor="middle" font-weight="bold" fill="#000">10</text>
<text x="340.5" y="2108.3" font-size="28.9" text-anchor="end" font-weight="bold" fill="#000">Leading Position</text>
<text x="340.5" y="2218" font-size="28.9" text-anchor="end" font-weight="bold" fill="#000">Basement Position</text>
<text x="528.7" y="2353" font-size="30.7" text-anchor="middle" font-weight="bold" font-style="italic">mCherry/GFP Signal Ratio</text>
<path d="M750.8 2092 V2230" stroke="#000" stroke-width="2"/>
<text x="792" y="2178" font-size="42" text-anchor="middle" font-weight="bold" fill="#000">*</text>
</svg></body></html>
